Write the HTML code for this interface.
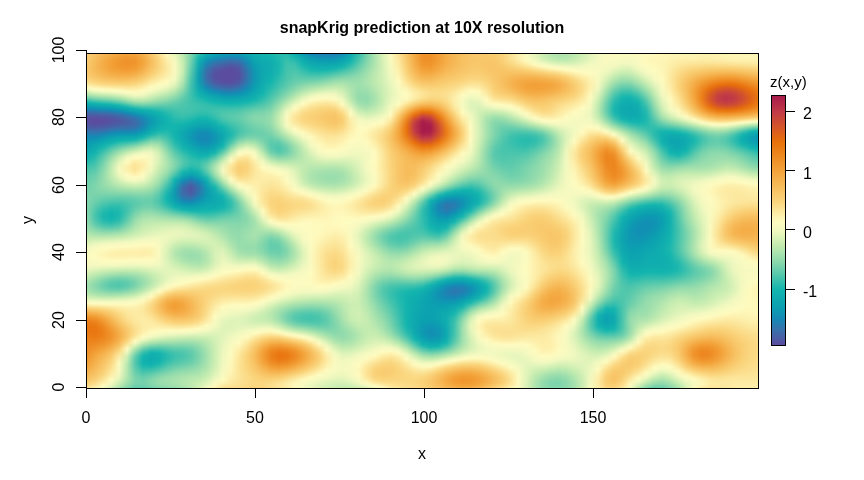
<!DOCTYPE html>
<html><head><meta charset="utf-8"><title>snapKrig prediction at 10X resolution</title>
<style>
html,body{margin:0;padding:0;background:#fff}
body{width:864px;height:480px;position:relative;overflow:hidden;font-family:"Liberation Sans",sans-serif;color:#000}
.a{position:absolute}
#heat{position:absolute;left:87px;top:54px;width:671px;height:334px;overflow:hidden}
#heat i{display:block;width:671px}
.box{position:absolute;left:86px;top:53px;width:671px;height:334px;border:1px solid #000}
.ln{position:absolute;background:#000}
.t{position:absolute;white-space:nowrap;line-height:1}
.yl{transform:rotate(-90deg);transform-origin:0 0}
#cb{position:absolute;left:771px;top:95px;width:13px;height:249px;border:1px solid #000}
</style></head><body>
<div class="t" id="title" style="left:0;width:844px;text-align:center;top:20px;font-weight:bold;font-size:16px">snapKrig prediction at 10X resolution</div>
<div id="heat">
<i style="height:1px;background:linear-gradient(90deg,#fad076,#f8c365,#f6b755,#f5ad48,#f3a63e,#f3a138,#f3a43b,#f5b14d,#f8c669,#fbdf90,#fefabe,#e7f6bc,#bbe8af,#7ed4ac,#2ebdad,#0fabaf,#0ca2b0,#0d9cb1,#0f98b2,#0d9bb1,#0da4b0,#10adaf,#12b3ae,#18b7ae,#28bbad,#29bbad,#11b0ae,#0c9eb0,#148ab5,#1d83b3,#2180b1,#2081b2,#1290b3,#0ea9af,#34bead,#77d3ac,#ade4ae,#dbf2b8,#fbfac0,#fce396,#f8c76a,#f4ab44,#f0942c,#ef922a,#f2a037,#f5af49,#f6b957,#f7c162,#f8c669,#f9c96c,#f9ca6e,#f9cd72,#fad47c,#fbe091,#fdefab,#fbfac0,#eaf6bd,#d0efb4,#bbe9af,#b0e5ae,#b2e6ae,#bfeaaf,#cfefb4,#e1f4ba,#f2f9c0,#f8fac0,#fafac0,#f8fac0,#f8fac0,#fbfac0,#fefabf,#fef9bc,#fef8ba,#fef6b7,#fdf4b4,#fdf3b2,#fdf3b2,#fdf2af,#fdf0ad,#fdf1af,#fdf3b2,#fdf4b4,#fdf4b4,#fdf4b3,#fdf4b4)"></i>
<i style="height:1px;background:linear-gradient(90deg,#f9cf75,#f8c264,#f6b653,#f4ab45,#f3a33a,#f29d35,#f2a037,#f5ae48,#f8c466,#fbdd8c,#fef7ba,#ebf7bd,#bde9af,#7cd4ac,#26bbad,#0ea8af,#0c9eb1,#0f96b2,#1191b3,#1094b3,#0ca2b0,#10acaf,#12b2ae,#13b5ae,#25baad,#2dbcad,#12b3ae,#0ca2b0,#128fb4,#1688b5,#1b85b3,#1a86b4,#1094b3,#0faaaf,#36bfad,#78d3ac,#ace4ae,#daf2b7,#fbfac0,#fce498,#f8c76b,#f4aa44,#f0932b,#ef9129,#f29f36,#f5ae49,#f6b957,#f7c061,#f8c669,#f8c86c,#f9c96d,#f9cc70,#fad37b,#fbe192,#fdf0ac,#fafac0,#e9f6bd,#cfefb3,#bae8af,#afe5ae,#b1e5ae,#beeaaf,#cfefb4,#e1f4ba,#f3f9c0,#f8fac0,#fafac0,#f8fac0,#f8fac0,#fbfbc0,#fefabd,#fef8ba,#fef7b9,#fdf5b6,#fdf3b3,#fdf3b1,#fdf2b1,#fdf1af,#fdf1ae,#fdf2af,#fdf4b3,#fdf5b5,#fdf5b5,#fdf4b5,#fdf5b5)"></i>
<i style="height:1px;background:linear-gradient(90deg,#f9cf74,#f7c162,#f5b451,#f4a942,#f2a037,#f19a32,#f29d34,#f4ab45,#f8c263,#fbdb88,#fdf5b6,#eef8be,#bfeab0,#7bd4ac,#1fb8ae,#0da5b0,#0f98b2,#1290b3,#148bb5,#138eb4,#0c9eb0,#0faaaf,#11b0ae,#12b3ae,#22b9ae,#30bdad,#13b5ae,#0da4b0,#1094b3,#148cb4,#158ab5,#148ab5,#0f97b2,#0facaf,#39c0ad,#78d3ac,#ace3ae,#d9f2b7,#fafac0,#fce599,#f8c86b,#f4ab44,#f0932b,#ef9028,#f29e36,#f5ad48,#f6b856,#f7c061,#f8c668,#f8c86b,#f8c86b,#f9cb6f,#fad37a,#fbe192,#fdf0ad,#fafac0,#e9f6bd,#cfefb4,#bbe9af,#b0e5ae,#b2e6ae,#bfeab0,#d0efb4,#e2f4ba,#f3f9c0,#f8fac0,#fafac0,#f8fac0,#f8fac0,#fbfbc0,#fef9bc,#fef7b9,#fef7b8,#fdf5b5,#fdf2b1,#fdf2b0,#fdf2b0,#fdf1ae,#fdf0ad,#fdf1af,#fdf4b3,#fdf5b5,#fdf5b5,#fdf5b5,#fdf5b6)"></i>
<i style="height:1px;background:linear-gradient(90deg,#f9ce73,#f7c061,#f5b24f,#f4a73f,#f29d35,#f1972f,#f19a31,#f4a942,#f7c061,#fbd985,#fdf3b2,#f1f9bf,#c1ebb0,#7ad3ac,#17b6ae,#0ca1b0,#1192b3,#148ab5,#1b84b3,#1688b5,#0d9ab1,#0ea9af,#11afaf,#12b2ae,#20b9ae,#32bead,#18b6ae,#0ea7af,#0f98b2,#1291b3,#138eb4,#138eb4,#0d9bb1,#10adaf,#3cc1ad,#79d3ac,#ace3ae,#d8f1b7,#fafac0,#fce59a,#f8c86c,#f4ab44,#ef932a,#ef9028,#f29e35,#f4ad48,#f6b856,#f7c061,#f8c668,#f8c86b,#f8c76a,#f9ca6e,#fad279,#fbe091,#fdf0ac,#fbfac0,#ebf7bd,#d1f0b4,#bde9af,#b2e6ae,#b4e6af,#c1ebb0,#d1efb4,#e3f4ba,#f3f9c0,#f9fac0,#fafac0,#f7fac0,#f7fac0,#fbfbc0,#fef9bc,#fef7b8,#fef6b8,#fdf4b4,#fdf2af,#fdf1ae,#fdf1ae,#fdf0ad,#fdf0ac,#fdf1ae,#fdf3b2,#fdf4b4,#fdf5b5,#fdf5b5,#fdf5b6)"></i>
<i style="height:1px;background:linear-gradient(90deg,#f9cd72,#f7bf5f,#f5b14d,#f3a53d,#f19b33,#f0952d,#f1982f,#f4a740,#f7bf5f,#fad782,#fdf1af,#f3f9c0,#c3ebb0,#78d3ac,#13b4ae,#0c9db1,#138db4,#1b85b3,#257eb0,#1f82b2,#0f96b2,#0ea8af,#10aeaf,#11b1ae,#1eb8ae,#35bfad,#1eb8ae,#0fa9af,#0d9cb1,#1095b2,#1192b3,#1193b3,#0b9fb0,#11afaf,#40c2ad,#7bd4ac,#ace3ae,#d8f1b7,#f9fac0,#fce69c,#f9c96d,#f4ab45,#ef922a,#ef8f28,#f29e35,#f4ad48,#f6b856,#f7c061,#f8c668,#f8c86b,#f8c769,#f9c96c,#fad178,#fbdf90,#fdefaa,#fcfbc0,#eef8be,#d5f0b5,#c1ebb0,#b6e7af,#b7e7af,#c3ebb0,#d3f0b5,#e4f5bb,#f4f9c0,#f9fac0,#f9fac0,#f7fac0,#f7fac0,#fbfac0,#fef8bb,#fef6b8,#fdf6b7,#fdf3b3,#fdf1ae,#fdefac,#fdefac,#fdefab,#fdeeaa,#fdf0ac,#fdf2b0,#fdf3b2,#fdf4b3,#fdf4b3,#fdf5b5)"></i>
<i style="height:1px;background:linear-gradient(90deg,#f9cc71,#f7be5e,#f5b04b,#f3a43b,#f19a31,#f0942c,#f0962e,#f3a63e,#f7be5e,#fad67f,#fdf0ac,#f5f9c0,#c5ecb0,#76d2ac,#12b2ae,#0e98b2,#1787b4,#247fb1,#2d78ae,#277db0,#1193b3,#0da6af,#10adaf,#11b0af,#1cb8ae,#37bfad,#24baad,#0fabaf,#0ba0b0,#0e99b2,#0f96b2,#0f97b2,#0ca2b0,#11b1ae,#44c3ad,#7cd4ac,#ace3ae,#d7f1b6,#f9fac0,#fce79d,#f9ca6d,#f4ab45,#ef932b,#ef9028,#f29e35,#f4ad48,#f6b856,#f7c061,#f8c669,#f8c76b,#f8c669,#f8c86b,#fad177,#fbde8e,#fdeda8,#fdfbc0,#f2f9c0,#d9f2b7,#c6ecb0,#bbe9af,#bce9af,#c7ecb1,#d6f1b6,#e6f5bb,#f4f9c0,#f9fac0,#f9fac0,#f6fac0,#f6fac0,#fbfac0,#fef8bb,#fef6b8,#fdf6b6,#fdf3b1,#fdefac,#fdeea9,#fdeea9,#fdeda8,#fdeda7,#fdeea9,#fdf0ad,#fdf2b0,#fdf2b0,#fdf2b1,#fdf3b3)"></i>
<i style="height:1px;background:linear-gradient(90deg,#f9cb70,#f7bd5d,#f5af4a,#f3a33a,#f19830,#ef922a,#f0952d,#f3a53d,#f7bd5d,#fad57e,#fdeeaa,#f6f9c0,#c6ecb0,#75d2ac,#11b0ae,#1094b3,#1f82b2,#2c79ae,#3672ab,#2f77ad,#128fb4,#0da5b0,#0facaf,#11afaf,#1bb7ae,#38c0ad,#29bbad,#10aeaf,#0ca3b0,#0c9db1,#0e9ab1,#0d9cb1,#0da4b0,#12b3ae,#48c4ac,#7ed5ac,#ace4ae,#d7f1b6,#f9fac0,#fce89e,#f9ca6e,#f4ac46,#f0932b,#ef9028,#f29e36,#f5ae48,#f6b856,#f7c061,#f8c669,#f8c76b,#f8c668,#f8c76a,#fad075,#fbdd8c,#fceba5,#fefabe,#f5f9c0,#dff3b9,#cceeb2,#c1ebb0,#c1ebb0,#cbeeb2,#d8f1b7,#e8f6bc,#f5f9c0,#f9fac0,#f8fac0,#f5f9c0,#f5f9c0,#fafac0,#fef9bc,#fef6b7,#fdf5b6,#fdf2b0,#fdeeaa,#fdeca6,#fceca6,#fceba4,#fceba3,#fceca5,#fdeea9,#fdefac,#fdf0ad,#fdf1ae,#fdf2b0)"></i>
<i style="height:1px;background:linear-gradient(90deg,#f9cb6f,#f7bc5c,#f5ae49,#f3a239,#f1982f,#ef922a,#f0952d,#f3a53d,#f7bd5c,#fad47c,#fdeda7,#f6fac0,#c7edb1,#73d1ac,#11afaf,#1290b4,#277cb0,#3374ac,#3d6ca9,#3672ab,#148cb4,#0ca4b0,#0fabaf,#10aeaf,#1ab7ae,#3ac0ad,#2ebdad,#11b0af,#0da5b0,#0ba0b0,#0c9eb0,#0ba0b0,#0ea7af,#13b5ae,#4cc6ac,#81d5ac,#ade4ae,#d6f1b6,#f8fac0,#fce9a0,#f9cb6f,#f4ac47,#f0942c,#ef9129,#f29f36,#f5ae49,#f6b856,#f7c061,#f8c669,#f8c76b,#f8c568,#f8c769,#f9cf74,#fbdb89,#fce9a1,#fef7b9,#f7fac0,#e5f5bb,#d3f0b5,#c8edb1,#c7edb1,#cfefb4,#dcf2b8,#eaf7bd,#f5f9c0,#f8fac0,#f8fac0,#f4f9c0,#f4f9c0,#fafac0,#fef9bd,#fef6b8,#fdf5b6,#fdf1af,#fdeda7,#fceba3,#fceaa2,#fce9a0,#fce89f,#fce9a1,#fceba4,#fdeda7,#fdeea9,#fdefaa,#fdf0ac)"></i>
<i style="height:1px;background:linear-gradient(90deg,#f9ca6e,#f7bc5b,#f5ad48,#f3a138,#f0972f,#ef922a,#f0952d,#f3a53d,#f7bd5c,#fad47b,#fceca5,#f7fac0,#c8edb1,#71d1ac,#10adaf,#148bb4,#2e77ad,#3a6faa,#4266a7,#3c6da9,#1589b5,#0ca3b0,#0faaaf,#10adaf,#19b7ae,#3cc1ad,#33bead,#12b1ae,#0ea7af,#0ca3b0,#0ca2b0,#0ca3b0,#0faaaf,#19b7ae,#51c7ac,#83d6ac,#ade4ae,#d6f1b6,#f8fac0,#fce9a1,#f9cb70,#f4ad48,#f0952d,#ef922a,#f2a037,#f5af49,#f6b957,#f7c161,#f8c669,#f8c86b,#f8c568,#f8c669,#f9ce73,#fbda85,#fce69c,#fdf4b3,#f9fac0,#edf7be,#dbf2b8,#d0efb4,#ceefb3,#d4f0b5,#dff3b9,#edf7be,#f5f9c0,#f8fac0,#f7fac0,#f3f9c0,#f3f9c0,#f9fac0,#fefabe,#fef7b8,#fdf5b5,#fdf1ae,#fceca5,#fce9a0,#fce79e,#fce69c,#fce69a,#fce69c,#fce89e,#fce9a1,#fceba3,#fceca6,#fdeda8)"></i>
<i style="height:1px;background:linear-gradient(90deg,#f9c96d,#f7bb5a,#f4ad47,#f3a138,#f0972f,#ef922a,#f0952d,#f3a63d,#f7bd5d,#fad47b,#fceba4,#f8fac0,#c9edb1,#6fd0ac,#0fabaf,#1787b4,#3572ab,#3f69a8,#4761a6,#4068a8,#1a86b4,#0ca2b0,#0fa9af,#10adaf,#18b6ae,#3dc1ad,#37bfad,#12b3ae,#0fa9af,#0da5b0,#0da4b0,#0da6af,#10acaf,#20b9ae,#56c8ac,#85d7ac,#aee4ae,#d5f1b6,#f7fac0,#fceaa3,#f9cc71,#f5ae49,#f0962e,#f0932b,#f3a138,#f5af4a,#f6b958,#f7c162,#f8c769,#f8c86b,#f8c568,#f8c668,#f9cd72,#fad782,#fce397,#fdf0ac,#fcfbc0,#f4f9c0,#e3f5bb,#d8f1b7,#d5f1b6,#daf2b7,#e3f5bb,#eff8bf,#f6f9c0,#f8fac0,#f6fac0,#f0f8bf,#f1f8bf,#f8fac0,#fefbbf,#fef7b9,#fdf5b5,#fdf0ad,#fceaa3,#fce79d,#fce599,#fce397,#fce295,#fce396,#fce498,#fce69b,#fce79e,#fce9a0,#fceba3)"></i>
<i style="height:1px;background:linear-gradient(90deg,#f8c96c,#f6bb5a,#f4ad47,#f3a138,#f0972f,#ef922a,#f0962e,#f3a63e,#f7be5d,#fad37b,#fceaa3,#f8fac0,#caedb2,#6dcfac,#0faaaf,#1d83b3,#3b6eaa,#4464a7,#4c5ca4,#4564a6,#1e83b2,#0ba1b0,#0ea9af,#10adaf,#18b6ae,#3ec1ad,#3ac0ad,#13b5ae,#0facaf,#0ea8af,#0ea7af,#0ea9af,#11afaf,#28bbad,#5acaac,#88d8ac,#afe5ae,#d5f1b6,#f7fac0,#fceba4,#f9cd72,#f5af4a,#f0972f,#f0942c,#f3a239,#f5b04c,#f6ba58,#f7c162,#f8c76a,#f8c86b,#f8c568,#f8c568,#f9cc70,#fad57e,#fbe091,#fceca5,#fef9bc,#f7fac0,#edf7be,#e1f4ba,#ddf3b8,#e0f4b9,#e8f6bc,#f2f9c0,#f6fac0,#f7fac0,#f5f9c0,#edf7be,#edf7be,#f7fac0,#fefbc0,#fef7ba,#fdf5b5,#fdefac,#fce9a0,#fce599,#fce295,#fbe091,#fbdf8f,#fbdf8f,#fbe091,#fbe294,#fce497,#fce69a,#fce89e)"></i>
<i style="height:1px;background:linear-gradient(90deg,#f8c86c,#f6ba59,#f4ad47,#f3a138,#f19830,#f0932b,#f0972f,#f4a740,#f7be5f,#fad47b,#fceaa2,#f9fac0,#caedb2,#6bcfac,#0ea8af,#237fb1,#3f69a8,#4860a5,#5058a3,#495fa5,#2280b1,#0b9fb0,#0ea8af,#10acaf,#18b6ae,#3fc2ad,#3ec1ad,#19b7ae,#10aeaf,#0faaaf,#0fa9af,#0facaf,#12b2ae,#30bdad,#5fcbac,#8bd9ac,#b0e5ae,#d5f0b6,#f6fac0,#fceca6,#f9cd73,#f5b04b,#f19930,#f0962e,#f3a43b,#f5b14d,#f6ba59,#f7c263,#f8c76a,#f8c86c,#f8c568,#f8c567,#f9cb6f,#fad37a,#fbdd8b,#fce79d,#fdf3b2,#fbfac0,#f5f9c0,#ebf7bd,#e6f5bb,#e6f5bc,#ecf7be,#f4f9c0,#f6fac0,#f7fac0,#f4f9c0,#e9f6bd,#eaf6bd,#f6fac0,#fdfbc0,#fef8bb,#fdf5b5,#fdefaa,#fce89e,#fce295,#fbdf8f,#fbdd8b,#fbdb88,#fbdb88,#fbdc89,#fbdd8c,#fbdf90,#fbe294,#fce498)"></i>
<i style="height:1px;background:linear-gradient(90deg,#f8c86b,#f6ba59,#f4ad47,#f3a239,#f19930,#f0952c,#f19930,#f4a942,#f7bf60,#fad47c,#fce9a1,#f9fac0,#caedb2,#69ceac,#0ea7af,#287caf,#4365a7,#4c5ba4,#5454a1,#4c5ca4,#257db0,#0c9eb0,#0ea8af,#10acaf,#18b6ae,#40c2ad,#41c2ad,#1fb8ae,#11b0ae,#10acaf,#10acaf,#11aeaf,#13b5ae,#38c0ad,#64cdac,#8ed9ac,#b1e5ae,#d5f0b5,#f6fac0,#fdeda7,#f9ce74,#f5b14d,#f19b32,#f1982f,#f3a53d,#f5b24e,#f7bb5a,#f8c264,#f8c86b,#f8c96c,#f8c668,#f8c567,#f9c96d,#fad177,#fbd984,#fce295,#fdeea9,#fef9bd,#f9fac0,#f4f9c0,#eff8be,#edf7be,#f1f8bf,#f5f9c0,#f7fac0,#f6fac0,#f1f8bf,#e6f5bb,#e6f5bc,#f5f9c0,#fcfbc0,#fef9bc,#fdf5b6,#fdeea9,#fce69b,#fbe091,#fbdc8a,#fbd985,#fad781,#fad680,#fad781,#fbd884,#fbdb88,#fbde8d,#fbe091)"></i>
<i style="height:1px;background:linear-gradient(90deg,#f8c86b,#f6ba59,#f5ad48,#f3a239,#f19a32,#f0962e,#f19b32,#f4ab44,#f7c162,#fad57d,#fce9a1,#fafac0,#caedb2,#67cdac,#0da6af,#2c79ae,#4761a6,#5058a3,#5750a0,#4f59a3,#297baf,#0c9db1,#0ea7af,#10acaf,#18b6ae,#41c2ad,#44c3ad,#24baad,#12b2ae,#11afaf,#11afaf,#12b1ae,#1db8ae,#40c2ad,#69ceac,#91daac,#b3e6af,#d4f0b5,#f5f9c0,#fdeea8,#f9cf75,#f5b24e,#f29c34,#f19a31,#f4a73f,#f5b450,#f7bc5b,#f8c365,#f8c86c,#f9c96d,#f8c669,#f8c567,#f8c86c,#f9ce74,#fad57e,#fbdd8c,#fce89e,#fdf3b2,#fdfbc0,#f8fac0,#f5f9c0,#f3f9c0,#f4f9c0,#f6fac0,#f7fac0,#f5f9c0,#eef7be,#e1f4ba,#e2f4ba,#f3f9c0,#fbfac0,#fefabe,#fdf5b6,#fdeda8,#fce599,#fbde8d,#fbd985,#fad57e,#fad37a,#fad278,#fad278,#fad37b,#fad67f,#fbd985,#fbdc8a)"></i>
<i style="height:1px;background:linear-gradient(90deg,#f8c76b,#f6bb59,#f5ae49,#f3a43b,#f19c33,#f19830,#f29d34,#f4ad47,#f8c264,#fad67f,#fce9a1,#fafac0,#caedb2,#65cdac,#0da5b0,#3076ad,#4b5da4,#5354a2,#5a4d9f,#5256a2,#2c79ae,#0d9cb1,#0ea7af,#10acaf,#19b7ae,#42c3ad,#46c4ac,#2abcad,#13b4ae,#11b1ae,#12b1ae,#13b4ae,#27bbad,#48c4ac,#6dcfac,#94dbac,#b4e6af,#d4f0b5,#f5f9c0,#fdeeaa,#fad076,#f5b450,#f29f36,#f29c34,#f4a841,#f6b552,#f7bd5d,#f8c465,#f9c96c,#f9ca6e,#f8c769,#f8c567,#f8c76a,#f9cc71,#fad178,#fbd883,#fbe294,#fdeca6,#fdf5b6,#fdfbc0,#f9fac0,#f6fac0,#f6fac0,#f7fac0,#f7fac0,#f4f9c0,#eaf6bd,#ddf3b8,#def3b9,#f0f8bf,#fafac0,#fefbbf,#fdf5b6,#fdeda7,#fce396,#fbdb89,#fad67f,#fad278,#f9cf75,#f9ce73,#f9cd72,#f9cf74,#fad178,#fad57d,#fad883)"></i>
<i style="height:1px;background:linear-gradient(90deg,#f8c76b,#f6bb5a,#f5af4a,#f3a53c,#f29e35,#f19b32,#f2a037,#f5af4a,#f8c466,#fad781,#fce9a1,#fafac0,#c9edb1,#63ccac,#0ca4b0,#3473ac,#4d5aa4,#5651a1,#5b4c9f,#5453a1,#2e77ae,#0d9bb1,#0ea7af,#10acaf,#19b7ae,#43c3ad,#49c4ac,#2fbdad,#16b6ae,#12b3ae,#13b4ae,#1cb8ae,#32bead,#50c7ac,#72d1ac,#96dcac,#b5e7af,#d4f0b5,#f4f9c0,#fdefac,#fad177,#f6b552,#f3a138,#f29f36,#f4aa44,#f6b654,#f7be5e,#f8c467,#f9ca6d,#f9ca6f,#f8c76a,#f8c567,#f8c669,#f9ca6e,#f9ce73,#fad37a,#fbdc89,#fce59a,#fdeea9,#fdf6b7,#fdfbc0,#f9fac0,#f8fac0,#f9fac0,#f7fac0,#f4f9c0,#e6f5bb,#d8f2b7,#daf2b7,#edf7be,#f9fac0,#fdfbc0,#fdf6b7,#fdeca6,#fbe294,#fbd985,#fad379,#f9ce74,#f9cb70,#f9c96d,#f8c86c,#f9ca6e,#f9cd72,#fad077,#fad37b)"></i>
<i style="height:1px;background:linear-gradient(90deg,#f8c86b,#f7bc5b,#f5b04b,#f3a63f,#f2a037,#f29d35,#f3a239,#f5b14d,#f8c668,#fbd883,#fceaa2,#fafac0,#c9edb1,#60cbac,#0ca3b0,#3771ab,#5058a3,#594ea0,#5b4c9f,#5651a1,#3076ad,#0e9ab1,#0ea7af,#10adaf,#1ab7ae,#44c3ad,#4bc5ac,#34bfad,#1eb8ae,#16b6ae,#1ab7ae,#27bbad,#3dc1ad,#58c9ac,#77d2ac,#99ddac,#b6e7af,#d4f0b5,#f4f9c0,#fdf0ad,#fad278,#f6b754,#f3a33a,#f3a138,#f4ac46,#f6b856,#f7bf60,#f8c568,#f9ca6e,#f9cb70,#f8c86b,#f8c567,#f8c568,#f8c86b,#f9ca6f,#f9cf74,#fad67f,#fbde8e,#fce79d,#fdefab,#fef7b9,#fcfbc0,#fafac0,#fafac0,#f8fac0,#f2f9c0,#e2f4ba,#d4f0b5,#d5f1b6,#e9f6bc,#f8fac0,#fdfbc0,#fef6b7,#fceca6,#fbe092,#fad780,#fad076,#f9cb6f,#f8c76a,#f8c466,#f8c365,#f8c567,#f8c86c,#f9cc71,#f9cf75)"></i>
<i style="height:1px;background:linear-gradient(90deg,#f8c86b,#f7bc5c,#f5b14d,#f4a841,#f3a239,#f2a037,#f3a53d,#f5b451,#f8c86b,#fbda85,#fceaa3,#fafac0,#c8edb1,#5ecbac,#0ca2b0,#3a6faa,#5255a2,#5b4c9f,#5b4c9f,#584fa0,#3275ac,#0e99b1,#0ea7af,#10adaf,#1cb7ae,#44c3ad,#4dc6ac,#3ac0ad,#26baad,#1fb8ae,#24baad,#33bead,#47c4ac,#5fcbac,#7cd4ac,#9bdead,#b7e7af,#d4f0b5,#f4f9c0,#fdf1af,#fad37a,#f6b856,#f3a63d,#f3a43b,#f5ae49,#f6b958,#f7c061,#f8c669,#f9cb70,#f9cc71,#f8c96c,#f8c567,#f8c466,#f8c568,#f8c76a,#f9ca6e,#fad076,#fad882,#fbe090,#fce89e,#fdf1ae,#fef9bd,#fcfbc0,#fbfac0,#f8fac0,#f0f8bf,#ddf3b8,#cfefb3,#d0efb4,#e4f5bb,#f6fac0,#fcfbc0,#fef6b8,#fceba5,#fbdf8f,#fad47c,#f9cd72,#f8c76a,#f8c364,#f7bf60,#f7be5e,#f7bf60,#f8c365,#f8c86b,#f9cb70)"></i>
<i style="height:1px;background:linear-gradient(90deg,#f8c96c,#f7bd5d,#f5b34f,#f4aa44,#f3a53d,#f3a33b,#f4a941,#f6b755,#f9ca6e,#fbdb88,#fceba4,#f9fac0,#c7ecb1,#5ccaac,#0ba1b0,#3b6eaa,#5454a1,#5b4c9f,#5b4c9f,#594ea0,#3374ac,#0e99b2,#0ea7af,#10aeaf,#1db8ae,#45c3ac,#50c6ac,#3fc2ad,#2dbdad,#28bbad,#2ebdad,#3ec1ad,#52c7ac,#67cdac,#80d5ac,#9ddead,#b9e8af,#d4f0b5,#f3f9c0,#fdf2b0,#fad47c,#f6ba59,#f4a841,#f3a63e,#f5b14c,#f7bb5a,#f7c263,#f8c76a,#f9cc71,#f9cd72,#f9c96d,#f8c568,#f8c365,#f8c365,#f8c465,#f8c669,#f9cb6f,#fad178,#fbd883,#fbe192,#fceba4,#fdf5b5,#fefabf,#fcfbc0,#f8fac0,#edf7be,#d9f2b7,#caedb2,#cbeeb2,#e0f4b9,#f5f9c0,#fbfac0,#fef7b9,#fceba4,#fbde8d,#fad279,#f9ca6e,#f8c365,#f7be5e,#f6ba59,#f6b957,#f6ba59,#f7be5e,#f8c365,#f8c76a)"></i>
<i style="height:1px;background:linear-gradient(90deg,#f9ca6d,#f7bf5f,#f6b451,#f4ad47,#f4a840,#f4a73f,#f4ac46,#f6ba59,#f9cd71,#fbdd8c,#fdeca6,#f9fac0,#c5ecb0,#5acaac,#0ba1b0,#3d6ca9,#5552a1,#5b4c9f,#5b4c9f,#5a4e9f,#3473ac,#0e98b2,#0ea7af,#10aeaf,#1fb8ae,#46c4ac,#52c7ac,#44c3ad,#35bfad,#31bead,#39c0ad,#49c5ac,#5ccaac,#6ed0ac,#84d7ac,#9fdfad,#bae8af,#d4f0b5,#f2f9c0,#fdf3b2,#fad57e,#f7bc5b,#f4ab44,#f4a942,#f5b34f,#f7bd5c,#f8c365,#f8c86c,#f9cd72,#f9ce73,#f9ca6e,#f8c668,#f8c364,#f7c162,#f7c061,#f7c263,#f8c668,#f9cc70,#fad278,#fbda86,#fce599,#fdf0ad,#fef7b9,#fdfbc0,#f8fac0,#eaf7bd,#d4f0b5,#c4ecb0,#c6ecb0,#dbf2b8,#f3f9c0,#fafac0,#fef7ba,#fceba3,#fbdd8b,#fad076,#f8c76a,#f7c060,#f6ba58,#f6b552,#f5b34f,#f6b451,#f6b957,#f7bf5f,#f8c365)"></i>
<i style="height:1px;background:linear-gradient(90deg,#f9cb6f,#f7c061,#f6b654,#f5af4a,#f4ab44,#f4aa43,#f5af4b,#f7bd5d,#f9cf75,#fbdf8f,#fdeda8,#f8fac0,#c4ecb0,#58c9ac,#0ba0b0,#3d6ba9,#5651a1,#5b4c9f,#5b4c9f,#5a4d9f,#3573ac,#0f98b2,#0ea7af,#11afaf,#20b9ae,#47c4ac,#54c8ac,#49c5ac,#3dc1ad,#3ac0ad,#43c3ad,#54c8ac,#65cdac,#75d2ac,#88d8ac,#a1e0ad,#bbe9af,#d3f0b5,#f1f8bf,#fdf4b4,#fad780,#f7be5e,#f5ad48,#f4ac46,#f6b552,#f7be5f,#f8c466,#f9ca6e,#f9ce74,#f9cf75,#f9cb70,#f8c669,#f8c263,#f7bf5f,#f7bd5d,#f7bd5d,#f7c162,#f8c669,#f9cc70,#fad37a,#fbdf8f,#fceba5,#fdf4b4,#fefabe,#f8fac0,#e8f6bc,#cfefb4,#beeaaf,#c0eab0,#d6f1b6,#f0f8bf,#f9fac0,#fef8bb,#fceaa3,#fbdb89,#f9ce74,#f8c466,#f7bc5b,#f6b552,#f5b04b,#f4ad48,#f5af4a,#f5b450,#f6ba59,#f7bf5f)"></i>
<i style="height:1px;background:linear-gradient(90deg,#f9cc71,#f7c263,#f6b957,#f5b24e,#f5ae49,#f5ae48,#f5b34f,#f7c161,#fad278,#fbe193,#fdefab,#f8fac0,#c2ebb0,#56c8ac,#0ba0b0,#3e6ba9,#5751a0,#5b4c9f,#5b4c9f,#5a4d9f,#3573ab,#0f98b2,#0ea8af,#11afaf,#22b9ae,#48c4ac,#56c8ac,#4ec6ac,#45c3ac,#44c3ad,#4ec6ac,#5fcbac,#6fd0ac,#7bd4ac,#8cd9ac,#a3e0ad,#bce9af,#d3f0b5,#f0f8bf,#fdf5b6,#fad883,#f7c060,#f5b04c,#f5af4a,#f6b855,#f7c061,#f8c668,#f9cb6f,#fad076,#fad177,#f9cc71,#f8c669,#f7c162,#f7bd5d,#f6ba59,#f6b958,#f7bc5b,#f7c162,#f8c669,#f9ce73,#fbd985,#fce79d,#fdf1ae,#fef8bb,#f8fac0,#e5f5bb,#caedb2,#b8e8af,#bae8af,#d1efb4,#ebf7bd,#f8fac0,#fef9bc,#fceaa2,#fbda87,#f9cc71,#f7c162,#f6b856,#f5b04c,#f4aa44,#f4a740,#f4a942,#f5ae49,#f6b552,#f6ba59)"></i>
<i style="height:1px;background:linear-gradient(90deg,#f9ce73,#f8c466,#f7bb5a,#f6b552,#f5b24e,#f5b24d,#f6b754,#f8c466,#fad57d,#fce497,#fdf0ae,#f7fac0,#c0eab0,#54c8ac,#0b9fb0,#3e6ba9,#5751a0,#5b4c9f,#5b4c9f,#594ea0,#3573ac,#0f98b2,#0ea8af,#11b0ae,#25baad,#49c5ac,#58c9ac,#54c8ac,#4cc6ac,#4dc6ac,#58c9ac,#69ceac,#78d3ac,#82d6ac,#90daac,#a5e1ad,#bce9af,#d3f0b5,#eff8bf,#fef6b7,#fbda85,#f8c263,#f5b34f,#f5b24e,#f6ba59,#f8c264,#f8c76a,#f9cc71,#fad178,#fad279,#f9cd73,#f8c76a,#f7c162,#f7bb5a,#f6b755,#f6b653,#f6b755,#f7bc5b,#f7c162,#f8c86c,#fad47b,#fce396,#fdeea9,#fef7b9,#f8fac0,#e1f4ba,#c5ecb0,#b2e6ae,#b4e6af,#cceeb2,#e7f6bc,#f7fac0,#fef9bd,#fceaa2,#fbd985,#f9cb6f,#f7be5e,#f5b451,#f4ac45,#f3a53d,#f3a138,#f3a33a,#f4a942,#f5b04c,#f6b653)"></i>
<i style="height:1px;background:linear-gradient(90deg,#f9cf75,#f8c669,#f7be5e,#f6b857,#f6b553,#f6b553,#f6bb5a,#f8c76b,#fbd883,#fce69c,#fdf2b1,#f6fac0,#bee9af,#52c7ac,#0b9fb0,#3d6ca9,#5651a1,#5b4c9f,#5b4c9f,#584fa0,#3473ac,#0f98b2,#0ea8af,#11b1ae,#27bbad,#4bc5ac,#5acaac,#59c9ac,#55c8ac,#57c9ac,#62ccac,#74d1ac,#81d6ac,#88d8ac,#93dbac,#a6e1ae,#bde9af,#d3f0b5,#eef8be,#fef7b9,#fbdb88,#f8c466,#f6b653,#f6b552,#f7bc5c,#f8c466,#f9c96d,#f9ce73,#fad37a,#fad37b,#f9cf74,#f8c76b,#f7c061,#f6ba58,#f6b451,#f5b24e,#f5b350,#f6b755,#f7bc5b,#f8c365,#f9cf75,#fbdf8f,#fceba4,#fdf5b6,#f8fac0,#def3b9,#bfeab0,#ace3ae,#aee4ae,#c6ecb0,#e2f4ba,#f6f9c0,#fefabe,#fceaa2,#fbd883,#f9c96d,#f7bc5b,#f5b04c,#f4a73f,#f29f36,#f19b32,#f29d34,#f3a33b,#f4ab45,#f5b14d)"></i>
<i style="height:1px;background:linear-gradient(90deg,#fad278,#f8c96c,#f7c162,#f7bc5b,#f6b958,#f6ba58,#f7bf5f,#f9cb6f,#fbdc89,#fce9a0,#fdf4b4,#f5f9c0,#bbe9af,#50c6ac,#0b9fb0,#3c6ca9,#5552a1,#5b4c9f,#5b4c9f,#5750a0,#3374ac,#0e98b2,#0ea9af,#12b1ae,#29bbad,#4cc5ac,#5dcaac,#5ecbac,#5ccaac,#60cbac,#6ccfac,#7ed5ac,#8ad8ac,#8ed9ac,#96dcac,#a7e2ae,#bde9af,#d2f0b5,#edf7be,#fef8bb,#fbdd8b,#f8c669,#f6b957,#f6b856,#f7bf5f,#f8c669,#f9cb6f,#f9d075,#fad57d,#fad57e,#fad076,#f8c86b,#f7c060,#f6b856,#f5b24e,#f5af49,#f5af4a,#f5b34f,#f6b755,#f7bf5f,#f9cb70,#fbdb88,#fce89f,#fdf4b4,#f8fac0,#dbf2b8,#bae8af,#a5e1ad,#a8e2ae,#c1eab0,#def3b9,#f4f9c0,#fefbc0,#fceaa2,#fad782,#f8c76a,#f6b957,#f4ac46,#f3a239,#f19931,#f0952c,#f0962e,#f29e35,#f4a63f,#f4ad47)"></i>
<i style="height:1px;background:linear-gradient(90deg,#fad47c,#f9cc70,#f8c567,#f7c060,#f7bd5d,#f7be5e,#f8c364,#f9cf74,#fbdf8f,#fceca5,#fef7b8,#f4f9c0,#b8e8af,#4ec6ac,#0b9fb0,#3b6eaa,#5454a1,#5b4c9f,#5b4c9f,#5552a1,#3275ac,#0e98b2,#0ea9af,#12b2ae,#2cbcad,#4ec6ac,#60cbac,#63ccac,#64cdac,#69ceac,#76d2ac,#88d8ac,#93dbac,#93dbac,#98ddac,#a8e2ae,#beeaaf,#d2f0b5,#ecf7be,#fef9bd,#fbdf8e,#f9c96c,#f7bc5b,#f6bb5a,#f7c162,#f8c86b,#f9cc71,#fad178,#fad781,#fad782,#fad177,#f8c96c,#f7c060,#f6b755,#f5b04b,#f4ac46,#f4ac45,#f5af49,#f5b34f,#f6bb5a,#f8c86b,#fad782,#fce69b,#fdf3b2,#f7fac0,#d7f1b6,#b4e6af,#9fdfad,#a1e0ad,#bae8af,#d9f2b7,#f3f9c0,#fefbc0,#fceaa2,#fad780,#f8c668,#f6b654,#f4a941,#f29d34,#f0932b,#ee8e26,#ef9028,#f1982f,#f3a239,#f4a941)"></i>
<i style="height:1px;background:linear-gradient(90deg,#fad882,#f9cf74,#f8c86b,#f8c466,#f7c263,#f8c263,#f8c76a,#fad279,#fce395,#fdefaa,#fef9bc,#f1f8bf,#b5e7af,#4cc5ac,#0ba0b0,#3970aa,#5256a2,#5b4c9f,#5b4c9f,#5354a2,#3076ad,#0e99b2,#0faaaf,#12b3ae,#2fbdad,#50c6ac,#62ccac,#69ceac,#6ccfac,#73d1ac,#80d5ac,#92dbac,#99ddad,#97dcac,#9addad,#a9e2ae,#beeaaf,#d2f0b4,#ebf7bd,#fefabf,#fbe092,#f9cb70,#f7bf60,#f7be5e,#f8c466,#f9ca6e,#f9ce73,#fad37a,#fbd985,#fbda85,#fad279,#f9c96d,#f7bf60,#f6b653,#f5ae49,#f4a942,#f4a841,#f4ab45,#f5af4a,#f6b755,#f8c466,#fad47c,#fce497,#fdf2b0,#f7fac0,#d4f0b5,#aee4ae,#98ddac,#9bdead,#b4e6af,#d4f0b5,#f0f8bf,#fdfbc0,#fceaa2,#fad67f,#f8c567,#f5b451,#f3a53c,#f0972f,#ee8d25,#ed8820,#ee8a22,#ef922a,#f29c34,#f3a43c)"></i>
<i style="height:1px;background:linear-gradient(90deg,#fbdc89,#fad279,#f9cc71,#f8c86c,#f8c669,#f8c769,#f9cb6f,#fad680,#fce69c,#fdf2b0,#fefbc0,#edf7be,#b2e6ae,#4ac5ac,#0ba1b0,#3672ab,#4f58a3,#584fa0,#5b4c9f,#5157a2,#2e78ae,#0e9ab1,#0faaaf,#13b4ae,#31bead,#52c7ac,#65cdac,#6fd0ac,#75d2ac,#7cd4ac,#8ad8ac,#9addad,#a0dfad,#9bdead,#9bdead,#a9e2ae,#bee9af,#d1efb4,#eaf6bd,#fefbc0,#fce295,#f9ce73,#f8c264,#f7c162,#f8c669,#f9cc70,#fad076,#fad57e,#fbdc89,#fbdc89,#fad47c,#f9ca6e,#f7bf60,#f6b553,#f4ad47,#f4a73f,#f3a63e,#f4a841,#f4ac46,#f5b451,#f7c163,#fad278,#fbe294,#fdf1ae,#f7fac0,#d0efb4,#a8e2ae,#92dbac,#94dbac,#aee4ae,#cfefb3,#edf7be,#fcfbc0,#fceaa2,#fad67f,#f8c365,#f5b24e,#f3a138,#ef922a,#ed8720,#ec811a,#ec831c,#ee8c24,#f0972f,#f2a037)"></i>
<i style="height:1px;background:linear-gradient(90deg,#fbe091,#fad780,#fad076,#f9cd72,#f9cb6f,#f9cb6f,#f9cf75,#fbda87,#fceaa2,#fdf5b5,#fcfbc0,#e9f6bd,#afe4ae,#49c4ac,#0ba1b0,#3275ac,#4c5ca4,#5552a1,#594ea0,#4e5aa3,#2b7aae,#0d9bb1,#0fabaf,#13b5ae,#34bfad,#54c8ac,#69ceac,#75d2ac,#7dd4ac,#86d7ac,#94dbac,#a2e0ad,#a6e1ae,#9fdfad,#9cdead,#a9e2ae,#bde9af,#d1efb4,#e9f6bd,#fdfbc0,#fce499,#fad076,#f8c668,#f8c466,#f8c86c,#f9cd73,#fad278,#fad882,#fbde8e,#fbde8e,#fad67e,#f9ca6f,#f7c060,#f6b552,#f4ab45,#f3a53d,#f3a33b,#f3a53d,#f4aa43,#f5b14d,#f7bf5f,#fad075,#fbe091,#fdf0ad,#f6fac0,#cceeb3,#a2e0ad,#89d8ac,#8cd9ac,#a7e2ae,#caedb2,#eaf6bd,#fcfbc0,#fceaa3,#fad57e,#f8c264,#f5af4b,#f29d35,#ee8d25,#ec811a,#ea7b14,#eb7d16,#ed861f,#ef922a,#f19c33)"></i>
<i style="height:1px;background:linear-gradient(90deg,#fce599,#fbdc89,#fad57e,#fad178,#fad076,#f9d075,#fad37a,#fbdf8e,#fdeea9,#fef8bb,#fafac0,#e5f5bb,#abe3ae,#47c4ac,#0ca2b0,#2e78ae,#495fa5,#5255a2,#5552a1,#4a5ea5,#287caf,#0d9cb1,#0facaf,#15b6ae,#38c0ad,#56c8ac,#6dcfac,#7cd4ac,#86d7ac,#90daac,#9ddead,#a9e3ae,#ace3ae,#a2e0ad,#9ddead,#a9e2ae,#bde9af,#d0efb4,#e8f6bc,#fcfbc0,#fce79c,#fad37a,#f8c96c,#f8c76a,#f9cb6f,#f9cf75,#fad47b,#fbda87,#fbe193,#fbe192,#fad781,#f9cb70,#f7c061,#f6b552,#f4ab44,#f3a43b,#f3a239,#f3a43b,#f4a840,#f5af4a,#f7bd5d,#f9ce73,#fbde8e,#fdf0ac,#f5f9c0,#c8edb1,#9cdead,#81d6ac,#84d6ac,#a0e0ad,#c5ecb0,#e6f5bc,#fbfac0,#fceba4,#fad57e,#f7c163,#f5ad48,#f19a31,#ed8821,#ea7b14,#e9740e,#e97710,#ec811a,#ee8d26,#f0972f)"></i>
<i style="height:1px;background:linear-gradient(90deg,#fceaa2,#fbe193,#fbdb88,#fad781,#fad57e,#fad47c,#fad882,#fce395,#fdf1af,#fefbc0,#f8fac0,#e0f4b9,#a7e2ae,#46c4ac,#0ca3b0,#297baf,#4564a6,#4e5aa3,#5157a2,#4762a6,#247eb0,#0c9db1,#10acaf,#19b7ae,#3bc0ad,#59c9ac,#71d0ac,#82d6ac,#8fdaac,#99ddac,#a5e1ad,#b1e5ae,#b1e5ae,#a4e1ad,#9ddead,#a8e2ae,#bce9af,#d0efb4,#e7f6bc,#fbfbc0,#fce9a0,#fad680,#f9cc71,#f9ca6e,#f9cd72,#fad177,#fad67f,#fbdd8c,#fce498,#fce497,#fbd984,#f9cc71,#f7c061,#f6b552,#f4ab44,#f3a33a,#f2a038,#f3a239,#f3a63e,#f5ae49,#f7bc5b,#f9cd71,#fbdd8c,#fdefac,#f5f9c0,#c4ecb0,#96dcac,#79d3ac,#7cd4ac,#9addad,#bfeaaf,#e3f4ba,#fafac0,#fceba4,#fad57e,#f7c162,#f4ac46,#f0962e,#ec831c,#e9750f,#e76e0c,#e8710b,#ea7b15,#ed8921,#f0932b)"></i>
<i style="height:1px;background:linear-gradient(90deg,#fdf0ac,#fce79d,#fbe192,#fbdd8c,#fbdb88,#fbda86,#fbdc8a,#fce79c,#fdf5b5,#fbfbc0,#f5f9c0,#dbf2b8,#a3e0ad,#45c3ac,#0da4b0,#237fb1,#4069a8,#4a5ea5,#4d5ba4,#4266a7,#2081b2,#0c9eb0,#10adaf,#1cb8ae,#3ec1ad,#5ccaac,#75d2ac,#89d8ac,#98ddac,#a1e0ad,#ade4ae,#b8e8af,#b6e7af,#a7e2ae,#9ddead,#a7e2ae,#bae8af,#cfefb3,#e7f5bc,#fbfac0,#fceba5,#fbda86,#f9cf75,#f9cd71,#f9cf75,#fad37a,#fbd883,#fbe091,#fce79e,#fce69c,#fbdb88,#f9cd72,#f7c162,#f6b653,#f4ab45,#f3a33a,#f2a037,#f3a239,#f3a63e,#f5ad48,#f6bb5a,#f9cc70,#fbdc8b,#fdefac,#f4f9c0,#c0eab0,#8fdaac,#71d1ac,#73d1ac,#93dbac,#b9e8af,#dff3b9,#fafac0,#fceca5,#fad57e,#f7c061,#f4aa43,#f0932b,#eb7e17,#e76f0b,#e26814,#e46b10,#e97610,#ec841d,#ef9028)"></i>
<i style="height:1px;background:linear-gradient(90deg,#fdf6b7,#fdeda8,#fce79d,#fce497,#fbe193,#fbdf8f,#fbe192,#fceba3,#fef9bc,#f9fac0,#f3f9c0,#d5f1b6,#9fdfad,#44c3ad,#0da5af,#1d84b3,#3b6eaa,#4563a6,#4861a5,#3e6ba9,#1c84b3,#0ba0b0,#10aeaf,#20b9ae,#41c2ad,#5fcbac,#7ad3ac,#91daac,#9fdfad,#aae3ae,#b5e7af,#bfeab0,#bbe9af,#a9e2ae,#9ddead,#a5e1ad,#b9e8af,#ceefb3,#e6f5bb,#fafac0,#fdeea9,#fbdd8b,#fad279,#f9cf75,#fad177,#fad57d,#fbda87,#fce396,#fceba4,#fce9a1,#fbdd8b,#f9cd73,#f8c263,#f6b755,#f4ac46,#f3a33a,#f2a037,#f3a239,#f3a63e,#f5ad48,#f6bb5a,#f9cb6f,#fbdc8a,#fdf0ac,#f3f9c0,#bce9af,#88d8ac,#69ceac,#6bcfac,#8ad8ac,#b3e6af,#dbf2b8,#f9fac0,#fdeca7,#fad67f,#f7c060,#f4a942,#ef9028,#ea7913,#e36912,#dd611b,#e06517,#e8710b,#eb8019,#ee8c24)"></i>
<i style="height:1px;background:linear-gradient(90deg,#fdfbc0,#fdf4b3,#fdeea9,#fceaa3,#fce89e,#fce599,#fce69a,#fdefaa,#fdfbc0,#f7fac0,#edf7be,#d0efb4,#9adead,#43c3ad,#0ea7af,#1688b5,#3473ac,#4069a8,#4266a7,#3970aa,#1787b4,#0ba1b0,#11afaf,#23baae,#45c3ac,#63ccac,#7fd5ac,#98ddac,#a7e2ae,#b3e6af,#beeaaf,#c6ecb0,#c0eab0,#aae3ae,#9cdead,#a3e1ad,#b7e7af,#cdeeb3,#e5f5bb,#f9fac0,#fdf0ad,#fbe091,#fad67e,#fad278,#fad37a,#fad781,#fbdd8b,#fce69b,#fdeeaa,#fdeca7,#fbde8e,#f9ce74,#f8c365,#f6b856,#f4ad47,#f3a43b,#f2a138,#f3a239,#f4a63f,#f5ae49,#f6bb5a,#f9cb6f,#fbdc89,#fdf0ad,#f1f8bf,#b7e7af,#81d5ac,#61ccac,#62ccac,#82d6ac,#ade4ae,#d8f1b7,#f8fac0,#fdeda8,#fad680,#f7c060,#f4a740,#ee8d25,#e9750f,#de6319,#d95b22,#db5f1e,#e56c0f,#ea7b15,#ed8821)"></i>
<i style="height:1px;background:linear-gradient(90deg,#f8fac0,#fefbbf,#fdf5b5,#fdf1af,#fdeeaa,#fceaa3,#fceaa2,#fdf2b1,#fbfac0,#f4f9c0,#e6f5bc,#caedb2,#96dcac,#42c2ad,#0ea8af,#138db4,#2c79ae,#3a6faa,#3d6ca9,#3275ad,#148bb5,#0ca2b0,#11afaf,#27bbad,#49c4ac,#67cdac,#85d7ac,#9edfad,#b0e5ae,#bbe9af,#c6ecb0,#cceeb3,#c4ecb0,#ace3ae,#9bdead,#a1e0ad,#b5e7af,#cceeb3,#e5f5bb,#f8fac0,#fdf2b1,#fce397,#fbd984,#fad47c,#fad57d,#fbd984,#fbdf8f,#fce9a0,#fdf2b0,#fdf0ac,#fbe091,#f9cf75,#f8c466,#f6ba59,#f5ae49,#f3a53d,#f3a239,#f3a33a,#f4a840,#f5af4a,#f7bc5b,#f9cb6f,#fbdc89,#fdf1ae,#eff8be,#b3e6af,#7ad3ac,#59c9ac,#5ac9ac,#79d3ac,#a7e2ae,#d4f0b5,#f7fac0,#fdeea9,#fad781,#f7c060,#f4a63f,#ee8a23,#e8710b,#da5d1f,#d45529,#d75924,#e16715,#ea7711,#ed851e)"></i>
<i style="height:1px;background:linear-gradient(90deg,#f4f9c0,#f9fac0,#fdfbc0,#fef9bc,#fdf5b6,#fdf0ad,#fdefab,#fef6b8,#f8fac0,#eff8bf,#e0f4b9,#c3ebb0,#91daac,#41c2ad,#0faaaf,#1192b3,#247fb1,#3275ac,#3672ab,#2a7aaf,#138eb4,#0ca3b0,#11b0ae,#2abcad,#4cc6ac,#6bcfac,#8ad8ac,#a5e1ad,#b8e8af,#c4ecb0,#ceeeb3,#d2f0b5,#c8edb1,#ade4ae,#9addad,#9fdfad,#b4e6af,#cbeeb2,#e4f5bb,#f8fac0,#fdf5b5,#fce69c,#fbdc89,#fad781,#fad781,#fbda87,#fbe193,#fceca5,#fdf5b6,#fdf3b2,#fce295,#fad076,#f8c668,#f7bc5b,#f5b04c,#f4a73f,#f3a33a,#f3a53c,#f4a942,#f5b14c,#f7bd5c,#f9cb70,#fbdc8a,#fdf2af,#ecf7be,#aee4ae,#73d1ac,#51c7ac,#51c7ac,#71d0ac,#a1e0ad,#d0efb4,#f7fac0,#fdefab,#fad882,#f7c061,#f3a63e,#ed8820,#e56c0e,#d65825,#d0502f,#d3542a,#de621a,#e9740e,#ec821b)"></i>
<i style="height:1px;background:linear-gradient(90deg,#e8f6bc,#f5f9c0,#f8fac0,#fbfac0,#fdfbc0,#fef6b8,#fdf4b3,#fefabf,#f6fac0,#e9f6bc,#d9f2b7,#bce9af,#8bd9ac,#41c2ad,#0facaf,#0f97b2,#1b85b3,#297baf,#2d78ae,#2280b1,#1192b3,#0da5b0,#12b1ae,#2ebdad,#50c7ac,#6fd0ac,#91daac,#ace3ae,#c0eab0,#cceeb3,#d5f1b6,#d9f2b7,#cceeb2,#aee4ae,#99ddac,#9ddead,#b2e5ae,#cbeeb2,#e4f5bb,#f7fac0,#fef7b8,#fce9a0,#fbde8e,#fbd984,#fbd883,#fbdc89,#fce396,#fdefaa,#fef9bc,#fef6b7,#fce498,#fad178,#f8c76a,#f7be5e,#f5b24f,#f4a941,#f3a53d,#f4a73f,#f4ab45,#f5b34f,#f7be5e,#f9cc71,#fbdd8b,#fdf2b1,#e9f6bd,#aae3ae,#6ccfac,#49c4ac,#49c4ac,#68ceac,#9bdead,#cdeeb3,#f6fac0,#fdf0ac,#fbd883,#f7c061,#f3a53d,#ed861e,#e26813,#d3532b,#cc4b35,#d04f30,#da5e1f,#e8700a,#eb8019)"></i>
<i style="height:1px;background:linear-gradient(90deg,#dbf2b8,#eaf7bd,#f3f9c0,#f6fac0,#f9fac0,#fdfbc0,#fef9bc,#fcfbc0,#f3f9c0,#e2f4ba,#d2f0b4,#b5e7af,#85d7ac,#40c2ad,#10adaf,#0d9cb1,#148bb5,#2181b1,#257eb0,#1a85b3,#1095b2,#0da6af,#12b2ae,#31bead,#54c8ac,#74d2ac,#96dcac,#b3e6af,#c8edb1,#d5f0b5,#ddf3b8,#dff3b9,#cfefb4,#afe5ae,#97dcac,#9bdead,#b0e5ae,#caedb2,#e3f5bb,#f7fac0,#fef8bb,#fceba4,#fbe192,#fbda87,#fbda85,#fbdd8c,#fce59a,#fdf2b0,#fdfbc0,#fef9bd,#fce69c,#fad379,#f9c96d,#f7c161,#f6b552,#f4ab44,#f4a740,#f4a942,#f5ae48,#f6b552,#f7c060,#f9cd72,#fbdd8c,#fdf4b3,#e6f5bc,#a5e1ad,#65cdac,#41c2ad,#40c2ad,#60cbac,#94dbac,#c9edb1,#f5f9c0,#fdf1ae,#fbd985,#f7c162,#f3a53c,#ec841d,#df6517,#cf4f30,#c9463a,#cd4b35,#d85a23,#e66d0d,#eb7d16)"></i>
<i style="height:1px;background:linear-gradient(90deg,#ceefb3,#ddf3b8,#e6f5bc,#edf7be,#f4f9c0,#f9fac0,#fcfbc0,#f9fac0,#edf7be,#dbf2b8,#cbeeb2,#aee4ae,#80d5ac,#40c2ad,#11afaf,#0ba0b0,#1290b3,#1887b4,#1c84b3,#148bb5,#0e99b1,#0ea8af,#12b3ae,#35bfad,#58c9ac,#79d3ac,#9cdead,#bae8af,#d0efb4,#ddf3b8,#e4f5bb,#e5f5bb,#d3f0b5,#b0e5ae,#96dcac,#99ddac,#aee4ae,#c9edb1,#e3f4ba,#f6fac0,#fefabe,#fdeda7,#fce294,#fbdc89,#fbda87,#fbde8e,#fce79d,#fdf4b5,#fbfac0,#fdfbc0,#fce8a0,#fad47c,#f9cb6f,#f8c365,#f6b856,#f5ad48,#f4aa43,#f4ac45,#f5b04c,#f6b856,#f7c263,#f9ce74,#fbde8e,#fdf5b5,#e3f5bb,#a1e0ad,#5ecbac,#39c0ad,#38c0ad,#57c9ac,#8dd9ac,#c5ecb0,#f4f9c0,#fdf2b0,#fbda87,#f7c162,#f3a43c,#ec821b,#dd611b,#cc4a35,#c6423f,#ca4739,#d55628,#e46a11,#ea7b15)"></i>
<i style="height:1px;background:linear-gradient(90deg,#c0eab0,#cfefb4,#d9f2b7,#e0f4b9,#e9f6bd,#f5f9c0,#f9fac0,#f6fac0,#e6f5bc,#d4f0b5,#c3ebb0,#a7e2ae,#7ad3ac,#3fc2ad,#11b1ae,#0ca3b0,#0f96b2,#138db4,#148ab5,#1290b4,#0c9db1,#0fa9af,#13b4ae,#39c0ad,#5dcaac,#7ed5ac,#a2e0ad,#c2ebb0,#d8f1b7,#e5f5bb,#ecf7be,#ebf7bd,#d7f1b6,#b2e5ae,#95dcac,#97dcac,#ace4ae,#c8edb1,#e3f4ba,#f6fac0,#fefbc0,#fdeeaa,#fce396,#fbdc8a,#fbdb88,#fbdf8f,#fce9a0,#fef7b9,#f9fac0,#fbfac0,#fceba4,#fad67f,#f9cd72,#f8c669,#f6bb5a,#f5b04c,#f4ac46,#f5ae49,#f5b350,#f6bb59,#f8c466,#fad075,#fbe090,#fef6b7,#e0f4ba,#9ddead,#58c9ac,#31bead,#2fbdad,#4fc6ac,#86d7ac,#c1ebb0,#f3f9c0,#fdf3b2,#fbdc89,#f8c263,#f3a43c,#ec811a,#db5e1e,#c94739,#c33e43,#c7443d,#d3532b,#e26814,#ea7913)"></i>
<i style="height:1px;background:linear-gradient(90deg,#b0e5ae,#c1ebb0,#cbeeb2,#d3f0b5,#ddf3b8,#edf7be,#f5f9c0,#f3f9c0,#dff3b9,#cdeeb3,#bbe9af,#a0e0ad,#75d2ac,#3fc2ad,#12b3ae,#0da6af,#0d9cb1,#1193b3,#1290b3,#1095b2,#0ba1b0,#0fabaf,#15b6ae,#3dc1ad,#61ccac,#84d6ac,#a8e2ae,#c9edb1,#e0f4b9,#edf7be,#f3f9c0,#f1f8bf,#dbf2b8,#b3e6af,#94dbac,#95dcac,#abe3ae,#c8edb1,#e3f4ba,#f6f9c0,#fefbc0,#fdefab,#fce497,#fbdc8a,#fbdb88,#fbe090,#fceaa3,#fefabe,#f7fac0,#f9fac0,#fdeda8,#fbd883,#f9cf75,#f9c96d,#f7be5e,#f5b350,#f5af4a,#f5b14d,#f6b654,#f7be5d,#f8c669,#fad178,#fbe192,#fef8ba,#ddf3b8,#98ddac,#52c7ac,#2abcad,#27bbad,#46c4ac,#7fd5ac,#bde9af,#f1f8bf,#fdf4b4,#fbdd8b,#f8c365,#f3a53c,#eb8019,#d95c21,#c7443d,#c13b47,#c54140,#d1512e,#e06616,#ea7811)"></i>
<i style="height:1px;background:linear-gradient(90deg,#a1e0ad,#b1e5ae,#bce9af,#c5ecb0,#d0efb4,#e1f4ba,#eff8bf,#eaf7bd,#d8f1b7,#c5ecb0,#b3e6af,#99ddad,#6fd0ac,#3fc2ad,#13b4ae,#0fa9af,#0ba1b0,#0e98b2,#0f96b2,#0d9ab1,#0ca3b0,#10adaf,#1ab7ae,#41c2ad,#65cdac,#8ad8ac,#aee4ae,#d0efb4,#e8f6bc,#f4f9c0,#f6fac0,#f5f9c0,#dff3b9,#b5e6af,#94dbac,#94dbac,#a9e3ae,#c8edb1,#e3f5bb,#f6f9c0,#fdfbc0,#fdefab,#fce396,#fbdc89,#fbda87,#fbe091,#fceca5,#fdfbc0,#f5f9c0,#f7fac0,#fdf0ac,#fbda87,#fad279,#f9cc71,#f7c162,#f6b654,#f5b24e,#f6b451,#f6b958,#f7c162,#f9c96d,#fad37a,#fce295,#fef9bd,#daf2b7,#94dbac,#4bc5ac,#23baae,#1fb9ae,#3ec1ad,#78d3ac,#b9e8af,#eff8bf,#fdf6b6,#fbde8e,#f8c466,#f3a53d,#eb7f18,#d85a23,#c54140,#bf3948,#c33e43,#cf4f30,#df6418,#e97710)"></i>
<i style="height:1px;background:linear-gradient(90deg,#90daac,#a1e0ad,#ace4ae,#b5e7af,#c2ebb0,#d6f1b6,#e5f5bb,#e2f4ba,#d0efb4,#bde9af,#abe3ae,#92dbac,#6acfac,#3fc2ad,#16b6ae,#10acaf,#0da4b0,#0c9eb0,#0d9cb1,#0ba0b0,#0da6af,#11aeaf,#1fb8ae,#45c3ac,#6aceac,#91daac,#b5e6af,#d7f1b6,#eff8bf,#f7fac0,#f9fac0,#f7fac0,#e3f4ba,#b6e7af,#94dbac,#92dbac,#a8e2ae,#c7edb1,#e4f5bb,#f6fac0,#fefbc0,#fdeeaa,#fce294,#fbda87,#fbda86,#fbe091,#fdeda7,#fcfbc0,#f2f9c0,#f5f9c0,#fdf2b1,#fbdd8c,#fad57e,#fad076,#f8c567,#f6ba58,#f6b553,#f6b755,#f7bd5c,#f8c466,#f9cc70,#fad57e,#fce498,#fefbbf,#d7f1b6,#90daac,#45c3ac,#1cb8ae,#18b6ae,#36bfad,#70d0ac,#b5e6af,#edf7be,#fef7b9,#fbe090,#f8c567,#f3a63d,#eb7f18,#d75925,#c43f42,#bd3748,#c23d45,#ce4d32,#de6319,#e97610)"></i>
<i style="height:1px;background:linear-gradient(90deg,#7cd4ac,#91daac,#9cdead,#a5e1ad,#b3e6af,#c9edb2,#dbf2b7,#d9f2b7,#c8edb1,#b4e6af,#a3e0ad,#8ad8ac,#66cdac,#3fc2ad,#1cb8ae,#11afaf,#0ea7af,#0ca2b0,#0ba1b0,#0ca3b0,#0ea9af,#11b0ae,#24baad,#49c5ac,#6fd0ac,#96dcac,#bce9af,#def3b9,#f5f9c0,#fafac0,#fcfbc0,#f9fac0,#e7f6bc,#b9e8af,#94dbac,#91daac,#a8e2ae,#c7edb1,#e4f5bb,#f6fac0,#fefbc0,#fdeda8,#fbe091,#fbd883,#fbd883,#fbe090,#fdeea9,#fbfac0,#eef8be,#f3f9c0,#fdf5b5,#fbe091,#fbd984,#fad37b,#f8c86c,#f7bd5d,#f6b957,#f6ba59,#f7c060,#f8c76a,#f9ce74,#fad782,#fce69b,#fdfbc0,#d5f0b5,#8bd9ac,#3fc2ad,#16b6ae,#13b4ae,#2ebdad,#6aceac,#b1e5ae,#eaf7bd,#fef8bb,#fbe193,#f8c669,#f3a63f,#eb7f18,#d65826,#c33e43,#bc3648,#c13c46,#ce4c33,#de621a,#e9760f)"></i>
<i style="height:1px;background:linear-gradient(90deg,#68ceac,#7cd4ac,#8ad8ac,#95dcac,#a4e1ad,#bce9af,#cfefb4,#cfefb3,#beeaaf,#ace3ae,#9bdead,#82d6ac,#61ccac,#40c2ad,#22b9ae,#12b2ae,#0fabaf,#0da6af,#0da4b0,#0da6af,#0fabaf,#12b2ae,#29bbad,#4dc6ac,#74d1ac,#9cdead,#c3ebb0,#e5f5bb,#f8fac0,#fdfbc0,#fefabe,#fcfbc0,#ecf7be,#bbe9af,#94dbac,#91daac,#a7e2ae,#c7edb1,#e5f5bb,#f7fac0,#fefabe,#fceba4,#fbdd8c,#fad57e,#fad680,#fbdf8f,#fdeeaa,#f9fac0,#eaf7bd,#f0f8bf,#fef8ba,#fce396,#fbdd8b,#fad882,#f9cc71,#f7c162,#f7bc5b,#f7bd5d,#f8c364,#f9ca6e,#fad177,#fbda86,#fce89e,#fcfbc0,#d2f0b4,#86d7ac,#3ac0ad,#13b4ae,#12b3ae,#27bbad,#63ccac,#ade4ae,#e8f6bc,#fef9bd,#fce395,#f8c76a,#f4a740,#eb7f18,#d65826,#c33e44,#bc3548,#c13c46,#cd4c33,#dd621a,#e9760f)"></i>
<i style="height:1px;background:linear-gradient(90deg,#53c7ac,#68ceac,#75d2ac,#81d6ac,#94dbac,#ade4ae,#c3ebb0,#c4ecb0,#b4e6af,#a3e0ad,#93dbac,#7bd4ac,#5dcaac,#40c2ad,#27bbad,#13b4ae,#10aeaf,#0ea9af,#0ea7af,#0fa9af,#10aeaf,#13b4ae,#2ebdad,#52c7ac,#79d3ac,#a2e0ad,#caedb2,#edf7be,#fafac0,#fef8bb,#fdf6b7,#fefabf,#f1f8bf,#beeaaf,#95dcac,#91daac,#a7e2ae,#c8edb1,#e6f5bb,#f7fac0,#fef8ba,#fce89e,#fbd985,#fad279,#fad47b,#fbde8d,#fdefab,#f9fac0,#e7f6bc,#ecf7bd,#fefbbf,#fce79c,#fbe192,#fbdc8a,#fad076,#f8c466,#f7bf5f,#f7c061,#f8c668,#f9cd72,#fad47b,#fbdc8a,#fce9a1,#fbfac0,#cfefb3,#82d6ac,#34bfad,#12b3ae,#11b1ae,#1fb9ae,#5ccaac,#a9e2ae,#e6f5bb,#fefbc0,#fce498,#f8c96c,#f4a941,#eb8019,#d65825,#c33e43,#bd3648,#c23c45,#ce4d33,#de621a,#e97610)"></i>
<i style="height:1px;background:linear-gradient(90deg,#3dc1ad,#53c7ac,#60cbac,#6dcfac,#81d5ac,#9edfad,#b5e7af,#b8e8af,#aae3ae,#9addad,#89d8ac,#74d1ac,#59c9ac,#40c2ad,#2cbcad,#17b6ae,#11b0ae,#10acaf,#0fabaf,#10acaf,#11b1ae,#19b7ae,#34bfad,#56c8ac,#7ed5ac,#a8e2ae,#d1efb4,#f3f9c0,#fdfbc0,#fdf4b4,#fdf1af,#fef6b8,#f4f9c0,#c2ebb0,#97dcac,#92dbac,#a8e2ae,#c8edb1,#e7f6bc,#f8fac0,#fdf5b5,#fce397,#fad47c,#f9ce73,#fad177,#fbdc8b,#fdefab,#f8fac0,#e4f5bb,#e8f6bc,#fcfbc0,#fceba3,#fce59a,#fbe192,#fad47c,#f8c86b,#f8c263,#f8c364,#f8c86c,#fad076,#fad781,#fbdf8f,#fceba5,#fafac0,#cceeb2,#7ed5ac,#30bdad,#12b1ae,#11afaf,#18b7ae,#56c8ac,#a5e1ad,#e3f5ba,#fdfbc0,#fce69b,#f9ca6e,#f4aa43,#ec811a,#d75924,#c43f42,#be3748,#c33e44,#cf4e31,#de6319,#e97710)"></i>
<i style="height:1px;background:linear-gradient(90deg,#27bbad,#3cc1ad,#4ac5ac,#57c9ac,#6ccfac,#8dd9ac,#a7e2ae,#abe3ae,#9fdfad,#90daac,#80d5ac,#6dcfac,#56c8ac,#41c2ad,#30bdad,#1fb8ae,#12b3ae,#11afaf,#10aeaf,#11afaf,#12b3ae,#21b9ae,#3ac0ad,#5acaac,#84d6ac,#afe4ae,#d8f1b6,#f6fac0,#fef8ba,#fdf0ac,#fdeda8,#fdf2b1,#f7fac0,#c6ecb0,#9addad,#94dbac,#a9e2ae,#c9edb1,#e8f6bc,#fafac0,#fdf1af,#fbde8e,#f9cf74,#f9c96d,#f9cd73,#fbdb87,#fdefaa,#f7fac0,#e2f4ba,#e5f5bb,#fafac0,#fdefab,#fceaa2,#fce59a,#fbd883,#f9cb70,#f8c567,#f8c567,#f9cb6f,#fad279,#fbda86,#fbe193,#fdeea8,#f9fac0,#caedb2,#7ad3ac,#2bbcad,#11b0ae,#10aeaf,#13b5ae,#50c7ac,#a1e0ad,#e1f4ba,#fcfbc0,#fce79d,#f9cc70,#f4ac45,#ec831c,#d95b22,#c6423f,#c03a48,#c44041,#d0502f,#df6517,#ea7812)"></i>
<i style="height:1px;background:linear-gradient(90deg,#13b5ae,#26baad,#33bead,#41c2ad,#57c9ac,#79d3ac,#97dcac,#9ddead,#93dbac,#84d6ac,#77d2ac,#67cdac,#53c7ac,#41c2ad,#33bead,#25baad,#14b5ae,#12b2ae,#11b1ae,#12b2ae,#16b6ae,#29bbad,#40c2ad,#5fcbac,#89d8ac,#b6e7af,#dff3b9,#f9fac0,#fdf4b3,#fceca5,#fce9a1,#fdeeaa,#f9fac0,#cbeeb2,#9ddead,#96dcac,#aae3ae,#caedb2,#eaf6bd,#fbfac0,#fdeda7,#fad883,#f8c86c,#f8c465,#f9ca6e,#fbd883,#fdeea9,#f7fac0,#e1f4ba,#e2f4ba,#f8fac0,#fdf3b3,#fdefaa,#fceaa3,#fbdd8b,#f9cf74,#f8c86b,#f8c76a,#f9cd72,#fad57d,#fbdc8b,#fce497,#fdf0ac,#f8fac0,#c7edb1,#77d2ac,#27bbad,#11afaf,#10acaf,#12b3ae,#4ac5ac,#9edfad,#def3b9,#fcfbc0,#fce9a0,#f9cd72,#f5ad48,#ed851e,#db5e1f,#c8453c,#c23d44,#c7433d,#d2522c,#e16715,#ea7a13)"></i>
<i style="height:1px;background:linear-gradient(90deg,#11afaf,#13b4ae,#1cb8ae,#2abcad,#40c2ad,#63ccac,#84d6ac,#8ed9ac,#84d6ac,#78d3ac,#6ed0ac,#61ccac,#51c7ac,#42c2ad,#36bfad,#2abcad,#1cb8ae,#13b5ae,#12b4ae,#13b5ae,#20b9ae,#32bead,#47c4ac,#63ccac,#8fdaac,#bde9af,#e6f5bc,#fcfbc0,#fdf0ac,#fce89f,#fce59a,#fceaa2,#fbfbc0,#cfefb4,#a0e0ad,#98ddac,#ace4ae,#cbeeb2,#ecf7bd,#fdfbc0,#fce89f,#fad177,#f7c162,#f7bd5d,#f8c568,#fad67e,#fdeda8,#f7fac0,#e0f4b9,#dff3b9,#f6f9c0,#fef8bb,#fdf4b3,#fdefab,#fbe193,#fad279,#f9ca6e,#f9c96d,#f9cf74,#fad781,#fbdf8f,#fce69c,#fdf2b0,#f7fac0,#c5ecb0,#74d1ac,#23baae,#10adaf,#0fabaf,#12b2ae,#44c3ad,#9addad,#dcf2b8,#fbfac0,#fceaa3,#f9cf74,#f5af4b,#ed8821,#dd611b,#cb4937,#c54140,#ca4739,#d55628,#e36912,#eb7c15)"></i>
<i style="height:1px;background:linear-gradient(90deg,#0fa9af,#10aeaf,#12b1ae,#13b5ae,#29bbad,#4dc6ac,#6fd0ac,#7bd4ac,#74d2ac,#6ccfac,#65cdac,#5bcaac,#4ec6ac,#42c3ad,#39c0ad,#2fbdad,#24baad,#1bb7ae,#18b6ae,#1cb8ae,#29bbad,#3ac0ad,#4dc6ac,#68ceac,#95dcac,#c4ecb0,#eef8be,#fefabe,#fceca5,#fce498,#fbe193,#fce69b,#fefbc0,#d5f0b5,#a5e1ad,#9cdead,#afe4ae,#cdeeb3,#eef7be,#fefabe,#fce295,#f9ca6e,#f6ba58,#f6b654,#f7c161,#fad379,#fdeca6,#f7fac0,#e0f4b9,#ddf3b8,#f3f9c0,#fcfbc0,#fef9bc,#fdf4b3,#fce69b,#fad67f,#f9cd72,#f9cb6f,#fad076,#fbd985,#fbe193,#fce9a0,#fdf4b3,#f6fac0,#c3ebb0,#71d1ac,#20b9ae,#10adaf,#0faaaf,#11b0ae,#3fc2ad,#97dcac,#d9f2b7,#fafac0,#fdeca6,#fad177,#f5b24e,#ee8b23,#e06516,#ce4d32,#c9463a,#cd4c33,#d85a23,#e66d0e,#eb7e18)"></i>
<i style="height:1px;background:linear-gradient(90deg,#0ca4b0,#0ea8af,#0fabaf,#11afaf,#13b5ae,#36bfad,#5ac9ac,#68ceac,#65cdac,#60cbac,#5ccaac,#56c8ac,#4cc6ac,#42c3ad,#3ac0ad,#32bead,#2abcad,#24baad,#21b9ae,#26baad,#32bead,#43c3ad,#53c8ac,#6dcfac,#9addad,#caedb2,#f4f9c0,#fdf6b7,#fce89f,#fbe192,#fbde8d,#fbe294,#fef7b9,#daf2b7,#a9e3ae,#a0dfad,#b2e5ae,#ceefb3,#f0f8bf,#fef7b8,#fbdc8a,#f8c365,#f5b14d,#f5af4a,#f7bb5a,#fad076,#fceba3,#f8fac0,#e0f4b9,#dbf2b8,#eef8be,#f9fac0,#fcfbc0,#fef8bc,#fceaa3,#fbda86,#f9cf75,#f9cd72,#fad278,#fbdb89,#fce497,#fceba4,#fdf6b7,#f5f9c0,#c1ebb0,#6fd0ac,#1db8ae,#0facaf,#0ea9af,#11afaf,#3ac0ad,#93dbac,#d7f1b6,#f9fac0,#fdeea9,#fad379,#f5b451,#ef8f27,#e46a11,#d2532c,#cd4c33,#d1522d,#db5f1e,#e8710b,#ec811a)"></i>
<i style="height:1px;background:linear-gradient(90deg,#0c9db1,#0ca3b0,#0da5af,#0ea9af,#11afaf,#1fb8ae,#43c3ad,#54c8ac,#55c8ac,#54c8ac,#54c8ac,#52c7ac,#4bc5ac,#43c3ad,#3bc1ad,#35bfad,#30bdad,#2cbcad,#2abcad,#2ebdad,#3bc1ad,#4bc5ac,#59c9ac,#71d1ac,#9fdfad,#d1efb4,#f7fac0,#fdf2b0,#fce599,#fbde8d,#fbda87,#fbde8d,#fdf3b1,#e0f4b9,#aee4ae,#a4e1ad,#b5e7af,#d0efb4,#f2f9c0,#fdf3b2,#fad57e,#f7bb5a,#f4a841,#f4a73f,#f6b653,#f9cd72,#fce9a0,#f8fac0,#e0f4ba,#d9f2b7,#e8f6bc,#f5f9c0,#f8fac0,#fdfbc0,#fdefab,#fbde8d,#fad279,#f9cf74,#fad37a,#fbdd8c,#fce69b,#fdeea9,#fef8bb,#f4f9c0,#bfeab0,#6dcfac,#1bb7ae,#0fabaf,#0ea8af,#10aeaf,#35bfad,#8fdaac,#d4f0b5,#f8fac0,#fdf0ad,#fad57d,#f6b754,#ef932a,#e86f0b,#d75925,#d2532c,#d65826,#df6517,#e9750f,#ed851e)"></i>
<i style="height:1px;background:linear-gradient(90deg,#1095b2,#0d9bb1,#0b9fb0,#0ca3b0,#0ea9af,#12b2ae,#2cbcad,#3fc2ad,#44c3ad,#47c4ac,#4cc5ac,#4dc6ac,#49c5ac,#42c3ad,#3bc1ad,#36bfad,#34bfad,#33bead,#32bead,#37bfad,#44c3ad,#53c8ac,#5fcbac,#76d2ac,#a3e1ad,#d7f1b6,#fafac0,#fdeea9,#fbe193,#fbdb87,#fad781,#fbda86,#fdeeaa,#e6f5bc,#b4e6af,#a8e2ae,#b9e8af,#d3f0b5,#f4f9c0,#fdefab,#f9cf75,#f5b34f,#f29f36,#f29e36,#f5b04b,#f9c96d,#fce79d,#f9fac0,#e1f4ba,#d8f1b6,#e2f4ba,#f0f8bf,#f5f9c0,#f9fac0,#fdf3b2,#fbe294,#fad57d,#fad076,#fad57d,#fbdf8f,#fce89f,#fdf0ad,#fefabe,#f3f9c0,#beeaaf,#6bcfac,#1ab7ae,#0fabaf,#0ea7af,#10adaf,#30bdad,#8bd9ac,#d1efb4,#f6fac0,#fdf2b0,#fad882,#f6ba58,#f0972f,#e9750f,#dc601d,#d85a24,#db5f1e,#e46b10,#ea7a14,#ed8922)"></i>
<i style="height:1px;background:linear-gradient(90deg,#138db4,#1192b3,#0f96b2,#0d9bb1,#0ca3b0,#10acaf,#15b6ae,#2bbcad,#34bead,#3bc1ad,#44c3ad,#49c4ac,#48c4ac,#42c3ad,#3bc1ad,#37bfad,#38c0ad,#3ac0ad,#3ac0ad,#3ec1ad,#4cc5ac,#5bcaac,#65cdac,#7ad3ac,#a8e2ae,#ddf3b9,#fcfbc0,#fceaa2,#fbde8e,#fad882,#fad47b,#fad67f,#fceaa3,#ecf7be,#b9e8af,#ade4ae,#bde9af,#d5f1b6,#f5f9c0,#fceba4,#f9c96d,#f4aa44,#f0942c,#f0952d,#f4aa43,#f8c668,#fce599,#fafac0,#e3f4ba,#d6f1b6,#dcf3b8,#e7f6bc,#eef8be,#f6fac0,#fef8ba,#fce69b,#fad882,#fad278,#fad67f,#fbe192,#fceaa3,#fdf2b1,#fdfbc0,#f2f9c0,#bde9af,#6bcfac,#19b7ae,#0faaaf,#0ea7af,#10acaf,#2cbcad,#87d7ac,#ceeeb3,#f5f9c0,#fdf4b5,#fbda87,#f7bd5d,#f19c33,#ea7b14,#e16714,#dd621b,#e16615,#e8710b,#eb8019,#ee8e26)"></i>
<i style="height:1px;background:linear-gradient(90deg,#1b85b3,#158ab5,#138db4,#1192b3,#0d9bb1,#0da6af,#11b0af,#16b6ae,#23baae,#30bdad,#3cc1ad,#45c3ac,#46c4ac,#42c2ad,#3ac0ad,#37bfad,#3bc0ad,#3fc2ad,#40c2ad,#45c3ac,#54c8ac,#62ccac,#6bcfac,#7ed5ac,#ace4ae,#e3f5bb,#fef9bd,#fce79c,#fbdb89,#fad57e,#fad178,#fad279,#fce69c,#f2f9c0,#bfeab0,#b3e6af,#c1ebb0,#d8f1b7,#f6fac0,#fce79d,#f8c365,#f3a139,#ee8a22,#ee8c24,#f3a43b,#f8c264,#fce295,#fbfac0,#e5f5bb,#d5f1b6,#d7f1b6,#def3b9,#e5f5bb,#f3f9c0,#fdfbc0,#fceaa2,#fbdb88,#fad47b,#fad882,#fce294,#fdeca6,#fdf5b5,#fcfbc0,#f0f8bf,#bde9af,#6acfac,#19b7ae,#0faaaf,#0ea7af,#0facaf,#29bbad,#83d6ac,#caeeb2,#f4f9c0,#fef7b9,#fbde8d,#f7c162,#f2a138,#ec821b,#e76f0b,#e36a11,#e76e0c,#ea7812,#ed861e,#f0932b)"></i>
<i style="height:1px;background:linear-gradient(90deg,#277cb0,#2181b1,#1b85b3,#158ab5,#1193b3,#0ba0b0,#0faaaf,#11b1ae,#14b5ae,#24baad,#35bfad,#41c2ad,#45c3ac,#41c2ad,#38c0ad,#36bfad,#3dc1ad,#44c3ad,#46c4ac,#4cc5ac,#5acaac,#69ceac,#70d0ac,#82d6ac,#b1e5ae,#e9f6bd,#fdf6b7,#fce397,#fbd984,#fad37a,#f9cf75,#f9d075,#fce295,#f5f9c0,#c5ecb0,#b8e8af,#c5ecb0,#dbf2b8,#f7fac0,#fce396,#f7bd5c,#f19830,#eb7f18,#ec831b,#f29d35,#f7be5f,#fbe090,#fcfbc0,#e7f5bc,#d5f0b5,#d1efb4,#d5f1b6,#ddf3b8,#ecf7be,#fafac0,#fdeeaa,#fbde8e,#fad67f,#fbd985,#fce497,#fdeea9,#fef7b9,#fbfac0,#eff8be,#bce9af,#6bcfac,#19b7ae,#0faaaf,#0ea7af,#0fabaf,#25baad,#7ed5ac,#c7edb1,#f0f8bf,#fefabe,#fbe193,#f8c467,#f3a63e,#ed8921,#ea7711,#e9730c,#e97710,#eb8019,#ee8c25,#f19930)"></i>
<i style="height:1px;background:linear-gradient(90deg,#3275ac,#2d78ae,#287caf,#2081b2,#148ab5,#0f98b2,#0da4b0,#0fabaf,#12b1ae,#1ab7ae,#2fbdad,#3dc1ad,#43c3ad,#3fc2ad,#36bfad,#34bfad,#3ec1ad,#48c4ac,#4cc5ac,#51c7ac,#60cbac,#6fd0ac,#75d2ac,#86d7ac,#b5e6af,#eff8be,#fdf2b0,#fbe092,#fad780,#fad178,#f9cd72,#f9cd72,#fbdf8e,#f8fac0,#cbeeb2,#beeaaf,#caedb2,#def3b9,#f9fac0,#fbde8e,#f6b653,#ef8f27,#e9750f,#ea7913,#f0972e,#f6ba59,#fbdd8c,#fdfbc0,#e9f6bc,#d4f0b5,#cceeb2,#cceeb2,#d4f0b5,#e4f5bb,#f7fac0,#fdf3b1,#fbe294,#fbd884,#fbdb88,#fce59a,#fdf0ad,#fef9bc,#fafac0,#eef7be,#bde9af,#6ccfac,#1bb7ae,#0fabaf,#0ea7af,#0fabaf,#23b9ae,#7ad3ac,#c3ebb0,#ecf7be,#fdfbc0,#fce599,#f8c96c,#f4ab45,#ef9028,#eb7f19,#ea7b15,#eb7f18,#ed8821,#f0942c,#f29f36)"></i>
<i style="height:1px;background:linear-gradient(90deg,#3c6da9,#3870ab,#3473ac,#2d78ae,#2082b2,#128fb4,#0c9eb0,#0ea7af,#10adaf,#13b4ae,#29bbad,#3ac0ad,#41c2ad,#3dc1ad,#33bead,#31bead,#3ec1ad,#4bc5ac,#50c7ac,#56c8ac,#66cdac,#75d2ac,#79d3ac,#89d8ac,#b8e8af,#f3f9c0,#fdefab,#fbde8d,#fad57d,#fad076,#f9cb70,#f9ca6f,#fbdb88,#fafac0,#d1efb4,#c4ecb0,#cfefb3,#e1f4ba,#fafac0,#fbda86,#f5b04b,#ed851e,#e46a11,#e8700a,#ef9028,#f6b654,#fbda86,#fefbbf,#ebf7bd,#d4f0b5,#c7ecb1,#c4ecb0,#cbeeb2,#ddf3b8,#f4f9c0,#fef7b9,#fce69b,#fbdb88,#fbdd8c,#fce79d,#fdf2b0,#fefbc0,#f9fac0,#edf7be,#bde9af,#6ed0ac,#1db8ae,#0fabaf,#0ea7af,#0fabaf,#20b9ae,#76d2ac,#beeaaf,#e7f6bc,#fbfac0,#fce9a0,#f9cd72,#f5b14d,#f1982f,#ed8821,#ec851d,#ed8821,#ef9129,#f19b33,#f3a63e)"></i>
<i style="height:1px;background:linear-gradient(90deg,#4266a7,#4068a8,#3d6ba9,#3871ab,#2b79ae,#1887b4,#1095b2,#0ca2b0,#0faaaf,#12b2ae,#23baae,#37bfad,#3fc2ad,#3bc0ad,#2fbdad,#2ebdad,#3dc1ad,#4dc6ac,#53c8ac,#5ac9ac,#6acfac,#79d3ac,#7dd4ac,#8cd9ac,#bce9af,#f5f9c0,#fdeca6,#fbdc89,#fad37a,#f9cf74,#f9ca6e,#f8c86c,#fad883,#fcfbc0,#d7f1b6,#caedb2,#d3f0b5,#e5f5bb,#fcfbc0,#fad67f,#f4a943,#eb7c16,#dc5f1d,#e16615,#ed8922,#f5b24f,#fad781,#fef8bb,#eef8be,#d4f0b5,#c1ebb0,#bbe8af,#c3ebb0,#d5f0b6,#eff8bf,#fdfbc0,#fceaa2,#fbde8e,#fbdf8f,#fce9a0,#fdf4b3,#fdfbc0,#f8fac0,#ecf7be,#beeaaf,#70d0ac,#20b9ae,#10acaf,#0ea8af,#0fabaf,#1eb8ae,#72d1ac,#b9e8af,#e2f4ba,#f8fac0,#fdeda8,#fad278,#f6b755,#f2a037,#ef9129,#ef8e26,#ef922a,#f19a31,#f3a43b,#f4ad47)"></i>
<i style="height:1px;background:linear-gradient(90deg,#4860a5,#4761a6,#4564a6,#3f69a8,#3672ab,#247fb1,#138eb4,#0d9cb1,#0ea7af,#11b0af,#1eb8ae,#34bead,#3dc1ad,#38c0ad,#2bbcad,#2abcad,#3bc1ad,#4ec6ac,#56c8ac,#5dcaac,#6ed0ac,#7ed4ac,#81d5ac,#8fdaac,#bfeaaf,#f6fac0,#fceaa2,#fbda86,#fad279,#f9ce73,#f8c96c,#f8c769,#fad57e,#fefbbf,#dcf3b8,#cfefb4,#d8f2b7,#e9f6bd,#fdfbc0,#fad278,#f3a33a,#e9740d,#d45529,#da5d20,#ec831c,#f5ae49,#fad47b,#fef6b7,#f0f8bf,#d3f0b5,#bde9af,#b2e6af,#bae8af,#cdeeb3,#e7f6bc,#fafac0,#fdeea9,#fbe294,#fbe294,#fceba4,#fdf6b7,#fcfbc0,#f7fac0,#ecf7be,#c0eab0,#74d1ac,#25baad,#10adaf,#0ea8af,#0fabaf,#1cb8ae,#6dcfac,#b4e6af,#dcf2b8,#f6f9c0,#fdf2b1,#fad882,#f7be5e,#f4a840,#f19b32,#f19830,#f19c33,#f3a33a,#f4ac46,#f6b552)"></i>
<i style="height:1px;background:linear-gradient(90deg,#4d5aa4,#4d5ba4,#4b5da4,#4662a6,#3d6ba9,#2e77ae,#1986b4,#0f96b2,#0ca4b0,#10aeaf,#19b7ae,#31bead,#3ac0ad,#34bead,#26baad,#25baad,#39c0ad,#4ec6ac,#57c9ac,#5fcbac,#71d1ac,#81d6ac,#83d6ac,#92dbac,#c1ebb0,#f8fac0,#fce89e,#fbd883,#fad178,#f9cd72,#f8c86b,#f8c567,#fad379,#fef8ba,#e2f4ba,#d5f0b5,#def3b9,#edf7be,#fef9bd,#f9ce73,#f29d34,#e46b10,#cd4b34,#d3542a,#eb7c16,#f4aa44,#fad177,#fdf4b3,#f3f9c0,#d4f0b5,#b8e8af,#abe3ae,#b1e5ae,#c6ecb0,#e0f4b9,#f7fac0,#fdf2b1,#fce59a,#fce599,#fdeda7,#fef7ba,#fafac0,#f7fac0,#ecf7be,#c2ebb0,#78d3ac,#2abcad,#11afaf,#0fa9af,#0facaf,#1bb7ae,#69ceac,#aee4ae,#d5f1b6,#f2f9c0,#fef8ba,#fbde8d,#f8c567,#f5b04b,#f3a43c,#f3a239,#f3a63e,#f4ad47,#f6b552,#f7bd5d)"></i>
<i style="height:1px;background:linear-gradient(90deg,#5256a2,#5255a2,#5058a3,#4b5da4,#4365a7,#3771ab,#237fb1,#1290b3,#0ba1b0,#10acaf,#15b6ae,#2ebdad,#37bfad,#30bdad,#20b9ae,#1fb8ae,#35bfad,#4dc6ac,#58c9ac,#61ccac,#73d1ac,#84d6ac,#86d7ac,#94dbac,#c3ebb0,#f9fac0,#fce69b,#fad782,#fad177,#f9cd72,#f8c76a,#f8c466,#fad177,#fdf5b5,#e7f6bc,#daf2b7,#e3f4ba,#f2f9c0,#fef6b8,#f9ca6e,#f0972f,#de6319,#c6423f,#cd4c34,#e97610,#f3a63e,#f9ce73,#fdf1af,#f4f9c0,#d4f0b5,#b4e6af,#a3e1ad,#a9e3ae,#beeaaf,#d8f1b7,#f4f9c0,#fef7ba,#fceaa2,#fce89f,#fdefab,#fef9bd,#f9fac0,#f6fac0,#edf7be,#c5ecb0,#7dd4ac,#30bdad,#11b0ae,#0fabaf,#10acaf,#1bb7ae,#65cdac,#a8e2ae,#ceefb3,#eaf7bd,#fdfbc0,#fce599,#f9cc70,#f6b856,#f5ad48,#f4ac46,#f5b04b,#f6b654,#f7bf5f,#f8c669)"></i>
<i style="height:1px;background:linear-gradient(90deg,#5552a1,#5651a1,#5453a1,#4f58a3,#4860a5,#3d6ba9,#2b79ae,#148bb4,#0c9fb0,#0fabaf,#13b5ae,#2bbcad,#33bead,#2abcad,#19b7ae,#18b7ae,#31bead,#4bc5ac,#57c9ac,#61ccac,#75d2ac,#85d7ac,#87d7ac,#95dcac,#c5ecb0,#f9fac0,#fce59a,#fad781,#fad177,#f9cd71,#f8c76a,#f8c365,#fad075,#fdf2b1,#ecf7bd,#e0f4b9,#e8f6bc,#f4f9c0,#fdf3b3,#f8c76a,#ef922a,#d95b22,#c03a48,#c7443d,#e8710a,#f3a239,#f9cb70,#fdefaa,#f5f9c0,#d4f0b5,#b1e5ae,#9ddead,#a2e0ad,#b6e7af,#d0efb4,#edf7be,#fdfbc0,#fdefaa,#fceca5,#fdf2b0,#fefbc0,#f8fac0,#f6f9c0,#eef8be,#c8edb1,#83d6ac,#37bfad,#12b2ae,#10acaf,#10adaf,#1ab7ae,#60cbac,#a1e0ad,#c7ecb1,#e2f4ba,#f9fac0,#fdeca6,#fad37a,#f7c161,#f6b754,#f6b653,#f6ba58,#f7c162,#f8c96c,#fad076)"></i>
<i style="height:1px;background:linear-gradient(90deg,#5750a0,#594ea0,#5750a0,#5255a2,#4b5da4,#4267a7,#3274ac,#1887b4,#0d9cb1,#0faaaf,#13b4ae,#28bbad,#2fbdad,#24baad,#13b5ae,#13b4ae,#2bbcad,#48c4ac,#56c8ac,#61ccac,#75d2ac,#86d7ac,#88d8ac,#96dcac,#c6ecb0,#fafac0,#fce599,#fad781,#fad177,#f9cd72,#f8c76a,#f8c364,#f9cf74,#fdf0ad,#f0f8bf,#e5f5bb,#edf7be,#f6fac0,#fdf0ad,#f8c365,#ee8d25,#d4542a,#b93249,#c23d45,#e46b10,#f29e35,#f8c86c,#fceca6,#f6fac0,#d4f0b5,#aee4ae,#98ddac,#9bdead,#afe4ae,#c8edb1,#e4f5bb,#f9fac0,#fdf4b4,#fdf0ad,#fdf5b5,#fcfbc0,#f7fac0,#f5f9c0,#f0f8bf,#cceeb2,#8ad8ac,#40c2ad,#13b4ae,#10aeaf,#10aeaf,#1bb7ae,#5bcaac,#9addad,#bee9af,#d8f1b7,#f4f9c0,#fdf4b3,#fbdc89,#f9c96d,#f7c061,#f7bf60,#f8c466,#f9cb70,#fad37b,#fbdb89)"></i>
<i style="height:1px;background:linear-gradient(90deg,#584fa0,#5b4c9f,#594ea0,#5453a1,#4d5ba4,#4563a6,#3870ab,#1c84b3,#0e9ab1,#0fa9af,#12b4ae,#25baad,#2abcad,#1eb8ae,#12b3ae,#12b2ae,#25baad,#44c3ad,#54c8ac,#60cbac,#74d2ac,#85d7ac,#88d8ac,#96dcac,#c6ecb0,#fafac0,#fce599,#fad781,#fad178,#f9cd72,#f8c76a,#f8c365,#f9ce74,#fdefab,#f4f9c0,#eaf7bd,#f3f9c0,#f8fac0,#fdeda8,#f7c061,#ed8821,#cf4e31,#b42b49,#bd3648,#e06516,#f19a32,#f8c568,#fce9a1,#f7fac0,#d5f0b5,#abe3ae,#93dbac,#95dcac,#a7e2ae,#bfeab0,#daf2b7,#f5f9c0,#fefabf,#fdf5b5,#fef8bb,#fbfac0,#f7fac0,#f5f9c0,#f2f9c0,#d0efb4,#92dbac,#4ac5ac,#19b7ae,#11b0ae,#11b0af,#1bb7ae,#56c8ac,#92dbac,#b4e6af,#ceefb3,#ebf7bd,#fdfbc0,#fce59a,#fad279,#f9ca6e,#f9c96d,#f9ce74,#fad780,#fbe092,#fce89f)"></i>
<i style="height:1px;background:linear-gradient(90deg,#594ea0,#5b4c9f,#5a4d9f,#5552a1,#4e59a3,#4761a6,#3b6daa,#2081b2,#0e99b2,#0ea9af,#12b3ae,#22b9ae,#25baad,#16b6ae,#11b0ae,#11b0ae,#1eb8ae,#3fc2ad,#50c7ac,#5ecbac,#73d1ac,#84d6ac,#88d7ac,#96dcac,#c6ecb0,#fafac0,#fce69b,#fbd883,#fad279,#f9ce73,#f8c86b,#f8c365,#f9ce74,#fdeea8,#f5f9c0,#eff8bf,#f5f9c0,#fafac0,#fceaa2,#f7bd5c,#ec841d,#cb4937,#af254a,#b83049,#dd611c,#f0962e,#f8c264,#fce79c,#f8fac0,#d5f1b6,#aae3ae,#8edaac,#8fdaac,#a0dfad,#b6e7af,#d0efb4,#edf7be,#fafac0,#fefabe,#fefbc0,#fafac0,#f6fac0,#f5f9c0,#f3f9c0,#d5f1b6,#9addad,#54c8ac,#24baad,#12b3ae,#12b1ae,#1db8ae,#51c7ac,#88d7ac,#a9e3ae,#c3ebb0,#dff3b9,#f8fac0,#fdefaa,#fbdc8a,#fad37a,#fad37b,#fbda86,#fce497,#fdeea9,#fdf6b7)"></i>
<i style="height:1px;background:linear-gradient(90deg,#584fa0,#5b4c9f,#5a4d9f,#5553a1,#4e5aa3,#4860a5,#3d6ca9,#2280b1,#0e98b2,#0ea9af,#12b3ae,#1fb9ae,#20b9ae,#13b4ae,#10aeaf,#10aeaf,#16b6ae,#39c0ad,#4dc6ac,#5ccaac,#71d1ac,#82d6ac,#86d7ac,#96dcac,#c5ecb0,#f9fac0,#fce79d,#fbd985,#fad37a,#f9cf74,#f8c96c,#f8c466,#f9cf74,#fdeda7,#f7fac0,#f3f9c0,#f7fac0,#fcfbc0,#fce79d,#f6ba58,#ec8019,#c8453c,#ab204b,#b42b49,#d95c21,#ef922a,#f7bf60,#fce498,#f9fac0,#d5f1b6,#a8e2ae,#8ad8ac,#88d8ac,#99ddac,#ade4ae,#c6ecb1,#e2f4ba,#f6fac0,#fbfac0,#fbfbc0,#f8fac0,#f5f9c0,#f5f9c0,#f5f9c0,#daf2b7,#a1e0ad,#5fcbac,#2fbdad,#14b5ae,#12b3ae,#1eb8ae,#4cc6ac,#7dd4ac,#9edfad,#b7e7af,#d3f0b5,#f2f9c0,#fef8bb,#fce79d,#fbde8e,#fbdf8f,#fce69c,#fdf1ae,#fdfbc0,#f9fac0)"></i>
<i style="height:1px;background:linear-gradient(90deg,#5750a0,#5b4c9f,#594ea0,#5454a1,#4d5ba4,#4860a5,#3e6ba9,#237fb1,#0e99b2,#0fa9af,#12b3ae,#1db8ae,#1ab7ae,#12b2ae,#0facaf,#0fabaf,#12b4ae,#32bead,#48c4ac,#59c9ac,#6fd0ac,#80d5ac,#85d7ac,#95dcac,#c4ecb0,#f8fac0,#fce9a0,#fbdb88,#fad47d,#fad076,#f9ca6e,#f8c568,#f9cf75,#fceca6,#f8fac0,#f5f9c0,#f9fac0,#fefabf,#fce397,#f6b755,#eb7d16,#c54140,#a71b4b,#b1274a,#d65825,#ef8f27,#f7bc5c,#fbe293,#fafac0,#d6f1b6,#a7e2ae,#87d7ac,#82d6ac,#91daac,#a4e1ad,#bce9af,#d7f1b6,#eff8bf,#f7fac0,#f9fac0,#f7fac0,#f5f9c0,#f6f9c0,#f6fac0,#e0f4b9,#aae3ae,#6bcfac,#3bc1ad,#1eb8ae,#13b5ae,#21b9ae,#47c4ac,#72d1ac,#93dbac,#aae3ae,#c6ecb0,#e4f5bb,#fafac0,#fdf1af,#fce9a1,#fceba4,#fdf3b2,#fcfbc0,#f4f9c0,#eaf6bd)"></i>
<i style="height:1px;background:linear-gradient(90deg,#5553a1,#594ea0,#5750a0,#5156a2,#4b5da4,#4762a6,#3e6ba9,#237fb1,#0e99b1,#0faaaf,#12b3ae,#1ab7ae,#14b5ae,#11afaf,#0ea9af,#0ea9af,#12b1ae,#2bbcad,#43c3ad,#56c8ac,#6ccfac,#7dd4ac,#83d6ac,#94dbac,#c3ebb0,#f7fac0,#fceba4,#fbdd8c,#fad680,#fad177,#f9cb6f,#f8c76a,#fad076,#fceca5,#f9fac0,#f7fac0,#fbfac0,#fef7b9,#fbe091,#f6b451,#ea7a14,#c33e43,#a71b4b,#ae234a,#d45529,#ee8c24,#f6ba58,#fbdf8f,#fbfac0,#d6f1b6,#a7e2ae,#85d7ac,#7dd4ac,#89d8ac,#9bdead,#b1e5ae,#cbeeb2,#e3f4ba,#f3f9c0,#f6fac0,#f6f9c0,#f4f9c0,#f6fac0,#f7fac0,#e6f5bc,#b3e6af,#78d3ac,#48c4ac,#29bbad,#1bb7ae,#23baae,#43c3ad,#67ceac,#85d7ac,#9ddead,#b8e7af,#d5f1b6,#f3f9c0,#fefbc0,#fdf4b4,#fef6b7,#fbfbc0,#f3f9c0,#e0f4b9,#d3f0b5)"></i>
<i style="height:1px;background:linear-gradient(90deg,#5255a2,#5750a0,#5553a1,#4e59a3,#4860a5,#4564a6,#3d6ca9,#2181b1,#0d9bb1,#0fabaf,#12b3ae,#17b6ae,#12b4ae,#10adaf,#0ea7af,#0da6af,#11afaf,#24baad,#3ec1ad,#53c7ac,#69ceac,#7ad3ac,#80d5ac,#93dbac,#c1ebb0,#f6fac0,#fdeda8,#fbe090,#fbd883,#fad379,#f9cc71,#f8c86c,#fad178,#fceca5,#fafac0,#f9fac0,#fdfbc0,#fdf4b3,#fbdd8b,#f5b24e,#ea7812,#c13c46,#a71b4b,#ab204a,#d2522d,#ed8921,#f6b755,#fbdd8b,#fcfbc0,#d7f1b6,#a7e2ae,#83d6ac,#79d3ac,#81d6ac,#92dbac,#a6e1ae,#bfeaaf,#d7f1b6,#eaf6bd,#f4f9c0,#f4f9c0,#f4f9c0,#f7fac0,#f9fac0,#edf7be,#bde9af,#85d7ac,#56c8ac,#34bfad,#23baae,#26bbad,#3ec1ad,#5dcaac,#76d2ac,#8fdaac,#a9e3ae,#c7edb1,#e5f5bb,#f7fac0,#fcfbc0,#fafac0,#f4f9c0,#dff3b9,#caedb2,#bbe9af)"></i>
<i style="height:1px;background:linear-gradient(90deg,#4f59a3,#5453a1,#5156a2,#4b5da4,#4464a7,#4267a7,#3b6eaa,#1e82b2,#0c9db1,#0facaf,#13b4ae,#15b6ae,#12b2ae,#0fabaf,#0da4b0,#0da4b0,#10adaf,#1cb8ae,#39c0ad,#50c6ac,#66cdac,#77d2ac,#7ed5ac,#91daac,#beeaaf,#f4f9c0,#fdf0ad,#fce295,#fbdb87,#fad47c,#f9ce74,#f9ca6e,#fad37a,#fceca5,#fbfac0,#fafac0,#fefabe,#fdf0ae,#fbda86,#f5b04b,#e97610,#c03a48,#a71b4b,#aa1e4b,#d04f30,#ed861f,#f6b451,#fbda87,#fcfbc0,#d7f1b6,#a7e2ae,#82d6ac,#74d2ac,#79d3ac,#88d7ac,#9bdead,#b2e5ae,#caedb2,#e0f4b9,#eef8be,#f3f9c0,#f3f9c0,#f7fac0,#fbfac0,#f3f9c0,#c7edb1,#93dbac,#63ccac,#40c2ad,#2cbcad,#2abcad,#3ac0ad,#52c7ac,#67ceac,#7fd5ac,#9bdead,#b8e7af,#d6f1b6,#eef7be,#f5f9c0,#f3f9c0,#e2f4ba,#caeeb2,#b2e5ae,#a2e0ad)"></i>
<i style="height:1px;background:linear-gradient(90deg,#4b5ca4,#5157a2,#4d5aa4,#4662a6,#4069a8,#3e6ba9,#3771ab,#1b85b3,#0ba0b0,#10adaf,#13b4ae,#13b5ae,#11b0ae,#0ea9af,#0ca2b0,#0ca2b0,#0faaaf,#14b5ae,#34bead,#4dc6ac,#63ccac,#74d1ac,#7bd4ac,#8fdaac,#bbe9af,#f2f9c0,#fdf3b3,#fce59a,#fbdd8b,#fad680,#fad076,#f9cc71,#fad57d,#fdeca6,#fcfbc0,#fbfbc0,#fef7b9,#fdeda8,#fad780,#f5ae48,#e9750f,#c03948,#a71b4b,#a91d4b,#ce4d32,#ec831c,#f5b24e,#fbd883,#fdfbc0,#d8f1b6,#a7e2ae,#81d5ac,#71d0ac,#72d1ac,#7dd4ac,#90daac,#a5e1ad,#bee9af,#d5f1b6,#e8f6bc,#eff8bf,#f3f9c0,#f8fac0,#fcfbc0,#f6fac0,#d1efb4,#9fdfad,#70d0ac,#4cc5ac,#35bfad,#2ebdad,#36bfad,#47c4ac,#59c9ac,#6fd0ac,#8bd9ac,#a8e2ae,#c7edb1,#def3b9,#e8f6bc,#e2f4ba,#d0efb4,#b5e7af,#9addad,#88d8ac)"></i>
<i style="height:1px;background:linear-gradient(90deg,#4761a6,#4d5ba4,#495fa5,#4167a8,#3b6eaa,#3a6faa,#3274ac,#1688b5,#0ca2b0,#11afaf,#13b5ae,#13b5ae,#11afaf,#0da7af,#0b9fb0,#0c9fb0,#0ea8af,#12b3ae,#2fbdad,#4ac5ac,#61ccac,#71d0ac,#79d3ac,#8cd9ac,#b8e8af,#edf7be,#fef7b9,#fce89f,#fbdf90,#fbd984,#fad278,#f9ce74,#fad780,#fdeda7,#fcfbc0,#fdfbc0,#fdf4b4,#fceaa3,#fad47b,#f4ac46,#e9740e,#bf3948,#a71b4b,#a81c4b,#cd4c34,#ec811a,#f5b04b,#fad780,#fdfbc0,#d8f1b7,#a7e2ae,#80d5ac,#6dcfac,#6bcfac,#73d1ac,#83d6ac,#99ddac,#b0e5ae,#cbeeb2,#e1f4ba,#ecf7be,#f3f9c0,#f9fac0,#fefbc0,#f9fac0,#dbf2b8,#abe3ae,#7ed5ac,#58c9ac,#3ec1ad,#32bead,#33bead,#3cc1ad,#4ac5ac,#5ecbac,#7ad3ac,#9addad,#b8e7af,#d0efb4,#d9f2b7,#d2f0b5,#beeaaf,#a0dfad,#80d5ac,#6bcfac)"></i>
<i style="height:1px;background:linear-gradient(90deg,#4365a7,#4860a5,#4464a7,#3c6da9,#3473ac,#3374ac,#2d78ae,#148cb4,#0ca4b0,#11b0ae,#15b6ae,#13b4ae,#10adaf,#0da4b0,#0d9bb1,#0d9bb1,#0da6af,#12b1ae,#2abcad,#48c4ac,#5fcbac,#6ed0ac,#76d2ac,#89d8ac,#b4e6af,#e8f6bc,#fefbbf,#fceca5,#fce295,#fbdb88,#fad47b,#fad177,#fbd984,#fdeda8,#fdfbc0,#fefbc0,#fdf2b0,#fce89e,#fad177,#f4aa43,#e9740d,#c03a48,#a71b4b,#a81c4b,#cc4b35,#eb8019,#f5ae49,#fad57d,#fefbc0,#d8f1b7,#a7e2ae,#80d5ac,#6aceac,#65cdac,#6aceac,#77d2ac,#8bd9ac,#a4e1ad,#c1ebb0,#dbf2b8,#e9f6bd,#f3f9c0,#fafac0,#fef8ba,#fcfbc0,#e5f5bb,#b8e8af,#8dd9ac,#64cdac,#48c4ac,#37bfad,#30bdad,#32bead,#3cc1ad,#4ec6ac,#69ceac,#8ad8ac,#a9e2ae,#c1ebb0,#caedb2,#c3ebb0,#ace3ae,#8bd8ac,#65cdac,#4fc6ac)"></i>
<i style="height:1px;background:linear-gradient(90deg,#3f6aa8,#4365a7,#3f6aa8,#3573ac,#2c79ae,#2b79ae,#267db0,#1290b3,#0da6af,#12b2ae,#19b7ae,#13b4ae,#10acaf,#0ca3b0,#0f98b2,#0f97b2,#0ca3b0,#11afaf,#26baad,#46c4ac,#5dcbac,#6ccfac,#74d1ac,#86d7ac,#b0e5ae,#e2f4ba,#fcfbc0,#fdefab,#fce599,#fbdd8c,#fad680,#fad37a,#fbdb88,#fdeeaa,#fdfbc0,#fefabe,#fdf0ad,#fce599,#f9cf74,#f4a942,#e9730d,#c03b47,#a71b4b,#a91d4b,#cc4a36,#eb7e18,#f4ad47,#fad37b,#fefbbf,#d8f2b7,#a8e2ae,#80d5ac,#67ceac,#5fcbac,#61ccac,#6bcfac,#7dd4ac,#98ddac,#b7e7af,#d5f0b5,#e7f6bc,#f3f9c0,#fbfac0,#fdf5b5,#fef9bc,#f0f8bf,#c5ecb0,#9addad,#70d0ac,#52c7ac,#3cc1ad,#2dbdad,#28bbad,#2dbdad,#3ec1ad,#58c9ac,#79d3ac,#9bdead,#b3e6af,#bce9af,#b3e6af,#9bdead,#73d1ac,#4bc5ac,#32bead)"></i>
<i style="height:1px;background:linear-gradient(90deg,#3a6faa,#3e6aa9,#3970aa,#2c79ae,#237fb1,#237fb1,#1e83b2,#1095b2,#0ea9af,#13b4ae,#1cb8ae,#12b4ae,#0fabaf,#0ba1b0,#1095b2,#1094b3,#0ca1b0,#10aeaf,#23b9ae,#45c3ac,#5dcaac,#6aceac,#71d1ac,#83d6ac,#ace3ae,#dcf2b8,#f9fac0,#fdf3b2,#fce89e,#fbdf90,#fbd984,#fad67f,#fbdd8c,#fdefab,#fefbc0,#fef8bb,#fdeea9,#fce295,#f9cd72,#f4a840,#e9740d,#c23c46,#a71b4b,#aa1e4b,#cc4a35,#eb7d17,#f4ab45,#fad279,#fefabe,#d9f2b7,#a8e2ae,#80d5ac,#65cdac,#59c9ac,#59c9ac,#60cbac,#70d0ac,#8bd8ac,#ade4ae,#cfefb3,#e4f5bb,#f3f9c0,#fcfbc0,#fdf1af,#fdf4b3,#f6fac0,#d1efb4,#a5e1ad,#7cd4ac,#5bcaac,#41c2ad,#2cbcad,#1fb8ae,#20b9ae,#2ebdad,#48c4ac,#69ceac,#8dd9ac,#a5e1ad,#aee4ae,#a5e1ad,#89d8ac,#5ecbac,#32bead,#18b7ae)"></i>
<i style="height:1px;background:linear-gradient(90deg,#3473ac,#3970aa,#3175ad,#247fb1,#1a86b4,#1a86b4,#1689b5,#0e9ab1,#10acaf,#19b7ae,#20b9ae,#12b3ae,#0faaaf,#0c9fb0,#1192b3,#1191b3,#0b9fb0,#10acaf,#20b9ae,#45c3ac,#5dcaac,#69ceac,#70d0ac,#80d5ac,#a7e2ae,#d6f1b6,#f6fac0,#fef6b8,#fceba3,#fbe294,#fbdb88,#fbd883,#fbe090,#fdf0ad,#fefbc0,#fef7ba,#fdeca6,#fbe091,#f9cb6f,#f4a73f,#e9740e,#c33e43,#a71b4b,#ab204a,#cd4b35,#eb7d16,#f4aa44,#fad178,#fefabe,#d9f2b7,#a8e2ae,#7fd5ac,#63ccac,#54c8ac,#51c7ac,#56c8ac,#63ccac,#7dd4ac,#a4e1ad,#c9edb2,#e2f4ba,#f4f9c0,#fdfbc0,#fdeeaa,#fdefaa,#fbfac0,#def3b9,#b1e5ae,#87d7ac,#64cdac,#47c4ac,#2bbcad,#17b6ae,#14b5ae,#1fb9ae,#38c0ad,#5acaac,#7ed4ac,#99ddad,#a2e0ad,#98ddac,#77d3ac,#49c5ac,#1bb7ae,#11b0ae)"></i>
<i style="height:1px;background:linear-gradient(90deg,#2d78ae,#3275ac,#297baf,#1a85b3,#148cb4,#148cb4,#138eb4,#0ba0b0,#11afaf,#23baae,#25baad,#12b3ae,#0ea9af,#0c9db1,#128fb4,#138eb4,#0d9cb1,#0fabaf,#1eb8ae,#46c4ac,#5ecbac,#69ceac,#6ed0ac,#7dd4ac,#a2e0ad,#cfefb4,#f4f9c0,#fefabf,#fdeea8,#fce498,#fbdd8c,#fbdb88,#fce295,#fdf1af,#fefbc0,#fef7b8,#fceba4,#fbde8e,#f9c96d,#f3a63e,#e9750f,#c54140,#a81d4b,#ae234a,#cd4c33,#eb7d16,#f4aa43,#fad177,#fef9bd,#d9f2b7,#a9e2ae,#7fd5ac,#61ccac,#4fc6ac,#49c5ac,#4cc6ac,#58c9ac,#71d1ac,#9cdead,#c4ecb0,#e0f4ba,#f4f9c0,#fefabe,#fceba4,#fce9a1,#fef9bc,#eaf7bd,#bde9af,#92dbac,#6dcfac,#4dc6ac,#2abcad,#13b4ae,#12b2ae,#13b5ae,#2abcad,#4cc5ac,#70d0ac,#8dd9ac,#96dcac,#8ad8ac,#67ceac,#37bfad,#12b2ae,#0faaaf)"></i>
<i style="height:1px;background:linear-gradient(90deg,#277cb0,#2a7aaf,#2081b2,#148bb4,#1192b3,#1192b3,#1094b3,#0ca4b0,#12b3ae,#2cbcad,#2abbad,#12b3ae,#0ea8af,#0d9bb1,#138db4,#148cb4,#0e9ab1,#0faaaf,#1db8ae,#48c4ac,#61ccac,#6bcfac,#6dcfac,#79d3ac,#9ddead,#c9edb1,#eef7be,#fcfbc0,#fdf0ad,#fce69c,#fbdf90,#fbdd8c,#fce498,#fdf3b1,#fefbc0,#fdf6b7,#fceaa2,#fbdd8b,#f8c86b,#f3a63e,#e97711,#c7443d,#ac214a,#b0264a,#cf4e31,#eb7e17,#f4aa43,#fad177,#fef9bd,#d9f2b7,#a8e2ae,#7fd5ac,#5fcbac,#4bc5ac,#43c3ad,#44c3ad,#4ec6ac,#67cdac,#94dbac,#bfeab0,#dff3b9,#f5f9c0,#fef7ba,#fce79e,#fce498,#fdf1af,#f5f9c0,#c8edb1,#9bdead,#76d2ac,#53c8ac,#2bbcad,#12b3ae,#11afaf,#12b1ae,#1db8ae,#40c2ad,#65cdac,#81d6ac,#8ad8ac,#7dd4ac,#5ac9ac,#27bbad,#10adaf,#0da6af)"></i>
<i style="height:1px;background:linear-gradient(90deg,#2180b1,#237fb1,#1887b4,#1191b3,#0e98b2,#0e98b2,#0d9bb1,#0ea8af,#19b7ae,#37bfad,#2fbdad,#13b4ae,#0ea8af,#0e9ab1,#148cb4,#148ab5,#0e98b2,#0ea9af,#1db8ae,#4cc5ac,#65cdac,#6dcfac,#6dcfac,#76d2ac,#97dcac,#c1ebb0,#e7f5bc,#fafac0,#fdf3b2,#fce89f,#fbe193,#fbe090,#fce79c,#fdf4b3,#fefbc0,#fdf6b7,#fce9a1,#fbdb89,#f8c76a,#f3a63e,#ea7912,#ca4739,#af254a,#b32a4a,#d1502e,#eb7f18,#f4aa43,#fad177,#fef9bd,#d8f1b7,#a8e2ae,#7ed5ac,#5dcaac,#47c4ac,#3dc1ad,#3cc1ad,#45c3ac,#5ecbac,#8dd9ac,#bbe9af,#def3b9,#f6f9c0,#fdf5b6,#fce498,#fbdf8f,#fceaa2,#fafac0,#d2f0b5,#a4e1ad,#7fd5ac,#5ac9ac,#2cbcad,#12b2ae,#10adaf,#10aeaf,#13b5ae,#35bfad,#5bcaac,#77d2ac,#80d5ac,#72d1ac,#4dc6ac,#19b7ae,#0fa9af,#0ca2b0)"></i>
<i style="height:1px;background:linear-gradient(90deg,#1c84b3,#1c84b3,#148cb4,#0f97b2,#0c9eb0,#0b9fb0,#0ba1b0,#0facaf,#27bbad,#41c2ad,#34bead,#13b4ae,#0ea8af,#0e99b2,#148bb5,#1589b5,#0f97b2,#0ea8af,#1fb8ae,#51c7ac,#6aceac,#71d0ac,#6dcfac,#72d1ac,#91daac,#bae8af,#e0f4b9,#f7fac0,#fdf6b7,#fceaa3,#fce396,#fbe294,#fce9a0,#fdf5b5,#fefbc0,#fdf6b7,#fce9a1,#fbda87,#f8c669,#f3a63e,#ea7b14,#cd4b34,#b32a4a,#b72f49,#d3532b,#ec8019,#f4ab44,#fad177,#fefabe,#d8f1b7,#a8e2ae,#7dd4ac,#5bcaac,#44c3ad,#38c0ad,#36bfad,#3dc1ad,#57c9ac,#86d7ac,#b7e7af,#ddf3b8,#f6fac0,#fdf3b1,#fbe192,#fbda86,#fce295,#fefabe,#dcf3b8,#ace4ae,#88d8ac,#61ccac,#2fbdad,#11b1ae,#0fabaf,#0facaf,#12b2ae,#2cbcad,#53c7ac,#6fd0ac,#77d2ac,#69ceac,#43c3ad,#13b4ae,#0ea7af,#0c9eb1)"></i>
<i style="height:1px;background:linear-gradient(90deg,#1688b5,#1589b5,#1191b3,#0c9db1,#0ca3b0,#0ca4b0,#0da6af,#11b0ae,#36bfad,#4cc5ac,#3ac0ad,#13b5ae,#0ea8af,#0e99b2,#148ab5,#1688b5,#1096b2,#0ea8af,#22b9ae,#57c9ac,#71d1ac,#75d2ac,#6ed0ac,#6ed0ac,#8ad8ac,#b2e6af,#d9f2b7,#f5f9c0,#fef9bc,#fdeca6,#fce599,#fce497,#fceaa3,#fdf6b7,#fdfbc0,#fdf6b7,#fce9a1,#fbda86,#f8c568,#f4a73f,#eb7e17,#d0502f,#b83049,#bb3449,#d65727,#ec831b,#f4ac46,#fad278,#fefabe,#d7f1b6,#a7e2ae,#7bd4ac,#59c9ac,#41c2ad,#34bfad,#31bead,#38c0ad,#51c7ac,#81d5ac,#b4e6af,#dcf3b8,#f7fac0,#fdf0ad,#fbdd8c,#fad57d,#fbdb88,#fdf2b0,#e6f5bc,#b4e6af,#90daac,#67ceac,#32bead,#11b0ae,#0fa9af,#0fa9af,#11b0ae,#25baad,#4cc5ac,#68ceac,#70d0ac,#61ccac,#3bc1ad,#12b2ae,#0da5b0,#0e9ab1)"></i>
<i style="height:1px;background:linear-gradient(90deg,#148bb5,#138db4,#0f97b2,#0ca1b0,#0ea7af,#0ea8af,#0faaaf,#13b5ae,#45c4ac,#57c9ac,#3fc2ad,#14b5ae,#0ea8af,#0e99b1,#148bb5,#1688b5,#1095b2,#0ea8af,#26bbad,#5fcbac,#79d3ac,#7cd4ac,#70d0ac,#6bcfac,#82d6ac,#abe3ae,#d2f0b5,#f3f9c0,#fefbc0,#fdeeaa,#fce79c,#fce69a,#fdeca6,#fef7b9,#fdfbc0,#fef6b8,#fce9a1,#fbda86,#f8c568,#f4a840,#ec8019,#d4552a,#bd3648,#c03a48,#d95b22,#ed851e,#f5ae48,#fad279,#fefbbf,#d7f1b6,#a6e1ad,#79d3ac,#57c9ac,#3fc2ad,#32bead,#2dbdad,#34bead,#4dc6ac,#7dd4ac,#b2e5ae,#dcf3b8,#f9fac0,#fdeda8,#fbda86,#fad076,#fad37b,#fceaa2,#f0f8bf,#bbe9af,#97dcac,#6fd0ac,#36bfad,#11b0ae,#0ea8af,#0ea8af,#10aeaf,#20b9ae,#47c4ac,#64ccac,#6bcfac,#5ccaac,#36bfad,#11b1ae,#0ca3b0,#0e98b2)"></i>
<i style="height:1px;background:linear-gradient(90deg,#138eb4,#1191b3,#0d9bb1,#0da5b0,#0faaaf,#10acaf,#11afaf,#23baae,#55c8ac,#62ccac,#45c4ac,#16b6ae,#0ea9af,#0e9ab1,#148bb5,#1688b5,#1095b2,#0ea9af,#2cbcad,#67ceac,#82d6ac,#83d6ac,#72d1ac,#68ceac,#7bd4ac,#a4e1ad,#cbeeb2,#edf7be,#fcfbc0,#fdf0ad,#fce89f,#fce79d,#fdeea9,#fef8bb,#fcfbc0,#fef7b9,#fceaa2,#fbda86,#f8c568,#f4a942,#ec831c,#d75a24,#c23c46,#c44041,#dc601d,#ed8821,#f5b04b,#fad47b,#fefbc0,#d6f1b6,#a4e1ad,#77d3ac,#55c8ac,#3ec1ad,#30bdad,#2bbcad,#31bead,#4ac5ac,#7ad3ac,#b0e5ae,#ddf3b8,#fafac0,#fceba3,#fad780,#f9cc70,#f9cd72,#fce294,#f6f9c0,#c2ebb0,#9edfad,#76d2ac,#3bc1ad,#11b0ae,#0ea7af,#0da6af,#10adaf,#1cb8ae,#45c3ac,#60cbac,#67ceac,#58c9ac,#33bead,#11b0ae,#0ca3b0,#0f97b2)"></i>
<i style="height:1px;background:linear-gradient(90deg,#1291b3,#1095b2,#0ba0b0,#0ea8af,#10aeaf,#11b0ae,#12b3ae,#36bfad,#64cdac,#6ccfac,#4cc5ac,#19b7ae,#0fa9af,#0d9bb1,#148cb4,#1589b5,#1096b2,#0fa9af,#32bead,#71d0ac,#8dd9ac,#8bd9ac,#75d2ac,#64cdac,#74d1ac,#9cdead,#c5ecb0,#e8f6bc,#fbfac0,#fdf2b0,#fceaa2,#fce9a0,#fdefab,#fef9bd,#fcfbc0,#fef8bb,#fceba4,#fbda86,#f8c568,#f4aa44,#ed871f,#db5f1e,#c6433e,#c9463a,#e06517,#ee8c24,#f5b24e,#fad57e,#fdfbc0,#d5f1b6,#a3e0ad,#75d2ac,#54c8ac,#3dc1ad,#2ebdad,#29bbad,#30bdad,#49c5ac,#79d3ac,#afe4ae,#ddf3b8,#fbfac0,#fce89e,#fad37b,#f8c86b,#f8c76a,#fbda87,#f9fac0,#c9edb1,#a4e1ad,#7dd4ac,#41c2ad,#11b1ae,#0ea7af,#0da5b0,#0facaf,#1ab7ae,#43c3ad,#5fcbac,#65cdac,#56c8ac,#31bead,#11b0ae,#0ca3b0,#0f98b2)"></i>
<i style="height:1px;background:linear-gradient(90deg,#1094b3,#0e99b1,#0ca3b0,#0facaf,#12b2ae,#13b5ae,#20b9ae,#48c4ac,#73d1ac,#77d2ac,#52c7ac,#1db8ae,#0faaaf,#0c9db1,#138db4,#158ab5,#0f97b2,#0faaaf,#3ac0ad,#7bd4ac,#97dcac,#94dbac,#78d3ac,#62ccac,#6dcfac,#96dcac,#beeaaf,#e3f5ba,#f9fac0,#fdf3b3,#fceba4,#fceaa3,#fdf1ae,#fefabf,#fbfbc0,#fef9bd,#fceca5,#fbda87,#f8c668,#f4ac46,#ee8a23,#e06517,#cb4937,#ce4c33,#e46a11,#ef9028,#f6b551,#fad781,#fdfbc0,#d4f0b5,#a1e0ad,#72d1ac,#52c7ac,#3cc1ad,#2ebdad,#28bbad,#2fbdad,#49c5ac,#78d3ac,#aee4ae,#def3b9,#fcfbc0,#fce599,#fad177,#f8c465,#f7c162,#fad37a,#fdfbc0,#cfefb3,#aae3ae,#85d7ac,#47c4ac,#12b2ae,#0ea7af,#0da4b0,#0fabaf,#19b7ae,#43c3ad,#5ecbac,#64cdac,#55c8ac,#31bead,#11b0ae,#0ca4b0,#0e99b2)"></i>
<i style="height:1px;background:linear-gradient(90deg,#0f96b2,#0c9db1,#0da6af,#11afaf,#16b6ae,#23b9ae,#32bead,#5acaac,#82d6ac,#82d6ac,#58c9ac,#21b9ae,#0fabaf,#0b9fb0,#128fb4,#148bb5,#0f98b2,#0facaf,#42c3ad,#86d7ac,#a1e0ad,#9bdead,#7cd4ac,#5fcbac,#66cdac,#8ed9ac,#b8e8af,#def3b9,#f8fac0,#fdf5b5,#fdeca6,#fceca5,#fdf2b0,#fefbc0,#fbfac0,#fefabf,#fdeda7,#fbdb88,#f8c669,#f5ad48,#ee8e26,#e46a11,#d0502f,#d3532b,#e8700a,#f0942c,#f6b755,#fbd985,#fcfbc0,#d3f0b5,#9fdfad,#70d0ac,#51c7ac,#3cc1ad,#2ebdad,#28bbad,#30bdad,#4bc5ac,#78d3ac,#ade4ae,#dff3b9,#fefbc0,#fce295,#f9ce73,#f7c060,#f7bb5a,#f9cc71,#fef7ba,#d5f0b5,#b0e5ae,#8dd9ac,#4dc6ac,#12b2ae,#0ea7af,#0ca4b0,#0fabaf,#1ab7ae,#44c3ad,#5fcbac,#65cdac,#56c8ac,#33bead,#12b1ae,#0da5b0,#0d9bb1)"></i>
<i style="height:1px;background:linear-gradient(90deg,#0e98b2,#0ba0b0,#0ea9af,#12b2ae,#24baad,#33bead,#45c3ac,#6ccfac,#91daac,#8cd9ac,#5ecbac,#25baad,#10adaf,#0ba1b0,#1191b3,#138db4,#0e9ab1,#10adaf,#4cc5ac,#92dbac,#abe3ae,#a4e1ad,#81d5ac,#5dcbac,#60cbac,#87d7ac,#b2e6ae,#daf2b7,#f6fac0,#fef7b8,#fdeea9,#fdeda8,#fdf3b2,#fdfbc0,#fafac0,#fefbc0,#fdeeaa,#fbdc8a,#f8c76a,#f5af4a,#ef922a,#e8700a,#d65727,#d85a23,#e9760f,#f19930,#f6ba59,#fbdc89,#fcfbc0,#d2f0b5,#9ddead,#6dcfac,#4fc6ac,#3cc1ad,#2ebdad,#29bbad,#32bead,#4dc6ac,#79d3ac,#ade4ae,#e0f4b9,#fefabe,#fbe090,#f9cc70,#f7bc5b,#f6b552,#f8c669,#fdf2b0,#daf2b7,#b6e7af,#94dbac,#54c8ac,#12b4ae,#0ea7af,#0ca4b0,#0fabaf,#1cb8ae,#47c4ac,#61ccac,#66cdac,#57c9ac,#36bfad,#12b3ae,#0ea7af,#0c9eb0)"></i>
<i style="height:1px;background:linear-gradient(90deg,#0d9bb1,#0ca3b0,#0facaf,#14b5ae,#32bead,#44c3ad,#58c9ac,#7dd4ac,#9ddead,#96dcac,#64cdac,#29bbad,#10aeaf,#0ca2b0,#1094b3,#128fb4,#0d9cb1,#11afaf,#56c8ac,#9ddead,#b6e7af,#ace4ae,#86d7ac,#5ccaac,#5bcaac,#80d5ac,#ade4ae,#d5f1b6,#f5f9c0,#fef8bb,#fdefab,#fdeeaa,#fdf5b5,#fcfbc0,#f9fac0,#fdfbc0,#fdf0ac,#fbdd8b,#f8c86b,#f5b14c,#f0952d,#e9760f,#db5e1e,#dd611b,#ea7c15,#f29d35,#f7be5e,#fbde8d,#fbfac0,#d1efb4,#9bdead,#6acfac,#4ec6ac,#3dc1ad,#30bdad,#2bbcad,#35bfad,#50c7ac,#7bd4ac,#aee4ae,#e2f4ba,#fef8ba,#fbdd8c,#f9c96d,#f6b856,#f5b04b,#f7c061,#fdeda7,#e0f4b9,#bce9af,#9adead,#5bcaac,#13b5ae,#0ea8af,#0ca4b0,#0fabaf,#1eb8ae,#4ac5ac,#63ccac,#68ceac,#5acaac,#3ac0ad,#13b4ae,#0ea9af,#0ba1b0)"></i>
<i style="height:1px;background:linear-gradient(90deg,#0c9db1,#0da5b0,#10aeaf,#20b9ae,#40c2ad,#55c8ac,#6aceac,#8edaac,#a9e2ae,#9edfad,#6aceac,#2ebdad,#11afaf,#0ca4b0,#0f96b2,#1192b3,#0c9fb0,#11b1ae,#60ccac,#a7e2ae,#c1ebb0,#b5e7af,#8bd9ac,#5bcaac,#56c8ac,#79d3ac,#a8e2ae,#d1efb4,#f4f9c0,#fefabe,#fdf1ae,#fdf0ac,#fdf6b7,#fbfbc0,#f8fac0,#fcfbc0,#fdf1af,#fbde8d,#f8c96c,#f5b34f,#f19931,#ea7b15,#e06616,#e36912,#ec821b,#f3a239,#f7c162,#fbe192,#fafac0,#d0efb4,#99ddad,#68ceac,#4dc6ac,#3dc1ad,#31bead,#2dbdad,#38c0ad,#54c8ac,#7dd4ac,#aee4ae,#e3f4ba,#fdf6b6,#fbdb87,#f8c76a,#f6b552,#f4aa44,#f6bb5a,#fce89e,#e6f5bb,#c2ebb0,#a1e0ad,#62ccac,#18b6ae,#0ea8af,#0da4b0,#0facaf,#22b9ae,#4ec6ac,#66cdac,#6bcfac,#5dcbac,#3fc2ad,#17b6ae,#0facaf,#0ca4b0)"></i>
<i style="height:1px;background:linear-gradient(90deg,#0b9fb0,#0ea7af,#11b1ae,#2bbcad,#4dc6ac,#64cdac,#7bd4ac,#9ddead,#b4e6af,#a6e1ae,#70d0ac,#33bead,#11b1ae,#0da6af,#0e99b1,#1095b2,#0ba1b0,#12b3ae,#6bcfac,#b2e6af,#cbeeb2,#beeaaf,#91daac,#5bcaac,#52c7ac,#74d2ac,#a3e0ad,#cdeeb3,#f2f9c0,#fefbc0,#fdf2b0,#fdf1af,#fef7ba,#fbfac0,#f8fac0,#fbfac0,#fdf3b1,#fbdf8f,#f9ca6d,#f6b552,#f29d34,#ec811a,#e66d0e,#e8700a,#ed8820,#f4a73f,#f8c567,#fce397,#f9fac0,#cfefb3,#97dcac,#65cdac,#4bc5ac,#3ec2ad,#33bead,#30bdad,#3cc1ad,#58c9ac,#80d5ac,#afe5ae,#e4f5bb,#fdf4b3,#fbd883,#f8c567,#f5b24e,#f3a53d,#f6b552,#fce395,#ebf7bd,#c7edb1,#a7e2ae,#69ceac,#1eb8ae,#0fa9af,#0da5b0,#10acaf,#27bbad,#52c7ac,#6aceac,#6ed0ac,#62ccac,#45c4ac,#20b9ae,#10aeaf,#0ea7af)"></i>
<i style="height:1px;background:linear-gradient(90deg,#0ba1b0,#0ea9af,#12b3ae,#36bfad,#5bcaac,#74d1ac,#8dd9ac,#abe3ae,#bfeaaf,#ade4ae,#76d2ac,#38c0ad,#12b3ae,#0ea8af,#0c9db1,#0f98b2,#0ca3b0,#16b6ae,#77d2ac,#bde9af,#d6f1b6,#c7edb1,#96dcac,#5ccaac,#4fc6ac,#70d0ac,#9fdfad,#caedb2,#eff8be,#fdfbc0,#fdf4b3,#fdf3b2,#fef9bc,#fafac0,#f7fac0,#fafac0,#fdf4b4,#fbe091,#f9cb6f,#f6b754,#f2a038,#ed861f,#e9740e,#ea7711,#ee8e26,#f4ac45,#f8c86c,#fce69b,#f8fac0,#cdeeb3,#96dcac,#62ccac,#4bc5ac,#40c2ad,#36bfad,#33bead,#41c2ad,#5dcaac,#83d6ac,#b0e5ae,#e6f5bb,#fdf2b0,#fad67f,#f8c365,#f5af4a,#f2a138,#f5b04b,#fbde8d,#f1f8bf,#cdeeb3,#ade4ae,#70d0ac,#24baad,#0fabaf,#0da6af,#10aeaf,#2cbcad,#57c9ac,#6ed0ac,#72d1ac,#66cdac,#4cc5ac,#29bbad,#12b1ae,#0faaaf)"></i>
<i style="height:1px;background:linear-gradient(90deg,#0ca2b0,#0fabaf,#16b6ae,#41c2ad,#67ceac,#83d6ac,#9cdead,#b8e7af,#c9edb1,#b4e6af,#7cd4ac,#3dc1ad,#13b4ae,#0faaaf,#0ba0b0,#0d9bb1,#0da5af,#20b9ae,#83d6ac,#c8edb1,#e0f4b9,#cfefb4,#9cdead,#5dcbac,#4dc6ac,#6ccfac,#9cdead,#c7ecb1,#ebf7bd,#fbfbc0,#fdf5b6,#fdf5b5,#fefbbf,#f9fac0,#f6fac0,#f9fac0,#fdf6b6,#fbe193,#f9cc70,#f6b857,#f3a43b,#ee8c24,#ea7b14,#eb7e17,#f0942c,#f5b04c,#f9cc71,#fce9a0,#f7fac0,#cceeb2,#94dbac,#60cbac,#4ac5ac,#41c2ad,#38c0ad,#37bfad,#46c4ac,#62ccac,#86d7ac,#b2e5ae,#e8f6bc,#fdf0ad,#fad47c,#f7c163,#f4ac46,#f19c33,#f4ab45,#fbd985,#f4f9c0,#d2f0b4,#b3e6af,#77d3ac,#2bbcad,#10acaf,#0ea7af,#11afaf,#31bead,#5ccaac,#72d1ac,#77d2ac,#6bcfac,#53c7ac,#32bead,#13b4ae,#10adaf)"></i>
<i style="height:1px;background:linear-gradient(90deg,#0ca4b0,#10adaf,#1fb8ae,#4cc5ac,#73d1ac,#92dbac,#aae3ae,#c4ecb0,#d1f0b4,#bbe9af,#82d6ac,#43c3ad,#16b6ae,#0fabaf,#0ca2b0,#0b9fb0,#0ea8af,#2cbcad,#90daac,#d3f0b5,#eaf6bd,#d8f1b6,#a1e0ad,#60cbac,#4cc6ac,#6aceac,#99ddad,#c4ecb0,#e8f6bc,#fafac0,#fef7b9,#fef7b8,#fdfbc0,#f8fac0,#f5f9c0,#f8fac0,#fef7b9,#fce395,#f9cd72,#f6ba59,#f4a740,#ef9129,#ec811a,#ed851e,#f19a32,#f6b552,#fad075,#fceca5,#f6fac0,#cbeeb2,#92dbac,#5ecbac,#49c5ac,#43c3ad,#3bc1ad,#3bc0ad,#4bc5ac,#67cdac,#8ad8ac,#b3e6af,#e9f6bd,#fdeeaa,#fad279,#f7c061,#f4aa43,#f1972f,#f3a63e,#fad47c,#f7fac0,#d7f1b6,#b8e8af,#7ed5ac,#32bead,#10adaf,#0ea8af,#11b0ae,#37bfad,#61ccac,#77d2ac,#7bd4ac,#70d0ac,#5acaac,#3bc1ad,#1bb7ae,#11b0ae)"></i>
<i style="height:1px;background:linear-gradient(90deg,#0da5b0,#11aeaf,#27bbad,#56c8ac,#7fd5ac,#9fdfad,#b7e7af,#cfefb4,#daf2b7,#c1ebb0,#87d7ac,#48c4ac,#1db8ae,#10adaf,#0da4b0,#0ca2b0,#0fabaf,#37bfad,#9bdead,#ddf3b8,#f3f9c0,#e0f4b9,#a7e2ae,#63ccac,#4dc6ac,#69ceac,#98ddac,#c1ebb0,#e5f5bb,#f9fac0,#fef9bd,#fef9bc,#fcfbc0,#f7fac0,#f5f9c0,#f7fac0,#fef8bb,#fce497,#f9ce73,#f7bc5b,#f4aa44,#f0962e,#ed8820,#ee8c24,#f2a138,#f6ba59,#fad37a,#fdefaa,#f6f9c0,#c9edb2,#90daac,#5ccaac,#49c5ac,#44c3ad,#3ec1ad,#3fc2ad,#50c7ac,#6ccfac,#8dd9ac,#b5e6af,#ebf7bd,#fdeda7,#fad178,#f7bf5f,#f4a740,#f0942c,#f3a239,#fad076,#f9fac0,#ddf3b8,#beeaaf,#85d7ac,#38c0ad,#11afaf,#0faaaf,#12b2ae,#3dc1ad,#67cdac,#7bd4ac,#7fd5ac,#76d2ac,#61ccac,#45c3ac,#26baad,#12b3ae)"></i>
<i style="height:1px;background:linear-gradient(90deg,#0da6af,#11b0ae,#2fbdad,#60cbac,#8bd9ac,#aae3ae,#c4ecb0,#daf2b7,#e1f4ba,#c6ecb0,#8cd9ac,#4ec6ac,#23baae,#11afaf,#0ea7af,#0da5b0,#10aeaf,#44c3ad,#a6e1ad,#e8f6bc,#f7fac0,#e7f6bc,#ade4ae,#68ceac,#4fc6ac,#69ceac,#96dcac,#bfeab0,#e3f4ba,#f8fac0,#fefbc0,#fefbc0,#fbfac0,#f6fac0,#f4f9c0,#f7fac0,#fef9bd,#fce599,#f9cf74,#f7be5d,#f4ad47,#f19a32,#ee8e26,#ef922a,#f3a63e,#f7bf5f,#fad882,#fdf1af,#f5f9c0,#c8edb1,#8edaac,#5bcaac,#49c5ac,#46c4ac,#41c2ad,#43c3ad,#55c8ac,#71d0ac,#91daac,#b6e7af,#ecf7be,#fceca5,#fad076,#f7be5d,#f3a53d,#ef9028,#f29d35,#f9cc71,#fcfbc0,#e2f4ba,#c3ebb0,#8bd9ac,#3fc2ad,#11b1ae,#0facaf,#12b4ae,#44c3ad,#6ccfac,#7fd5ac,#84d6ac,#7bd4ac,#68ceac,#4ec6ac,#31bead,#17b6ae)"></i>
<i style="height:1px;background:linear-gradient(90deg,#0ea8af,#12b2ae,#37bfad,#69ceac,#96dcac,#b6e7af,#d0efb4,#e4f5bb,#e8f6bc,#caeeb2,#92dbac,#54c8ac,#29bbad,#12b1ae,#0ea9af,#0ea7af,#11b1ae,#51c7ac,#b1e5ae,#f2f9c0,#fbfac0,#eff8bf,#b3e6af,#6dcfac,#53c8ac,#6bcfac,#96dcac,#bde9af,#e0f4b9,#f6fac0,#fcfbc0,#fdfbc0,#f9fac0,#f5f9c0,#f3f9c0,#f6fac0,#fefabf,#fce59a,#f9cf75,#f7bf5f,#f5af4b,#f29f36,#f0942b,#f19930,#f4ac46,#f8c365,#fbdc89,#fdf4b4,#f4f9c0,#c7edb1,#8dd9ac,#5ac9ac,#49c5ac,#47c4ac,#44c3ad,#47c4ac,#5ac9ac,#75d2ac,#94dbac,#b8e8af,#edf7be,#fceba4,#f9cf75,#f7bd5c,#f3a43b,#ee8d25,#f19a31,#f8c96c,#fefbbf,#e7f6bc,#c8edb1,#91daac,#45c4ac,#12b3ae,#10aeaf,#15b6ae,#4ac5ac,#70d0ac,#83d6ac,#88d8ac,#80d5ac,#6fd0ac,#57c9ac,#3bc0ad,#22b9ae)"></i>
<i style="height:1px;background:linear-gradient(90deg,#0fa9af,#12b3ae,#3ec1ad,#72d1ac,#9fdfad,#c1ebb0,#dbf2b8,#edf7be,#edf7be,#ceefb3,#96dcac,#59c9ac,#2fbdad,#12b3ae,#0fabaf,#0faaaf,#13b4ae,#5fcbac,#bce9af,#f6fac0,#fefbc0,#f4f9c0,#bae8af,#74d1ac,#59c9ac,#6ed0ac,#97dcac,#bbe9af,#ddf3b8,#f5f9c0,#fafac0,#fbfac0,#f8fac0,#f4f9c0,#f1f9bf,#f6f9c0,#fefbc0,#fce69c,#fad076,#f7c061,#f5b24e,#f3a33a,#f19931,#f29f36,#f5b14d,#f8c76b,#fbe090,#fef7b8,#f2f9c0,#c6ecb0,#8cd9ac,#59c9ac,#49c5ac,#49c5ac,#47c4ac,#4bc5ac,#5ecbac,#7ad3ac,#97dcac,#bae8af,#eef8be,#fceaa2,#f9cf74,#f7bc5b,#f3a33a,#ee8b23,#f0962e,#f8c567,#fef7b8,#edf7be,#cdeeb3,#96dcac,#4cc5ac,#13b5ae,#11b0af,#1db8ae,#50c7ac,#75d2ac,#87d7ac,#8bd9ac,#85d7ac,#75d2ac,#5ecbac,#44c3ad,#2cbcad)"></i>
<i style="height:1px;background:linear-gradient(90deg,#0fabaf,#13b5ae,#45c3ac,#7ad3ac,#a8e2ae,#cceeb2,#e6f5bb,#f4f9c0,#f2f9c0,#d1efb4,#99ddad,#5ecbac,#35bfad,#13b5ae,#10aeaf,#10adaf,#1db8ae,#6ccfac,#c7ecb1,#fafac0,#fdf6b7,#f7fac0,#c0eab0,#7cd4ac,#5fcbac,#73d1ac,#98ddac,#bae8af,#daf2b7,#f3f9c0,#f9fac0,#f9fac0,#f6fac0,#f3f9c0,#f0f8bf,#f5f9c0,#fefbc0,#fce79d,#fad177,#f7c162,#f5b450,#f3a63e,#f29e36,#f3a43c,#f6b653,#f9cc70,#fce397,#fef9bd,#f0f8bf,#c4ecb0,#8bd9ac,#59c9ac,#4ac5ac,#4bc5ac,#4ac5ac,#4fc6ac,#63ccac,#7ed5ac,#99ddad,#bbe9af,#eff8bf,#fceaa2,#f9ce74,#f7bc5b,#f3a239,#ed8921,#f0932b,#f7c163,#fdf2b1,#f3f9c0,#d1efb4,#9addad,#52c7ac,#19b7ae,#12b2ae,#24baad,#56c8ac,#79d3ac,#8ad8ac,#8fdaac,#8ad8ac,#7bd4ac,#66cdac,#4cc5ac,#35bfad)"></i>
<i style="height:1px;background:linear-gradient(90deg,#10adaf,#18b7ae,#4cc5ac,#82d6ac,#b0e5ae,#d5f1b6,#f0f8bf,#f7fac0,#f4f9c0,#d4f0b5,#9ddead,#63ccac,#3bc1ad,#1ab7ae,#11b0ae,#11b0ae,#2abcad,#7ad3ac,#d1efb4,#fefbc0,#fdf1af,#f9fac0,#c7edb1,#85d7ac,#68ceac,#79d3ac,#9addad,#bae8af,#d7f1b6,#eff8bf,#f7fac0,#f7fac0,#f4f9c0,#f0f8bf,#eef8be,#f5f9c0,#fefbc0,#fce79d,#fad278,#f8c264,#f6b552,#f4a943,#f3a33a,#f4aa43,#f6bb5a,#fad076,#fce79d,#fefbc0,#edf7be,#c3ebb0,#8ad8ac,#59c9ac,#4bc5ac,#4cc5ac,#4dc6ac,#53c8ac,#67cdac,#82d6ac,#9cdead,#bde9af,#f0f8bf,#fce9a1,#f9ce74,#f7bc5b,#f3a138,#ed8720,#ef9028,#f7be5e,#fdeea9,#f5f9c0,#d5f0b5,#9edfad,#57c9ac,#21b9ae,#13b4ae,#2dbcad,#5ccaac,#7cd4ac,#8cd9ac,#92dbac,#8edaac,#81d5ac,#6ccfac,#54c8ac,#3dc1ad)"></i>
<i style="height:1px;background:linear-gradient(90deg,#10aeaf,#1eb8ae,#52c7ac,#8ad8ac,#b9e8af,#dff3b9,#f5f9c0,#fafac0,#f6f9c0,#d6f1b6,#a0dfad,#68ceac,#40c2ad,#20b9ae,#12b2ae,#12b3ae,#38c0ad,#88d8ac,#dbf2b8,#fdf6b7,#fdeda7,#fbfbc0,#cdeeb3,#8edaac,#71d1ac,#80d5ac,#9ddead,#b9e8af,#d5f0b5,#ebf7bd,#f4f9c0,#f5f9c0,#f2f9c0,#ecf7be,#edf7be,#f5f9c0,#fdfbc0,#fce89e,#fad279,#f8c365,#f6b754,#f4ac46,#f4a840,#f5af49,#f7bf60,#fad47b,#fceaa3,#fcfbc0,#ebf7bd,#c2ebb0,#8ad8ac,#5ac9ac,#4cc5ac,#4ec6ac,#50c6ac,#57c9ac,#6bcfac,#85d7ac,#9edfad,#beeaaf,#f1f8bf,#fce9a1,#f9cf74,#f7bc5b,#f3a138,#ed861f,#ee8e26,#f6ba59,#fce9a1,#f7fac0,#d9f2b7,#a1e0ad,#5ccaac,#29bbad,#1ab7ae,#35bfad,#61ccac,#80d5ac,#8fdaac,#94dbac,#92dbac,#86d7ac,#72d1ac,#5acaac,#44c3ad)"></i>
<i style="height:1px;background:linear-gradient(90deg,#11b0ae,#23baae,#57c9ac,#91daac,#c1eab0,#e7f6bc,#f9fac0,#fcfbc0,#f7fac0,#d7f1b6,#a3e0ad,#6dcfac,#45c3ac,#25baad,#13b4ae,#17b6ae,#46c4ac,#96dcac,#e5f5bb,#fdf0ae,#fce9a0,#fefbc0,#d3f0b5,#98ddac,#7bd4ac,#88d7ac,#a0dfad,#b9e8af,#d2f0b5,#e6f5bc,#f1f9bf,#f2f9c0,#edf7be,#e9f6bd,#ebf7bd,#f4f9c0,#fdfbc0,#fce89e,#fad279,#f8c466,#f6b856,#f5af4a,#f4ac45,#f5b350,#f8c466,#fad883,#fdeea9,#fafac0,#e8f6bc,#c0eab0,#8ad8ac,#5bcaac,#4dc6ac,#4fc6ac,#53c7ac,#5bcaac,#6ed0ac,#88d8ac,#a0dfad,#c0eab0,#f1f9bf,#fceaa1,#f9cf75,#f7bc5b,#f3a138,#ed851e,#ee8c24,#f6b755,#fce599,#fafac0,#dcf3b8,#a4e1ad,#61ccac,#31bead,#24baad,#3ec1ad,#67cdac,#83d6ac,#91daac,#96dcac,#96dcac,#8cd9ac,#78d3ac,#60cbac,#4bc5ac)"></i>
<i style="height:1px;background:linear-gradient(90deg,#12b2ae,#28bbad,#5ccaac,#97dcac,#c8edb1,#f0f8bf,#fcfbc0,#fefabf,#f7fac0,#d8f1b7,#a5e1ad,#71d1ac,#49c5ac,#2abcad,#18b6ae,#22b9ae,#54c8ac,#a1e0ad,#eff8bf,#fceca5,#fce59a,#fef9bc,#d9f2b7,#a1e0ad,#87d7ac,#90daac,#a4e1ad,#bae8af,#cfefb4,#e2f4ba,#ecf7bd,#ecf7be,#e8f6bc,#e6f5bc,#eaf6bd,#f4f9c0,#fdfbc0,#fce89f,#fad37a,#f8c466,#f6b957,#f5b14d,#f5af4a,#f6b856,#f8c86b,#fbdc8a,#fdf1ae,#f9fac0,#e6f5bb,#bfeab0,#8ad8ac,#5ccaac,#4ec6ac,#51c7ac,#55c8ac,#5ecbac,#72d1ac,#8bd8ac,#a2e0ad,#c1ebb0,#f2f9c0,#fceaa2,#f9cf75,#f7bc5c,#f3a138,#ed851e,#ee8a23,#f5b450,#fbe091,#fcfbc0,#e0f4b9,#a7e2ae,#66cdac,#39c0ad,#2ebdad,#47c4ac,#6ccfac,#86d7ac,#93dbac,#99ddac,#99ddac,#91daac,#7dd4ac,#66cdac,#52c7ac)"></i>
<i style="height:1px;background:linear-gradient(90deg,#12b3ae,#2cbcad,#61ccac,#9cdead,#ceefb3,#f5f9c0,#fef9bc,#fef7ba,#f8fac0,#d8f1b7,#a8e2ae,#75d2ac,#4dc6ac,#2ebdad,#1fb8ae,#2dbdad,#61ccac,#ace4ae,#f5f9c0,#fce79d,#fbe294,#fdf6b7,#e0f4b9,#aae3ae,#93dbac,#98ddac,#a8e2ae,#bae8af,#cdeeb3,#ddf3b8,#e6f5bb,#e6f5bb,#e3f5bb,#e3f4ba,#e8f6bc,#f4f9c0,#fefbc0,#fce89f,#fad37a,#f8c567,#f6ba58,#f5b34f,#f5b34f,#f7bc5b,#f9cc71,#fbe091,#fdf4b4,#f7fac0,#e3f5ba,#bee9af,#8ad8ac,#5dcbac,#50c6ac,#53c7ac,#58c9ac,#62ccac,#75d2ac,#8dd9ac,#a4e1ad,#c3ebb0,#f2f9c0,#fceaa3,#fad076,#f7bd5d,#f3a139,#ed851e,#ed8921,#f5b14c,#fbdb89,#fefbbf,#e3f5bb,#aae3ae,#6bcfac,#42c2ad,#39c0ad,#50c7ac,#71d1ac,#89d8ac,#95dcac,#9bdead,#9cdead,#95dcac,#82d6ac,#6bcfac,#57c9ac)"></i>
<i style="height:1px;background:linear-gradient(90deg,#13b5ae,#31bead,#65cdac,#a1e0ad,#d4f0b5,#f8fac0,#fdf4b5,#fdf5b5,#f8fac0,#d8f1b7,#a9e3ae,#79d3ac,#4fc6ac,#31bead,#25baad,#37c0ad,#6dcfac,#b7e7af,#f9fac0,#fce395,#fbdf8f,#fdf3b3,#e6f5bb,#b4e6af,#9ddead,#a0e0ad,#ade4ae,#bbe8af,#caeeb2,#d9f2b7,#e0f4b9,#e0f4b9,#def3b9,#e0f4b9,#e7f6bc,#f4f9c0,#fefbc0,#fce89f,#fad37b,#f8c567,#f6ba59,#f6b552,#f6b653,#f7c060,#fad076,#fce498,#fef7b9,#f6fac0,#e0f4ba,#bce9af,#8bd9ac,#5fcbac,#51c7ac,#54c8ac,#5acaac,#65cdac,#78d3ac,#90daac,#a5e1ad,#c4ecb0,#f3f9c0,#fceba4,#fad177,#f7be5e,#f3a239,#ed851e,#ed8820,#f5ae48,#fad781,#fef7b9,#e7f6bc,#ade4ae,#70d0ac,#4ac5ac,#44c3ad,#59c9ac,#77d2ac,#8cd9ac,#96dcac,#9ddead,#a0dfad,#99ddac,#87d7ac,#70d0ac,#5dcaac)"></i>
<i style="height:1px;background:linear-gradient(90deg,#1ab7ae,#35bfad,#6aceac,#a6e1ad,#daf2b7,#fafac0,#fdf1ae,#fdf3b1,#f8fac0,#d8f1b7,#abe3ae,#7cd4ac,#51c7ac,#34bead,#2bbcad,#41c2ad,#79d3ac,#c2ebb0,#fcfbc0,#fbdf8e,#fbdc8a,#fdf1af,#ecf7bd,#bde9af,#a7e2ae,#a9e2ae,#b1e5ae,#bbe9af,#c8edb1,#d4f0b5,#daf2b7,#daf2b7,#d9f2b7,#ddf3b8,#e6f5bb,#f4f9c0,#fefbc0,#fce89f,#fad47b,#f8c567,#f6bb5a,#f6b754,#f6b957,#f8c465,#fad47b,#fce89e,#fefabe,#f5f9c0,#def3b9,#bae8af,#8bd9ac,#61ccac,#53c7ac,#56c8ac,#5ccaac,#68ceac,#7ad3ac,#92dbac,#a7e2ae,#c5ecb0,#f3f9c0,#fceca5,#fad278,#f7bf5f,#f3a33a,#ed861e,#ed871f,#f4ab44,#fad279,#fdf4b3,#eaf6bd,#b0e5ae,#75d2ac,#53c7ac,#4ec6ac,#62ccac,#7cd4ac,#8fdaac,#98ddac,#9fdfad,#a3e0ad,#9ddead,#8cd9ac,#75d2ac,#62ccac)"></i>
<i style="height:1px;background:linear-gradient(90deg,#20b9ae,#39c0ad,#6ed0ac,#aae3ae,#dff3b9,#fdfbc0,#fdeda8,#fdf1ae,#f8fac0,#d7f1b6,#ace4ae,#7ed5ac,#53c7ac,#35bfad,#2fbdad,#4ac5ac,#84d6ac,#cbeeb2,#fef9bd,#fbdb88,#fbda86,#fdefab,#f1f9bf,#c7edb1,#b2e5ae,#b1e5ae,#b6e7af,#bce9af,#c6ecb0,#d0efb4,#d5f0b5,#d4f0b5,#d4f0b5,#d9f2b7,#e5f5bb,#f4f9c0,#fefbc0,#fce89e,#fad47b,#f8c568,#f7bb5a,#f6b856,#f7bc5b,#f8c76a,#fad882,#fceba4,#fdfbc0,#f3f9c0,#dbf2b7,#b9e8af,#8cd9ac,#63ccac,#55c8ac,#57c9ac,#5ecbac,#6bcfac,#7dd4ac,#93dbac,#a8e2ae,#c7ecb1,#f3f9c0,#fdeca7,#fad37a,#f7c060,#f3a43b,#ed861f,#ed861f,#f4a841,#f9cf74,#fdf0ad,#edf7be,#b3e6af,#7ad3ac,#5bcaac,#59c9ac,#6bcfac,#82d6ac,#92dbac,#9addad,#a1e0ad,#a6e2ae,#a1e0ad,#91daac,#79d3ac,#67ceac)"></i>
<i style="height:1px;background:linear-gradient(90deg,#26bbad,#3dc1ad,#71d1ac,#aee4ae,#e4f5bb,#fef9bd,#fceaa2,#fdefac,#f8fac0,#d6f1b6,#ade4ae,#80d5ac,#53c7ac,#35bfad,#33bead,#52c7ac,#8fdaac,#d3f0b5,#fdf5b5,#fad882,#fbd883,#fdeda8,#f5f9c0,#d0efb4,#bde9af,#bae8af,#bbe9af,#bde9af,#c3ebb0,#cbeeb2,#cfefb3,#ceefb3,#cfefb4,#d6f1b6,#e3f5bb,#f4f9c0,#fefbbf,#fce89e,#fad47c,#f8c568,#f7bc5b,#f6b958,#f7be5f,#f9ca6e,#fbdb89,#fdeeaa,#fbfac0,#eff8bf,#d7f1b6,#b7e7af,#8dd9ac,#66cdac,#57c9ac,#58c9ac,#60ccac,#6dd0ac,#7fd5ac,#95dcac,#aae3ae,#c8edb1,#f3f9c0,#fdeda8,#fad47c,#f7c162,#f3a53c,#ed8720,#ed851e,#f3a63e,#f9cb70,#fdeda7,#f1f8bf,#b5e7af,#7fd5ac,#63ccac,#63ccac,#74d1ac,#87d7ac,#94dbac,#9bdead,#a4e1ad,#aae3ae,#a5e1ad,#95dcac,#7ed5ac,#6dcfac)"></i>
<i style="height:1px;background:linear-gradient(90deg,#2cbcad,#41c2ad,#75d2ac,#b1e5ae,#e8f6bc,#fef7b8,#fce89e,#fdefaa,#f7fac0,#d5f0b5,#ade4ae,#81d5ac,#52c7ac,#34bead,#35bfad,#58c9ac,#97dcac,#dbf2b8,#fdf0ad,#fad57d,#fad680,#fceca5,#f7fac0,#d9f2b7,#c7edb1,#c3ebb0,#c0eab0,#beeaaf,#c1ebb0,#c7edb1,#caedb2,#c8edb1,#caedb2,#d3f0b5,#e2f4ba,#f4f9c0,#fefabf,#fce89e,#fad47c,#f8c568,#f7bc5b,#f6ba59,#f7c162,#f9cd72,#fbdf8f,#fdf2b0,#f9fac0,#ebf7bd,#d4f0b5,#b5e7af,#8dd9ac,#68ceac,#59c9ac,#5acaac,#62ccac,#70d0ac,#81d6ac,#96dcac,#abe3ae,#c9edb1,#f3f9c0,#fdeeaa,#fad67e,#f7c263,#f3a63e,#ed8821,#ed851e,#f3a33a,#f8c86b,#fce9a1,#f3f9c0,#b8e8af,#84d6ac,#6bcfac,#6ed0ac,#7cd4ac,#8dd9ac,#97dcac,#9edfad,#a6e2ae,#ade4ae,#a9e3ae,#9addad,#83d6ac,#72d1ac)"></i>
<i style="height:1px;background:linear-gradient(90deg,#32bead,#45c3ac,#78d3ac,#b4e6af,#ebf7bd,#fdf4b4,#fce69b,#fdeea9,#f7fac0,#d3f0b5,#ade4ae,#81d5ac,#50c6ac,#32bead,#36bfad,#5dcbac,#9edfad,#e2f4ba,#fdeda7,#fad279,#fad57e,#fceba3,#f9fac0,#e1f4ba,#d1efb4,#cbeeb2,#c5ecb0,#bfeab0,#bfeaaf,#c2ebb0,#c4ecb0,#c3ebb0,#c6ecb0,#d0efb4,#e1f4ba,#f4f9c0,#fefabf,#fce89e,#fad47c,#f8c568,#f7bc5b,#f7bb5a,#f8c365,#fad076,#fce295,#fdf5b5,#f8fac0,#e7f6bc,#d1efb4,#b3e6af,#8ed9ac,#6bcfac,#5ccaac,#5bcaac,#64cdac,#72d1ac,#83d6ac,#97dcac,#ace4ae,#caedb2,#f3f9c0,#fdefab,#fad781,#f8c365,#f4a73f,#ed8922,#ed851e,#f3a138,#f8c567,#fce69b,#f5f9c0,#bbe9af,#89d8ac,#73d1ac,#78d3ac,#85d7ac,#93dbac,#9addad,#a0dfad,#a9e3ae,#b1e5ae,#aee4ae,#9edfad,#89d8ac,#78d3ac)"></i>
<i style="height:1px;background:linear-gradient(90deg,#38c0ad,#49c5ac,#7bd4ac,#b7e7af,#eef8be,#fdf2b1,#fce498,#fdeea9,#f6fac0,#d1efb4,#ade4ae,#80d5ac,#4cc6ac,#2ebdad,#36bfad,#61ccac,#a3e0ad,#e7f6bc,#fceaa2,#fad177,#fad47c,#fce9a1,#fbfac0,#eaf6bd,#daf2b7,#d2f0b5,#caedb2,#c0eab0,#bce9af,#beeaaf,#beeaaf,#bde9af,#c1ebb0,#cdeeb3,#dff3b9,#f4f9c0,#fefabe,#fce89e,#fad47c,#f8c567,#f7bc5b,#f7bc5b,#f8c567,#fad37a,#fce59a,#fef8ba,#f6fac0,#e3f5bb,#cdeeb3,#b1e5ae,#8edaac,#6dcfac,#5ecbac,#5dcaac,#66cdac,#75d2ac,#85d7ac,#98ddac,#ade4ae,#cbeeb2,#f3f9c0,#fdf0ad,#fbd883,#f8c466,#f4a841,#ee8a23,#ec851e,#f29f36,#f7c163,#fce396,#f6fac0,#beeaaf,#8ed9ac,#7bd4ac,#82d6ac,#8ed9ac,#98ddac,#9ddead,#a3e0ad,#ade4ae,#b6e7af,#b2e6ae,#a2e0ad,#8edaac,#7ed5ac)"></i>
<i style="height:1px;background:linear-gradient(90deg,#3dc1ad,#4dc6ac,#7ed5ac,#b9e8af,#f1f8bf,#fdf1ae,#fce397,#fdeea9,#f5f9c0,#cfefb3,#abe3ae,#7ed5ac,#48c4ac,#29bbad,#34bfad,#64cdac,#a7e2ae,#ecf7be,#fce79e,#f9d075,#fad37b,#fce8a0,#fcfbc0,#f2f9c0,#e3f4ba,#d9f2b7,#ceeeb3,#c1ebb0,#bae8af,#bae8af,#b9e8af,#b8e7af,#bce9af,#caedb2,#def3b9,#f4f9c0,#fefabe,#fce89e,#fad47c,#f8c567,#f7bc5b,#f7bd5c,#f8c769,#fad57e,#fce89f,#fefabf,#f4f9c0,#dff3b9,#c9edb1,#aee4ae,#8fdaac,#70d0ac,#60cbac,#5fcbac,#68ceac,#77d2ac,#87d7ac,#99ddac,#aee4ae,#cceeb3,#f3f9c0,#fdf1af,#fbda86,#f8c568,#f4a943,#ee8b24,#ed851e,#f29d34,#f7bf5f,#fbe091,#f7fac0,#c2ebb0,#93dbac,#83d6ac,#8cd9ac,#96dcac,#9ddead,#a1e0ad,#a6e2ae,#b1e5ae,#bae8af,#b7e7af,#a7e2ae,#94dbac,#84d7ac)"></i>
<i style="height:1px;background:linear-gradient(90deg,#42c2ad,#50c7ac,#81d5ac,#bbe9af,#f2f9c0,#fdf0ad,#fce396,#fdefaa,#f4f9c0,#cdeeb3,#aae3ae,#7bd4ac,#42c2ad,#22b9ae,#31bead,#65cdac,#aae3ae,#f0f8bf,#fce59a,#f9cf74,#fad37a,#fce89e,#fefbc0,#f5f9c0,#ebf7bd,#e0f4b9,#d2f0b4,#c2ebb0,#b8e8af,#b6e7af,#b4e6af,#b2e6af,#b8e7af,#c8edb1,#ddf3b8,#f4f9c0,#fefabe,#fce89e,#fad47c,#f8c567,#f7bc5b,#f7bd5d,#f8c86c,#fad883,#fceba4,#fdfbc0,#f2f9c0,#dbf2b8,#c5ecb0,#abe3ae,#8fdaac,#73d1ac,#63ccac,#60cbac,#69ceac,#78d3ac,#88d8ac,#9addad,#afe5ae,#cdeeb3,#f3f9c0,#fdf2b0,#fbdb88,#f8c669,#f4ab44,#ee8d25,#ed851e,#f19b33,#f7bc5b,#fbdd8b,#f9fac0,#c5ecb0,#98ddac,#8bd9ac,#95dcac,#9ddead,#a2e0ad,#a5e1ad,#aae3ae,#b5e6af,#bfeab0,#bce9af,#ade4ae,#99ddad,#8cd9ac)"></i>
<i style="height:1px;background:linear-gradient(90deg,#47c4ac,#54c8ac,#83d6ac,#bde9af,#f3f9c0,#fdf0ad,#fce396,#fdf0ac,#f3f9c0,#caeeb2,#a8e2ae,#77d2ac,#3ac0ad,#1ab7ae,#2cbcad,#64cdac,#ace3ae,#f2f9c0,#fce498,#f9ce74,#fad37a,#fce79d,#fef9bc,#f8fac0,#f3f9c0,#e6f5bc,#d5f1b6,#c2ebb0,#b6e7af,#b2e6ae,#b0e5ae,#aee4ae,#b4e6af,#c5ecb0,#dbf2b8,#f4f9c0,#fefabf,#fce89e,#fad47d,#f8c567,#f7bc5b,#f7be5e,#f9ca6d,#fbda87,#fdeda8,#fbfac0,#edf7be,#d6f1b6,#c1ebb0,#a9e2ae,#8fdaac,#76d2ac,#65cdac,#62ccac,#6bcfac,#7ad3ac,#89d8ac,#9adead,#b0e5ae,#ceefb3,#f3f9c0,#fdf3b2,#fbdd8b,#f8c86b,#f4ac46,#ee8e26,#ed851e,#f19a32,#f6ba58,#fbda87,#fafac0,#c9edb1,#9ddead,#93dbac,#9cdead,#a4e1ad,#a7e2ae,#a9e2ae,#aee4ae,#b9e8af,#c4ecb0,#c2ebb0,#b2e6af,#9fdfad,#93dbac)"></i>
<i style="height:1px;background:linear-gradient(90deg,#4bc5ac,#57c9ac,#86d7ac,#beeaaf,#f3f9c0,#fdf0ad,#fce498,#fdf1af,#f1f8bf,#c8edb1,#a5e1ad,#72d1ac,#31bead,#13b4ae,#25baad,#61ccac,#ace3ae,#f3f9c0,#fce498,#f9ce74,#fad37a,#fce79d,#fef7b8,#fbfac0,#f6fac0,#ecf7be,#d8f1b7,#c3ebb0,#b4e6af,#afe4ae,#abe3ae,#aae3ae,#b0e5ae,#c2ebb0,#daf2b7,#f3f9c0,#fefbbf,#fce89f,#fad57d,#f8c567,#f7bb5b,#f7be5f,#f9cb6f,#fbdc8a,#fdf0ac,#fafac0,#e9f6bd,#d2f0b4,#bce9af,#a6e1ad,#8fdaac,#78d3ac,#68ceac,#63ccac,#6ccfac,#7bd4ac,#8ad8ac,#9bdead,#b1e5ae,#cfefb4,#f3f9c0,#fdf4b3,#fbde8d,#f9c96c,#f4ad47,#ef8f27,#ed851e,#f19930,#f6b855,#fad782,#fcfbc0,#cdeeb3,#a2e0ad,#99ddad,#a4e1ad,#aae3ae,#ace4ae,#aee4ae,#b3e6af,#bfeaaf,#c9edb2,#c8edb1,#b9e8af,#a6e1ae,#9addad)"></i>
<i style="height:1px;background:linear-gradient(90deg,#4fc6ac,#5bcaac,#88d8ac,#bfeab0,#f3f9c0,#fdf1af,#fce69b,#fdf3b2,#eef8be,#c5ecb0,#a2e0ad,#6ccfac,#27bbad,#12b1ae,#1db8ae,#5dcaac,#aae3ae,#f2f9c0,#fce498,#f9cf74,#fad47b,#fce79d,#fdf5b5,#fdfbc0,#f8fac0,#f1f8bf,#dbf2b8,#c3ebb0,#b2e6ae,#abe3ae,#a8e2ae,#a6e1ae,#ade4ae,#c0eab0,#d8f1b7,#f2f9c0,#fefbc0,#fce89f,#fad57d,#f8c567,#f7bb5b,#f7bf5f,#f9cc71,#fbde8e,#fdf2b0,#f8fac0,#e5f5bb,#cdeeb3,#b7e7af,#a2e0ad,#8fdaac,#7bd4ac,#6bcfac,#65cdac,#6dcfac,#7cd4ac,#8bd9ac,#9cdead,#b2e6af,#d1efb4,#f3f9c0,#fdf4b4,#fbdf8f,#f9ca6e,#f5ae49,#ef9028,#ed861f,#f19830,#f6b653,#fad57d,#fefbc0,#d1efb4,#a7e2ae,#a0dfad,#aae3ae,#b1e5ae,#b2e5ae,#b3e6af,#b8e8af,#c4ecb0,#cfefb3,#cdeeb3,#bfeab0,#ade4ae,#a1e0ad)"></i>
<i style="height:1px;background:linear-gradient(90deg,#53c7ac,#5ecbac,#8ad8ac,#bfeab0,#f2f9c0,#fdf3b1,#fce89e,#fdf5b5,#ebf7bd,#c3ebb0,#9fdfad,#65cdac,#1cb7ae,#10aeaf,#13b5ae,#57c9ac,#a8e2ae,#f0f8bf,#fce59a,#f9cf75,#fad47d,#fce79d,#fdf3b2,#fefabe,#fbfac0,#f4f9c0,#def3b9,#c3ebb0,#b0e5ae,#a9e2ae,#a5e1ad,#a3e0ad,#aae3ae,#bee9af,#d7f1b6,#f1f9bf,#fefbc0,#fce9a0,#fad57d,#f8c567,#f7bb5b,#f7bf60,#f9cd72,#fbe091,#fdf4b3,#f7fac0,#e0f4b9,#c8edb1,#b1e5ae,#9fdfad,#8fdaac,#7ed4ac,#6ed0ac,#67cdac,#6fd0ac,#7dd4ac,#8cd9ac,#9ddead,#b4e6af,#d2f0b4,#f3f9c0,#fdf5b6,#fbe091,#f9cb6f,#f5af4a,#ef9129,#ed861f,#f0972f,#f6b451,#fad37a,#fef9bc,#d6f1b6,#ace3ae,#a5e1ad,#b1e5ae,#b7e7af,#b7e7af,#b8e8af,#beeaaf,#caedb2,#d5f0b5,#d4f0b5,#c6ecb0,#b4e6af,#a9e3ae)"></i>
<i style="height:1px;background:linear-gradient(90deg,#56c8ac,#61ccac,#8cd9ac,#bfeab0,#f1f8bf,#fdf5b5,#fceaa2,#fef7b9,#e8f6bc,#c0eab0,#9bdead,#5dcaac,#13b4ae,#0faaaf,#12b2ae,#50c7ac,#a4e1ad,#edf7be,#fce79d,#fad177,#fad67e,#fce79d,#fdf2b0,#fef7b9,#fdfbc0,#f6f9c0,#e0f4b9,#c3ebb0,#afe5ae,#a6e2ae,#a2e0ad,#a0dfad,#a8e2ae,#bce9af,#d5f1b6,#f0f8bf,#fdfbc0,#fce9a0,#fad57d,#f8c567,#f7bc5b,#f7c060,#f9ce74,#fbe293,#fdf6b7,#f5f9c0,#dcf2b8,#c2ebb0,#ace3ae,#9bdead,#8fdaac,#80d5ac,#70d0ac,#69ceac,#70d0ac,#7ed5ac,#8dd9ac,#9ddead,#b5e6af,#d3f0b5,#f3f9c0,#fdf6b7,#fbe293,#f9cc71,#f5b04c,#ef922a,#ed871f,#f0972f,#f5b350,#fad177,#fef6b8,#daf2b7,#b1e5ae,#abe3ae,#b7e7af,#bde9af,#bde9af,#beeaaf,#c4ecb0,#d0efb4,#dbf2b8,#daf2b7,#cdeeb3,#bce9af,#b1e5ae)"></i>
<i style="height:1px;background:linear-gradient(90deg,#59c9ac,#64cdac,#8ed9ac,#bfeab0,#eef8be,#fef7b9,#fdeda7,#fefabe,#e5f5bb,#bde9af,#97dcac,#54c8ac,#11b0ae,#0da7af,#11afaf,#47c4ac,#9fdfad,#eaf6bd,#fce9a1,#fad279,#fad781,#fce79e,#fdf1ae,#fdf4b4,#fefabf,#f7fac0,#e2f4ba,#c4ecb0,#aee4ae,#a4e1ad,#a0dfad,#9edfad,#a6e1ad,#bae8af,#d4f0b5,#eff8bf,#fdfbc0,#fce9a1,#fad57e,#f8c567,#f7bc5b,#f7c061,#f9cf75,#fce396,#fef8ba,#f4f9c0,#d7f1b6,#bce9af,#a6e1ae,#97dcac,#8ed9ac,#82d6ac,#73d1ac,#6bcfac,#71d1ac,#7fd5ac,#8ed9ac,#9edfad,#b6e7af,#d4f0b5,#f4f9c0,#fef6b8,#fce396,#f9cd72,#f5b24d,#f0932b,#ed8820,#f0972f,#f5b34f,#f9d075,#fdf4b4,#def3b9,#b6e7af,#b1e5ae,#bde9af,#c3ebb0,#c3ebb0,#c4ecb0,#caedb2,#d6f1b6,#e1f4ba,#e0f4b9,#d4f0b5,#c4ecb0,#bae8af)"></i>
<i style="height:1px;background:linear-gradient(90deg,#5bcaac,#67ceac,#90daac,#beeaaf,#ecf7bd,#fefabe,#fdf0ad,#fdfbc0,#e2f4ba,#bae8af,#92dbac,#4ac5ac,#10adaf,#0ca3b0,#0facaf,#3ec1ad,#99ddac,#e5f5bb,#fceca5,#fad47c,#fbd883,#fce89e,#fdf0ac,#fdf2b1,#fef8bb,#f8fac0,#e3f5bb,#c4ecb0,#ade4ae,#a3e0ad,#9edfad,#9cdead,#a4e1ad,#b9e8af,#d3f0b5,#eef8be,#fdfbc0,#fceaa2,#fad57e,#f8c567,#f7bc5b,#f7c162,#fad076,#fce599,#fefabe,#f0f8bf,#d2f0b4,#b6e7af,#a0dfad,#93dbac,#8dd9ac,#85d7ac,#76d2ac,#6dcfac,#73d1ac,#80d5ac,#8fdaac,#9fdfad,#b7e7af,#d5f0b5,#f4f9c0,#fef7b9,#fce498,#f9cf74,#f5b34f,#f0942c,#ed8921,#f1982f,#f5b24e,#f9ce74,#fdf2b0,#e2f4ba,#bbe8af,#b6e7af,#c2ebb0,#c8edb1,#c8edb1,#caedb2,#d0efb4,#dcf3b8,#e7f6bc,#e7f5bc,#dbf2b8,#cceeb2,#c2ebb0)"></i>
<i style="height:1px;background:linear-gradient(90deg,#5ecbac,#6aceac,#91daac,#bde9af,#e8f6bc,#fdfbc0,#fdf4b4,#fbfac0,#def3b9,#b6e7af,#8cd9ac,#40c2ad,#0ea9af,#0c9db1,#0ea8af,#34bead,#92dbac,#dff3b9,#fdefab,#fad781,#fbda86,#fce89f,#fdefab,#fdf0ad,#fdf6b7,#f9fac0,#e5f5bb,#c5ecb0,#ace4ae,#a2e0ad,#9ddead,#9bdead,#a3e0ad,#b8e7af,#d2f0b4,#edf7be,#fcfbc0,#fceaa2,#fad57e,#f8c567,#f7bc5c,#f7c263,#fad178,#fce79c,#fefbc0,#ecf7be,#cdeeb3,#b0e5ae,#9addad,#8ed9ac,#8cd9ac,#87d7ac,#79d3ac,#6fd0ac,#74d2ac,#81d6ac,#90daac,#a0dfad,#b8e8af,#d6f1b6,#f4f9c0,#fef8ba,#fce59a,#fad076,#f5b451,#f0962d,#ee8a22,#f19830,#f5b24e,#f9cd73,#fdf0ac,#e6f5bc,#bfeab0,#bae8af,#c7ecb1,#cdeeb3,#cdeeb3,#cfefb4,#d6f1b6,#e2f4ba,#edf7be,#edf7be,#e2f4ba,#d3f0b5,#cbeeb2)"></i>
<i style="height:1px;background:linear-gradient(90deg,#60cbac,#6dcfac,#92dbac,#bce9af,#e5f5bb,#fbfac0,#fef8bb,#f9fac0,#dbf2b8,#b3e6af,#86d7ac,#35bfad,#0da5b0,#0f97b2,#0da5b0,#29bbad,#89d8ac,#d9f2b7,#fdf3b1,#fbda86,#fbdc8a,#fce9a0,#fdeea9,#fdefaa,#fdf4b3,#fbfac0,#e7f6bc,#c5ecb0,#ace4ae,#a1e0ad,#9cdead,#9addad,#a2e0ad,#b7e7af,#d1efb4,#ecf7be,#fcfbc0,#fceaa3,#fad57e,#f8c567,#f7bd5c,#f8c364,#fad37a,#fce9a0,#fcfbc0,#e7f6bc,#c7edb1,#a9e2ae,#93dbac,#89d8ac,#8ad8ac,#88d8ac,#7cd4ac,#72d1ac,#76d2ac,#83d6ac,#91daac,#a1e0ad,#bae8af,#d7f1b6,#f4f9c0,#fef8bb,#fce69c,#fad177,#f6b653,#f0972f,#ee8b24,#f19931,#f5b34f,#f9cd72,#fdeea9,#eaf6bd,#c3ebb0,#bfeaaf,#cbeeb2,#d1efb4,#d2f0b5,#d5f1b6,#ddf3b8,#e9f6bc,#f3f9c0,#f3f9c0,#e9f6bc,#dbf2b8,#d3f0b5)"></i>
<i style="height:1px;background:linear-gradient(90deg,#62ccac,#6fd0ac,#93dbac,#bae8af,#e1f4ba,#f8fac0,#fdfbc0,#f7fac0,#d7f1b6,#afe5ae,#7fd5ac,#2abcad,#0ba1b0,#1290b4,#0ba1b0,#1db8ae,#7fd5ac,#d1f0b4,#fef7b9,#fbdd8c,#fbde8e,#fceaa2,#fdeda8,#fdeda7,#fdf2b0,#fbfbc0,#e8f6bc,#c6ecb0,#ade4ae,#a1e0ad,#9cdead,#9addad,#a2e0ad,#b7e7af,#d1efb4,#ebf7bd,#fcfbc0,#fceaa3,#fad57e,#f8c568,#f7bd5d,#f8c466,#fad47c,#fceba3,#fafac0,#e2f4ba,#c1eab0,#a2e0ad,#8bd9ac,#83d6ac,#88d8ac,#8ad8ac,#7ed5ac,#74d2ac,#78d3ac,#84d6ac,#93dbac,#a3e0ad,#bbe9af,#d8f1b7,#f4f9c0,#fef9bc,#fce89e,#fad279,#f6b755,#f19931,#ee8d25,#f19b32,#f5b350,#f9cd71,#fdeda7,#edf7be,#c7edb1,#c2ebb0,#ceefb3,#d5f0b6,#d7f1b6,#dbf2b8,#e3f4ba,#eff8bf,#f6f9c0,#f6f9c0,#f0f8bf,#e3f4ba,#dbf2b8)"></i>
<i style="height:1px;background:linear-gradient(90deg,#64cdac,#72d1ac,#94dbac,#b8e8af,#ddf3b8,#f6f9c0,#fafac0,#f4f9c0,#d3f0b5,#ace3ae,#79d3ac,#1fb9ae,#0d9cb1,#1589b5,#0d9cb1,#13b5ae,#74d2ac,#caedb2,#fefbc0,#fbe193,#fbe192,#fceaa3,#fdeda7,#fceca5,#fdf0ad,#fcfbc0,#eaf6bd,#c7edb1,#ade4ae,#a2e0ad,#9cdead,#9bdead,#a3e0ad,#b7e7af,#d0efb4,#ebf7bd,#fcfbc0,#fceaa3,#fad57e,#f8c568,#f7be5e,#f8c567,#fad680,#fdeda8,#f9fac0,#ddf3b8,#bae8af,#9adead,#83d6ac,#7dd4ac,#86d7ac,#8bd9ac,#81d6ac,#77d3ac,#7ad3ac,#86d7ac,#94dbac,#a5e1ad,#bde9af,#d9f2b7,#f4f9c0,#fef9bd,#fce9a0,#fad47c,#f6b957,#f19b32,#ef8f27,#f29d34,#f6b552,#f9cd72,#fceca5,#f0f8bf,#caedb2,#c6ecb0,#d1efb4,#d8f1b7,#dbf2b8,#e0f4b9,#e9f6bd,#f4f9c0,#f8fac0,#f8fac0,#f4f9c0,#eaf7bd,#e3f4ba)"></i>
<i style="height:1px;background:linear-gradient(90deg,#66cdac,#74d1ac,#94dbac,#b6e7af,#d8f1b7,#f3f9c0,#f7fac0,#f0f8bf,#cfefb4,#a8e2ae,#72d1ac,#14b5ae,#1095b2,#1f82b2,#0f96b2,#12b2ae,#69ceac,#c1ebb0,#fbfac0,#fce59a,#fce396,#fceba4,#fdeca7,#fceaa3,#fdefab,#fdfbc0,#ecf7bd,#c9edb1,#afe4ae,#a3e0ad,#9ddead,#9cdead,#a4e1ad,#b7e7af,#d1efb4,#ebf7bd,#fbfbc0,#fceaa3,#fad57e,#f8c668,#f7bf5f,#f8c669,#fbd883,#fdf0ac,#f6fac0,#d7f1b6,#b2e6af,#93dbac,#7ad3ac,#77d2ac,#84d6ac,#8cd9ac,#84d6ac,#7bd4ac,#7dd4ac,#88d8ac,#96dcac,#a6e2ae,#bfeab0,#dbf2b8,#f4f9c0,#fefabe,#fceaa3,#fad67f,#f6bb5a,#f29d35,#ef9129,#f29f37,#f6b654,#f9cd73,#fceba4,#f2f9c0,#cdeeb3,#c8edb1,#d4f0b5,#dcf2b8,#dff3b9,#e5f5bb,#eff8bf,#f6fac0,#fafac0,#fafac0,#f7fac0,#f2f9c0,#eaf7bd)"></i>
<i style="height:1px;background:linear-gradient(90deg,#68ceac,#76d2ac,#94dbac,#b4e6af,#d3f0b5,#ecf7bd,#f4f9c0,#eaf6bd,#cbeeb2,#a4e1ad,#6bcfac,#12b2ae,#128fb4,#297baf,#1290b3,#11afaf,#5ecbac,#b8e7af,#f7fac0,#fce9a1,#fce69b,#fdeca6,#fdeca6,#fce9a1,#fdeea8,#fefbc0,#eef7be,#cbeeb2,#b1e5ae,#a5e1ad,#9fdfad,#9ddead,#a5e1ad,#b9e8af,#d1efb4,#ebf7bd,#fcfbc0,#fceaa2,#fad57e,#f8c669,#f7c061,#f8c86b,#fbdb88,#fdf3b2,#f4f9c0,#d0efb4,#aae3ae,#89d8ac,#71d1ac,#70d0ac,#81d6ac,#8dd9ac,#87d7ac,#7ed5ac,#80d5ac,#8bd8ac,#98ddac,#a9e2ae,#c1ebb0,#dcf3b8,#f4f9c0,#fefbbf,#fceca5,#fbd883,#f7bd5d,#f2a037,#f0942c,#f3a239,#f6b957,#f9ce74,#fceba4,#f3f9c0,#cfefb3,#caedb2,#d6f1b6,#def3b9,#e3f5bb,#eaf7bd,#f4f9c0,#f9fac0,#fcfbc0,#fdfbc0,#fafac0,#f5f9c0,#f2f9c0)"></i>
<i style="height:1px;background:linear-gradient(90deg,#69ceac,#78d3ac,#94dbac,#b1e5ae,#ceefb3,#e4f5bb,#eef8be,#e3f4ba,#c7edb1,#a0dfad,#64cdac,#11b0af,#158ab5,#3374ac,#148bb5,#0facaf,#53c7ac,#aee4ae,#f4f9c0,#fdeea9,#fce89f,#fdeda7,#fceca5,#fce89f,#fdeca6,#fefabe,#f0f8bf,#cdeeb3,#b3e6af,#a7e2ae,#a1e0ad,#9fdfad,#a7e2ae,#bae8af,#d2f0b5,#ecf7be,#fcfbc0,#fceaa2,#fad57e,#f8c76a,#f7c162,#f9ca6e,#fbde8d,#fef6b8,#eff8bf,#c9edb1,#a2e0ad,#7fd5ac,#68ceac,#6aceac,#7ed5ac,#8dd9ac,#89d8ac,#82d6ac,#84d6ac,#8ed9ac,#9adead,#abe3ae,#c3ebb0,#def3b9,#f4f9c0,#fefbc0,#fdeda8,#fbda87,#f7bf60,#f3a33a,#f0972f,#f3a53d,#f7bb5a,#fad076,#fceba5,#f4f9c0,#d0efb4,#cbeeb2,#d7f1b6,#e0f4ba,#e7f6bc,#eff8bf,#f6fac0,#fbfac0,#fefabf,#fefabe,#fcfbc0,#f8fac0,#f5f9c0)"></i>
<i style="height:1px;background:linear-gradient(90deg,#6bcfac,#7ad3ac,#94dbac,#aee4ae,#c9edb1,#ddf3b8,#e6f5bb,#dcf3b8,#c2ebb0,#9cdead,#5dcaac,#10adaf,#1c84b3,#3b6eaa,#1986b4,#0ea9af,#47c4ac,#a4e1ad,#ecf7be,#fdf3b1,#fceba4,#fdeea9,#fceba4,#fce79d,#fceba4,#fef9bc,#f2f9c0,#d0efb4,#b7e7af,#aae3ae,#a4e1ad,#a2e0ad,#aae3ae,#bce9af,#d4f0b5,#edf7be,#fcfbc0,#fce9a1,#fad57d,#f8c76a,#f8c364,#f9cc71,#fbe192,#fefabf,#e8f6bc,#c0eab0,#99ddac,#74d1ac,#5fcbac,#63ccac,#7bd4ac,#8dd9ac,#8cd9ac,#86d7ac,#88d8ac,#92dbac,#9ddead,#aee4ae,#c6ecb0,#dff3b9,#f5f9c0,#fdfbc0,#fdefab,#fbdd8b,#f8c263,#f3a63e,#f19b32,#f4a942,#f7be5e,#fad279,#fdeda7,#f3f9c0,#d1efb4,#cceeb2,#d8f1b6,#e2f4ba,#eaf6bd,#f3f9c0,#f8fac0,#fdfbc0,#fef7ba,#fef7b8,#fefbc0,#fafac0,#f8fac0)"></i>
<i style="height:1px;background:linear-gradient(90deg,#6ccfac,#7bd4ac,#93dbac,#abe3ae,#c3ebb0,#d5f1b6,#ddf3b8,#d5f1b6,#bde9af,#98ddac,#56c8ac,#0faaaf,#247eb1,#4168a8,#2081b2,#0da6af,#3cc1ad,#9addad,#e3f4ba,#fef8ba,#fdeeaa,#fdefaa,#fceba4,#fce69c,#fceaa2,#fef7b9,#f4f9c0,#d3f0b5,#bae8af,#ade4ae,#a7e2ae,#a5e1ad,#ade4ae,#bfeab0,#d6f1b6,#eff8bf,#fdfbc0,#fce8a0,#fad57d,#f8c86b,#f8c567,#f9ce74,#fce599,#fcfbc0,#e0f3b9,#b6e7af,#8edaac,#69ceac,#56c8ac,#5ccaac,#77d2ac,#8dd9ac,#8fdaac,#8ad8ac,#8dd9ac,#95dcac,#a1e0ad,#b1e5ae,#c8edb1,#e1f4ba,#f5f9c0,#fdfbc0,#fdf1ae,#fbdf90,#f8c567,#f4a942,#f29f36,#f4ad47,#f7c263,#fad57d,#fdeeaa,#f3f9c0,#d0efb4,#cceeb2,#d8f1b6,#e3f5ba,#edf7be,#f5f9c0,#fafac0,#fefabf,#fdf5b5,#fdf4b3,#fef8ba,#fdfbc0,#fafac0)"></i>
<i style="height:1px;background:linear-gradient(90deg,#6ed0ac,#7cd4ac,#93dbac,#a8e2ae,#bde9af,#cdeeb3,#d5f1b6,#ceefb3,#b8e8af,#93dbac,#4fc6ac,#0ea8af,#2b79ae,#4662a6,#267db0,#0ca4b0,#31bead,#8fdaac,#d9f2b7,#fdfbc0,#fdf1af,#fdefac,#fceaa3,#fce59a,#fce9a0,#fdf6b7,#f5f9c0,#d7f1b6,#bfeab0,#b2e5ae,#abe3ae,#a9e3ae,#b1e5ae,#c2ebb0,#d9f2b7,#f1f9bf,#fefbc0,#fce79e,#fad47d,#f9c96c,#f8c669,#fad178,#fce9a0,#f8fac0,#d6f1b6,#ace3ae,#81d6ac,#5dcbac,#4cc5ac,#55c8ac,#73d1ac,#8cd9ac,#91daac,#8fdaac,#92dbac,#99ddac,#a4e1ad,#b5e7af,#cbeeb2,#e3f4ba,#f5f9c0,#fcfbc0,#fdf3b2,#fce295,#f8c86b,#f4ad47,#f3a43b,#f5b14d,#f8c669,#fbd984,#fdf1ae,#f1f8bf,#cfefb4,#cbeeb2,#d7f1b6,#e4f5bb,#eff8bf,#f6fac0,#fbfac0,#fef8ba,#fdf2b1,#fdf1af,#fdf5b5,#fefabe,#fdfbc0)"></i>
<i style="height:1px;background:linear-gradient(90deg,#6fd0ac,#7dd4ac,#91dbac,#a4e1ad,#b7e7af,#c6ecb0,#cdeeb3,#c7edb1,#b3e6af,#8ed9ac,#47c4ac,#0da6af,#3175ad,#4a5ea5,#2b79ae,#0ca2b0,#26bbad,#82d6ac,#cfefb4,#fafac0,#fdf4b4,#fdf0ad,#fceaa2,#fce498,#fce89e,#fdf4b4,#f6fac0,#dcf2b8,#c5ecb0,#b7e7af,#b0e5ae,#aee4ae,#b5e7af,#c6ecb0,#dcf2b8,#f4f9c0,#fefabe,#fce69c,#fad47c,#f9ca6e,#f8c96c,#fad57d,#fdeea9,#f5f9c0,#cceeb2,#a0dfad,#74d1ac,#51c7ac,#41c2ad,#4ec6ac,#6ed0ac,#8ad8ac,#93dbac,#94dbac,#97dcac,#9edfad,#a9e2ae,#b9e8af,#ceefb3,#e5f5bb,#f5f9c0,#fbfbc0,#fdf5b5,#fce69a,#f9cb70,#f5b14d,#f4a942,#f6b654,#f9cb6f,#fbdd8c,#fdf4b4,#eef7be,#cdeeb3,#c9edb1,#d6f1b6,#e4f5bb,#f1f8bf,#f7fac0,#fdfbc0,#fdf6b7,#fdf0ad,#fdefab,#fdf2b1,#fef7b9,#fefabe)"></i>
<i style="height:1px;background:linear-gradient(90deg,#71d1ac,#7ed5ac,#90daac,#a1e0ad,#b1e5ae,#beeaaf,#c4ecb0,#c0eab0,#aee4ae,#88d8ac,#41c2ad,#0ca4b0,#3672ab,#4d5ba4,#2f77ad,#0ba0b0,#1cb8ae,#76d2ac,#c5ecb0,#f6fac0,#fef8ba,#fdf1af,#fce9a1,#fce396,#fce69c,#fdf3b1,#f8fac0,#e1f4ba,#cbeeb2,#bde9af,#b5e7af,#b3e6af,#bae8af,#caeeb2,#e0f4b9,#f5f9c0,#fef8ba,#fce599,#fad47b,#f9cb6f,#f9cb6f,#fbd984,#fdf3b2,#edf7be,#c0eab0,#93dbac,#65cdac,#44c3ad,#37bfad,#46c4ac,#69ceac,#89d8ac,#95dcac,#98ddac,#9cdead,#a3e0ad,#aee4ae,#bde9af,#d2f0b4,#e7f6bc,#f5f9c0,#fbfac0,#fef7b9,#fce9a0,#f9cf75,#f6b654,#f5ae49,#f7bc5b,#fad076,#fce395,#fef8bb,#e9f6bd,#caedb2,#c7ecb1,#d4f0b5,#e3f5ba,#f2f9c0,#f8fac0,#fefbc0,#fdf4b4,#fdefaa,#fdeea8,#fdf0ad,#fdf4b4,#fef7b9)"></i>
<i style="height:1px;background:linear-gradient(90deg,#72d1ac,#7ed5ac,#8ed9ac,#9ddead,#aae3ae,#b6e7af,#bce9af,#b9e8af,#a8e2ae,#82d6ac,#3ac0ad,#0ca2b0,#3a6faa,#4f59a3,#3175ad,#0c9eb0,#13b5ae,#6aceac,#bae8af,#f2f9c0,#fefbc0,#fdf2b0,#fce89f,#fbe294,#fce599,#fdf1ae,#fafac0,#e7f6bc,#d1efb4,#c3ebb0,#bbe8af,#b9e8af,#c0eab0,#cfefb4,#e4f5bb,#f7fac0,#fdf5b6,#fce396,#fad37a,#f9cc70,#f9ce73,#fbde8d,#fef9bc,#e2f4ba,#b2e5ae,#82d6ac,#55c8ac,#36bfad,#2cbcad,#3ec1ad,#64cdac,#87d7ac,#97dcac,#9ddead,#a2e0ad,#a9e2ae,#b3e6af,#c2ebb0,#d5f1b6,#e9f6bc,#f5f9c0,#fafac0,#fefabe,#fdeca7,#fad37b,#f7bb5a,#f5b451,#f8c263,#fad67f,#fce8a0,#fdfbc0,#e3f5bb,#c6ecb0,#c3ebb0,#d1efb4,#e2f4ba,#f2f9c0,#f9fac0,#fefabf,#fdf3b1,#fdeda8,#fdeca6,#fdeeaa,#fdf2b1,#fdf5b5)"></i>
<i style="height:1px;background:linear-gradient(90deg,#74d1ac,#7ed5ac,#8cd9ac,#99ddac,#a4e1ad,#aee4ae,#b3e6af,#b1e5ae,#a2e0ad,#7cd4ac,#34bead,#0ba0b0,#3c6da9,#5057a3,#3374ac,#0d9cb1,#12b3ae,#5ecbac,#afe5ae,#e9f6bd,#fcfbc0,#fdf2b1,#fce89e,#fbe192,#fce397,#fdefab,#fbfbc0,#eef7be,#d8f1b7,#caedb2,#c1ebb0,#bfeaaf,#c5ecb0,#d4f0b5,#e9f6bd,#f9fac0,#fdf3b2,#fbe193,#fad37a,#f9cd72,#fad177,#fce395,#fbfbc0,#d6f1b6,#a3e1ad,#70d0ac,#45c3ac,#29bbad,#22b9ae,#36bfad,#5fcbac,#84d6ac,#99ddac,#a2e0ad,#a8e2ae,#afe4ae,#b9e8af,#c7edb1,#d9f2b7,#ebf7bd,#f5f9c0,#f9fac0,#fdfbc0,#fdf0ad,#fbd984,#f7c162,#f6ba59,#f8c86c,#fbdd8c,#fdefab,#f9fac0,#ddf3b8,#c1ebb0,#bfeab0,#ceeeb3,#e0f4b9,#f2f9c0,#f9fac0,#fef9bd,#fdf2af,#fdeca6,#fceba4,#fdeda8,#fdf0ae,#fdf3b2)"></i>
<i style="height:1px;background:linear-gradient(90deg,#75d2ac,#7ed5ac,#89d8ac,#95dcac,#9edfad,#a6e1ae,#abe3ae,#aae3ae,#9ddead,#77d2ac,#2ebdad,#0c9fb0,#3d6ca9,#5157a2,#3374ac,#0d9bb1,#11b1ae,#52c7ac,#a4e1ad,#e0f4b9,#fafac0,#fdf3b2,#fce79d,#fbe090,#fce294,#fdeda8,#fdfbc0,#f4f9c0,#e0f3b9,#d0efb4,#c7edb1,#c5ecb0,#cbeeb2,#daf2b7,#eef8be,#fbfac0,#fdf0ad,#fbdf90,#fad279,#f9ce74,#fad47b,#fce89f,#f7fac0,#c9edb1,#94dbac,#5dcaac,#33bead,#1bb7ae,#18b6ae,#2ebdad,#59c9ac,#82d6ac,#9bdead,#a7e2ae,#afe4ae,#b5e7af,#bfeab0,#cdeeb3,#ddf3b8,#eef7be,#f5f9c0,#f8fac0,#fcfbc0,#fdf4b4,#fbde8d,#f8c76a,#f7c162,#f9cf75,#fce599,#fef6b7,#f5f9c0,#d5f1b6,#bbe9af,#bae8af,#caedb2,#def3b9,#f2f9c0,#fafac0,#fef8bc,#fdf1ae,#fceca5,#fceaa3,#fceca6,#fdefab,#fdf1af)"></i>
<i style="height:1px;background:linear-gradient(90deg,#77d2ac,#7ed5ac,#87d7ac,#90daac,#98ddac,#9edfad,#a3e0ad,#a3e0ad,#97dcac,#71d1ac,#28bbad,#0c9db1,#3e6ba9,#5057a3,#3374ac,#0e9ab1,#11afaf,#46c4ac,#9addad,#d7f1b6,#f8fac0,#fdf4b4,#fce69c,#fbde8e,#fbe192,#fceba4,#fef9bc,#f6fac0,#e7f6bc,#d7f1b6,#ceeeb3,#cbeeb2,#d1efb4,#e0f3b9,#f3f9c0,#fdfbc0,#fdeda8,#fbdd8c,#fad279,#fad076,#fad882,#fdeda8,#f3f9c0,#bbe9af,#80d5ac,#49c4ac,#21b9ae,#12b3ae,#12b4ae,#27bbad,#54c8ac,#7fd5ac,#9ddead,#ade4ae,#b5e7af,#bce9af,#c6ecb0,#d2f0b4,#e1f4ba,#f0f8bf,#f6f9c0,#f8fac0,#fafac0,#fef8bb,#fce497,#f9cd72,#f8c86b,#fad780,#fdeda7,#fcfbc0,#eff8be,#cdeeb3,#b5e6af,#b4e6af,#c6ecb0,#dcf2b8,#f1f9bf,#fafac0,#fef8bb,#fdf0ad,#fceba5,#fceaa2,#fceba4,#fdeea9,#fdf0ad)"></i>
<i style="height:1px;background:linear-gradient(90deg,#78d3ac,#7dd4ac,#84d6ac,#8ad8ac,#91daac,#97dcac,#9bdead,#9cdead,#92dbac,#6bcfac,#23baae,#0d9cb1,#3e6ba9,#4f58a3,#3175ad,#0e9ab1,#10adaf,#3bc1ad,#8edaac,#ceefb3,#f6f9c0,#fdf5b5,#fce69b,#fbdd8c,#fbdf8f,#fce9a1,#fdf6b7,#f9fac0,#eff8bf,#dff3b9,#d4f0b5,#d1f0b4,#d7f1b6,#e5f5bb,#f6f9c0,#fefabd,#fceaa2,#fbdb88,#fad278,#fad178,#fbdc89,#fdf3b2,#e7f6bc,#ade4ae,#6ccfac,#34bead,#13b4ae,#11b0ae,#12b1ae,#20b9ae,#4fc6ac,#7dd4ac,#9fdfad,#b2e6ae,#bde9af,#c4ecb0,#cceeb2,#d8f1b6,#e6f5bb,#f3f9c0,#f6f9c0,#f7fac0,#f8fac0,#fdfbc0,#fce9a1,#fad37a,#f9cf75,#fbdf8f,#fdf5b6,#f7fac0,#e3f5bb,#c4ecb0,#ade4ae,#aee4ae,#c1ebb0,#d9f2b7,#f0f8bf,#fafac0,#fef8ba,#fdf0ad,#fceba4,#fce9a1,#fceaa3,#fdeda7,#fdefaa)"></i>
<i style="height:1px;background:linear-gradient(90deg,#79d3ac,#7dd4ac,#80d5ac,#85d7ac,#8ad8ac,#8fdaac,#94dbac,#95dcac,#8bd9ac,#66cdac,#1fb8ae,#0d9bb1,#3d6ca9,#4d5ba4,#2f77ad,#0e9ab1,#10acaf,#31bead,#82d6ac,#c6ecb0,#f4f9c0,#fdf6b7,#fce59a,#fbdc8a,#fbde8d,#fce79d,#fdf2b1,#fcfbc0,#f5f9c0,#e6f5bc,#dbf2b8,#d8f1b7,#def3b9,#ebf7bd,#f8fac0,#fdf6b7,#fce79d,#fbd985,#fad278,#fad37a,#fbe091,#fef9bd,#dcf2b8,#9edfad,#58c9ac,#1fb8ae,#11afaf,#10acaf,#11afaf,#1ab7ae,#4ac5ac,#7bd4ac,#a1e0ad,#b8e8af,#c4ecb0,#cbeeb2,#d3f0b5,#ddf3b8,#eaf7bd,#f4f9c0,#f6fac0,#f6fac0,#f7fac0,#fbfac0,#fdefab,#fbdb88,#fad781,#fce89f,#fcfbc0,#f1f8bf,#d7f1b6,#bae8af,#a5e1ad,#a8e2ae,#bce9af,#d6f1b6,#eff8bf,#fafac0,#fef8bb,#fdf0ad,#fceba4,#fce9a1,#fceaa2,#fdeca6,#fdeea9)"></i>
<i style="height:1px;background:linear-gradient(90deg,#7bd4ac,#7bd4ac,#7dd4ac,#7fd5ac,#82d6ac,#87d7ac,#8cd9ac,#8edaac,#85d7ac,#61ccac,#1bb7ae,#0d9ab1,#3c6da9,#4b5da4,#2c79ae,#0e9ab1,#0fabaf,#27bbad,#76d2ac,#bce9af,#eff8bf,#fef7b8,#fce599,#fbdb88,#fbdc8a,#fce599,#fdefab,#fef9bd,#f8fac0,#eef8be,#e2f4ba,#def3b9,#e4f5bb,#f2f9c0,#fafac0,#fdf2b1,#fce497,#fad782,#fad178,#fad57d,#fce498,#fbfbc0,#d0efb4,#8ed9ac,#42c3ad,#12b3ae,#0fabaf,#0ea9af,#10acaf,#14b5ae,#45c4ac,#79d3ac,#a3e0ad,#bee9af,#cbeeb2,#d2f0b4,#d9f2b7,#e3f5bb,#eff8bf,#f5f9c0,#f6fac0,#f5f9c0,#f5f9c0,#f8fac0,#fdf5b6,#fce395,#fbe090,#fdf1ae,#f7fac0,#e3f4ba,#cbeeb2,#afe5ae,#9ddead,#a1e0ad,#b6e7af,#d2f0b5,#edf7be,#f9fac0,#fef8bb,#fdf0ae,#fceba4,#fce9a0,#fceaa1,#fceba5,#fdeda7)"></i>
<i style="height:1px;background:linear-gradient(90deg,#7cd4ac,#7ad3ac,#79d3ac,#79d3ac,#7bd4ac,#7fd5ac,#84d6ac,#87d7ac,#7fd5ac,#5dcaac,#18b6ae,#0d9ab1,#396faa,#4761a6,#297baf,#0d9bb1,#0faaaf,#1eb8ae,#6acfac,#b3e6af,#eaf6bd,#fef8ba,#fce498,#fbda86,#fbdb88,#fce396,#fdeca6,#fdf5b5,#fbfac0,#f4f9c0,#e8f6bc,#e5f5bb,#eaf7bd,#f5f9c0,#fdfbc0,#fdefab,#fbe192,#fad57e,#fad178,#fad781,#fce9a0,#f7fac0,#c4ecb0,#7bd4ac,#2dbcad,#10adaf,#0da6af,#0da6af,#0faaaf,#13b4ae,#42c2ad,#78d3ac,#a6e1ad,#c4ebb0,#d2f0b4,#d9f2b7,#e0f4b9,#e9f6bd,#f3f9c0,#f6fac0,#f6fac0,#f5f9c0,#f3f9c0,#f5f9c0,#fefbc0,#fceaa3,#fce9a0,#fefabe,#eef8be,#d5f1b6,#beeaaf,#a4e1ad,#94dbac,#9addad,#b0e5ae,#cfefb3,#ebf7bd,#f9fac0,#fef9bc,#fdf1ae,#fceba4,#fce9a0,#fce9a1,#fceba4,#fceca6)"></i>
<i style="height:1px;background:linear-gradient(90deg,#7dd4ac,#79d3ac,#75d2ac,#73d1ac,#74d1ac,#77d2ac,#7cd4ac,#81d5ac,#7ad3ac,#59c9ac,#15b6ae,#0d9bb1,#3672ab,#4465a7,#247eb0,#0d9cb1,#0ea9af,#16b6ae,#60cbac,#abe3ae,#e4f5bb,#fef9bc,#fce498,#fbd984,#fbd985,#fbe193,#fce9a1,#fdf1ae,#fefbbf,#f7fac0,#eff8bf,#ebf7bd,#f0f8bf,#f7fac0,#fefabe,#fceca5,#fbde8d,#fad47b,#fad178,#fbd985,#fdeda8,#f4f9c0,#b7e7af,#69ceac,#18b6ae,#0ea8af,#0ca2b0,#0ca3b0,#0ea9af,#12b3ae,#3fc2ad,#77d3ac,#a8e2ae,#c9edb1,#d9f2b7,#e0f4b9,#e7f6bc,#eff8bf,#f5f9c0,#f7fac0,#f7fac0,#f4f9c0,#f0f8bf,#f3f9c0,#fafac0,#fdf2b0,#fdf1af,#f9fac0,#e0f4b9,#c7edb1,#b0e5ae,#98ddac,#89d8ac,#93dbac,#abe3ae,#cbeeb2,#e9f6bd,#f9fac0,#fef9bd,#fdf1af,#fceca5,#fce9a0,#fce9a0,#fceaa3,#fceba4)"></i>
<i style="height:1px;background:linear-gradient(90deg,#7ed5ac,#77d2ac,#71d1ac,#6dcfac,#6dcfac,#70d0ac,#75d2ac,#7bd4ac,#75d2ac,#55c8ac,#14b5ae,#0d9cb1,#3175ad,#3f6aa8,#1f82b2,#0c9db1,#0ea8af,#13b4ae,#56c8ac,#a3e0ad,#dff3b9,#fefabe,#fce497,#fad883,#fad883,#fbdf8f,#fce69b,#fdeca7,#fef6b7,#fafac0,#f4f9c0,#f1f9bf,#f4f9c0,#f9fac0,#fef6b8,#fce89f,#fbdb88,#fad279,#fad278,#fbdc8a,#fdf2b0,#ebf7bd,#abe3ae,#58c9ac,#11b1ae,#0ca3b0,#0c9db1,#0ba0b0,#0ea7af,#12b2ae,#3cc1ad,#77d2ac,#abe3ae,#cfefb3,#e0f4b9,#e8f6bc,#eef8be,#f4f9c0,#f7fac0,#f8fac0,#f7fac0,#f3f9c0,#ecf7be,#edf7be,#f7fac0,#fefabe,#fefabf,#f3f9c0,#d1efb4,#b8e8af,#a2e0ad,#8bd8ac,#7ed4ac,#89d8ac,#a5e1ad,#c7edb1,#e7f6bc,#f8fac0,#fefabe,#fdf2b0,#fceca5,#fce9a0,#fce9a0,#fceaa1,#fceaa3)"></i>
<i style="height:1px;background:linear-gradient(90deg,#7fd5ac,#75d2ac,#6dcfac,#67ceac,#66cdac,#69ceac,#6fd0ac,#76d2ac,#71d1ac,#52c7ac,#13b5ae,#0c9db1,#2c79ae,#3a6faa,#1a86b4,#0c9eb0,#0ea8af,#12b2ae,#4dc6ac,#9bdead,#daf2b7,#fefbc0,#fce497,#fad781,#fad780,#fbdd8c,#fce397,#fce9a0,#fdf2b0,#fcfbc0,#f6fac0,#f5f9c0,#f7fac0,#fcfbc0,#fdf3b2,#fce59a,#fbd984,#fad178,#fad279,#fbde8e,#fef6b8,#e1f4ba,#9fdfad,#46c4ac,#0facaf,#0c9db1,#0f97b2,#0d9cb1,#0da6af,#12b1ae,#3bc1ad,#78d3ac,#afe4ae,#d4f0b5,#e7f5bc,#eff8bf,#f4f9c0,#f7fac0,#f9fac0,#fafac0,#f7fac0,#f3f9c0,#e9f6bc,#e7f6bc,#f3f9c0,#fafac0,#f9fac0,#e5f5bb,#c3ebb0,#a9e2ae,#93dbac,#7cd4ac,#72d1ac,#80d5ac,#9fdfad,#c3ebb0,#e5f5bb,#f7fac0,#fefbbf,#fdf2b1,#fdeca6,#fce9a0,#fce89f,#fce9a0,#fceaa2)"></i>
<i style="height:1px;background:linear-gradient(90deg,#80d5ac,#73d1ac,#68ceac,#61ccac,#5fcbac,#62ccac,#6aceac,#71d1ac,#6ed0ac,#50c7ac,#13b5ae,#0c9fb0,#267db0,#3374ac,#158ab5,#0ba0b0,#0ea8af,#11b1ae,#44c3ad,#94dbac,#d4f0b5,#fdfbc0,#fce498,#fad680,#fad57e,#fbdc89,#fbe192,#fce59a,#fdeea9,#fefabe,#f9fac0,#f7fac0,#f9fac0,#fefbc0,#fdf0ad,#fce395,#fad781,#fad177,#fad37a,#fbe193,#fefbc0,#d8f1b7,#93dbac,#34bfad,#0ea7af,#1095b2,#1291b3,#0e98b2,#0da5b0,#11b1ae,#3bc1ad,#79d3ac,#b2e6ae,#daf2b7,#edf7be,#f4f9c0,#f7fac0,#f9fac0,#fbfac0,#fbfac0,#f8fac0,#f2f9c0,#e6f5bb,#e1f4ba,#eaf7bd,#f5f9c0,#f3f9c0,#d7f1b6,#b4e6af,#9addad,#82d6ac,#6dcfac,#66cdac,#77d2ac,#99ddac,#bfeab0,#e2f4ba,#f7fac0,#fefbc0,#fdf3b2,#fdeca6,#fce9a0,#fce89e,#fce89f,#fce9a0)"></i>
<i style="height:1px;background:linear-gradient(90deg,#81d6ac,#71d1ac,#63ccac,#5bcaac,#58c9ac,#5dcaac,#65cdac,#6ed0ac,#6bcfac,#4fc6ac,#14b5ae,#0ba1b0,#1f82b2,#2b7aae,#138db4,#0ca1b0,#0ea8af,#11b0ae,#3dc1ad,#8bd9ac,#cfefb4,#fbfbc0,#fce599,#fad67f,#fad47c,#fbda87,#fbdf8e,#fbe294,#fceaa2,#fef6b8,#fbfac0,#f9fac0,#fbfac0,#fef9bc,#fdeda8,#fbe091,#fad57e,#fad076,#fad47b,#fce498,#fbfac0,#cfefb3,#86d7ac,#24baad,#0ca2b0,#138fb4,#148cb4,#1095b2,#0da4b0,#12b1ae,#3dc1ad,#7cd4ac,#b6e7af,#dff3b9,#f3f9c0,#f7fac0,#f9fac0,#fbfbc0,#fdfbc0,#fcfbc0,#f8fac0,#f1f9bf,#e3f4ba,#dcf2b8,#e2f4ba,#eef7be,#e7f6bc,#c9edb1,#a5e1ad,#89d8ac,#71d1ac,#5ecbac,#5acaac,#6dcfac,#93dbac,#bbe9af,#e0f4b9,#f6fac0,#fdfbc0,#fdf3b3,#fdeda7,#fce9a0,#fce79d,#fce79e,#fce89e)"></i>
<i style="height:1px;background:linear-gradient(90deg,#82d6ac,#6ed0ac,#5ecbac,#54c8ac,#52c7ac,#57c9ac,#62ccac,#6bcfac,#69ceac,#4ec6ac,#16b6ae,#0ca2b0,#1887b4,#2280b1,#1192b3,#0ca3b0,#0ea8af,#11afaf,#37bfad,#84d6ac,#caedb2,#fafac0,#fce59a,#fad57e,#fad37b,#fbd984,#fbdd8b,#fbdf90,#fce79d,#fdf3b2,#fdfbc0,#fbfac0,#fcfbc0,#fef6b7,#fceba4,#fbde8e,#fad47b,#fad076,#fad57d,#fce79d,#f8fac0,#c6ecb0,#79d3ac,#16b6ae,#0c9db1,#1589b5,#1787b4,#1193b3,#0ca4b0,#12b1ae,#40c2ad,#80d5ac,#bbe8af,#e4f5bb,#f6fac0,#fafac0,#fcfbc0,#fefbc0,#fefabf,#fdfbc0,#f9fac0,#f1f8bf,#e1f4ba,#d7f1b6,#dbf2b7,#e3f4ba,#daf2b7,#bbe9af,#97dcac,#77d3ac,#60cbac,#50c6ac,#4fc6ac,#64cdac,#8cd9ac,#b7e7af,#ddf3b8,#f5f9c0,#fdfbc0,#fdf4b4,#fdeda7,#fce89f,#fce69c,#fce69c,#fce79c)"></i>
<i style="height:1px;background:linear-gradient(90deg,#83d6ac,#6ccfac,#59c9ac,#4ec6ac,#4bc5ac,#52c7ac,#5fcbac,#6aceac,#68ceac,#4ec6ac,#18b7ae,#0da4b0,#148cb4,#1a86b4,#0f96b2,#0da4b0,#0ea9af,#11afaf,#32bead,#7dd4ac,#c5ecb0,#f9fac0,#fce69c,#fad57e,#fad279,#fad882,#fbdb88,#fbdd8c,#fce498,#fdf0ad,#fefabe,#fcfbc0,#fefbc0,#fdf4b3,#fce9a1,#fbdd8b,#fad37a,#fad076,#fad680,#fceaa2,#f6f9c0,#bde9af,#6dcfac,#12b2ae,#0f98b2,#1e83b2,#1d83b3,#1191b3,#0ca4b0,#12b2ae,#44c3ad,#85d7ac,#bfeab0,#eaf6bd,#f8fac0,#fcfbc0,#fefabe,#fef8ba,#fef7ba,#fefabf,#f9fac0,#f1f8bf,#dff3b9,#d3f0b5,#d3f0b5,#d9f2b7,#ceefb3,#ade4ae,#87d7ac,#66cdac,#50c6ac,#41c2ad,#43c3ad,#5ccaac,#86d7ac,#b3e6af,#dbf2b8,#f5f9c0,#fcfbc0,#fdf4b5,#fdeda7,#fce89e,#fce59a,#fce599,#fce59a)"></i>
<i style="height:1px;background:linear-gradient(90deg,#83d6ac,#69ceac,#54c8ac,#47c4ac,#45c3ac,#4ec6ac,#5dcaac,#69ceac,#68ceac,#50c6ac,#1cb8ae,#0da6af,#1192b3,#148cb4,#0e9ab1,#0da6af,#0faaaf,#11afaf,#2fbdad,#78d3ac,#c0eab0,#f7fac0,#fce89e,#fad57e,#fad278,#fad780,#fbda86,#fbdc89,#fce295,#fdeea9,#fef8ba,#fefbc0,#fef9bd,#fdf2b0,#fce79e,#fbdc89,#fad37a,#fad177,#fbd883,#fdeda8,#f2f9c0,#b5e7af,#63ccac,#11afaf,#1193b3,#247eb0,#2180b1,#1290b3,#0da4b0,#12b4ae,#4ac5ac,#8bd9ac,#c5ecb0,#eff8bf,#fbfac0,#fefabe,#fef6b7,#fdf4b4,#fdf5b5,#fef9bc,#fafac0,#f2f9bf,#def3b9,#d0efb4,#cdeeb3,#cfefb4,#c3ebb0,#a0e0ad,#76d2ac,#56c8ac,#3fc2ad,#32bead,#37bfad,#53c7ac,#80d5ac,#b0e5ae,#d9f2b7,#f4f9c0,#fcfbc0,#fdf5b5,#fdeda7,#fce79d,#fce498,#fce397,#fce397)"></i>
<i style="height:1px;background:linear-gradient(90deg,#83d6ac,#66cdac,#4ec6ac,#40c2ad,#3fc2ad,#4ac5ac,#5ccaac,#69ceac,#69ceac,#52c7ac,#22b9ae,#0ea9af,#0f98b2,#1192b3,#0c9fb0,#0ea7af,#0fabaf,#11b0af,#2ebdad,#73d1ac,#bbe9af,#f5f9c0,#fce9a1,#fad57e,#fad178,#fad67f,#fbd985,#fbdb87,#fbe193,#fdeca6,#fdf6b7,#fefabe,#fef8ba,#fdf1ae,#fce69c,#fbdb88,#fad37a,#fad278,#fbdb87,#fdf1ae,#ecf7bd,#ade4ae,#5ac9ac,#10adaf,#128fb4,#297baf,#247eb0,#1290b3,#0da5b0,#14b5ae,#52c7ac,#93dbac,#caedb2,#f3f9c0,#fdfbc0,#fef6b7,#fdf2b1,#fdf1ae,#fdf2b0,#fef7b9,#fbfac0,#f2f9c0,#ddf3b8,#cdeeb3,#c7edb1,#c7edb1,#b8e7af,#94dbac,#67ceac,#46c4ac,#30bdad,#25baad,#2cbcad,#4bc5ac,#7ad3ac,#ade4ae,#d7f1b6,#f3f9c0,#fbfbc0,#fdf5b5,#fdeca6,#fce69b,#fce396,#fbe293,#fbe293)"></i>
<i style="height:1px;background:linear-gradient(90deg,#84d6ac,#63ccac,#49c4ac,#3ac0ad,#39c0ad,#47c4ac,#5ccaac,#6bcfac,#6bcfac,#55c8ac,#28bbad,#0fabaf,#0c9eb0,#0e98b2,#0ca2b0,#0ea9af,#0facaf,#11b0ae,#2dbdad,#70d0ac,#b6e7af,#f3f9c0,#fceba4,#fad57e,#fad177,#fad57e,#fbd984,#fbda87,#fbe091,#fceba4,#fdf4b4,#fef8bb,#fef6b8,#fdf0ac,#fce69b,#fbdb88,#fad47b,#fad37a,#fbdd8c,#fdf4b4,#e5f5bb,#a6e2ae,#52c7ac,#0fabaf,#148cb4,#2d78ae,#267db0,#1291b3,#0da6af,#1cb7ae,#5bcaac,#9addad,#cfefb4,#f5f9c0,#fefabe,#fdf3b1,#fdefab,#fdeea8,#fdefac,#fdf5b6,#fcfbc0,#f3f9c0,#ddf3b8,#caedb2,#c2ebb0,#bfeaaf,#ade4ae,#87d7ac,#59c9ac,#37bfad,#22b9ae,#18b6ae,#21b9ae,#43c3ad,#75d2ac,#aae3ae,#d4f0b5,#f2f9c0,#fbfac0,#fdf5b6,#fceca5,#fce599,#fbe193,#fbdf90,#fbdf90)"></i>
<i style="height:1px;background:linear-gradient(90deg,#84d6ac,#60cbac,#43c3ad,#34bead,#34bfad,#45c3ac,#5dcaac,#6dcfac,#6ed0ac,#59c9ac,#2fbdad,#10aeaf,#0ca3b0,#0c9fb0,#0da5b0,#0fabaf,#10adaf,#12b1ae,#2ebdad,#6dcfac,#b1e5ae,#eff8be,#fdeda8,#fad67f,#fad177,#fad57d,#fbd984,#fbda87,#fbe091,#fceaa2,#fdf3b2,#fef7b9,#fdf6b7,#fdefab,#fce69b,#fbdc89,#fad57e,#fad57e,#fbe091,#fef8ba,#dff3b9,#a0dfad,#4ac5ac,#0ea9af,#158ab5,#2f77ad,#267db0,#1192b3,#0ea8af,#25baad,#65cdac,#a2e0ad,#d5f1b6,#f7fac0,#fef7b9,#fdefac,#fceba5,#fceaa3,#fdeda7,#fdf3b2,#fcfbc0,#f4f9c0,#ddf3b8,#c8edb1,#bde9af,#b7e7af,#a4e1ad,#7ad3ac,#4bc5ac,#29bbad,#14b5ae,#12b3ae,#17b6ae,#3bc1ad,#70d0ac,#a7e2ae,#d3f0b5,#f1f8bf,#fbfac0,#fdf5b6,#fceba4,#fce497,#fbdf8f,#fbdd8c,#fbdd8b)"></i>
<i style="height:1px;background:linear-gradient(90deg,#84d6ac,#5dcaac,#3ec1ad,#2dbdad,#2fbdad,#43c3ad,#5ecbac,#70d0ac,#72d1ac,#5ecbac,#36bfad,#12b2ae,#0ea7af,#0ca3b0,#0ea8af,#10adaf,#11afaf,#12b3ae,#30bdad,#6bcfac,#ade4ae,#e9f6bd,#fdefac,#fad780,#fad076,#fad57d,#fbd984,#fbdb88,#fbe091,#fceaa2,#fdf2b1,#fef6b8,#fdf5b6,#fdefab,#fce69b,#fbdd8b,#fad781,#fad883,#fce396,#fefbc0,#d9f2b7,#9addad,#44c3ad,#0ea8af,#1688b5,#3076ad,#257db0,#1094b3,#0faaaf,#2fbdad,#70d0ac,#abe3ae,#dcf2b8,#f9fac0,#fdf4b4,#fdeca6,#fce89f,#fce79e,#fceba3,#fdf2af,#fdfbc0,#f5f9c0,#def3b9,#c7ecb1,#b9e8af,#b0e5ae,#9bdead,#6dcfac,#3dc1ad,#1bb7ae,#12b2ae,#11b0ae,#12b4ae,#34bfad,#6ccfac,#a4e1ad,#d1efb4,#eff8bf,#fafac0,#fdf5b5,#fceaa3,#fce294,#fbdd8b,#fbdb87,#fbda87)"></i>
<i style="height:1px;background:linear-gradient(90deg,#84d6ac,#5ac9ac,#38c0ad,#28bbad,#2bbcad,#42c3ad,#60cbac,#74d1ac,#76d2ac,#63ccac,#3fc2ad,#13b5ae,#0fabaf,#0ea7af,#0faaaf,#11afaf,#11b0ae,#13b4ae,#34bead,#6aceac,#a8e2ae,#e4f5bb,#fdf2b0,#fad882,#fad077,#fad57d,#fbda86,#fbdc89,#fbe192,#fceaa1,#fdf2b0,#fdf6b7,#fdf5b6,#fdefab,#fce69c,#fbde8d,#fbd985,#fbdb88,#fce79c,#fbfbc0,#d3f0b5,#94dbac,#3fc2ad,#0ea7af,#1787b4,#3076ad,#237fb1,#0f96b2,#10acaf,#3bc0ad,#7dd4ac,#b4e6af,#e2f4ba,#fbfac0,#fdf2b0,#fce9a1,#fce59a,#fce599,#fce89f,#fdf0ac,#fefbbf,#f5f9c0,#dff3b9,#c6ecb0,#b5e7af,#aae3ae,#92dbac,#62ccac,#31bead,#13b4ae,#11afaf,#10adaf,#12b1ae,#2ebdad,#68ceac,#a2e0ad,#cfefb3,#eef8be,#fafac0,#fdf5b5,#fce9a1,#fbe091,#fbdb87,#fad882,#fad882)"></i>
<i style="height:1px;background:linear-gradient(90deg,#84d6ac,#57c9ac,#33bead,#22b9ae,#27bbad,#42c2ad,#63ccac,#78d3ac,#7bd3ac,#69ceac,#48c4ac,#20b9ae,#11afaf,#0fabaf,#10adaf,#11b0ae,#12b2ae,#17b6ae,#38c0ad,#69ceac,#a4e1ad,#def3b9,#fdf5b5,#fbd984,#fad177,#fad57e,#fbda87,#fbdd8c,#fbe294,#fceaa2,#fdf1af,#fdf6b7,#fdf5b6,#fdefab,#fce79d,#fbe090,#fbdc89,#fbde8d,#fceaa3,#f9fac0,#cdeeb3,#8edaac,#3bc0ad,#0da6af,#1787b4,#2e77ad,#2081b2,#0e9ab1,#11afaf,#47c4ac,#8ad8ac,#beeaaf,#e9f6bc,#fcfbc0,#fdefac,#fce79d,#fce295,#fbe294,#fce69b,#fdeea9,#fef9bc,#f6fac0,#e0f4ba,#c5ecb0,#b2e5ae,#a4e1ad,#89d8ac,#57c9ac,#25baad,#11b1ae,#10acaf,#0faaaf,#11afaf,#28bbad,#65cdac,#a0dfad,#cdeeb3,#edf7be,#fafac0,#fdf4b4,#fce89f,#fbde8e,#fbd883,#fad57d,#fad57d)"></i>
<i style="height:1px;background:linear-gradient(90deg,#84d6ac,#54c8ac,#2ebdad,#1db8ae,#24baad,#42c2ad,#66cdac,#7dd4ac,#80d5ac,#70d0ac,#52c7ac,#2dbcad,#12b4ae,#11b0af,#11b0ae,#12b3ae,#13b4ae,#1fb8ae,#3cc1ad,#69ceac,#a0dfad,#d9f2b7,#fef8ba,#fbda86,#fad177,#fad67f,#fbdc89,#fbdf8e,#fce396,#fceaa3,#fdf1af,#fdf6b7,#fdf5b6,#fdf0ac,#fce89f,#fbe294,#fbdf8f,#fbe294,#fdeeaa,#f6fac0,#c7edb1,#88d8ac,#37bfad,#0da6af,#1788b5,#2c79ae,#1c84b3,#0c9db1,#12b2ae,#54c8ac,#97dcac,#c8edb1,#eff8bf,#fefbc0,#fdeda8,#fce498,#fbe090,#fbdf8f,#fce497,#fdeca6,#fef7ba,#f7fac0,#e2f4ba,#c5ecb0,#afe5ae,#9fdfad,#81d5ac,#4dc6ac,#1ab7ae,#10aeaf,#0ea9af,#0ea8af,#10adaf,#22b9ae,#61ccac,#9edfad,#cceeb2,#ecf7bd,#fafac0,#fdf4b3,#fce79d,#fbdc8a,#fad57e,#fad279,#fad279)"></i>
<i style="height:1px;background:linear-gradient(90deg,#84d7ac,#51c7ac,#2abcad,#19b7ae,#21b9ae,#42c3ad,#6aceac,#82d6ac,#85d7ac,#76d2ac,#5bcaac,#3bc0ad,#1eb8ae,#13b4ae,#12b3ae,#13b5ae,#19b7ae,#27bbad,#42c2ad,#6aceac,#9ddead,#d3f0b5,#fefbbf,#fbdc89,#fad278,#fad780,#fbdd8b,#fbe192,#fce599,#fceba4,#fdf1af,#fdf6b7,#fdf6b7,#fdf1ae,#fceaa2,#fce498,#fce294,#fce69b,#fdf2b1,#f4f9c0,#c1ebb0,#83d6ac,#35bfad,#0da6af,#1589b5,#297baf,#1787b4,#0ba1b0,#13b5ae,#62ccac,#a2e0ad,#d1efb4,#f4f9c0,#fef8bb,#fceba4,#fbe294,#fbdd8b,#fbdd8b,#fbe294,#fceba3,#fdf6b7,#f9fac0,#e4f5bb,#c5ecb0,#ade4ae,#9bdead,#79d3ac,#44c3ad,#13b4ae,#0fabaf,#0ea7af,#0da6af,#0fabaf,#1db8ae,#5fcbac,#9cdead,#caedb2,#eaf7bd,#fafac0,#fdf3b2,#fce59a,#fbda87,#fad37a,#fad075,#fad075)"></i>
<i style="height:1px;background:linear-gradient(90deg,#85d7ac,#4fc6ac,#26bbad,#15b6ae,#1fb8ae,#43c3ad,#6ed0ac,#88d8ac,#8bd9ac,#7ed4ac,#65cdac,#49c4ac,#2fbdad,#1eb8ae,#18b7ae,#1ab7ae,#21b9ae,#30bdad,#48c4ac,#6bcfac,#99ddac,#cdeeb3,#fcfbc0,#fbde8d,#fad37a,#fad882,#fbdf8e,#fce395,#fce79c,#fceca6,#fdf2b0,#fef6b7,#fef6b8,#fdf1af,#fceba4,#fce79d,#fce69b,#fceaa2,#fef7b9,#eef8be,#bbe9af,#7ed5ac,#33bead,#0ea7af,#148bb5,#257eb0,#148bb5,#0ca4b0,#20b9ae,#70d0ac,#aee4ae,#dbf2b8,#f7fac0,#fdf6b7,#fce9a0,#fbe090,#fbdb87,#fbda87,#fbe090,#fce9a0,#fdf4b4,#fafac0,#e6f5bb,#c6ecb0,#abe3ae,#97dcac,#72d1ac,#3bc0ad,#12b2ae,#0ea9af,#0da4b0,#0ca3b0,#0ea9af,#18b7ae,#5ccaac,#9bdead,#c8edb1,#e9f6bd,#f9fac0,#fdf3b1,#fce498,#fad883,#fad076,#f9cd72,#f9cd72)"></i>
<i style="height:1px;background:linear-gradient(90deg,#85d7ac,#4dc6ac,#23baae,#13b5ae,#1db8ae,#45c3ac,#73d1ac,#8ed9ac,#91dbac,#85d7ac,#6fd0ac,#57c9ac,#40c2ad,#2ebdad,#24baad,#23b9ae,#2abcad,#38c0ad,#4ec6ac,#6ccfac,#96dcac,#c8edb1,#fafac0,#fbe090,#fad47c,#fbd985,#fbe091,#fce599,#fce9a0,#fdeda7,#fdf2b0,#fef6b8,#fef7b9,#fdf3b1,#fdeda7,#fceaa2,#fceaa2,#fdeeaa,#fefbc0,#e7f6bc,#b5e7af,#7ad3ac,#32bead,#0ea7af,#138db4,#2081b2,#128fb4,#0ea7af,#2dbdad,#7ed5ac,#bae8af,#e5f5bb,#fafac0,#fdf3b2,#fce79d,#fbde8d,#fbd883,#fbd883,#fbde8d,#fce79d,#fdf2b1,#fbfac0,#e8f6bc,#c7ecb1,#aae3ae,#93dbac,#6bcfac,#32bead,#11afaf,#0ea7af,#0ca2b0,#0ca1b0,#0ea7af,#14b5ae,#5ac9ac,#99ddac,#c7edb1,#e8f6bc,#f9fac0,#fdf2b0,#fce295,#fad67e,#f9ce73,#f9ca6e,#f9cb6f)"></i>
<i style="height:1px;background:linear-gradient(90deg,#85d7ac,#4cc5ac,#21b9ae,#13b4ae,#1cb8ae,#47c4ac,#77d3ac,#93dbac,#97dcac,#8dd9ac,#79d3ac,#64cdac,#50c7ac,#3ec1ad,#30bdad,#2bbcad,#33bead,#41c2ad,#54c8ac,#6ed0ac,#93dbac,#c3ebb0,#f8fac0,#fce295,#fad67f,#fbdb87,#fce295,#fce79d,#fceba4,#fdeeaa,#fdf3b1,#fef7b9,#fef8ba,#fdf4b3,#fdefab,#fdeda7,#fdeea9,#fdf3b2,#fbfac0,#e1f4ba,#afe5ae,#76d2ac,#31bead,#0ea8af,#128fb4,#1a85b3,#1093b3,#0faaaf,#3cc1ad,#8cd9ac,#c6ecb0,#eef8be,#fcfbc0,#fdf1ae,#fce59a,#fbdc89,#fad680,#fad67f,#fbdc89,#fce59a,#fdf0ad,#fcfbc0,#ebf7bd,#c8edb1,#a9e2ae,#90daac,#65cdac,#2bbcad,#10adaf,#0da5b0,#0ba0b0,#0b9fb0,#0da6af,#13b4ae,#57c9ac,#98ddac,#c5ecb0,#e7f6bc,#f9fac0,#fdf1af,#fbe192,#fad37a,#f9cb70,#f8c86b,#f8c86b)"></i>
<i style="height:1px;background:linear-gradient(90deg,#86d7ac,#4ac5ac,#1fb8ae,#13b4ae,#1cb8ae,#4ac5ac,#7cd4ac,#98ddac,#9cdead,#94dbac,#83d6ac,#71d1ac,#60cbac,#4dc6ac,#3bc1ad,#34bfad,#3cc1ad,#4ac5ac,#5bcaac,#70d0ac,#91daac,#bde9af,#f6fac0,#fce59a,#fad883,#fbdc8a,#fce498,#fceaa1,#fdeda7,#fdefac,#fdf3b2,#fef7ba,#fef8bc,#fdf5b5,#fdf1af,#fdf0ad,#fdf2b0,#fef8ba,#f8fac0,#daf2b7,#a9e3ae,#72d1ac,#30bdad,#0ea9af,#1191b3,#1589b5,#0e98b2,#10adaf,#4ac5ac,#9addad,#d1efb4,#f5f9c0,#fefabe,#fdeeaa,#fce396,#fbda86,#fad47c,#fad47c,#fbda86,#fce497,#fdefaa,#fdfbc0,#edf7be,#c9edb1,#a8e2ae,#8cd9ac,#60cbac,#23baae,#0fabaf,#0ca3b0,#0c9eb1,#0c9db1,#0da4b0,#12b3ae,#55c8ac,#96dcac,#c4ecb0,#e6f5bb,#f9fac0,#fdf0ad,#fbdf8f,#fad177,#f9c96c,#f8c567,#f8c568)"></i>
<i style="height:1px;background:linear-gradient(90deg,#86d7ac,#4ac5ac,#1eb8ae,#12b4ae,#1db8ae,#4dc6ac,#81d6ac,#9ddead,#a1e0ad,#9addad,#8dd9ac,#7ed5ac,#6fd0ac,#5ccaac,#47c4ac,#3ec1ad,#45c3ac,#53c8ac,#61ccac,#72d1ac,#8edaac,#b8e8af,#f4f9c0,#fce89f,#fbda87,#fbde8e,#fce69c,#fceca6,#fdefab,#fdf1ae,#fdf4b3,#fef8bb,#fef9bd,#fef6b8,#fdf3b2,#fdf3b3,#fef6b8,#fdfbc0,#f5f9c0,#d3f0b5,#a4e1ad,#6ed0ac,#30bdad,#0fa9af,#1094b3,#138db4,#0c9db1,#11b1ae,#59c9ac,#a6e1ad,#dcf2b8,#f9fac0,#fdf6b7,#fceca5,#fbe193,#fbd883,#fad37a,#fad279,#fbd883,#fbe294,#fdeda7,#fefabf,#f0f8bf,#caedb2,#a8e2ae,#89d8ac,#5bcaac,#1db8ae,#0fa9af,#0ba1b0,#0d9bb1,#0d9ab1,#0ca3b0,#12b2ae,#54c8ac,#95dcac,#c2ebb0,#e5f5bb,#f9fac0,#fdefac,#fbdd8b,#f9cf74,#f8c669,#f8c264,#f8c365)"></i>
<i style="height:1px;background:linear-gradient(90deg,#87d7ac,#4ac5ac,#1eb8ae,#12b4ae,#1fb8ae,#50c7ac,#86d7ac,#a2e0ad,#a6e1ae,#a0e0ad,#97dcac,#8bd8ac,#7dd4ac,#6aceac,#53c7ac,#47c4ac,#4ec6ac,#5ccaac,#67cdac,#74d2ac,#8cd9ac,#b4e6af,#eff8bf,#fceca5,#fbdd8c,#fbe192,#fce9a0,#fdeeaa,#fdf1af,#fdf2b0,#fdf4b5,#fef8bb,#fefabe,#fef8ba,#fdf6b6,#fef7b9,#fefbc0,#fafac0,#eff8be,#cbeeb2,#9edfad,#6bcfac,#31bead,#0faaaf,#0f97b2,#1191b3,#0ca2b0,#13b5ae,#68ceac,#b2e5ae,#e6f5bc,#fcfbc0,#fdf2b0,#fce9a1,#fbe090,#fad780,#fad178,#fad177,#fad680,#fbe091,#fceba4,#fef8bb,#f2f9c0,#cbeeb2,#a8e2ae,#86d7ac,#56c8ac,#16b6ae,#0ea8af,#0b9fb0,#0e99b2,#0e98b2,#0ca2b0,#12b2ae,#52c7ac,#93dbac,#c1eab0,#e4f5bb,#f9fac0,#fdeeaa,#fbdb88,#f9cd71,#f8c466,#f7c061,#f7c162)"></i>
<i style="height:1px;background:linear-gradient(90deg,#88d8ac,#4bc5ac,#1fb8ae,#13b4ae,#21b9ae,#54c8ac,#8bd9ac,#a6e2ae,#abe3ae,#a6e2ae,#9fdfad,#96dcac,#8bd9ac,#77d2ac,#5fcbac,#51c7ac,#57c9ac,#64cdac,#6ccfac,#77d2ac,#8bd9ac,#b0e5ae,#eaf6bd,#fdefab,#fbe092,#fce396,#fceba4,#fdf1ae,#fdf3b2,#fdf3b3,#fdf5b6,#fef9bc,#fefabf,#fef9bc,#fef8ba,#fefabf,#fbfac0,#f6fac0,#e6f5bc,#c4ecb0,#99ddac,#67ceac,#31bead,#0fabaf,#0e9ab1,#0f96b2,#0da5b0,#21b9ae,#77d2ac,#beeaaf,#f0f8bf,#fef9bd,#fdeeaa,#fce79d,#fbde8d,#fad57e,#fad076,#fad075,#fad57d,#fbde8e,#fce9a1,#fef7b8,#f4f9c0,#cdeeb3,#a8e2ae,#84d6ac,#51c7ac,#13b4ae,#0da6af,#0c9db1,#0f97b2,#0f97b2,#0ba1b0,#12b1ae,#50c7ac,#92dbac,#bfeab0,#e2f4ba,#f9fac0,#fdeda8,#fbd984,#f9ca6e,#f7c162,#f7bd5d,#f7be5f)"></i>
<i style="height:1px;background:linear-gradient(90deg,#89d8ac,#4cc5ac,#20b9ae,#13b5ae,#24baad,#58c9ac,#90daac,#abe3ae,#b0e5ae,#ace4ae,#a6e2ae,#a0dfad,#97dcac,#84d6ac,#6aceac,#5bcaac,#60cbac,#6bcfac,#72d1ac,#79d3ac,#8ad8ac,#ade4ae,#e5f5bb,#fdf3b2,#fce498,#fce69b,#fdeda8,#fdf3b2,#fdf5b5,#fdf5b5,#fdf6b7,#fef9bd,#fefbc0,#fefabe,#fefabf,#fcfbc0,#f8fac0,#f2f9c0,#def3b9,#bce9af,#93dbac,#64cdac,#32bead,#10acaf,#0c9db1,#0e9ab1,#0ea8af,#31bead,#86d7ac,#c9edb1,#f6f9c0,#fdf4b4,#fceba4,#fce599,#fbdc8a,#fad47b,#f9cf75,#f9ce74,#fad37a,#fbdd8b,#fce79d,#fdf5b5,#f5f9c0,#cfefb3,#a8e2ae,#82d6ac,#4dc6ac,#12b3ae,#0da5b0,#0d9ab1,#1095b2,#1095b2,#0ba1b0,#11b1ae,#4fc6ac,#90daac,#bde9af,#e1f4ba,#f9fac0,#fdeca6,#fad781,#f8c86b,#f7bf5f,#f7bb5a,#f7bc5c)"></i>
<i style="height:1px;background:linear-gradient(90deg,#8ad8ac,#4ec6ac,#23baae,#16b6ae,#29bbad,#5ccaac,#94dbac,#aee4ae,#b4e6af,#b2e5ae,#aee4ae,#a9e2ae,#a1e0ad,#91daac,#75d2ac,#65cdac,#68ceac,#72d1ac,#77d2ac,#7bd4ac,#8ad8ac,#aae3ae,#dff3b9,#fef8ba,#fce89f,#fce9a1,#fdefac,#fdf5b5,#fef7b8,#fdf6b7,#fef6b8,#fef9bd,#fefbc0,#fefbc0,#fdfbc0,#fafac0,#f5f9c0,#eaf6bd,#d5f1b6,#b4e6af,#8cd9ac,#61ccac,#32bead,#10adaf,#0ba0b0,#0c9eb0,#10acaf,#40c2ad,#95dcac,#d4f0b5,#f9fac0,#fdf0ad,#fce89e,#fce295,#fbdb87,#fad37a,#f9ce73,#f9cd72,#fad278,#fbdb88,#fce59a,#fdf3b2,#f6f9c0,#d0efb4,#a8e2ae,#7fd5ac,#49c4ac,#12b2ae,#0ca3b0,#0e99b2,#1193b3,#1094b3,#0ba0b0,#11b0ae,#4dc6ac,#8edaac,#bbe9af,#e0f4b9,#f9fac0,#fceba5,#fad57d,#f8c668,#f7bd5c,#f6b957,#f6ba59)"></i>
<i style="height:1px;background:linear-gradient(90deg,#8cd9ac,#52c7ac,#28bbad,#1ab7ae,#2ebdad,#61ccac,#98ddac,#b2e6ae,#b8e8af,#b7e7af,#b4e6af,#b1e5ae,#abe3ae,#9bdead,#80d5ac,#6fd0ac,#71d0ac,#79d3ac,#7bd4ac,#7ed4ac,#8ad8ac,#a8e2ae,#daf2b7,#fdfbc0,#fdeda7,#fdeca6,#fdf2af,#fef6b8,#fef8bb,#fef7b8,#fef7b9,#fef9bd,#fefbc0,#fdfbc0,#fcfbc0,#f7fac0,#f0f8bf,#e1f4ba,#cceeb3,#ade4ae,#86d7ac,#5ecbac,#33bead,#11aeaf,#0ca2b0,#0ca2b0,#11b0af,#50c7ac,#a1e0ad,#def3b9,#fcfbc0,#fdeda7,#fce599,#fbe091,#fbd985,#fad278,#f9cd72,#f9cc71,#fad177,#fbd985,#fce497,#fdf2b0,#f6fac0,#d2f0b4,#a8e2ae,#7dd4ac,#44c3ad,#11b0ae,#0ca2b0,#0f97b2,#1192b3,#1193b3,#0ba0b0,#11b0ae,#4cc5ac,#8cd9ac,#bae8af,#dff3b9,#f9fac0,#fceaa3,#fad37a,#f8c365,#f6ba59,#f6b755,#f6b957)"></i>
<i style="height:1px;background:linear-gradient(90deg,#8ed9ac,#55c8ac,#2dbcad,#20b9ae,#34bead,#66cdac,#9cdead,#b5e7af,#bce9af,#bce9af,#bbe9af,#b9e8af,#b4e6af,#a4e1ad,#8bd9ac,#79d3ac,#79d3ac,#7ed5ac,#7fd5ac,#80d5ac,#8ad8ac,#a6e1ae,#d5f1b6,#fafac0,#fdf2b0,#fdf0ad,#fdf4b3,#fef8bb,#fef9bd,#fef8ba,#fef7b9,#fef9bd,#fefbc0,#fdfbc0,#fafac0,#f5f9c0,#e9f6bc,#d8f2b7,#c4ecb0,#a5e1ad,#7fd5ac,#5bcaac,#34bead,#11afaf,#0ca3b0,#0da4b0,#12b3ae,#60cbac,#aee4ae,#e8f6bc,#fef9bd,#fce9a1,#fce295,#fbde8d,#fad782,#fad177,#f9cc71,#f9cc70,#f9cf75,#fad781,#fbe294,#fdf0ad,#f7fac0,#d3f0b5,#a9e2ae,#7bd4ac,#40c2ad,#11afaf,#0ba1b0,#1095b2,#1291b3,#1193b3,#0b9fb0,#11b0ae,#4bc5ac,#8ad8ac,#b8e8af,#def3b9,#f9fac0,#fce9a1,#fad177,#f7c162,#f6b856,#f6b552,#f6b755)"></i>
<i style="height:1px;background:linear-gradient(90deg,#90daac,#59c9ac,#33bead,#27bbad,#3bc0ad,#6ccfac,#9fdfad,#b8e8af,#bfeab0,#c1eab0,#c1ebb0,#c1ebb0,#bce9af,#ade4ae,#96dcac,#83d6ac,#81d5ac,#84d6ac,#82d6ac,#82d6ac,#8bd9ac,#a5e1ad,#d1efb4,#f7fac0,#fef7b9,#fdf4b3,#fef6b7,#fef9bd,#fefabf,#fef8bb,#fef7ba,#fef9bd,#fefbc0,#fcfbc0,#f9fac0,#f3f9c0,#e1f4ba,#d0efb4,#bae8af,#9ddead,#79d3ac,#58c9ac,#34bfad,#11b0ae,#0da5b0,#0ea7af,#1ab7ae,#6fd0ac,#bae8af,#f1f8bf,#fdf5b6,#fce79c,#fbe090,#fbdc89,#fad67f,#fad076,#f9cc70,#f9cb6f,#f9ce74,#fad67e,#fbe091,#fdefab,#f8fac0,#d5f1b6,#a9e3ae,#7ad3ac,#3cc1ad,#10aeaf,#0ba0b0,#1094b3,#1290b3,#1192b3,#0b9fb0,#11b0af,#49c5ac,#88d8ac,#b6e7af,#ddf3b8,#f9fac0,#fce89f,#f9cf75,#f7bf60,#f6b654,#f5b350,#f6b653)"></i>
<i style="height:1px;background:linear-gradient(90deg,#92dbac,#5ecbac,#3ac0ad,#2fbdad,#42c3ad,#72d1ac,#a2e0ad,#bbe9af,#c3ebb0,#c5ecb0,#c7edb1,#c8edb1,#c3ebb0,#b5e6af,#9edfad,#8dd9ac,#88d8ac,#89d8ac,#85d7ac,#84d6ac,#8dd9ac,#a4e1ad,#cceeb2,#f3f9c0,#fdfbc0,#fef8ba,#fef8bb,#fefbc0,#fefbc0,#fef9bc,#fef8ba,#fef9bc,#fefbc0,#fcfbc0,#f7fac0,#edf7be,#daf2b7,#c7edb1,#b1e5ae,#95dcac,#72d1ac,#56c8ac,#35bfad,#12b1ae,#0ea7af,#0faaaf,#28bbad,#7ed5ac,#c6ecb0,#f6fac0,#fdf1af,#fce498,#fbde8d,#fbd985,#fad47c,#f9cf75,#f9cb70,#f9ca6e,#f9cd72,#fad47b,#fbdf8e,#fdeea9,#f9fac0,#d6f1b6,#aae3ae,#78d3ac,#39c0ad,#10adaf,#0c9eb0,#1193b3,#1290b4,#1192b3,#0b9fb0,#11b0af,#48c4ac,#86d7ac,#b4e6af,#dcf2b8,#f9fac0,#fce79d,#f9ce73,#f7bd5d,#f6b451,#f5b24e,#f6b551)"></i>
<i style="height:1px;background:linear-gradient(90deg,#94dbac,#64ccac,#42c2ad,#38c0ad,#4bc5ac,#78d3ac,#a6e1ae,#beeaaf,#c6ecb0,#c9edb1,#cceeb2,#cdeeb3,#caedb2,#bce9af,#a7e2ae,#96dcac,#90daac,#8dd9ac,#88d8ac,#86d7ac,#8fdaac,#a4e1ad,#c7edb1,#eaf7bd,#f9fac0,#fefbc0,#fefbbf,#fdfbc0,#fefbc0,#fef9bd,#fef8ba,#fef8bb,#fefbc0,#fbfac0,#f6fac0,#e8f6bc,#d3f0b5,#bfeaaf,#a8e2ae,#8cd9ac,#6ccfac,#53c7ac,#36bfad,#12b2ae,#0ea9af,#10acaf,#36bfad,#8dd9ac,#d0efb4,#f9fac0,#fdeea9,#fce295,#fbdc89,#fad882,#fad37a,#f9cf74,#f9cb6f,#f9ca6d,#f9cc71,#fad279,#fbdd8b,#fdeda7,#f9fac0,#d8f1b7,#aae3ae,#76d2ac,#35bfad,#10acaf,#0c9db1,#1192b3,#128fb4,#1192b3,#0ba0b0,#11b0ae,#47c4ac,#84d7ac,#b3e6af,#dbf2b8,#fafac0,#fce69b,#f9cc71,#f7bb5a,#f5b34f,#f5b14c,#f5b450)"></i>
<i style="height:1px;background:linear-gradient(90deg,#97dcac,#6aceac,#4ac5ac,#42c2ad,#54c8ac,#7ed5ac,#a9e3ae,#c1ebb0,#c9edb1,#cdeeb3,#d1efb4,#d3f0b5,#d0efb4,#c3ebb0,#afe4ae,#9edfad,#96dcac,#92dbac,#8ad8ac,#87d7ac,#90daac,#a4e1ad,#c3ebb0,#e1f4ba,#f5f9c0,#fbfac0,#fdfbc0,#fdfbc0,#fdfbc0,#fefabe,#fef8ba,#fef8bb,#fefabf,#fbfac0,#f5f9c0,#e3f4ba,#cceeb2,#b6e7af,#9fdfad,#83d6ac,#67cdac,#51c7ac,#37bfad,#12b3ae,#0faaaf,#11afaf,#44c3ad,#9addad,#dbf2b8,#fcfbc0,#fceba4,#fbe192,#fbda86,#fad67f,#fad278,#f9ce74,#f9cb6f,#f9c96d,#f9cb70,#fad177,#fbdb89,#fceba5,#fafac0,#d9f2b7,#abe3ae,#75d2ac,#32bead,#0fabaf,#0d9cb1,#1191b3,#128fb4,#1193b3,#0ba0b0,#11b0ae,#46c4ac,#83d6ac,#b1e5ae,#daf2b7,#fafac0,#fce599,#f9ca6f,#f6ba58,#f5b14d,#f5b04b,#f5b34f)"></i>
<i style="height:1px;background:linear-gradient(90deg,#99ddac,#70d0ac,#54c8ac,#4cc5ac,#5dcaac,#85d7ac,#ade4ae,#c3ebb0,#cbeeb2,#d0efb4,#d5f1b6,#d8f1b6,#d5f0b5,#c9edb2,#b6e7af,#a5e1ad,#9cdead,#95dcac,#8cd9ac,#89d8ac,#93dbac,#a4e1ad,#beeaaf,#d8f1b7,#eff8bf,#f8fac0,#fbfbc0,#fcfbc0,#fdfbc0,#fefabe,#fef8ba,#fef7b9,#fefabe,#fbfac0,#f4f9c0,#def3b9,#c6ecb0,#aee4ae,#97dcac,#7bd4ac,#61ccac,#4fc6ac,#38c0ad,#13b5ae,#10acaf,#12b2ae,#51c7ac,#a5e1ad,#e5f5bb,#fef9bc,#fce9a0,#fbdf8f,#fbd984,#fad47c,#fad177,#f9ce73,#f9cb6f,#f9c96c,#f9ca6e,#f9d075,#fbda86,#fceba3,#fafac0,#dbf2b8,#ace3ae,#73d1ac,#2fbdad,#0faaaf,#0d9ab1,#1290b3,#128fb4,#1193b3,#0ba1b0,#11b0ae,#45c3ac,#81d5ac,#afe5ae,#d9f2b7,#fafac0,#fce498,#f9c96d,#f6b856,#f5b04b,#f5af4a,#f5b24e)"></i>
<i style="height:1px;background:linear-gradient(90deg,#9cdead,#77d2ac,#5dcbac,#57c9ac,#66cdac,#8cd9ac,#b0e5ae,#c6ecb0,#ceefb3,#d4f0b5,#d9f2b7,#dcf2b8,#d9f2b7,#cfefb3,#bee9af,#ade4ae,#a1e0ad,#98ddac,#8ed9ac,#8ad8ac,#94dbac,#a5e1ad,#b9e8af,#cfefb4,#e6f5bb,#f5f9c0,#fafac0,#fcfbc0,#fdfbc0,#fefabf,#fef8ba,#fef7b8,#fef9bd,#fafac0,#f2f9c0,#d9f2b7,#bfeab0,#a6e1ad,#8ed9ac,#73d1ac,#5ccaac,#4dc6ac,#3ac0ad,#16b6ae,#10aeaf,#13b4ae,#5ecbac,#b1e5ae,#eef8be,#fdf5b5,#fce69c,#fbde8e,#fad882,#fad37a,#fad076,#f9ce73,#f9cb6f,#f8c96c,#f9c96d,#f9ce74,#fbd984,#fceaa2,#fbfac0,#dcf3b8,#ace4ae,#72d1ac,#2cbcad,#0fa9af,#0e9ab1,#1290b3,#128fb4,#1094b3,#0ba1b0,#11b0ae,#44c3ad,#7fd5ac,#aee4ae,#d8f1b7,#fafac0,#fce396,#f8c86b,#f6b754,#f5af4a,#f5ae49,#f5b14d)"></i>
<i style="height:1px;background:linear-gradient(90deg,#9fdfad,#7ed5ac,#67ceac,#62ccac,#70d0ac,#93dbac,#b4e6af,#c8edb1,#d1efb4,#d7f1b6,#ddf3b8,#dff3b9,#ddf3b8,#d3f0b5,#c4ecb0,#b4e6af,#a6e2ae,#9bdead,#90daac,#8cd9ac,#96dcac,#a5e1ad,#b5e7af,#c6ecb0,#dcf2b8,#f2f9c0,#f8fac0,#fbfac0,#fdfbc0,#fefabf,#fef7ba,#fdf6b7,#fef8bc,#fafac0,#eff8bf,#d5f0b5,#b8e8af,#9edfad,#84d6ac,#6bcfac,#58c9ac,#4cc5ac,#3cc1ad,#1ab7ae,#11b0ae,#1bb7ae,#6acfac,#bbe9af,#f5f9c0,#fdf1ae,#fce499,#fbdd8c,#fad781,#fad278,#f9cf75,#f9ce73,#f9cb6f,#f8c86c,#f9c96c,#f9cd72,#fad782,#fce9a1,#fbfac0,#ddf3b8,#ade4ae,#71d1ac,#29bbad,#0ea9af,#0e99b2,#1290b4,#128fb4,#1095b2,#0ca2b0,#11b1ae,#44c3ad,#7dd4ac,#ace4ae,#d7f1b6,#fafac0,#fce295,#f8c76a,#f6b653,#f5ae49,#f5ae48,#f5b14d)"></i>
<i style="height:1px;background:linear-gradient(90deg,#a2e0ad,#86d7ac,#71d1ac,#6dcfac,#7bd4ac,#99ddad,#b7e7af,#cbeeb2,#d4f0b5,#daf2b7,#e0f4b9,#e3f4ba,#e0f4b9,#d7f1b6,#caedb2,#bae8af,#abe3ae,#9edfad,#91daac,#8dd9ac,#98ddac,#a6e2ae,#b1e5ae,#bde9af,#d2f0b5,#ebf7bd,#f7fac0,#fbfac0,#fdfbc0,#fefabf,#fef7b9,#fdf5b5,#fef8ba,#fafac0,#edf7be,#d1efb4,#b3e6af,#97dcac,#7bd4ac,#64cdac,#53c8ac,#4bc5ac,#3ec1ad,#1fb8ae,#12b2ae,#25baad,#76d2ac,#c6ecb0,#f8fac0,#fdeda8,#fce396,#fbdd8b,#fad67f,#fad177,#f9cf75,#f9ce73,#f9cb70,#f8c86c,#f8c86b,#f9cc71,#fad680,#fce89f,#fcfbc0,#dff3b9,#aee4ae,#70d0ac,#27bbad,#0ea8af,#0e98b2,#1290b4,#1290b4,#0f96b2,#0ca2b0,#11b1ae,#43c3ad,#7cd4ac,#abe3ae,#d7f1b6,#fafac0,#fbe294,#f8c669,#f6b552,#f5ae48,#f5ad48,#f5b14d)"></i>
<i style="height:1px;background:linear-gradient(90deg,#a5e1ad,#8ed9ac,#7cd4ac,#79d3ac,#86d7ac,#a0dfad,#bbe9af,#cdeeb3,#d6f1b6,#ddf3b8,#e3f4ba,#e5f5bb,#e2f4ba,#dbf2b8,#cfefb3,#c0eab0,#b0e5ae,#a0dfad,#93dbac,#8edaac,#99ddad,#a7e2ae,#ace4ae,#b3e6af,#c9edb1,#e4f5bb,#f5f9c0,#fafac0,#fdfbc0,#fefabe,#fef7b8,#fdf4b4,#fef7b9,#fafac0,#ebf7bd,#cdeeb3,#ade4ae,#90daac,#73d1ac,#5dcbac,#50c6ac,#4ac5ac,#41c2ad,#24baad,#13b4ae,#2fbdad,#82d6ac,#cfefb3,#fbfac0,#fceaa2,#fbe293,#fbdd8b,#fad67f,#fad077,#f9cf75,#f9ce74,#f9cc70,#f8c86c,#f8c86b,#f9cb6f,#fad57e,#fce89f,#fcfbc0,#e0f4b9,#afe4ae,#6fd0ac,#24baad,#0ea7af,#0f98b2,#1290b4,#1290b3,#0f97b2,#0ca3b0,#12b1ae,#43c3ad,#7ad3ac,#aae3ae,#d6f1b6,#fafac0,#fbe193,#f8c668,#f6b551,#f5ad48,#f5ad48,#f5b14d)"></i>
<i style="height:1px;background:linear-gradient(90deg,#a8e2ae,#95dcac,#87d7ac,#84d7ac,#90daac,#a7e2ae,#c0eab0,#d0efb4,#d9f2b7,#e0f4b9,#e5f5bb,#e7f6bc,#e4f5bb,#ddf3b8,#d3f0b5,#c6ecb0,#b5e6af,#a3e0ad,#94dbac,#8fdaac,#9bdead,#a7e2ae,#a9e2ae,#aae3ae,#bfeaaf,#ddf3b8,#f4f9c0,#fafac0,#fdfbc0,#fefabe,#fef6b7,#fdf3b2,#fdf6b7,#fafac0,#e9f6bc,#caedb2,#a8e2ae,#89d8ac,#6ccfac,#57c9ac,#4cc6ac,#4ac5ac,#44c3ad,#2abcad,#17b6ae,#39c0ad,#8dd9ac,#d7f1b6,#fefbc0,#fce79e,#fbe092,#fbdd8b,#fad67f,#fad076,#f9cf75,#f9cf74,#f9cc71,#f8c96c,#f8c76a,#f9ca6e,#fad47d,#fce89e,#fcfbc0,#e1f4ba,#b0e5ae,#6ed0ac,#22b9ae,#0ea7af,#0f97b2,#1290b4,#1291b3,#0e98b2,#0ca4b0,#12b2ae,#42c3ad,#79d3ac,#a9e2ae,#d6f1b6,#fafac0,#fbe192,#f8c568,#f6b451,#f5ae48,#f5ae48,#f5b14d)"></i>
<i style="height:1px;background:linear-gradient(90deg,#ace4ae,#9cdead,#92dbac,#91daac,#9addad,#ade4ae,#c4ecb0,#d3f0b5,#dcf3b8,#e3f4ba,#e7f6bc,#e8f6bc,#e5f5bb,#dff3b9,#d7f1b6,#caeeb2,#b9e8af,#a5e1ad,#95dcac,#90daac,#9cdead,#a8e2ae,#a5e1ad,#a2e0ad,#b5e7af,#d6f1b6,#f1f9bf,#f9fac0,#fdfbc0,#fefabe,#fdf6b6,#fdf2b0,#fdf5b6,#fafac0,#e7f6bc,#c7edb1,#a4e1ad,#83d6ac,#65cdac,#52c7ac,#4ac5ac,#4bc5ac,#47c4ac,#30bdad,#1fb8ae,#44c3ad,#97dcac,#dff3b9,#fef8ba,#fce59a,#fbe090,#fbdd8b,#fad67f,#fad076,#f9cf75,#f9cf75,#f9cd72,#f9c96c,#f8c76a,#f9c96d,#fad47b,#fce79d,#fcfbc0,#e2f4ba,#b0e5ae,#6ed0ac,#20b9ae,#0da6af,#0f97b2,#1290b3,#1192b3,#0e99b1,#0da5b0,#12b2ae,#42c3ad,#78d3ac,#a8e2ae,#d6f1b6,#fafac0,#fbe091,#f8c568,#f6b552,#f5ae49,#f5ae49,#f5b24d)"></i>
<i style="height:1px;background:linear-gradient(90deg,#b0e5ae,#a3e0ad,#9bdead,#9bdead,#a3e1ad,#b4e6af,#c8edb1,#d6f1b6,#dff3b9,#e5f5bb,#e9f6bd,#e9f6bc,#e5f5bb,#e0f4b9,#daf2b7,#ceefb3,#bde9af,#a8e2ae,#97dcac,#91daac,#9ddead,#a8e2ae,#a1e0ad,#9addad,#ace3ae,#cfefb4,#edf7be,#f9fac0,#fdfbc0,#fef9bd,#fdf5b5,#fdf1ae,#fdf4b4,#fafac0,#e6f5bb,#c4ecb0,#a1e0ad,#7dd4ac,#60cbac,#4ec6ac,#48c4ac,#4cc5ac,#4bc5ac,#37bfad,#28bbad,#4ec6ac,#9fdfad,#e6f5bb,#fdf5b5,#fce397,#fbdf8f,#fbdd8b,#fad67f,#fad177,#fad076,#fad076,#f9cd73,#f9c96d,#f8c669,#f8c96c,#fad37a,#fce79d,#fcfbc0,#e3f4ba,#b1e5ae,#6dcfac,#1fb8ae,#0da6af,#0f97b2,#1290b3,#1193b3,#0d9bb1,#0da5af,#12b2ae,#42c3ad,#77d3ac,#a8e2ae,#d6f1b6,#fbfac0,#fbe091,#f8c668,#f6b553,#f5af4a,#f5af4a,#f5b24e)"></i>
<i style="height:1px;background:linear-gradient(90deg,#b4e6af,#aae3ae,#a5e1ad,#a5e1ad,#ade4ae,#bce9af,#cdeeb3,#daf2b7,#e3f4ba,#e8f6bc,#eaf7bd,#e9f6bc,#e5f5bb,#e1f4ba,#dcf2b8,#d2f0b4,#c0eab0,#abe3ae,#98ddac,#92dbac,#9edfad,#a8e2ae,#9ddfad,#92dbac,#a3e0ad,#c9edb1,#e9f6bd,#f8fac0,#fdfbc0,#fef9bc,#fdf4b4,#fdf0ad,#fdf3b2,#fafac0,#e5f5bb,#c2ebb0,#9edfad,#79d3ac,#5bcaac,#4ac5ac,#47c4ac,#4ec6ac,#50c7ac,#3ec1ad,#31bead,#58c9ac,#a7e2ae,#ecf7bd,#fdf2b0,#fce294,#fbdf8f,#fbdd8c,#fad780,#fad178,#fad177,#fad178,#f9ce74,#f9ca6d,#f8c669,#f8c86b,#fad37a,#fce79d,#fdfbc0,#e4f5bb,#b2e6ae,#6dcfac,#1eb8ae,#0da6af,#0f97b2,#1291b3,#1094b3,#0d9cb1,#0da6af,#12b3ae,#42c3ad,#77d2ac,#a7e2ae,#d6f1b6,#fbfac0,#fbe091,#f8c669,#f6b754,#f5b04b,#f5b04b,#f5b34f)"></i>
<i style="height:1px;background:linear-gradient(90deg,#b8e8af,#b2e5ae,#aee4ae,#afe5ae,#b6e7af,#c3ebb0,#d2f0b4,#def3b9,#e6f5bc,#ebf7bd,#ebf7bd,#e8f6bc,#e4f5bb,#e0f4b9,#ddf3b8,#d4f0b5,#c4ecb0,#ade4ae,#9addad,#93dbac,#9edfad,#a8e2ae,#9addad,#89d8ac,#9bdead,#c2ebb0,#e5f5bb,#f7fac0,#fdfbc0,#fef8bb,#fdf3b3,#fdefab,#fdf2b0,#fafac0,#e4f5bb,#c1ebb0,#9cdead,#76d2ac,#58c9ac,#48c4ac,#46c4ac,#50c7ac,#55c8ac,#46c4ac,#3bc1ad,#62ccac,#afe4ae,#f1f8bf,#fdf0ad,#fbe193,#fbdf8f,#fbde8d,#fad882,#fad279,#fad279,#fad379,#f9cf75,#f9ca6e,#f8c669,#f8c86b,#fad279,#fce79d,#fdfbc0,#e5f5bb,#b3e6af,#6dcfac,#1db8ae,#0da6af,#0f97b2,#1192b3,#1095b2,#0c9db1,#0ea7af,#12b3ae,#43c3ad,#77d2ac,#a7e2ae,#d6f1b6,#fbfac0,#fbe192,#f8c76a,#f6b856,#f5b24d,#f5b14d,#f5b450)"></i>
<i style="height:1px;background:linear-gradient(90deg,#bde9af,#b9e8af,#b7e7af,#b9e8af,#bfeab0,#caedb2,#d7f1b6,#e2f4ba,#eaf7bd,#edf7be,#ecf7bd,#e7f6bc,#e2f4ba,#dff3b9,#ddf3b8,#d6f1b6,#c6ecb0,#b0e5ae,#9bdead,#93dbac,#9fdfad,#a7e2ae,#97dcac,#82d6ac,#93dbac,#bbe9af,#e1f4ba,#f7fac0,#fdfbc0,#fef8ba,#fdf2b1,#fdeea9,#fdf1af,#fbfac0,#e4f5bb,#c0eab0,#9bdead,#74d1ac,#55c8ac,#46c4ac,#47c4ac,#53c7ac,#5bcaac,#4ec6ac,#45c4ac,#6ccfac,#b6e7af,#f4f9c0,#fdefab,#fbe192,#fbdf8f,#fbde8d,#fbd984,#fad47c,#fad47c,#fad47c,#fad076,#f9cb6f,#f8c669,#f8c76b,#fad279,#fce79d,#fdfbc0,#e5f5bb,#b3e6af,#6dcfac,#1cb8ae,#0da5af,#0f97b2,#1192b3,#0f96b2,#0c9fb0,#0ea8af,#13b4ae,#43c3ad,#77d2ac,#a7e2ae,#d7f1b6,#fbfac0,#fbe193,#f9c96c,#f6ba59,#f5b450,#f5b34f,#f6b552)"></i>
<i style="height:1px;background:linear-gradient(90deg,#c2ebb0,#c0eab0,#c0eab0,#c3ebb0,#c8edb1,#d1f0b4,#dcf3b8,#e7f6bc,#eef8be,#f0f8bf,#ecf7bd,#e5f5bb,#dff3b9,#ddf3b8,#dcf3b8,#d7f1b6,#c9edb1,#b3e6af,#9ddead,#94dbac,#9edfad,#a6e1ae,#94dbac,#7bd4ac,#8bd9ac,#b5e7af,#ddf3b8,#f6fac0,#fdfbc0,#fef7b9,#fdf1af,#fdeca7,#fdf0ad,#fbfac0,#e4f5bb,#c0eab0,#9addad,#73d1ac,#54c8ac,#46c4ac,#48c4ac,#56c8ac,#61ccac,#57c9ac,#50c7ac,#76d2ac,#bce9af,#f5f9c0,#fdeeaa,#fbe193,#fbdf8f,#fbdf8e,#fbda86,#fad67f,#fad680,#fad680,#fad278,#f9cb70,#f8c669,#f8c76a,#fad279,#fce79e,#fdfbc0,#e6f5bb,#b4e6af,#6dcfac,#1cb7ae,#0da5af,#0f97b2,#1193b3,#0f97b2,#0ba0b0,#0ea8af,#13b4ae,#44c3ad,#77d2ac,#a8e2ae,#d8f1b6,#fbfbc0,#fbe294,#f9cb6f,#f7bd5c,#f6b653,#f6b551,#f6b653)"></i>
<i style="height:1px;background:linear-gradient(90deg,#c6ecb1,#c7edb1,#c9edb1,#cceeb2,#d1efb4,#d9f2b7,#e2f4ba,#ecf7be,#f3f9c0,#f2f9c0,#ebf7bd,#e3f4ba,#dcf3b8,#daf2b7,#dbf2b7,#d7f1b6,#cbeeb2,#b7e7af,#9fdfad,#94dbac,#9edfad,#a4e1ad,#91daac,#75d2ac,#84d6ac,#afe4ae,#d9f2b7,#f5f9c0,#fdfbc0,#fef6b8,#fdf0ad,#fceba5,#fdefab,#fbfac0,#e4f5bb,#c0eab0,#9bdead,#73d1ac,#54c8ac,#46c4ac,#4ac5ac,#5acaac,#67ceac,#60cbac,#5bcaac,#80d5ac,#c2ebb0,#f6fac0,#fdeeaa,#fbe294,#fbe090,#fbdf8f,#fbdb89,#fbd984,#fbd985,#fbd984,#fad37a,#f9cc70,#f8c669,#f8c76a,#fad279,#fce89e,#fcfbc0,#e6f5bc,#b5e7af,#6dcfac,#1bb7ae,#0da5af,#0f98b2,#1094b3,#0e99b2,#0ba1b0,#0ea9af,#13b5ae,#44c3ad,#77d2ac,#a8e2ae,#d8f1b7,#fcfbc0,#fce395,#f9cd72,#f7c060,#f6b957,#f6b754,#f6b755)"></i>
<i style="height:1px;background:linear-gradient(90deg,#cbeeb2,#ceefb3,#d1efb4,#d4f0b5,#d9f2b7,#e0f4b9,#e8f6bc,#f1f8bf,#f5f9c0,#f4f9c0,#ebf7bd,#e0f4b9,#d8f1b7,#d6f1b6,#d8f1b7,#d7f1b6,#cdeeb3,#bae8af,#a1e0ad,#94dbac,#9ddead,#a3e0ad,#8dd9ac,#70d0ac,#7dd4ac,#a9e3ae,#d4f0b5,#f4f9c0,#fdfbc0,#fdf6b7,#fdefab,#fceaa2,#fdeeaa,#fcfbc0,#e5f5bb,#c1ebb0,#9cdead,#74d1ac,#55c8ac,#48c4ac,#4dc6ac,#5fcbac,#6ed0ac,#6aceac,#66cdac,#8ad8ac,#c7edb1,#f7fac0,#fdefab,#fce396,#fbe091,#fbe090,#fbdd8c,#fbdb89,#fbdc8a,#fbdb88,#fad47d,#f9cd71,#f8c76a,#f8c76b,#fad379,#fce89f,#fcfbc0,#e7f6bc,#b6e7af,#6ed0ac,#1bb7ae,#0da5af,#0e98b2,#1095b2,#0e9ab1,#0ca2b0,#0faaaf,#13b5ae,#45c3ac,#78d3ac,#a9e3ae,#d9f2b7,#fcfbc0,#fce497,#f9cf75,#f8c364,#f7bc5b,#f6b957,#f6b957)"></i>
<i style="height:1px;background:linear-gradient(90deg,#d0efb4,#d4f0b5,#d9f2b7,#ddf3b8,#e1f4ba,#e7f6bc,#eef8be,#f4f9c0,#f6fac0,#f4f9c0,#eaf6bd,#ddf3b8,#d4f0b5,#d3f0b5,#d5f1b6,#d6f1b6,#cfefb3,#bde9af,#a4e1ad,#95dcac,#9cdead,#a1e0ad,#8ad8ac,#6ccfac,#78d3ac,#a4e1ad,#d0efb4,#f3f9c0,#fdfbc0,#fdf5b5,#fdeea9,#fce9a0,#fdeda8,#fcfbc0,#e6f5bb,#c2ebb0,#9ddead,#75d2ac,#57c8ac,#4ac5ac,#50c7ac,#64cdac,#75d2ac,#74d1ac,#72d1ac,#94dbac,#cbeeb2,#f7fac0,#fdf0ad,#fce499,#fbe193,#fbe091,#fbdf8f,#fbde8e,#fbdf90,#fbde8d,#fad680,#f9cd72,#f8c76a,#f8c86b,#fad37a,#fce8a0,#fcfbc0,#e7f6bc,#b6e7af,#6fd0ac,#1cb8ae,#0da6af,#0e99b2,#0f96b2,#0d9cb1,#0ca3b0,#0faaaf,#14b5ae,#46c4ac,#79d3ac,#aae3ae,#daf2b7,#fcfbc0,#fce599,#fad278,#f8c669,#f7bf60,#f7bc5b,#f6ba59)"></i>
<i style="height:1px;background:linear-gradient(90deg,#d4f0b5,#dbf2b8,#e0f4ba,#e5f5bb,#e9f6bd,#eef8be,#f3f9c0,#f7fac0,#f8fac0,#f5f9c0,#e9f6bc,#d9f2b7,#d0efb4,#ceefb3,#d2f0b4,#d5f0b5,#d0efb4,#c1ebb0,#a6e2ae,#95dcac,#9bdead,#9fdfad,#88d8ac,#69ceac,#73d1ac,#9fdfad,#cceeb2,#f1f9bf,#fdfbc0,#fdf4b4,#fdeda7,#fce89e,#fdeda7,#fcfbc0,#e7f6bc,#c3ebb0,#9fdfad,#78d3ac,#59c9ac,#4dc6ac,#55c8ac,#69ceac,#7dd4ac,#7ed4ac,#7dd4ac,#9cdead,#cfefb4,#f7fac0,#fdf1af,#fce69c,#fbe294,#fbe193,#fbe193,#fbe294,#fce396,#fbe091,#fad883,#f9ce74,#f8c86b,#f8c86b,#fad37b,#fce9a0,#fcfbc0,#e7f6bc,#b7e7af,#6fd0ac,#1cb8ae,#0da6af,#0e99b1,#0f97b2,#0c9db1,#0ca3b0,#0fabaf,#15b6ae,#47c4ac,#79d3ac,#abe3ae,#dbf2b8,#fcfbc0,#fce69c,#fad57e,#f9ca6e,#f8c365,#f7be5e,#f7bc5c)"></i>
<i style="height:1px;background:linear-gradient(90deg,#d9f2b7,#e1f4ba,#e8f6bc,#edf7be,#f1f8bf,#f4f9c0,#f6fac0,#f9fac0,#fafac0,#f6fac0,#e7f6bc,#d5f1b6,#cbeeb2,#caedb2,#ceefb3,#d3f0b5,#d2f0b4,#c4ecb0,#a9e2ae,#95dcac,#9addad,#9ddfad,#85d7ac,#67cdac,#6fd0ac,#9addad,#c8edb1,#eff8bf,#fcfbc0,#fdf3b2,#fceca5,#fce79c,#fceca5,#fdfbc0,#e8f6bc,#c5ecb0,#a2e0ad,#7bd4ac,#5ccaac,#51c7ac,#59c9ac,#6fd0ac,#85d7ac,#88d8ac,#89d8ac,#a4e1ad,#d3f0b5,#f7fac0,#fdf3b3,#fce89f,#fce396,#fbe294,#fce396,#fce59a,#fce69c,#fce396,#fbda86,#f9cf75,#f8c86c,#f8c96c,#fad47c,#fce9a1,#fcfbc0,#e8f6bc,#b8e8af,#70d0ac,#1db8ae,#0da6af,#0e9ab1,#0e99b2,#0c9fb0,#0da4b0,#0fabaf,#17b6ae,#47c4ac,#7ad3ac,#ace3ae,#dcf3b8,#fcfbc0,#fce89f,#fbd984,#f9ce74,#f8c76a,#f7c162,#f7be5e)"></i>
<i style="height:1px;background:linear-gradient(90deg,#def3b9,#e7f6bc,#eff8bf,#f3f9c0,#f5f9c0,#f6fac0,#f8fac0,#fbfac0,#fcfbc0,#f7fac0,#e6f5bb,#d2f0b4,#c7ecb1,#c5ecb0,#caedb2,#d1efb4,#d3f0b5,#c7edb1,#abe3ae,#96dcac,#99ddac,#9cdead,#84d6ac,#65cdac,#6ccfac,#96dcac,#c4ecb0,#edf7be,#fcfbc0,#fdf2b1,#fceaa3,#fce59a,#fceba3,#fdfbc0,#e9f6bd,#c7edb1,#a4e1ad,#7fd5ac,#60cbac,#55c8ac,#5ecbac,#75d2ac,#8dd9ac,#92dbac,#94dbac,#ace3ae,#d6f1b6,#f7fac0,#fdf5b6,#fceba3,#fce498,#fce396,#fce59a,#fce9a0,#fceaa2,#fce69b,#fbdc89,#fad076,#f9c96c,#f9c96d,#fad57d,#fceaa2,#fcfbc0,#e8f6bc,#b9e8af,#72d1ac,#1fb8ae,#0da6af,#0d9bb1,#0e9ab1,#0ba0b0,#0da5b0,#10acaf,#18b6ae,#48c4ac,#7bd4ac,#ace4ae,#ddf3b8,#fcfbc0,#fceaa2,#fbdd8b,#fad279,#f9cb6f,#f8c466,#f7c061)"></i>
<i style="height:1px;background:linear-gradient(90deg,#e2f4ba,#edf7be,#f4f9c0,#f6fac0,#f8fac0,#f9fac0,#fafac0,#fdfbc0,#fdfbc0,#f8fac0,#e4f5bb,#ceeeb3,#c2ebb0,#bfeab0,#c5ecb0,#ceefb3,#d4f0b5,#caeeb2,#aee4ae,#97dcac,#98ddac,#9addad,#82d6ac,#64cdac,#69ceac,#92dbac,#c0eab0,#ebf7bd,#fcfbc0,#fdf2b0,#fce9a1,#fce498,#fceaa2,#fefbc0,#ebf7bd,#c9edb2,#a7e2ae,#83d6ac,#65cdac,#5acaac,#63ccac,#7cd4ac,#94dbac,#9bdead,#9edfad,#b3e6af,#d9f2b7,#f6fac0,#fef8ba,#fdeda8,#fce69b,#fce497,#fce89e,#fdeda7,#fdeea9,#fce9a0,#fbdd8c,#fad177,#f9ca6d,#f9ca6e,#fad57e,#fceba3,#fcfbc0,#e8f6bc,#b9e8af,#73d1ac,#20b9ae,#0ea7af,#0d9cb1,#0d9bb1,#0ba1b0,#0da6af,#10acaf,#18b7ae,#49c4ac,#7bd4ac,#ade4ae,#def3b9,#fcfbc0,#fceca5,#fbe192,#fad782,#f9cf74,#f8c76a,#f8c264)"></i>
<i style="height:1px;background:linear-gradient(90deg,#e6f5bc,#f2f9c0,#f6fac0,#f9fac0,#fafac0,#fbfac0,#fcfbc0,#fefabe,#fefabe,#f8fac0,#e3f4ba,#caedb2,#bce9af,#bae8af,#c1eab0,#cceeb2,#d4f0b5,#ceeeb3,#b1e5ae,#98ddac,#97dcac,#99ddac,#81d6ac,#64cdac,#67ceac,#8edaac,#bde9af,#e8f6bc,#fcfbc0,#fdf1ae,#fce89e,#fce396,#fce9a0,#fefabf,#ecf7be,#cceeb2,#abe3ae,#88d8ac,#6aceac,#5fcbac,#69ceac,#83d6ac,#9bdead,#a3e1ad,#a7e2ae,#bbe8af,#dcf2b8,#f6fac0,#fefabf,#fdf0ac,#fce79d,#fce599,#fceaa3,#fdf0ad,#fdf1af,#fceca5,#fbdf90,#fad279,#f9ca6e,#f9cb6f,#fad680,#fceba4,#fbfbc0,#e8f6bc,#bae8af,#74d2ac,#22b9ae,#0ea7af,#0d9cb1,#0d9cb1,#0ca2b0,#0da6af,#10adaf,#19b7ae,#49c5ac,#7cd4ac,#aee4ae,#def3b9,#fcfbc0,#fdeea9,#fce599,#fbdd8b,#fad379,#f9ca6e,#f8c567)"></i>
<i style="height:1px;background:linear-gradient(90deg,#ebf7bd,#f5f9c0,#f9fac0,#fbfac0,#fdfbc0,#fdfbc0,#fefabf,#fef7ba,#fef8ba,#f9fac0,#e1f4ba,#c6ecb0,#b7e7af,#b5e6af,#bce9af,#c9edb1,#d5f0b6,#d0efb4,#b4e6af,#99ddac,#97dcac,#98ddac,#81d5ac,#64cdac,#66cdac,#8bd8ac,#b9e8af,#e6f5bc,#fcfbc0,#fdf0ad,#fce79c,#fbe294,#fce89f,#fefabe,#eef8be,#ceefb3,#aee4ae,#8dd9ac,#6fd0ac,#65cdac,#6fd0ac,#8ad8ac,#a2e0ad,#ace3ae,#b0e5ae,#c2ebb0,#def3b9,#f5f9c0,#fdfbc0,#fdf2b1,#fce9a0,#fce69b,#fdeda7,#fdf4b4,#fdf5b5,#fdeeaa,#fbe193,#fad37a,#f9cb70,#f9cb70,#fad781,#fceca5,#fbfbc0,#e8f6bc,#bbe9af,#76d2ac,#24baad,#0ea8af,#0c9db1,#0c9eb1,#0ca3b0,#0ea7af,#10adaf,#1ab7ae,#49c5ac,#7cd4ac,#aee4ae,#def3b9,#fbfac0,#fdf0ad,#fce9a1,#fbe294,#fad781,#f9ce73,#f8c76a)"></i>
<i style="height:1px;background:linear-gradient(90deg,#eff8be,#f7fac0,#fbfac0,#fdfbc0,#fefabe,#fef9bc,#fef8ba,#fdf5b5,#fdf6b7,#f9fac0,#e0f4b9,#c2ebb0,#b3e6af,#b0e5ae,#b7e7af,#c6ecb0,#d5f1b6,#d3f0b5,#b7e7af,#9adead,#97dcac,#97ddac,#81d6ac,#65cdac,#66cdac,#88d8ac,#b6e7af,#e5f5bb,#fcfbc0,#fdefac,#fce59a,#fbe192,#fce79d,#fef9bc,#eff8bf,#d1efb4,#b2e6ae,#92dbac,#75d2ac,#6bcfac,#76d2ac,#91daac,#a8e2ae,#b4e6af,#b9e8af,#c8edb1,#e0f4ba,#f4f9c0,#fbfac0,#fdf5b6,#fceaa3,#fce79e,#fdefab,#fef8ba,#fef8bb,#fdf1ae,#fce396,#fad47c,#f9cc71,#f9cc71,#fad883,#fdeca6,#fbfac0,#e9f6bc,#bce9af,#78d3ac,#26baad,#0ea8af,#0c9eb0,#0b9fb0,#0ca4b0,#0ea8af,#10adaf,#1ab7ae,#49c5ac,#7cd4ac,#aee4ae,#def3b9,#fbfac0,#fdf3b2,#fdeda8,#fce79d,#fbdc8a,#fad177,#f9ca6d)"></i>
<i style="height:1px;background:linear-gradient(90deg,#f2f9c0,#f8fac0,#fdfbc0,#fef9bd,#fef7b9,#fef6b8,#fdf5b6,#fdf3b2,#fdf4b4,#fafac0,#def3b9,#bfeab0,#aee4ae,#abe3ae,#b2e5ae,#c3ebb0,#d6f1b6,#d6f1b6,#bae8af,#9cdead,#97dcac,#97dcac,#82d6ac,#66cdac,#66cdac,#86d7ac,#b4e6af,#e3f4ba,#fcfbc0,#fdefab,#fce498,#fbe090,#fce69b,#fef8bb,#f1f8bf,#d3f0b5,#b6e7af,#97dcac,#7bd4ac,#72d1ac,#7cd4ac,#97dcac,#afe5ae,#bce9af,#c1ebb0,#ceefb3,#e2f4ba,#f4f9c0,#f9fac0,#fef8ba,#fdeca6,#fce9a0,#fdf2af,#fefbc0,#fefbc0,#fdf3b3,#fce599,#fad57e,#f9cd72,#f9cd72,#fbd984,#fdeda7,#fbfac0,#e9f6bc,#bde9af,#7ad3ac,#29bbad,#0ea9af,#0b9fb0,#0ba0b0,#0da4b0,#0ea8af,#10aeaf,#1ab7ae,#49c4ac,#7cd4ac,#ade4ae,#ddf3b8,#fafac0,#fdf5b6,#fdf2af,#fceca5,#fbe192,#fad47c,#f9cc71)"></i>
<i style="height:1px;background:linear-gradient(90deg,#f4f9c0,#fafac0,#fefbc0,#fef6b8,#fdf4b4,#fdf4b4,#fdf3b3,#fdf1ae,#fdf3b1,#fafac0,#ddf3b8,#bce9af,#aae3ae,#a6e2ae,#ade4ae,#c0eab0,#d6f1b6,#d9f2b7,#bde9af,#9edfad,#98ddac,#98ddac,#83d6ac,#68ceac,#67cdac,#84d6ac,#b2e5ae,#e1f4ba,#fbfbc0,#fdeea9,#fce396,#fbde8e,#fce59a,#fef7b9,#f3f9c0,#d6f1b6,#b9e8af,#9bdead,#81d5ac,#78d3ac,#83d6ac,#9ddead,#b5e7af,#c3ebb0,#c9edb1,#d4f0b5,#e4f5bb,#f2f9c0,#f7fac0,#fefabf,#fdeea9,#fceaa3,#fdf4b4,#fcfbc0,#fcfbc0,#fdf6b7,#fce69c,#fad780,#f9ce73,#f9ce74,#fbda86,#fdeda8,#fbfac0,#e9f6bc,#bee9af,#7cd4ac,#2bbcad,#0fa9af,#0ba0b0,#0ba1b0,#0da5b0,#0ea9af,#10aeaf,#1ab7ae,#48c4ac,#7bd4ac,#ade4ae,#dcf2b8,#f9fac0,#fef8bb,#fdf6b7,#fdf0ad,#fce59a,#fbd883,#f9cf74)"></i>
<i style="height:1px;background:linear-gradient(90deg,#f5f9c0,#fbfac0,#fef9bc,#fdf4b4,#fdf2b1,#fdf2b0,#fdf2b0,#fdf0ac,#fdf1af,#fafac0,#dcf2b8,#b9e8af,#a7e2ae,#a2e0ad,#a9e3ae,#bde9af,#d6f1b6,#dbf2b8,#c0eab0,#a1e0ad,#99ddad,#99ddac,#85d7ac,#6bcfac,#68ceac,#83d6ac,#b0e5ae,#e0f4b9,#fbfbc0,#fdeea8,#fbe294,#fbdd8c,#fce498,#fef6b8,#f3f9c0,#d8f1b7,#bde9af,#9fdfad,#87d7ac,#7fd5ac,#8bd8ac,#a3e0ad,#bce9af,#caedb2,#d0efb4,#d9f2b7,#e5f5bb,#f0f8bf,#f6fac0,#fdfbc0,#fdf0ac,#fdeca6,#fef6b8,#fafac0,#fafac0,#fef8ba,#fce89e,#fad883,#f9cf75,#f9cf75,#fbdb87,#fdeea9,#fbfac0,#e9f6bd,#bfeaaf,#7fd5ac,#2fbdad,#0faaaf,#0ba1b0,#0ca2b0,#0da6af,#0fa9af,#10aeaf,#19b7ae,#47c4ac,#7ad3ac,#ace3ae,#daf2b7,#f7fac0,#fefbc0,#fefabe,#fdf5b5,#fce9a1,#fbdc89,#fad178)"></i>
<i style="height:1px;background:linear-gradient(90deg,#f6fac0,#fcfbc0,#fef7b9,#fdf3b2,#fdf1ae,#fdf1ae,#fdf1ae,#fdefaa,#fdf1ae,#fafac0,#dbf2b8,#b7e7af,#a4e1ad,#9fdfad,#a5e1ad,#bbe8af,#d6f1b6,#ddf3b8,#c4ecb0,#a3e1ad,#9cdead,#9bdead,#88d8ac,#6ed0ac,#6aceac,#83d6ac,#afe4ae,#dff3b9,#fbfac0,#fdeda8,#fbe192,#fbdc8a,#fce396,#fdf6b6,#f4f9c0,#daf2b7,#c0eab0,#a4e1ad,#8dd9ac,#86d7ac,#92dbac,#a9e2ae,#c2ebb0,#d0efb4,#d7f1b6,#def3b9,#e6f5bc,#eef8be,#f4f9c0,#fbfac0,#fdf2b0,#fdeea9,#fef9bc,#f8fac0,#f8fac0,#fefabd,#fce9a1,#fbd985,#fad076,#fad076,#fbdb89,#fdeea9,#fbfac0,#e9f6bd,#c0eab0,#81d6ac,#32bead,#0fabaf,#0ca1b0,#0ca2b0,#0ea7af,#0faaaf,#10aeaf,#19b7ae,#45c4ac,#78d3ac,#aae3ae,#d7f1b6,#f6fac0,#fcfbc0,#fcfbc0,#fef9bc,#fdeda8,#fbe090,#fad47c)"></i>
<i style="height:1px;background:linear-gradient(90deg,#f7fac0,#fdfbc0,#fdf6b7,#fdf2b0,#fdf0ac,#fdf0ad,#fdf0ad,#fdeeaa,#fdf1ae,#fafac0,#daf2b7,#b6e7af,#a2e0ad,#9ddead,#a2e0ad,#b8e8af,#d6f1b6,#dff3b9,#c7ecb1,#a6e2ae,#9edfad,#9ddfad,#8bd9ac,#71d1ac,#6ccfac,#84d6ac,#aee4ae,#def3b9,#fbfac0,#fdeda7,#fbe091,#fbdb88,#fce294,#fdf5b5,#f5f9c0,#dcf2b8,#c3ebb0,#a8e2ae,#93dbac,#8dd9ac,#98ddac,#afe4ae,#c7edb1,#d6f1b6,#ddf3b8,#e2f4ba,#e7f6bc,#ecf7be,#f3f9c0,#fafac0,#fdf4b3,#fdf0ac,#fefbc0,#f7fac0,#f7fac0,#fefbc0,#fceba3,#fbda87,#fad177,#fad178,#fbdc8a,#fdeeaa,#fbfac0,#eaf6bd,#c1ebb0,#84d6ac,#35bfad,#0facaf,#0ca2b0,#0ca3b0,#0ea7af,#0faaaf,#10aeaf,#18b6ae,#44c3ad,#76d2ac,#a8e2ae,#d4f0b5,#f4f9c0,#fafac0,#fafac0,#fdfbc0,#fdf1af,#fce396,#fad882)"></i>
<i style="height:1px;background:linear-gradient(90deg,#f8fac0,#fefbc0,#fdf5b6,#fdf1ae,#fdefac,#fdf0ac,#fdf0ad,#fdeeaa,#fdf1ae,#fafac0,#daf2b7,#b5e7af,#a1e0ad,#9bdead,#a0dfad,#b6e7af,#d6f1b6,#e1f4ba,#c9edb2,#aae3ae,#a2e0ad,#a1e0ad,#8fdaac,#75d2ac,#6fd0ac,#85d7ac,#aee4ae,#ddf3b8,#fbfac0,#fdeca6,#fbdf8f,#fbda86,#fbe193,#fdf4b4,#f5f9c0,#def3b9,#c6ecb0,#abe3ae,#98ddac,#93dbac,#9edfad,#b4e6af,#cceeb3,#dcf2b8,#e3f5ba,#e6f5bc,#e8f6bc,#eaf7bd,#f0f8bf,#f8fac0,#fdf6b7,#fdf2b0,#fdfbc0,#f5f9c0,#f6fac0,#fdfbc0,#fceca5,#fbdc89,#fad279,#fad279,#fbdd8b,#fdeeaa,#fbfac0,#eaf6bd,#c2ebb0,#87d7ac,#39c0ad,#10acaf,#0ca3b0,#0ca4b0,#0ea8af,#0fabaf,#10aeaf,#16b6ae,#41c2ad,#73d1ac,#a5e1ad,#d1efb4,#f1f8bf,#f8fac0,#f8fac0,#fbfac0,#fdf4b5,#fce79c,#fbdb88)"></i>
<i style="height:1px;background:linear-gradient(90deg,#f9fac0,#fefbc0,#fdf5b5,#fdf1ae,#fdefac,#fdf0ad,#fdf0ae,#fdefab,#fdf1af,#fafac0,#daf2b7,#b5e7af,#a1e0ad,#9addad,#9edfad,#b5e6af,#d6f1b6,#e3f4ba,#cceeb3,#aee4ae,#a6e2ae,#a5e1ad,#94dbac,#79d3ac,#72d1ac,#87d7ac,#afe4ae,#ddf3b8,#fbfac0,#fdeca6,#fbde8e,#fbd984,#fbe091,#fdf3b2,#f5f9c0,#dff3b9,#c8edb1,#afe4ae,#9cdead,#99ddac,#a4e1ad,#bae8af,#d1efb4,#e1f4ba,#e8f6bc,#eaf6bd,#e9f6bc,#e9f6bc,#eef8be,#f7fac0,#fef8bb,#fdf4b4,#fbfbc0,#f4f9c0,#f5f9c0,#fdfbc0,#fdeda7,#fbdd8b,#fad37b,#fad37b,#fbde8d,#fdeeaa,#fbfac0,#eaf7bd,#c3ebb0,#8ad8ac,#3dc1ad,#10adaf,#0ca3b0,#0da4b0,#0ea9af,#0fabaf,#10aeaf,#15b6ae,#3fc2ad,#70d0ac,#a2e0ad,#cceeb2,#ebf7bd,#f5f9c0,#f6fac0,#f9fac0,#fef7ba,#fceaa2,#fbde8e)"></i>
<i style="height:1px;background:linear-gradient(90deg,#f9fac0,#fefbc0,#fdf5b5,#fdf1af,#fdf0ad,#fdf1ae,#fdf1af,#fdf0ad,#fdf2b1,#f9fac0,#daf2b7,#b6e7af,#a1e0ad,#99ddad,#9ddead,#b3e6af,#d6f1b6,#e4f5bb,#cfefb4,#b3e6af,#abe3ae,#aae3ae,#98ddac,#7dd4ac,#76d2ac,#8ad8ac,#b0e5ae,#ddf3b8,#fbfac0,#fceca6,#fbde8d,#fad882,#fbdf8f,#fdf3b1,#f6f9c0,#e0f4b9,#caedb2,#b2e6ae,#a0e0ad,#9edfad,#aae3ae,#bfeab0,#d5f1b6,#e5f5bb,#edf7be,#edf7be,#e9f6bd,#e7f6bc,#ecf7bd,#f6fac0,#fefabf,#fef7b8,#fafac0,#f3f9c0,#f5f9c0,#fcfbc0,#fdeda8,#fbde8d,#fad57d,#fad57d,#fbde8e,#fdeeaa,#fbfbc0,#ebf7bd,#c4ecb0,#8ed9ac,#42c2ad,#10aeaf,#0da4b0,#0da5b0,#0ea9af,#0fabaf,#10aeaf,#13b5ae,#3bc1ad,#6ccfac,#9edfad,#c7edb1,#e5f5bb,#f3f9c0,#f4f9c0,#f8fac0,#fefabe,#fdeda7,#fbe294)"></i>
<i style="height:1px;background:linear-gradient(90deg,#f9fac0,#fefbc0,#fdf6b7,#fdf2b1,#fdf1af,#fdf2b0,#fdf3b2,#fdf2b0,#fdf4b3,#f9fac0,#daf2b7,#b7e7af,#a3e0ad,#9addad,#9ddead,#b3e6af,#d6f1b6,#e5f5bb,#d2f0b5,#b7e7af,#b1e5ae,#b0e5ae,#9ddfad,#82d6ac,#7ad3ac,#8dd9ac,#b2e5ae,#ddf3b8,#fbfac0,#fceca5,#fbdd8c,#fad781,#fbde8d,#fdf2b0,#f6fac0,#e1f4ba,#cceeb2,#b5e6af,#a4e1ad,#a3e1ad,#b0e5ae,#c5ecb0,#d9f2b7,#e9f6bc,#f0f8bf,#eff8bf,#e9f6bd,#e6f5bb,#eaf6bd,#f5f9c0,#fdfbc0,#fef9bd,#f9fac0,#f2f9c0,#f4f9c0,#fcfbc0,#fdeeaa,#fbdf8f,#fad67f,#fad67f,#fbdf8f,#fdeeaa,#fcfbc0,#ebf7bd,#c6ecb0,#91daac,#46c4ac,#11afaf,#0da5b0,#0da5af,#0faaaf,#0facaf,#10aeaf,#13b5ae,#38c0ad,#68ceac,#9addad,#c2ebb0,#dff3b9,#edf7be,#f2f9c0,#f6fac0,#fdfbc0,#fdf0ad,#fce59a)"></i>
<i style="height:1px;background:linear-gradient(90deg,#fafac0,#fefbc0,#fef7b8,#fdf4b3,#fdf3b1,#fdf4b3,#fdf5b5,#fdf4b3,#fdf6b6,#f8fac0,#dbf2b7,#b9e8af,#a4e1ad,#9bdead,#9ddead,#b2e6af,#d6f1b6,#e7f6bc,#d5f1b6,#bce9af,#b7e7af,#b6e7af,#a3e0ad,#88d8ac,#7ed5ac,#91dbac,#b4e6af,#def3b9,#fbfac0,#fceca5,#fbdd8b,#fad67f,#fbdd8c,#fdf1af,#f6fac0,#e2f4ba,#cdeeb3,#b7e7af,#a8e2ae,#a8e2ae,#b5e7af,#c9edb1,#ddf3b8,#ecf7be,#f3f9c0,#f1f9bf,#e9f6bd,#e4f5bb,#e8f6bc,#f4f9c0,#fbfbc0,#fdfbc0,#f8fac0,#f1f8bf,#f4f9c0,#fcfbc0,#fdefab,#fbe091,#fad782,#fad781,#fbdf8f,#fdeea9,#fcfbc0,#ecf7be,#c7edb1,#94dbac,#4bc5ac,#11b0ae,#0da5af,#0da6af,#0faaaf,#0facaf,#10aeaf,#13b4ae,#35bfad,#64cdac,#95dcac,#bbe9af,#d8f1b7,#e7f6bc,#eef8be,#f5f9c0,#fcfbc0,#fdf3b1,#fce9a0)"></i>
<i style="height:1px;background:linear-gradient(90deg,#f9fac0,#fdfbc0,#fef8bb,#fdf5b6,#fdf5b5,#fef6b7,#fef7ba,#fef6b7,#fef8ba,#f8fac0,#dbf2b8,#bbe9af,#a7e2ae,#9ddead,#9ddfad,#b2e6af,#d6f1b6,#e8f6bc,#d8f1b7,#c2ebb0,#beeaaf,#bde9af,#a9e2ae,#8dd9ac,#83d6ac,#96dcac,#b6e7af,#dff3b9,#fafac0,#fceca5,#fbdc8a,#fad57e,#fbdc8a,#fdf1ae,#f6fac0,#e2f4ba,#ceefb3,#b9e8af,#abe3ae,#ade4ae,#bbe9af,#cdeeb3,#e0f4b9,#eef8be,#f4f9c0,#f2f9c0,#e8f6bc,#e3f4ba,#e6f5bc,#f3f9c0,#fafac0,#fcfbc0,#f6fac0,#f0f8bf,#f4f9c0,#fcfbc0,#fdefac,#fbe193,#fbd984,#fad882,#fbe090,#fdeea9,#fcfbc0,#edf7be,#c8edb1,#97dcac,#4fc6ac,#11b1ae,#0da6af,#0da7af,#0fabaf,#10acaf,#10aeaf,#12b4ae,#31bead,#60cbac,#90daac,#b5e7af,#d1efb4,#e1f4ba,#ebf7bd,#f4f9c0,#fbfac0,#fdf5b6,#fceca5)"></i>
<i style="height:1px;background:linear-gradient(90deg,#f9fac0,#fcfbc0,#fefabe,#fef8ba,#fef7b9,#fef9bc,#fefabe,#fef9bc,#fefabe,#f7fac0,#dcf2b8,#beeaaf,#aae3ae,#9fdfad,#9fdfad,#b3e6af,#d6f1b6,#e9f6bc,#dbf2b8,#c7edb1,#c5ecb0,#c4ecb0,#afe4ae,#93dbac,#89d8ac,#9addad,#b9e8af,#e0f4b9,#fafac0,#fceca6,#fbdc8a,#fad57d,#fbdb89,#fdf0ad,#f6fac0,#e2f4ba,#cfefb3,#bbe9af,#aee4ae,#b1e5ae,#c0eab0,#d1efb4,#e2f4ba,#f0f8bf,#f5f9c0,#f3f9c0,#e7f6bc,#e1f4ba,#e4f5bb,#f1f8bf,#f8fac0,#fafac0,#f5f9c0,#eff8bf,#f4f9c0,#fcfbc0,#fdf0ac,#fce294,#fbda86,#fbd984,#fbe091,#fdeda8,#fdfbc0,#edf7be,#caedb2,#9addad,#54c8ac,#12b2ae,#0ea7af,#0ea7af,#0fabaf,#10acaf,#10aeaf,#12b3ae,#2ebdad,#5bcaac,#8ad8ac,#aee4ae,#c9edb2,#dbf2b8,#e7f6bc,#f4f9c0,#fafac0,#fef8ba,#fdefab)"></i>
<i style="height:1px;background:linear-gradient(90deg,#f9fac0,#fbfac0,#fdfbc0,#fefabf,#fefabe,#fefbc0,#fdfbc0,#fdfbc0,#fdfbc0,#f6fac0,#ddf3b8,#c1ebb0,#ade4ae,#a2e0ad,#a1e0ad,#b4e6af,#d6f1b6,#eaf6bd,#dff3b9,#cdeeb3,#cceeb2,#cbeeb2,#b5e7af,#98ddac,#8fdaac,#9edfad,#bde9af,#e1f4ba,#fafac0,#fceca6,#fbdc89,#fad47c,#fbdb88,#fdf0ad,#f6fac0,#e2f4ba,#cfefb4,#bce9af,#b1e5ae,#b5e7af,#c4ecb0,#d4f0b5,#e4f5bb,#f2f9bf,#f5f9c0,#f2f9c0,#e5f5bb,#def3b9,#e2f4ba,#eef8be,#f6fac0,#f8fac0,#f4f9c0,#eff8bf,#f4f9c0,#fcfbc0,#fdf0ad,#fce396,#fbdb88,#fbd985,#fbe091,#fdeda7,#fdfbc0,#eef8be,#cbeeb2,#9ddead,#58c9ac,#12b3ae,#0ea7af,#0ea8af,#0fabaf,#10adaf,#10aeaf,#12b3ae,#2abcad,#57c9ac,#84d6ac,#a8e2ae,#c2ebb0,#d5f1b6,#e5f5bb,#f3f9c0,#f9fac0,#fefabe,#fdf2b0)"></i>
<i style="height:1px;background:linear-gradient(90deg,#f8fac0,#fafac0,#fcfbc0,#fdfbc0,#fdfbc0,#fbfbc0,#fafac0,#fbfbc0,#fbfbc0,#f5f9c0,#def3b9,#c4ecb0,#b1e5ae,#a5e1ad,#a3e1ad,#b5e7af,#d7f1b6,#ebf7bd,#e2f4ba,#d3f0b5,#d3f0b5,#d3f0b5,#bce9af,#9edfad,#94dcac,#a3e0ad,#c0eab0,#e2f4ba,#fafac0,#fdeca6,#fbdc89,#fad37b,#fbda87,#fdf0ac,#f6fac0,#e2f4ba,#cfefb4,#bde9af,#b3e6af,#b9e8af,#c8edb1,#d7f1b6,#e6f5bb,#f2f9c0,#f5f9c0,#f1f9bf,#e3f4ba,#dbf2b8,#e0f4b9,#ebf7bd,#f4f9c0,#f5f9c0,#f3f9c0,#eff8bf,#f5f9c0,#fcfbc0,#fdf0ad,#fce497,#fbdc89,#fbda87,#fbe091,#fdeca6,#fdfbc0,#eff8bf,#cceeb3,#a0dfad,#5ccaac,#13b4ae,#0ea8af,#0ea8af,#10acaf,#10adaf,#10aeaf,#12b2ae,#27bbad,#52c7ac,#7ed5ac,#a1e0ad,#bae8af,#cfefb4,#e2f4ba,#f2f9c0,#f8fac0,#fdfbc0,#fdf5b5)"></i>
<i style="height:1px;background:linear-gradient(90deg,#f8fac0,#f9fac0,#fafac0,#fafac0,#fafac0,#f9fac0,#f8fac0,#f9fac0,#f9fac0,#f4f9c0,#dff3b9,#c7edb1,#b5e7af,#a9e2ae,#a6e2ae,#b7e7af,#d8f1b7,#edf7be,#e5f5bb,#d9f2b7,#dbf2b8,#daf2b7,#c3ebb0,#a4e1ad,#9addad,#a8e2ae,#c4ecb0,#e4f5bb,#fafac0,#fdeca6,#fbdc89,#fad37a,#fbda86,#fdefac,#f6fac0,#e2f4ba,#cfefb3,#beeaaf,#b5e7af,#bbe9af,#cbeeb2,#d9f2b7,#e6f5bc,#f2f9c0,#f5f9c0,#eff8bf,#e0f4b9,#d8f1b7,#ddf3b8,#e8f6bc,#f1f8bf,#f3f9c0,#f0f8bf,#eff8be,#f5f9c0,#fcfbc0,#fdf0ad,#fce498,#fbdc8b,#fbdb87,#fbe091,#fceca5,#fefbc0,#f0f8bf,#ceefb3,#a2e0ad,#61ccac,#13b5ae,#0ea9af,#0ea9af,#10acaf,#10adaf,#10aeaf,#12b2ae,#24baad,#4ec6ac,#78d3ac,#9addad,#b2e6ae,#caedb2,#dff3b9,#f1f8bf,#f8fac0,#fcfbc0,#fef8ba)"></i>
<i style="height:1px;background:linear-gradient(90deg,#f7fac0,#f7fac0,#f8fac0,#f8fac0,#f8fac0,#f6fac0,#f5f9c0,#f7fac0,#f7fac0,#f3f9c0,#e0f4b9,#caeeb2,#b9e8af,#ade4ae,#aae3ae,#bae8af,#d9f2b7,#eef8be,#e9f6bd,#dff3b9,#e2f4ba,#e2f4ba,#caedb2,#aae3ae,#a0dfad,#aee4ae,#c8edb1,#e5f5bb,#fbfac0,#fdeda7,#fbdc89,#fad37a,#fbda85,#fdefac,#f6fac0,#e1f4ba,#ceefb3,#beeaaf,#b6e7af,#beeaaf,#cdeeb3,#dbf2b8,#e6f5bc,#f1f8bf,#f4f9c0,#ecf7be,#dcf2b8,#d4f0b5,#daf2b7,#e4f5bb,#ebf7bd,#eef8be,#edf7be,#eff8be,#f6f9c0,#fdfbc0,#fdf0ae,#fce599,#fbdd8c,#fbdb88,#fbe090,#fceba4,#fefabf,#f1f9bf,#cfefb4,#a5e1ad,#65cdac,#17b6ae,#0faaaf,#0faaaf,#10adaf,#10aeaf,#10aeaf,#12b2ae,#21b9ae,#4ac5ac,#73d1ac,#94dbac,#abe3ae,#c5ecb0,#ddf3b8,#f0f8bf,#f7fac0,#fbfac0,#fefabf)"></i>
<i style="height:1px;background:linear-gradient(90deg,#f6fac0,#f6f9c0,#f6f9c0,#f6f9c0,#f5f9c0,#f4f9c0,#f2f9c0,#f4f9c0,#f5f9c0,#f2f9c0,#e0f4ba,#ceeeb3,#beeaaf,#b1e5ae,#aee4ae,#bde9af,#dbf2b8,#f0f8bf,#edf7be,#e5f5bb,#eaf6bd,#eaf6bd,#d1efb4,#b0e5ae,#a6e1ad,#b3e6af,#cceeb2,#e7f6bc,#fbfac0,#fdeda7,#fbdc8a,#fad37a,#fbd985,#fdefac,#f6fac0,#e0f4b9,#ceeeb3,#beeaaf,#b7e7af,#bfeab0,#cfefb3,#dcf3b8,#e6f5bb,#eff8bf,#f2f9c0,#e8f6bc,#d7f1b6,#cfefb4,#d6f1b6,#e0f4b9,#e6f5bb,#e8f6bc,#e9f6bd,#eef8be,#f6fac0,#fdfbc0,#fdf1ae,#fce59a,#fbde8d,#fbdb88,#fbdf90,#fceaa2,#fef9bd,#f3f9c0,#d1efb4,#a8e2ae,#68ceac,#1bb7ae,#0fabaf,#0faaaf,#10aeaf,#10aeaf,#11aeaf,#12b2ae,#1fb9ae,#46c4ac,#6ed0ac,#8dd9ac,#a4e1ad,#bfeab0,#dbf2b8,#f0f8bf,#f7fac0,#fafac0,#fdfbc0)"></i>
<i style="height:1px;background:linear-gradient(90deg,#f5f9c0,#f4f9c0,#f3f9c0,#f3f9c0,#f1f8bf,#edf7be,#ebf7bd,#eff8bf,#f3f9c0,#eff8bf,#e1f4ba,#d1efb4,#c3ebb0,#b6e7af,#b2e6ae,#c0eab0,#ddf3b8,#f2f9c0,#f1f8bf,#ebf7bd,#f1f9bf,#f2f9c0,#d8f1b7,#b7e7af,#ace3ae,#b9e8af,#d0efb4,#e9f6bd,#fbfac0,#fdeda7,#fbdc8a,#fad37a,#fbda85,#fdf0ac,#f6fac0,#dff3b9,#cceeb3,#bde9af,#b7e7af,#c0eab0,#d0efb4,#dcf3b8,#e4f5bb,#ecf7be,#eef8be,#e3f5bb,#d1efb4,#caedb2,#d1efb4,#dbf2b7,#dff3b9,#e2f4ba,#e6f5bc,#eef8be,#f6fac0,#fdfbc0,#fdf0ae,#fce69b,#fbde8d,#fbdb88,#fbdf8f,#fce9a1,#fef8bc,#f3f9c0,#d2f0b5,#aae3ae,#6ccfac,#1fb8ae,#0facaf,#0fabaf,#10aeaf,#11afaf,#11afaf,#12b2ae,#1eb8ae,#42c3ad,#69ceac,#86d7ac,#9ddead,#bae8af,#d9f2b7,#eff8bf,#f6fac0,#f9fac0,#fcfbc0)"></i>
<i style="height:1px;background:linear-gradient(90deg,#f3f9c0,#f0f8bf,#edf7be,#ebf7bd,#e9f6bc,#e5f5bb,#e4f5bb,#e8f6bc,#eef8be,#ecf7be,#e2f4ba,#d4f0b5,#c7edb1,#bbe9af,#b7e7af,#c4ecb0,#e0f3b9,#f4f9c0,#f4f9c0,#f2f9c0,#f5f9c0,#f6f9c0,#e0f4b9,#beeaaf,#b2e6af,#c0eab0,#d4f0b5,#ebf7bd,#fbfac0,#fdeda8,#fbdd8b,#fad47b,#fbda86,#fdf0ac,#f5f9c0,#def3b9,#cbeeb2,#bce9af,#b6e7af,#c0eab0,#d0efb4,#dcf2b8,#e2f4ba,#e8f6bc,#e9f6bd,#ddf3b8,#caeeb2,#c3ebb0,#cceeb2,#d5f0b6,#d8f1b7,#dcf2b8,#e3f4ba,#eef8be,#f7fac0,#fdfbc0,#fdf0ae,#fce69b,#fbde8d,#fbdb88,#fbde8e,#fce89f,#fef7ba,#f4f9c0,#d4f0b5,#ace4ae,#6fd0ac,#23b9ae,#10acaf,#10acaf,#11afaf,#11afaf,#11afaf,#12b2ae,#1cb8ae,#40c2ad,#65cdac,#7fd5ac,#97dcac,#b6e7af,#d7f1b6,#eff8bf,#f6fac0,#f8fac0,#fafac0)"></i>
<i style="height:1px;background:linear-gradient(90deg,#f1f8bf,#ebf7bd,#e6f5bc,#e4f5bb,#e1f4ba,#ddf3b8,#ddf3b8,#e2f4ba,#e8f6bc,#e9f6bd,#e2f4ba,#d7f1b6,#cbeeb2,#c1eab0,#bce9af,#c8edb1,#e2f4ba,#f5f9c0,#f5f9c0,#f5f9c0,#f8fac0,#f9fac0,#e7f6bc,#c5ecb0,#b9e8af,#c6ecb0,#d8f1b7,#edf7be,#fbfac0,#fdeda8,#fbdd8c,#fad47c,#fbda87,#fdf0ad,#f5f9c0,#dcf3b8,#c9edb1,#bae8af,#b5e7af,#c0eab0,#d0efb4,#daf2b7,#e0f4b9,#e4f5bb,#e3f5bb,#d6f1b6,#c3ebb0,#bbe9af,#c5ecb0,#ceefb3,#d1efb4,#d5f1b6,#dff3b9,#edf7be,#f7fac0,#fefbc0,#fdf0ad,#fce69b,#fbde8d,#fbdb87,#fbdd8c,#fce79d,#fef6b8,#f5f9c0,#d6f1b6,#aee4ae,#72d1ac,#26bbad,#10adaf,#10adaf,#11b0ae,#11b0ae,#11b0ae,#12b2ae,#1cb8ae,#3ec1ad,#61ccac,#7ad3ac,#92dbac,#b1e5ae,#d6f1b6,#eff8be,#f6fac0,#f8fac0,#fafac0)"></i>
<i style="height:1px;background:linear-gradient(90deg,#edf7be,#e5f5bb,#dff3b9,#dbf2b8,#d8f1b7,#d5f1b6,#d5f1b6,#dbf2b8,#e3f4ba,#e6f5bc,#e3f4ba,#daf2b7,#d0efb4,#c6ecb0,#c2ebb0,#cdeeb3,#e6f5bb,#f6fac0,#f7fac0,#f8fac0,#fbfbc0,#fcfbc0,#eef8be,#cceeb2,#c1eab0,#cceeb2,#ddf3b8,#f0f8bf,#fbfbc0,#fdeea9,#fbde8d,#fad57d,#fbdb88,#fdf1ae,#f5f9c0,#dbf2b8,#c7edb1,#b8e7af,#b3e6af,#beeaaf,#ceefb3,#d8f1b7,#dcf2b8,#def3b9,#dcf3b8,#ceeeb3,#b9e8af,#b2e6ae,#bde9af,#c7edb1,#c9edb2,#ceefb3,#dcf2b8,#edf7be,#f7fac0,#fefbc0,#fdf0ad,#fce69b,#fbde8d,#fbda86,#fbdc8b,#fce69b,#fdf5b6,#f5f9c0,#d7f1b6,#b0e5ae,#75d2ac,#2abcad,#10aeaf,#10aeaf,#11b1ae,#11b1ae,#11b1ae,#12b2ae,#1cb8ae,#3dc1ad,#5ecbac,#75d2ac,#8cd9ac,#aee4ae,#d4f0b5,#eef8be,#f6f9c0,#f7fac0,#f9fac0)"></i>
<i style="height:1px;background:linear-gradient(90deg,#e9f6bc,#dff3b9,#d8f1b7,#d3f0b5,#cfefb4,#cdeeb3,#cdeeb3,#d4f0b5,#def3b9,#e3f5bb,#e3f4ba,#ddf3b8,#d4f0b5,#cbeeb2,#c8edb1,#d2f0b4,#eaf6bd,#f7fac0,#f9fac0,#fafac0,#fefbbf,#fefabe,#f4f9c0,#d3f0b5,#c8edb1,#d2f0b4,#e1f4ba,#f2f9c0,#fcfbc0,#fdeea9,#fbde8e,#fad67f,#fbdc8a,#fdf2b0,#f4f9c0,#d9f2b7,#c4ecb0,#b5e6af,#b1e5ae,#bce9af,#cceeb2,#d5f0b5,#d7f1b6,#d8f1b7,#d4f0b5,#c4ecb0,#aee4ae,#a8e2ae,#b3e6af,#beeaaf,#c1ebb0,#c8edb1,#d8f1b7,#ecf7bd,#f7fac0,#fefbc0,#fdf0ad,#fce69b,#fbdd8c,#fbd984,#fbdb89,#fce599,#fdf4b4,#f6fac0,#d9f2b7,#b2e6ae,#78d3ac,#2dbdad,#11afaf,#11afaf,#12b2ae,#12b2ae,#12b1ae,#12b3ae,#1eb8ae,#3cc1ad,#5ccaac,#72d1ac,#88d8ac,#abe3ae,#d2f0b5,#edf7be,#f6f9c0,#f7fac0,#f8fac0)"></i>
<i style="height:1px;background:linear-gradient(90deg,#e4f5bb,#d9f2b7,#d1efb4,#caedb2,#c6ecb0,#c4ecb0,#c6ecb0,#cdeeb3,#d8f1b7,#e1f4ba,#e3f4ba,#e0f4b9,#d8f1b7,#d0efb4,#ceeeb3,#d7f1b6,#eef8be,#f9fac0,#fbfac0,#fdfbc0,#fef6b8,#fdf6b7,#f7fac0,#dbf2b8,#cfefb3,#d8f1b6,#e5f5bb,#f4f9c0,#fcfbc0,#fdeea9,#fbdf8f,#fad782,#fbde8d,#fdf3b1,#f4f9c0,#d7f1b6,#c1ebb0,#b1e5ae,#aee4ae,#b9e8af,#c8edb1,#d1efb4,#d2f0b4,#d1efb4,#caeeb2,#b8e8af,#a2e0ad,#9cdead,#a8e2ae,#b4e6af,#b7e7af,#c0eab0,#d4f0b5,#eaf7bd,#f7fac0,#fefbc0,#fdf0ad,#fce59a,#fbdc8a,#fad882,#fbda86,#fce397,#fdf3b2,#f7fac0,#dbf2b7,#b3e6af,#7ad3ac,#30bdad,#11b1ae,#11b0ae,#12b3ae,#12b3ae,#12b2ae,#13b4ae,#20b9ae,#3dc1ad,#5bcaac,#6fd0ac,#85d7ac,#a9e2ae,#d1efb4,#ecf7be,#f5f9c0,#f7fac0,#f8fac0)"></i>
<i style="height:1px;background:linear-gradient(90deg,#dff3b9,#d3f0b5,#c9edb1,#c1ebb0,#bce9af,#bae8af,#bde9af,#c7edb1,#d3f0b5,#def3b9,#e3f4ba,#e2f4ba,#dcf3b8,#d6f1b6,#d4f0b5,#def3b9,#f3f9c0,#fafac0,#fdfbc0,#fef9bc,#fdf2b0,#fdf2b0,#fafac0,#e3f4ba,#d6f1b6,#ddf3b9,#e9f6bd,#f5f9c0,#fcfbc0,#fdeea9,#fbe091,#fbd984,#fbdf8f,#fdf4b3,#f3f9c0,#d5f1b6,#beeaaf,#aee4ae,#aae3ae,#b4e6af,#c4ecb0,#cbeeb2,#cceeb2,#c8edb1,#c0eab0,#abe3ae,#95dcac,#8ed9ac,#9cdead,#a8e2ae,#ade4ae,#b8e8af,#d0efb4,#e8f6bc,#f7fac0,#fefbc0,#fdf0ad,#fce599,#fbdb88,#fad67f,#fbd883,#fce294,#fdf2b0,#f8fac0,#dcf3b8,#b4e6af,#7bd4ac,#34bead,#12b2ae,#12b1ae,#13b4ae,#13b4ae,#12b4ae,#13b5ae,#23baae,#3ec1ad,#5bcaac,#6ed0ac,#83d6ac,#a7e2ae,#cfefb4,#ebf7bd,#f5f9c0,#f7fac0,#f8fac0)"></i>
<i style="height:1px;background:linear-gradient(90deg,#daf2b7,#cdeeb3,#c1eab0,#b7e7af,#b2e5ae,#b1e5ae,#b5e7af,#c0eab0,#ceefb3,#dbf2b8,#e3f4ba,#e4f5bb,#e0f4b9,#dbf2b8,#daf2b7,#e4f5bb,#f5f9c0,#fcfbc0,#fef9bc,#fdf5b6,#fdeeaa,#fdeea9,#fdfbc0,#ebf7bd,#def3b9,#e3f5bb,#edf7be,#f5f9c0,#fdfbc0,#fdeeaa,#fbe193,#fbdb87,#fbe193,#fdf5b5,#f3f9c0,#d3f0b5,#bae8af,#a9e3ae,#a5e1ad,#afe5ae,#beeaaf,#c6ecb0,#c5ecb0,#bfeab0,#b3e6af,#9ddead,#83d6ac,#7dd4ac,#8ed9ac,#9cdead,#a3e0ad,#b1e5ae,#cbeeb2,#e6f5bc,#f6fac0,#fdfbc0,#fdf0ad,#fce498,#fbda86,#fad47c,#fad780,#fbe192,#fdf0ad,#f8fac0,#def3b9,#b5e7af,#7dd4ac,#37bfad,#12b3ae,#12b2ae,#14b5ae,#15b6ae,#13b5ae,#18b6ae,#27bbad,#40c2ad,#5bcaac,#6ed0ac,#82d6ac,#a6e1ae,#ceeeb3,#eaf7bd,#f5f9c0,#f7fac0,#f8fac0)"></i>
<i style="height:1px;background:linear-gradient(90deg,#d5f1b6,#c6ecb0,#b8e8af,#ade4ae,#a7e2ae,#a7e2ae,#ade4ae,#bae8af,#caedb2,#d8f1b7,#e2f4ba,#e6f5bb,#e4f5bb,#e0f4ba,#e1f4ba,#ebf7bd,#f7fac0,#fefbbf,#fdf6b6,#fdf1af,#fceaa3,#fceaa2,#fef9bc,#f3f9c0,#e5f5bb,#e9f6bd,#f1f9bf,#f6fac0,#fdfbc0,#fdefaa,#fce295,#fbdd8b,#fce396,#fef6b7,#f1f9bf,#d1efb4,#b6e7af,#a5e1ad,#a0dfad,#aae3ae,#b8e7af,#beeaaf,#bce9af,#b4e6af,#a6e1ae,#8dd9ac,#71d0ac,#6bcfac,#7cd4ac,#8fdaac,#99ddac,#a9e2ae,#c7edb1,#e4f5bb,#f6fac0,#fdfbc0,#fdf0ac,#fce396,#fbd883,#fad279,#fad57d,#fbdf8f,#fdefab,#f9fac0,#dff3b9,#b6e7af,#7dd4ac,#3ac0ad,#13b4ae,#13b4ae,#19b7ae,#1ab7ae,#18b6ae,#1db8ae,#2bbcad,#43c3ad,#5dcaac,#6ed0ac,#83d6ac,#a5e1ad,#cceeb3,#e9f6bc,#f5f9c0,#f7fac0,#f8fac0)"></i>
<i style="height:1px;background:linear-gradient(90deg,#d0efb4,#c0eab0,#b0e5ae,#a4e1ad,#9ddfad,#9edfad,#a5e1ad,#b4e6af,#c6ecb0,#d6f1b6,#e2f4ba,#e8f6bc,#e8f6bc,#e6f5bb,#e8f6bc,#f2f9c0,#fafac0,#fef8ba,#fdf2b1,#fdeea9,#fce79d,#fce79c,#fdf5b5,#f6fac0,#edf7be,#eff8bf,#f4f9c0,#f7fac0,#fefbc0,#fdefab,#fce397,#fbdf8f,#fce59a,#fef8ba,#f0f8bf,#ceefb3,#b2e6af,#a0dfad,#9bdead,#a3e1ad,#b0e5ae,#b7e7af,#b4e6af,#a9e3ae,#98ddac,#7ad3ac,#5dcbac,#58c9ac,#6acfac,#7fd5ac,#8dd9ac,#a1e0ad,#c2ebb0,#e2f4ba,#f5f9c0,#fdfbc0,#fdf0ac,#fbe294,#fad680,#fad177,#fad37a,#fbde8d,#fdeea9,#fafac0,#e1f4ba,#b6e7af,#7ed5ac,#3cc1ad,#15b6ae,#14b5ae,#1fb8ae,#20b9ae,#1eb8ae,#23baae,#31bdad,#47c4ac,#5fcbac,#70d0ac,#84d6ac,#a5e1ad,#cbeeb2,#e7f6bc,#f5f9c0,#f8fac0,#f9fac0)"></i>
<i style="height:1px;background:linear-gradient(90deg,#cbeeb2,#b9e8af,#a7e2ae,#9adead,#94dbac,#95dcac,#9edfad,#aee4ae,#c1ebb0,#d4f0b5,#e2f4ba,#eaf6bd,#ebf7bd,#ecf7bd,#eff8bf,#f5f9c0,#fcfbc0,#fdf4b4,#fdefab,#fceaa2,#fce497,#fce397,#fdf1ae,#f9fac0,#f3f9c0,#f3f9c0,#f5f9c0,#f8fac0,#fefbc0,#fdefab,#fce599,#fbe193,#fce89e,#fef9bd,#eef8be,#cceeb2,#aee4ae,#9bdead,#95dcac,#9ddead,#a9e2ae,#aee4ae,#aae3ae,#9edfad,#87d7ac,#66cdac,#48c4ac,#43c3ad,#58c9ac,#6ed0ac,#7fd5ac,#99ddad,#bee9af,#dff3b9,#f5f9c0,#fdfbc0,#fdefab,#fbe192,#fad47c,#f9cf74,#fad178,#fbdc8a,#fdeca6,#fbfac0,#e2f4ba,#b7e7af,#7ed5ac,#3fc2ad,#1ab7ae,#1ab7ae,#24baad,#25baad,#24baad,#29bbad,#36bfad,#4bc5ac,#61ccac,#72d1ac,#86d7ac,#a5e1ad,#caedb2,#e6f5bb,#f5f9c0,#f8fac0,#f9fac0)"></i>
<i style="height:1px;background:linear-gradient(90deg,#c6ecb0,#b2e6af,#9fdfad,#91daac,#88d8ac,#8bd9ac,#97dcac,#a9e2ae,#beeaaf,#d2f0b4,#e2f4ba,#ecf7be,#eff8bf,#f1f9bf,#f4f9c0,#f8fac0,#fefabf,#fdf1af,#fceca5,#fce79c,#fbe192,#fbe091,#fdeda7,#fcfbc0,#f6fac0,#f6f9c0,#f7fac0,#f9fac0,#fefbc0,#fdefac,#fce69c,#fce497,#fceaa3,#fefbc0,#edf7be,#caedb2,#aae3ae,#96dcac,#8ed9ac,#95dcac,#a0e0ad,#a5e1ad,#a0e0ad,#92dbac,#75d2ac,#52c7ac,#33bead,#2ebdad,#44c3ad,#5dcbac,#72d1ac,#92dbac,#b9e8af,#ddf3b8,#f4f9c0,#fcfbc0,#fdefab,#fbdf90,#fad279,#f9cd71,#f9cf75,#fbdb87,#fceba4,#fcfbc0,#e3f5ba,#b6e7af,#7ed5ac,#41c2ad,#1eb8ae,#1fb9ae,#2abcad,#2bbcad,#2abcad,#30bdad,#3dc1ad,#50c7ac,#64cdac,#74d2ac,#88d8ac,#a6e1ae,#c9edb1,#e4f5bb,#f4f9c0,#f8fac0,#fafac0)"></i>
<i style="height:1px;background:linear-gradient(90deg,#c1ebb0,#ace4ae,#98ddac,#86d7ac,#7ed4ac,#81d6ac,#91daac,#a4e1ad,#bbe8af,#d1efb4,#e3f4ba,#eef8be,#f3f9c0,#f5f9c0,#f7fac0,#fbfac0,#fef6b8,#fdeea9,#fce89f,#fce397,#fbde8d,#fbde8d,#fce9a1,#fef9bd,#f9fac0,#f7fac0,#f8fac0,#fafac0,#fefabf,#fdf0ad,#fce89e,#fce69c,#fdeda8,#fdfbc0,#ebf7bd,#c7edb1,#a6e1ae,#90daac,#86d7ac,#8dd9ac,#98ddac,#9cdead,#96dcac,#83d6ac,#63ccac,#3dc1ad,#1db8ae,#19b7ae,#30bdad,#4cc5ac,#65cdac,#89d8ac,#b5e6af,#dbf2b8,#f3f9c0,#fcfbc0,#fdeeaa,#fbde8d,#fad077,#f9ca6f,#f9cd73,#fbd984,#fceaa2,#fcfbc0,#e4f5bb,#b6e7af,#7ed5ac,#44c3ad,#23baae,#25baad,#30bdad,#32bead,#31bead,#37bfad,#44c3ad,#56c8ac,#68ceac,#78d3ac,#8bd9ac,#a7e2ae,#c8edb1,#e3f4ba,#f4f9c0,#f9fac0,#fafac0)"></i>
<i style="height:1px;background:linear-gradient(90deg,#bce9af,#a6e1ae,#90daac,#7dd4ac,#74d1ac,#79d3ac,#8ad8ac,#a0dfad,#b8e8af,#d0efb4,#e4f5bb,#f1f8bf,#f5f9c0,#f7fac0,#fafac0,#fefbc0,#fdf2b1,#fceba3,#fce59a,#fbe091,#fbdb88,#fbdb88,#fce69b,#fdf5b6,#fbfbc0,#f9fac0,#f9fac0,#fafac0,#fefabf,#fdf0ae,#fceaa1,#fce9a1,#fdf0ad,#fcfbc0,#e9f6bd,#c5ecb0,#a2e0ad,#89d8ac,#7ed5ac,#83d6ac,#8ed9ac,#92dbac,#8bd8ac,#73d1ac,#50c7ac,#27bbad,#12b2ae,#12b1ae,#1cb7ae,#3ac0ad,#59c9ac,#81d5ac,#b0e5ae,#d8f1b7,#f3f9c0,#fcfbc0,#fdeea9,#fbdc8a,#f9ce74,#f8c86c,#f9cc70,#fad782,#fce8a0,#fdfbc0,#e5f5bb,#b6e7af,#7ed4ac,#46c4ac,#28bbad,#2bbcad,#36bfad,#38c0ad,#38c0ad,#3ec1ad,#4bc5ac,#5bcaac,#6ccfac,#7cd4ac,#8fdaac,#a8e2ae,#c7edb1,#e1f4ba,#f4f9c0,#f9fac0,#fbfbc0)"></i>
<i style="height:1px;background:linear-gradient(90deg,#b7e7af,#a1e0ad,#88d8ac,#74d1ac,#6bcfac,#71d0ac,#84d6ac,#9ddead,#b6e7af,#cfefb4,#e5f5bb,#f3f9c0,#f7fac0,#f9fac0,#fdfbc0,#fef7b8,#fdefab,#fce89e,#fce295,#fbde8d,#fbd984,#fbd985,#fce396,#fdf1af,#fefbc0,#fbfac0,#fafac0,#fbfac0,#fefabe,#fdf1af,#fceba5,#fceca6,#fdf3b2,#fbfac0,#e8f6bc,#c2ebb0,#9edfad,#83d6ac,#77d2ac,#7ad3ac,#83d6ac,#86d7ac,#7ed4ac,#64cdac,#3dc1ad,#13b5ae,#10adaf,#0facaf,#12b2ae,#29bbad,#4cc5ac,#79d3ac,#ade4ae,#d6f1b6,#f1f9bf,#fcfbc0,#fdeda8,#fbdb87,#f9cc71,#f8c668,#f9ca6d,#fad67f,#fce79d,#fefbc0,#e6f5bb,#b5e6af,#7dd4ac,#48c4ac,#2dbcad,#30bdad,#3cc1ad,#3ec1ad,#3fc2ad,#46c4ac,#52c7ac,#61ccac,#70d0ac,#80d5ac,#93dbac,#aae3ae,#c6ecb0,#e0f4b9,#f4f9c0,#fafac0,#fcfbc0)"></i>
<i style="height:1px;background:linear-gradient(90deg,#b3e6af,#9cdead,#81d6ac,#6ccfac,#63ccac,#6aceac,#7fd5ac,#9addad,#b5e7af,#d0efb4,#e7f6bc,#f5f9c0,#f9fac0,#fcfbc0,#fef9bc,#fdf2b1,#fceba4,#fce599,#fbe090,#fbdb88,#fad781,#fad781,#fbe091,#fdeea8,#fef8ba,#fcfbc0,#fbfac0,#fbfac0,#fefabe,#fdf2b0,#fdeda8,#fdefab,#fdf6b7,#f9fac0,#e6f5bb,#c0eab0,#9addad,#7cd4ac,#6fd0ac,#70d0ac,#77d3ac,#7ad3ac,#71d1ac,#55c8ac,#2abcad,#11afaf,#0ea7af,#0ea7af,#10adaf,#19b7ae,#40c2ad,#72d1ac,#a9e3ae,#d4f0b5,#f0f8bf,#fcfbc0,#fdeca6,#fbd984,#f9ca6e,#f8c365,#f8c86b,#fad47c,#fce69b,#fefabf,#e6f5bb,#b4e6af,#7cd4ac,#4ac5ac,#31bead,#36bfad,#42c3ad,#45c3ac,#46c4ac,#4ec6ac,#5ac9ac,#67cdac,#75d2ac,#84d6ac,#97dcac,#ace3ae,#c6ecb0,#dff3b9,#f4f9c0,#fbfac0,#fdfbc0)"></i>
<i style="height:1px;background:linear-gradient(90deg,#afe4ae,#97dcac,#7bd4ac,#65cdac,#5ccaac,#64cdac,#7bd4ac,#98ddac,#b5e6af,#d1efb4,#e9f6bd,#f6fac0,#fbfac0,#fefbc0,#fdf5b5,#fdeeaa,#fce89e,#fbe294,#fbdd8c,#fbd984,#fad57e,#fad67f,#fbde8d,#fceaa3,#fdf5b5,#fefbc0,#fbfac0,#fbfbc0,#fefabf,#fdf3b2,#fdf0ac,#fdf2b0,#fef9bc,#f8fac0,#e4f5bb,#bde9af,#96dcac,#76d2ac,#68ceac,#67ceac,#6ccfac,#6ed0ac,#64cdac,#45c4ac,#17b6ae,#0faaaf,#0ca2b0,#0ca2b0,#0ea9af,#12b3ae,#35bfad,#6bcfac,#a6e1ae,#d3f0b5,#f0f8bf,#fcfbc0,#fceba5,#fad780,#f8c86b,#f7c162,#f8c668,#fad379,#fce599,#fefabd,#e6f5bc,#b3e6af,#7bd4ac,#4bc5ac,#36bfad,#3cc1ad,#48c4ac,#4bc5ac,#4dc6ac,#55c8ac,#61ccac,#6dcfac,#79d3ac,#89d8ac,#9adead,#aee4ae,#c5ecb0,#def3b9,#f4f9c0,#fbfbc0,#fefbc0)"></i>
<i style="height:1px;background:linear-gradient(90deg,#abe3ae,#94dbac,#76d2ac,#60cbac,#57c9ac,#60cbac,#78d3ac,#98ddac,#b5e7af,#d3f0b5,#edf7be,#f8fac0,#fdfbc0,#fef7b9,#fdf1ae,#fceaa3,#fce498,#fbdf90,#fbdb88,#fad781,#fad47b,#fad47c,#fbdc8a,#fce79e,#fdf2b1,#fefabe,#fcfbc0,#fbfbc0,#fefbc0,#fdf4b4,#fdf2b0,#fdf5b6,#fdfbc0,#f7fac0,#e2f4ba,#bbe9af,#92dbac,#71d0ac,#61ccac,#5ecbac,#62ccac,#63ccac,#58c9ac,#36bfad,#12b1ae,#0da5b0,#0d9cb1,#0d9bb1,#0da4b0,#11afaf,#2bbcad,#65cdac,#a4e1ad,#d2f0b4,#eff8bf,#fcfbc0,#fceaa3,#fad47d,#f8c568,#f7bf5f,#f8c466,#fad178,#fce497,#fef9bc,#e6f5bb,#b1e5ae,#79d3ac,#4dc6ac,#3ac0ad,#41c2ad,#4ec6ac,#52c7ac,#54c8ac,#5dcaac,#69ceac,#73d1ac,#7ed5ac,#8dd9ac,#9edfad,#b0e5ae,#c5ecb0,#ddf3b8,#f4f9c0,#fcfbc0,#fefabe)"></i>
<i style="height:1px;background:linear-gradient(90deg,#a8e2ae,#90daac,#72d1ac,#5ccaac,#54c8ac,#5ecbac,#77d3ac,#98ddac,#b6e7af,#d5f1b6,#f1f8bf,#fafac0,#fefabd,#fdf3b2,#fdeda7,#fce79c,#fbe193,#fbdd8c,#fbd985,#fad57e,#fad37a,#fad37b,#fbda87,#fce59a,#fdf0ad,#fef9bc,#fcfbc0,#fbfbc0,#fefbc0,#fdf6b7,#fdf4b4,#fef8bb,#fbfbc0,#f6f9c0,#e1f4ba,#b9e8af,#8ed9ac,#6bcfac,#5ac9ac,#55c8ac,#57c9ac,#57c9ac,#4bc5ac,#28bbad,#10adaf,#0ba1b0,#1095b2,#1094b3,#0ba0b0,#0facaf,#22b9ae,#60ccac,#a2e0ad,#d1efb4,#eff8bf,#fcfbc0,#fce9a0,#fad279,#f8c365,#f7bc5c,#f7c263,#fad076,#fce396,#fef8bc,#e6f5bb,#afe5ae,#78d3ac,#4ec6ac,#3ec1ad,#47c4ac,#54c8ac,#58c9ac,#5bcaac,#65cdac,#70d0ac,#79d3ac,#83d6ac,#92dbac,#a2e0ad,#b2e6af,#c5ecb0,#dcf2b8,#f4f9c0,#fcfbc0,#fef9bc)"></i>
<i style="height:1px;background:linear-gradient(90deg,#a6e2ae,#8dd9ac,#70d0ac,#5ac9ac,#52c7ac,#5dcaac,#78d3ac,#99ddac,#b9e8af,#d9f2b7,#f4f9c0,#fcfbc0,#fdf6b7,#fdefac,#fce9a0,#fce396,#fbdf8f,#fbdb88,#fad882,#fad47c,#fad279,#fad37a,#fbd985,#fce396,#fdeeaa,#fef8bb,#fcfbc0,#fbfac0,#fdfbc0,#fef8ba,#fef7b9,#fefbc0,#f9fac0,#f4f9c0,#dff3b9,#b7e7af,#8ad8ac,#66cdac,#54c8ac,#4dc6ac,#4dc6ac,#4cc5ac,#3fc2ad,#1ab7ae,#0ea9af,#0e9ab1,#138eb4,#138eb4,#0d9bb1,#0ea9af,#1ab7ae,#5dcaac,#a0dfad,#d1efb4,#eff8bf,#fcfbc0,#fce79e,#fad076,#f7c162,#f6ba59,#f7c060,#f9cf74,#fbe294,#fef8bb,#e5f5bb,#aee4ae,#76d2ac,#4fc6ac,#42c2ad,#4cc5ac,#59c9ac,#5ecbac,#62ccac,#6ccfac,#78d3ac,#80d5ac,#88d8ac,#96dcac,#a6e1ad,#b5e6af,#c5ecb0,#dbf2b8,#f4f9c0,#fdfbc0,#fef7ba)"></i>
<i style="height:1px;background:linear-gradient(90deg,#a5e1ad,#8cd9ac,#6fd0ac,#59c9ac,#52c7ac,#5ecbac,#79d3ac,#9bdead,#bce9af,#ddf3b8,#f6fac0,#fefabe,#fdf2b0,#fceba5,#fce59a,#fbe091,#fbdc8b,#fbda85,#fad680,#fad37b,#fad278,#fad379,#fbd883,#fce294,#fdeda8,#fef8ba,#fcfbc0,#fbfac0,#fcfbc0,#fefabd,#fef9bd,#fcfbc0,#f7fac0,#f3f9c0,#ddf3b8,#b5e7af,#87d7ac,#62ccac,#4ec6ac,#45c3ac,#43c3ad,#41c2ad,#33bead,#12b3ae,#0da5af,#1094b3,#1688b5,#1589b5,#0f96b2,#0da6af,#14b5ae,#5ac9ac,#a0dfad,#d1efb4,#f0f8bf,#fdfbc0,#fce69b,#f9ce74,#f7be5e,#f6b856,#f7be5e,#f9cd72,#fbe193,#fef8bb,#e4f5bb,#abe3ae,#74d2ac,#50c7ac,#45c3ac,#51c7ac,#5ecbac,#64cdac,#68ceac,#73d1ac,#7fd5ac,#86d7ac,#8dd9ac,#9addad,#a9e3ae,#b7e7af,#c6ecb0,#dbf2b8,#f4f9c0,#fefbc0,#fef6b8)"></i>
<i style="height:1px;background:linear-gradient(90deg,#a4e1ad,#8cd9ac,#6fd0ac,#5bcaac,#55c8ac,#61ccac,#7dd4ac,#9fdfad,#c1ebb0,#e3f4ba,#f9fac0,#fdf5b5,#fdeda8,#fce79e,#fbe294,#fbdd8c,#fbdb87,#fbd883,#fad67f,#fad37a,#fad278,#fad37a,#fbd883,#fbe193,#fdeda7,#fef8bb,#fbfbc0,#fafac0,#fbfbc0,#fefbc0,#fdfbc0,#f9fac0,#f6f9c0,#f1f8bf,#dcf2b8,#b3e6af,#84d6ac,#5ecbac,#48c4ac,#3ec1ad,#3ac0ad,#37bfad,#28bbad,#11b0ae,#0ca2b0,#128fb4,#1d83b3,#1b85b3,#1192b3,#0da4b0,#13b4ae,#58c9ac,#a0dfad,#d2f0b5,#f1f9bf,#fefbc0,#fce497,#f9cc71,#f7bc5b,#f6b653,#f7bc5b,#f9cc71,#fbe091,#fef8bb,#e2f4ba,#a9e3ae,#72d1ac,#51c7ac,#49c4ac,#55c8ac,#63ccac,#69ceac,#6fd0ac,#7ad3ac,#86d7ac,#8cd9ac,#91daac,#9ddead,#ade4ae,#b9e8af,#c6ecb0,#dbf2b8,#f4f9c0,#fefbc0,#fdf6b7)"></i>
<i style="height:1px;background:linear-gradient(90deg,#a4e1ad,#8dd9ac,#72d1ac,#5ecbac,#59c9ac,#66cdac,#82d6ac,#a3e1ad,#c6ecb0,#e9f6bd,#fcfbc0,#fdf0ac,#fce89f,#fce397,#fbdf8e,#fbdb88,#fbd985,#fad882,#fad57e,#fad37a,#fad279,#fad37a,#fbd883,#fbe293,#fdeda8,#fef8bc,#fbfac0,#f9fac0,#fafac0,#fcfbc0,#fbfac0,#f7fac0,#f4f9c0,#eef7be,#daf2b7,#b2e6ae,#82d6ac,#5ccaac,#44c3ad,#38c0ad,#32bead,#2ebdad,#1eb8ae,#10aeaf,#0b9fb0,#148bb5,#237fb1,#2081b2,#1290b4,#0ca3b0,#12b3ae,#57c9ac,#a0e0ad,#d4f0b5,#f3f9c0,#fefabe,#fbe293,#f9ca6d,#f6ba58,#f5b350,#f6ba59,#f9cb6f,#fbe090,#fef9bc,#e0f4b9,#a7e2ae,#70d0ac,#51c7ac,#4bc5ac,#59c9ac,#68ceac,#6fd0ac,#75d2ac,#81d6ac,#8ed9ac,#92dbac,#95dcac,#a0dfad,#b0e5ae,#bce9af,#c7edb1,#dbf2b8,#f5f9c0,#fefabf,#fdf5b5)"></i>
<i style="height:1px;background:linear-gradient(90deg,#a5e1ad,#8fdaac,#75d2ac,#64cdac,#60cbac,#6dcfac,#89d8ac,#a9e3ae,#cceeb2,#f1f8bf,#fef8bc,#fceaa3,#fce397,#fbdf90,#fbdc89,#fbd985,#fbd883,#fad781,#fad57e,#fad37b,#fad279,#fad47b,#fbd985,#fce295,#fdeea9,#fefabd,#fafac0,#f8fac0,#f9fac0,#fafac0,#f9fac0,#f5f9c0,#f0f8bf,#ebf7bd,#d8f2b7,#b1e5ae,#81d5ac,#59c9ac,#41c2ad,#33bead,#2bbcad,#25baad,#15b6ae,#0fabaf,#0d9bb1,#1787b4,#277cb0,#237fb1,#138eb4,#0ca3b0,#12b3ae,#58c9ac,#a2e0ad,#d6f1b6,#f4f9c0,#fef8bb,#fbdf8f,#f8c76a,#f6b755,#f5b24d,#f6b957,#f9c96d,#fbdf8f,#fef9bd,#def3b9,#a4e1ad,#6ed0ac,#51c7ac,#4ec6ac,#5dcaac,#6dcfac,#74d1ac,#7bd4ac,#88d8ac,#94dbac,#97dcac,#99ddac,#a3e0ad,#b2e6af,#beeaaf,#c8edb1,#dcf2b8,#f5f9c0,#fefabe,#fdf4b4)"></i>
<i style="height:1px;background:linear-gradient(90deg,#a7e2ae,#93dbac,#7bd4ac,#6bcfac,#68ceac,#75d2ac,#91daac,#b0e5ae,#d3f0b5,#f5f9c0,#fdf3b1,#fce498,#fbde8e,#fbdb89,#fbd984,#fad782,#fad782,#fad781,#fad67f,#fad47c,#fad37a,#fad57d,#fbda87,#fce397,#fdefac,#fefbc0,#f9fac0,#f7fac0,#f7fac0,#f8fac0,#f7fac0,#f3f9c0,#ecf7be,#e8f6bc,#d7f1b6,#b0e5ae,#7fd5ac,#58c9ac,#3ec1ad,#2ebdad,#25baad,#1eb8ae,#12b3ae,#0ea9af,#0e98b2,#1b85b3,#2a7aaf,#257eb0,#138eb4,#0ca2b0,#12b3ae,#59c9ac,#a4e1ad,#d9f2b7,#f5f9c0,#fdf6b7,#fbdd8b,#f8c567,#f6b552,#f5b04b,#f6b755,#f8c86c,#fbdf8f,#fefabf,#dbf2b8,#a1e0ad,#6ccfac,#51c7ac,#50c7ac,#60cbac,#71d1ac,#79d3ac,#80d5ac,#8edaac,#99ddad,#9bdead,#9cdead,#a6e1ad,#b5e7af,#c0eab0,#caedb2,#ddf3b8,#f5f9c0,#fefabe,#fdf4b4)"></i>
<i style="height:1px;background:linear-gradient(90deg,#aae3ae,#96dcac,#82d6ac,#74d1ac,#72d1ac,#7fd5ac,#99ddac,#b7e7af,#daf2b7,#f9fac0,#fdeca6,#fbde8d,#fbd984,#fad782,#fad680,#fad67f,#fad781,#fad882,#fad781,#fad57e,#fad47d,#fad680,#fbdc8a,#fce59a,#fdf1af,#fdfbc0,#f7fac0,#f5f9c0,#f5f9c0,#f6fac0,#f5f9c0,#eef8be,#e8f6bc,#e5f5bb,#d6f1b6,#afe5ae,#7fd5ac,#57c9ac,#3cc1ad,#2bbcad,#20b9ae,#17b6ae,#12b1ae,#0ea7af,#0f96b2,#1e83b2,#2b79ae,#257db0,#138eb4,#0ca3b0,#13b4ae,#5ccaac,#a7e2ae,#dcf2b8,#f7fac0,#fdf4b3,#fbda86,#f8c264,#f5b34f,#f5ae49,#f6b653,#f8c76a,#fbdf8e,#fefbc0,#d8f1b7,#9edfad,#6aceac,#51c7ac,#53c7ac,#64ccac,#75d2ac,#7ed4ac,#86d7ac,#94dbac,#9fdfad,#9fdfad,#9fdfad,#a8e2ae,#b7e7af,#c2ebb0,#cbeeb2,#def3b9,#f6f9c0,#fef9bd,#fdf4b4)"></i>
<i style="height:1px;background:linear-gradient(90deg,#ade4ae,#9bdead,#8ad8ac,#7ed5ac,#7dd4ac,#8bd8ac,#a2e0ad,#c0eab0,#e2f4ba,#fcfbc0,#fce69b,#fad781,#fad37b,#fad37b,#fad47c,#fad57e,#fad781,#fbd883,#fad883,#fad780,#fad67f,#fad882,#fbde8d,#fce89e,#fdf4b3,#fbfbc0,#f6fac0,#f4f9c0,#f3f9c0,#f4f9c0,#f2f9c0,#e9f6bc,#e4f5bb,#e2f4ba,#d4f0b5,#afe4ae,#7fd5ac,#56c8ac,#3bc0ad,#28bbad,#1bb7ae,#13b4ae,#11b0af,#0da6af,#1094b3,#1f82b2,#2b79ae,#247eb0,#128fb4,#0ca4b0,#13b5ae,#5fcbac,#abe3ae,#dff3b9,#f8fac0,#fdf1af,#fad781,#f7c061,#f5b14c,#f4ac47,#f6b551,#f8c669,#fbdf8e,#fdfbc0,#d5f0b5,#9adead,#68ceac,#51c7ac,#54c8ac,#67cdac,#79d3ac,#82d6ac,#8bd9ac,#99ddac,#a4e1ad,#a4e1ad,#a2e0ad,#abe3ae,#bae8af,#c4ecb0,#cdeeb3,#dff3b9,#f6fac0,#fef9bd,#fdf4b3)"></i>
<i style="height:1px;background:linear-gradient(90deg,#b2e5ae,#a1e0ad,#93dbac,#89d8ac,#8ad8ac,#96dcac,#abe3ae,#c8edb1,#ebf7bd,#fef7ba,#fbdf8f,#fad177,#f9cf74,#fad076,#fad279,#fad47d,#fad782,#fbd985,#fbd985,#fbd883,#fad882,#fbda86,#fbe091,#fceaa3,#fef6b8,#fafac0,#f4f9c0,#f0f8bf,#eff8bf,#f0f8bf,#ecf7be,#e4f5bb,#e0f4b9,#e0f4b9,#d3f0b5,#aee4ae,#7fd5ac,#57c8ac,#3ac0ad,#26baad,#18b6ae,#12b3ae,#10aeaf,#0da4b0,#1193b3,#1f82b2,#2a7aaf,#2280b1,#1191b3,#0da5b0,#17b6ae,#64cdac,#aee4ae,#e3f5bb,#fafac0,#fdefaa,#fad47c,#f7be5d,#f5af4a,#f4ab45,#f5b350,#f8c668,#fbdf8e,#fcfbc0,#d1efb4,#97dcac,#65cdac,#51c7ac,#56c8ac,#6aceac,#7cd4ac,#86d7ac,#90daac,#9edfad,#a8e2ae,#a8e2ae,#a5e1ad,#ade4ae,#bce9af,#c6ecb0,#cfefb3,#e1f4ba,#f6fac0,#fef9bc,#fdf4b4)"></i>
<i style="height:1px;background:linear-gradient(90deg,#b7e7af,#a7e2ae,#9bdead,#95dcac,#97dcac,#a1e0ad,#b4e6af,#d0efb4,#f3f9c0,#fdf1af,#fad883,#f9cb70,#f9ca6e,#f9cd72,#fad076,#fad47c,#fbd883,#fbdb88,#fbdb88,#fbda87,#fbda86,#fbdc8a,#fce396,#fdeda8,#fef9bd,#f8fac0,#f2f9c0,#ebf7bd,#eaf6bd,#eaf6bd,#e6f5bc,#dff3b9,#dcf2b8,#ddf3b9,#d2f0b4,#aee4ae,#7fd5ac,#57c9ac,#3ac0ad,#24baad,#15b5ae,#12b2ae,#10adaf,#0ca3b0,#1192b3,#1e82b2,#287caf,#1f82b2,#1094b3,#0ea7af,#1db8ae,#69ceac,#b3e6af,#e8f6bc,#fcfbc0,#fceca6,#fad278,#f7bb5a,#f4ad47,#f4aa43,#f5b34f,#f8c567,#fbdf8f,#fbfac0,#cdeeb3,#93dbac,#62ccac,#51c7ac,#58c9ac,#6ccfac,#80d5ac,#8ad8ac,#94dbac,#a2e0ad,#ade4ae,#abe3ae,#a8e2ae,#afe5ae,#bee9af,#c8edb1,#d1efb4,#e3f4ba,#f7fac0,#fef9bc,#fdf4b4)"></i>
<i style="height:1px;background:linear-gradient(90deg,#bde9af,#afe4ae,#a4e1ad,#a0dfad,#a2e0ad,#ace3ae,#beeaaf,#d9f2b7,#f7fac0,#fceba4,#fad178,#f8c668,#f8c568,#f9ca6e,#f9cf74,#fad47b,#fbd984,#fbdc8a,#fbdd8c,#fbdd8b,#fbdc8a,#fbde8e,#fce69b,#fdf1ae,#fdfbc0,#f6f9c0,#edf7be,#e6f5bb,#e4f5bb,#e4f5bb,#e0f4b9,#daf2b7,#d8f1b7,#dbf2b8,#d1efb4,#aee4ae,#80d5ac,#58c9ac,#3ac0ad,#23baae,#13b5ae,#11b1ae,#0fabaf,#0ca2b0,#1192b3,#1d83b3,#257eb0,#1a85b3,#0f97b2,#0ea9af,#24baad,#6fd0ac,#b7e7af,#ecf7be,#fdfbc0,#fce9a1,#f9cf75,#f6b957,#f4ab45,#f4a942,#f5b24e,#f8c466,#fbdf90,#f9fac0,#c8edb1,#8dd9ac,#5fcbac,#50c7ac,#59c9ac,#6fd0ac,#83d6ac,#8edaac,#98ddac,#a7e2ae,#b1e5ae,#afe5ae,#abe3ae,#b1e5ae,#c0eab0,#caedb2,#d3f0b5,#e5f5bb,#f7fac0,#fef9bc,#fdf4b4)"></i>
<i style="height:1px;background:linear-gradient(90deg,#c4ecb0,#b7e7af,#aee4ae,#abe3ae,#aee4ae,#b7e7af,#c8edb1,#e2f4ba,#fafac0,#fce599,#f9cc70,#f7c061,#f7c162,#f8c76a,#f9cd73,#fad47b,#fbda86,#fbde8d,#fbdf90,#fbdf8f,#fbde8e,#fbe192,#fce9a0,#fdf4b4,#fafac0,#f3f9c0,#e7f6bc,#e0f4b9,#def3b9,#ddf3b8,#daf2b7,#d5f0b6,#d5f0b6,#d9f2b7,#d0efb4,#aee4ae,#82d6ac,#59c9ac,#3bc0ad,#23baae,#13b4ae,#11b0af,#0faaaf,#0ca1b0,#1192b3,#1b85b3,#2180b1,#1589b5,#0d9bb1,#0facaf,#2dbcad,#75d2ac,#bce9af,#f1f8bf,#fef9bd,#fce69c,#f9cd72,#f6b755,#f4aa43,#f4a841,#f5b14d,#f8c466,#fbe091,#f8fac0,#c3ebb0,#88d8ac,#5ccaac,#50c6ac,#5bcaac,#71d1ac,#86d7ac,#92dbac,#9cdead,#abe3ae,#b5e7af,#b3e6af,#ade4ae,#b3e6af,#c2ebb0,#cceeb3,#d6f1b6,#e7f6bc,#f8fac0,#fef9bc,#fdf5b5)"></i>
<i style="height:1px;background:linear-gradient(90deg,#cbeeb2,#c0eab0,#b9e8af,#b7e7af,#bbe9af,#c3ebb0,#d2f0b5,#ebf7bd,#fefbc0,#fbdf8f,#f8c669,#f6bb5a,#f7bd5c,#f8c466,#f9cc71,#fad47b,#fbdb88,#fbe091,#fbe294,#fbe293,#fbe193,#fce497,#fdeca6,#fef8bb,#f8fac0,#eef8be,#e2f4ba,#daf2b7,#d7f1b6,#d7f1b6,#d4f0b5,#d0efb4,#d2f0b4,#d7f1b6,#cfefb3,#afe4ae,#83d6ac,#5bcaac,#3cc1ad,#23baae,#13b4ae,#11afaf,#0ea9af,#0ba1b0,#1193b3,#1887b4,#1c84b3,#138db4,#0ba0b0,#11aeaf,#36bfad,#7dd4ac,#c2ebb0,#f4f9c0,#fef6b8,#fce497,#f9cb6f,#f6b552,#f4a941,#f4a740,#f5b14c,#f8c466,#fbe192,#f6fac0,#bde9af,#82d6ac,#58c9ac,#4fc6ac,#5ccaac,#73d1ac,#89d8ac,#95dcac,#9fdfad,#aee4ae,#b9e8af,#b6e7af,#b0e5ae,#b6e7af,#c3ebb0,#ceefb3,#d8f1b7,#e9f6bd,#f8fac0,#fef9bc,#fdf5b6)"></i>
<i style="height:1px;background:linear-gradient(90deg,#d3f0b5,#c9edb1,#c4ecb0,#c4ecb0,#c7edb1,#ceefb3,#dcf2b8,#f3f9c0,#fef6b7,#fbd985,#f7c162,#f6b653,#f6b957,#f7c263,#f9cb70,#fad47c,#fbdd8b,#fce295,#fce498,#fce498,#fce497,#fce79c,#fdf0ac,#fdfbc0,#f5f9c0,#e8f6bc,#dcf2b8,#d4f0b5,#d1efb4,#d0efb4,#ceefb3,#cbeeb2,#cfefb3,#d5f1b6,#ceefb3,#afe5ae,#85d7ac,#5dcaac,#3dc1ad,#23baae,#12b3ae,#10aeaf,#0ea8af,#0ba1b0,#1093b3,#158ab5,#1787b4,#1191b3,#0ca3b0,#12b2ae,#40c2ad,#84d7ac,#c7edb1,#f6fac0,#fdf3b3,#fbe192,#f9c96c,#f5b350,#f4a840,#f4a740,#f5b14c,#f8c466,#fce294,#f5f9c0,#b7e7af,#7bd4ac,#55c8ac,#4ec6ac,#5ecbac,#76d2ac,#8bd9ac,#97dcac,#a2e0ad,#b2e6ae,#bde9af,#bae8af,#b3e6af,#b8e8af,#c5ecb0,#d1efb4,#dbf2b8,#ecf7bd,#f8fac0,#fef9bc,#fdf5b6)"></i>
<i style="height:1px;background:linear-gradient(90deg,#dbf2b8,#d3f0b5,#cfefb3,#cfefb4,#d3f0b5,#d9f2b7,#e5f5bb,#f6fac0,#fdf1ae,#fad47b,#f7bc5b,#f5b14c,#f6b552,#f7bf60,#f9ca6e,#fad47d,#fbde8d,#fce499,#fce79d,#fce79d,#fce79d,#fceaa2,#fdf3b2,#fbfac0,#f2f9c0,#e1f4ba,#d5f1b6,#cdeeb3,#caedb2,#c9edb1,#c8edb1,#c7edb1,#cceeb2,#d3f0b5,#ceeeb3,#b0e5ae,#87d7ac,#5fcbac,#3fc2ad,#24baad,#12b3ae,#10aeaf,#0ea8af,#0ba0b0,#1094b3,#148cb4,#148bb5,#0f96b2,#0da6af,#13b5ae,#4bc5ac,#8dd9ac,#cceeb2,#f8fac0,#fdf1ae,#fbde8d,#f8c76a,#f5b24e,#f4a73f,#f4a73f,#f5b14c,#f8c466,#fce397,#f2f9c0,#b1e5ae,#75d2ac,#51c7ac,#4ec6ac,#5fcbac,#78d3ac,#8dd9ac,#9addad,#a5e1ad,#b6e7af,#c1ebb0,#bde9af,#b6e7af,#bae8af,#c7edb1,#d3f0b5,#def3b9,#eef8be,#f9fac0,#fef9bc,#fdf6b7)"></i>
<i style="height:1px;background:linear-gradient(90deg,#e4f5bb,#ddf3b8,#daf2b7,#dbf2b8,#def3b9,#e3f5bb,#eef8be,#fafac0,#fdeca6,#f9cf75,#f6b755,#f4ac47,#f5b14d,#f7bd5d,#f9c96d,#fad57d,#fbe090,#fce79d,#fceaa2,#fceaa2,#fceaa2,#fdeda7,#fef7b9,#f8fac0,#ebf7bd,#dbf2b8,#cfefb3,#c7ecb1,#c3ebb0,#c2ebb0,#c1ebb0,#c2ebb0,#c9edb1,#d2f0b4,#cdeeb3,#b1e5ae,#89d8ac,#62ccac,#41c2ad,#25baad,#12b3ae,#10adaf,#0ea7af,#0ba0b0,#0f96b2,#138fb4,#128fb4,#0d9bb1,#0faaaf,#21b9ae,#57c9ac,#95dcac,#d1efb4,#f9fac0,#fdeea9,#fbdc89,#f8c567,#f5b14c,#f3a63e,#f4a740,#f5b14d,#f8c466,#fce599,#edf7be,#aae3ae,#6dcfac,#4cc5ac,#4dc6ac,#61ccac,#7ad3ac,#8fdaac,#9cdead,#a8e2ae,#b9e8af,#c4ecb0,#c0eab0,#b9e8af,#bde9af,#caedb2,#d5f1b6,#e1f4ba,#f1f8bf,#fafac0,#fef9bc,#fef6b8)"></i>
<i style="height:1px;background:linear-gradient(90deg,#eef8be,#e8f6bc,#e5f5bb,#e6f5bc,#e9f6bd,#edf7be,#f4f9c0,#fdfbc0,#fce89e,#f9cb70,#f5b350,#f4a941,#f5ae49,#f7bb5a,#f8c96c,#fad57e,#fbe193,#fce9a1,#fdeda7,#fdeda7,#fdeda7,#fdf0ad,#fefbbf,#f5f9c0,#e4f5bb,#d4f0b5,#c8edb1,#bfeab0,#bbe9af,#bae8af,#bbe9af,#bee9af,#c6ecb0,#d0efb4,#cdeeb3,#b1e5ae,#8bd8ac,#64cdac,#44c3ad,#26bbad,#12b3ae,#10adaf,#0da6af,#0ba0b0,#0f97b2,#1192b3,#1193b3,#0ba0b0,#10aeaf,#2fbdad,#62ccac,#9cdead,#d7f1b6,#fbfac0,#fceba5,#fbd985,#f8c365,#f5b04b,#f3a63e,#f4a840,#f5b24e,#f8c567,#fce79c,#e8f6bc,#a3e0ad,#66cdac,#47c4ac,#4cc6ac,#63ccac,#7cd4ac,#91daac,#9edfad,#abe3ae,#bce9af,#c7edb1,#c4ecb0,#bce9af,#c0eab0,#cceeb2,#d8f1b7,#e4f5bb,#f3f9c0,#fafac0,#fef9bc,#fef7b8)"></i>
<i style="height:1px;background:linear-gradient(90deg,#f5f9c0,#f3f9c0,#f1f8bf,#f2f9c0,#f3f9c0,#f5f9c0,#f8fac0,#fef9bc,#fce497,#f8c86b,#f5b04b,#f3a53d,#f4ac45,#f6b958,#f8c86b,#fad67f,#fce396,#fceca6,#fdf0ac,#fdf0ad,#fdf0ad,#fdf4b3,#fcfbc0,#f2f9c0,#ddf3b8,#cdeeb3,#c1eab0,#b8e7af,#b3e6af,#b2e6af,#b4e6af,#b9e8af,#c4ecb0,#cfefb4,#cceeb3,#b2e6af,#8dd9ac,#67cdac,#46c4ac,#27bbad,#12b3ae,#10acaf,#0da6af,#0ba0b0,#0e99b2,#1095b2,#0f97b2,#0ca3b0,#12b2ae,#3ec1ad,#6ed0ac,#a4e1ad,#dcf2b8,#fdfbc0,#fce9a1,#fad781,#f7c263,#f5af4a,#f3a63e,#f4a841,#f5b34f,#f8c669,#fce9a0,#e2f4ba,#9bdead,#5ecbac,#42c3ad,#4cc5ac,#65cdac,#7ed5ac,#93dbac,#a0dfad,#ade4ae,#bfeaaf,#caedb2,#c7ecb1,#bfeab0,#c3ebb0,#ceefb3,#dbf2b8,#e7f6bc,#f4f9c0,#fbfac0,#fef9bc,#fef7b9)"></i>
<i style="height:1px;background:linear-gradient(90deg,#fafac0,#f8fac0,#f7fac0,#f7fac0,#f7fac0,#f8fac0,#fbfac0,#fdf5b5,#fbe091,#f8c568,#f4ad47,#f3a239,#f4a942,#f6b856,#f8c76b,#fad780,#fce599,#fdeeaa,#fdf2b1,#fdf3b2,#fdf3b2,#fef7ba,#f9fac0,#ebf7bd,#d6f1b6,#c6ecb0,#b9e8af,#b0e5ae,#abe3ae,#abe3ae,#aee4ae,#b5e6af,#c1ebb0,#ceefb3,#cceeb3,#b3e6af,#8fdaac,#69ceac,#48c4ac,#29bbad,#12b3ae,#0facaf,#0da5af,#0ba0b0,#0d9ab1,#0f98b2,#0d9bb1,#0da6af,#15b6ae,#4dc6ac,#7bd4ac,#abe3ae,#e1f4ba,#fefabf,#fce79d,#fad57d,#f7c161,#f5ae49,#f4a73f,#f4aa43,#f5b450,#f8c76a,#fceba4,#dcf3b8,#94dbac,#55c8ac,#3dc1ad,#4bc5ac,#67ceac,#80d5ac,#94dbac,#a1e0ad,#b0e5ae,#c1ebb0,#cceeb2,#caedb2,#c3ebb0,#c6ecb0,#d1efb4,#def3b9,#eaf7bd,#f5f9c0,#fbfac0,#fef9bc,#fef7ba)"></i>
<i style="height:1px;background:linear-gradient(90deg,#fefabe,#fdfbc0,#fcfbc0,#fbfbc0,#fbfac0,#fbfac0,#fdfbc0,#fdf2b0,#fbde8d,#f8c365,#f4aa44,#f2a037,#f4a840,#f6b754,#f8c76a,#fad781,#fce79c,#fdf1af,#fdf5b6,#fef6b7,#fef7b8,#fefbc0,#f7fac0,#e5f5bb,#cfefb4,#beeaaf,#b1e5ae,#a8e2ae,#a3e1ad,#a3e0ad,#a8e2ae,#b0e5ae,#bfeab0,#cdeeb3,#cceeb3,#b4e6af,#92dbac,#6ccfac,#4bc5ac,#2abcad,#12b3ae,#0facaf,#0da5b0,#0ba0b0,#0d9cb1,#0d9ab1,#0ba0b0,#0faaaf,#24baad,#5ccaac,#88d8ac,#b3e6af,#e6f5bb,#fef8bb,#fce599,#fad37a,#f7c060,#f5ae49,#f4a840,#f4ab45,#f6b552,#f8c96c,#fdeea8,#d6f1b6,#8ad8ac,#4bc5ac,#37bfad,#4ac5ac,#6aceac,#82d6ac,#95dcac,#a3e0ad,#b2e6ae,#c4ecb0,#ceefb3,#cceeb3,#c6ecb0,#c9edb1,#d4f0b5,#e1f4ba,#eef7be,#f6fac0,#fcfbc0,#fef9bc,#fef8ba)"></i>
<i style="height:1px;background:linear-gradient(90deg,#fdf2b0,#fdf5b6,#fef7ba,#fef9bc,#fefabe,#fefbc0,#fef9bc,#fdefab,#fbdb89,#f7c263,#f4a942,#f29f36,#f3a63e,#f6b653,#f8c76a,#fad882,#fce89f,#fdf4b3,#fef8bb,#fef9bc,#fefabe,#fcfbc0,#f4f9c0,#dff3b9,#c9edb1,#b7e7af,#a9e2ae,#a0dfad,#9bdead,#9cdead,#a1e0ad,#ace4ae,#bde9af,#cdeeb3,#cdeeb3,#b6e7af,#94dbac,#6fd0ac,#4dc6ac,#2cbcad,#12b3ae,#0fabaf,#0da5b0,#0ba1b0,#0c9db1,#0c9db1,#0ca2b0,#10adaf,#33bead,#6bcfac,#94dbac,#bbe9af,#eaf7bd,#fef6b8,#fce397,#fad278,#f7bf5f,#f5af4a,#f4a942,#f4ad47,#f6b755,#f9ca6f,#fdf0ad,#d0efb4,#80d5ac,#41c2ad,#31bdad,#4ac5ac,#6ccfac,#85d7ac,#96dcac,#a4e1ad,#b4e6af,#c6ecb0,#d1efb4,#cfefb3,#caedb2,#cceeb3,#d7f1b6,#e4f5bb,#f1f8bf,#f7fac0,#fcfbc0,#fef9bc,#fef8bb)"></i>
<i style="height:1px;background:linear-gradient(90deg,#fceaa1,#fdeda8,#fdf0ad,#fdf3b1,#fdf5b6,#fef7b9,#fdf6b7,#fdeda7,#fbda86,#f7c161,#f4a841,#f29e35,#f3a63e,#f6b552,#f8c669,#fbd883,#fceaa2,#fef6b7,#fefbc0,#fdfbc0,#fdfbc0,#f9fac0,#f1f8bf,#d9f2b7,#c3ebb0,#b0e5ae,#a1e0ad,#98ddac,#93dbac,#94dbac,#9bdead,#a9e2ae,#bbe9af,#cceeb2,#cdeeb3,#b7e7af,#96dcac,#71d1ac,#50c7ac,#2dbdad,#12b3ae,#0fabaf,#0da5b0,#0ba1b0,#0b9fb0,#0ba0b0,#0da5b0,#11b0ae,#43c3ad,#7ad3ac,#9fdfad,#c3ebb0,#eff8bf,#fdf5b5,#fbe294,#fad177,#f7bf5f,#f5af4b,#f4aa44,#f5af49,#f6b957,#f9cc71,#fdf4b3,#c9edb1,#75d2ac,#37bfad,#2abcad,#49c5ac,#6fd0ac,#87d7ac,#97dcac,#a5e1ad,#b6e7af,#c8edb1,#d2f0b5,#d2f0b4,#cdeeb3,#d0efb4,#dbf2b7,#e7f6bc,#f4f9c0,#f9fac0,#fdfbc0,#fef9bc,#fef8bb)"></i>
<i style="height:1px;background:linear-gradient(90deg,#fbe192,#fce599,#fce9a0,#fdeda7,#fdf1ae,#fdf4b4,#fdf3b3,#fceba4,#fbd984,#f7c061,#f4a841,#f29e35,#f3a53d,#f6b552,#f8c669,#fbd984,#fceca5,#fef9bc,#fcfbc0,#fcfbc0,#fbfac0,#f7fac0,#ebf7bd,#d4f0b5,#bde9af,#a8e2ae,#99ddad,#8fdaac,#8ad8ac,#8cd9ac,#96dcac,#a5e1ad,#b9e8af,#cceeb2,#cdeeb3,#b8e8af,#98ddac,#74d2ac,#52c7ac,#2fbdad,#12b3ae,#0fabaf,#0da4b0,#0ba1b0,#0ba0b0,#0ca2b0,#0ea7af,#12b4ae,#52c7ac,#8ad8ac,#aae3ae,#cbeeb2,#f3f9c0,#fdf3b2,#fbe192,#fad076,#f7bf5f,#f5b04c,#f4ac46,#f5b14c,#f7bb5a,#f9cf74,#fef7b9,#c2ebb0,#6acfac,#2cbcad,#23baae,#49c5ac,#72d1ac,#89d8ac,#98ddac,#a6e2ae,#b8e8af,#c9edb2,#d4f0b5,#d4f0b5,#d1efb4,#d4f0b5,#def3b9,#ebf7bd,#f5f9c0,#fafac0,#fdfbc0,#fef9bc,#fef8bb)"></i>
<i style="height:1px;background:linear-gradient(90deg,#fbd883,#fbdc8a,#fbe193,#fce79d,#fdeda7,#fdf1af,#fdf1af,#fceaa2,#fbd883,#f7c061,#f4a942,#f29f36,#f3a63e,#f6b552,#f8c669,#fbd985,#fdeda8,#fefbc0,#fbfac0,#fafac0,#f9fac0,#f5f9c0,#e6f5bb,#cfefb3,#b7e7af,#a1e0ad,#91daac,#85d7ac,#80d5ac,#83d6ac,#8fdaac,#a2e0ad,#b8e8af,#cbeeb2,#ceefb3,#b9e8af,#9addad,#77d2ac,#55c8ac,#30bdad,#12b3ae,#0fabaf,#0da4b0,#0ba1b0,#0ba1b0,#0ca3b0,#0fa9af,#1ab7ae,#60cbac,#98ddac,#b5e6af,#d2f0b4,#f5f9c0,#fdf2b0,#fbe091,#f9cf75,#f7bf5f,#f5b24e,#f5ae49,#f5b350,#f7be5e,#fad178,#fefabf,#bae8af,#5fcbac,#21b9ae,#1db8ae,#49c4ac,#75d2ac,#8cd9ac,#99ddac,#a8e2ae,#bae8af,#cbeeb2,#d6f1b6,#d7f1b6,#d5f0b6,#d8f1b7,#e2f4ba,#eff8bf,#f6fac0,#fbfac0,#fefbc0,#fef8bc,#fef8bb)"></i>
<i style="height:1px;background:linear-gradient(90deg,#fad076,#fad47b,#fbda87,#fbe294,#fce9a0,#fdefaa,#fdf0ac,#fce9a0,#fbd883,#f7c162,#f4aa43,#f2a037,#f3a63f,#f6b552,#f8c669,#fbda86,#fdefab,#fcfbc0,#f9fac0,#f8fac0,#f7fac0,#f2f9c0,#e0f4ba,#caedb2,#b1e5ae,#9bdead,#88d8ac,#7cd4ac,#77d2ac,#7bd4ac,#89d8ac,#9edfad,#b6e7af,#cbeeb2,#cfefb3,#bbe8af,#9bdead,#79d3ac,#57c9ac,#31bead,#12b3ae,#0faaaf,#0da4b0,#0ca1b0,#0ca2b0,#0da5b0,#0facaf,#26baad,#6ed0ac,#a4e1ad,#c0eab0,#d9f2b7,#f6fac0,#fdf1ae,#fbdf8f,#f9cf75,#f7bf60,#f5b350,#f5b14c,#f6b653,#f7c161,#fad47c,#fcfbc0,#b3e6af,#55c8ac,#16b6ae,#16b6ae,#48c4ac,#79d3ac,#8edaac,#99ddad,#a9e2ae,#bbe9af,#cdeeb3,#d8f1b6,#daf2b7,#d9f2b7,#ddf3b8,#e6f5bc,#f3f9c0,#f8fac0,#fcfbc0,#fefabf,#fef8bb,#fef8bb)"></i>
<i style="height:1px;background:linear-gradient(90deg,#f8c86c,#f9cc71,#fad37a,#fbdc8b,#fce59a,#fdeca6,#fdeeaa,#fce89f,#fbd984,#f8c264,#f4ac45,#f3a139,#f4a840,#f6b653,#f8c769,#fbda87,#fdf0ad,#fbfac0,#f7fac0,#f7fac0,#f5f9c0,#edf7be,#dcf2b8,#c6ecb0,#ade4ae,#95dcac,#7fd5ac,#73d1ac,#6ed0ac,#73d1ac,#83d6ac,#9bdead,#b5e7af,#cbeeb2,#cfefb4,#bce9af,#9ddead,#7cd4ac,#5ac9ac,#33bead,#12b3ae,#0faaaf,#0da4b0,#0ca1b0,#0ca2b0,#0da6af,#10aeaf,#31bead,#7cd4ac,#afe5ae,#caedb2,#e0f4ba,#f8fac0,#fdf0ad,#fbdf8e,#f9cf74,#f7c061,#f6b552,#f5b34f,#f6b957,#f8c365,#fad882,#fafac0,#abe3ae,#4ac5ac,#12b3ae,#13b4ae,#48c4ac,#7cd4ac,#91daac,#9addad,#aae3ae,#bde9af,#ceefb3,#d9f2b7,#dcf3b8,#ddf3b8,#e1f4ba,#ebf7bd,#f4f9c0,#f9fac0,#fdfbc0,#fef9bd,#fef8bb,#fef8bb)"></i>
<i style="height:1px;background:linear-gradient(90deg,#f7c162,#f8c568,#f9cd72,#fad782,#fce295,#fceaa3,#fdeda8,#fce89f,#fbd985,#f8c465,#f5ae48,#f3a43b,#f4a942,#f6b654,#f8c76a,#fbdb88,#fdf2b0,#f9fac0,#f6fac0,#f5f9c0,#f2f9c0,#e7f6bc,#d7f1b6,#c2ebb0,#a8e2ae,#8edaac,#77d2ac,#6acfac,#66cdac,#6bcfac,#7dd4ac,#98ddac,#b4e6af,#cbeeb2,#d0efb4,#bde9af,#9fdfad,#7fd5ac,#5ccaac,#34bfad,#12b3ae,#0faaaf,#0ca4b0,#0ca2b0,#0ca3b0,#0ea7af,#11b0ae,#3cc1ad,#89d8ac,#bbe9af,#d4f0b5,#e8f6bc,#fafac0,#fdefab,#fbde8e,#f9cf74,#f7c162,#f6b755,#f6b653,#f7bc5b,#f8c769,#fbdb88,#f7fac0,#a3e1ad,#3fc2ad,#11b0ae,#12b2ae,#48c4ac,#7fd5ac,#93dbac,#9bdead,#abe3ae,#bfeab0,#d0efb4,#dbf2b8,#dff3b9,#e1f4ba,#e6f5bc,#eff8bf,#f6fac0,#fbfac0,#fefbc0,#fef8bb,#fef8ba,#fef8ba)"></i>
<i style="height:1px;background:linear-gradient(90deg,#f6ba58,#f7be5e,#f8c76b,#fad37a,#fbdf90,#fce9a0,#fdeca7,#fce89f,#fbda87,#f8c568,#f5b04b,#f3a63e,#f4ab45,#f6b855,#f8c86b,#fbdc8a,#fdf4b3,#f8fac0,#f4f9c0,#f4f9c0,#eef8be,#e3f4ba,#d3f0b5,#bfeab0,#a5e1ad,#88d8ac,#70d0ac,#63ccac,#5fcbac,#65cdac,#77d3ac,#96dcac,#b3e6af,#cbeeb2,#d0efb4,#bfeaaf,#a1e0ad,#81d6ac,#5ecbac,#35bfad,#12b3ae,#0faaaf,#0ca4b0,#0ca2b0,#0ca4b0,#0ea8af,#12b2ae,#47c4ac,#95dcac,#c6ecb0,#ddf3b8,#eff8be,#fbfac0,#fdeeaa,#fbde8d,#f9cf74,#f7c263,#f6b957,#f6b957,#f7bf5f,#f9ca6e,#fbdf8f,#f5f9c0,#9cdead,#34bfad,#10aeaf,#11b1ae,#48c4ac,#83d6ac,#96dcac,#9cdead,#ace4ae,#c1ebb0,#d2f0b4,#ddf3b8,#e2f4ba,#e5f5bb,#ebf7bd,#f3f9c0,#f8fac0,#fcfbc0,#fef9bd,#fef7ba,#fef7b9,#fef7ba)"></i>
<i style="height:1px;background:linear-gradient(90deg,#f5b24e,#f6b755,#f7c263,#f9cf74,#fbdd8b,#fce79e,#fceca5,#fce89f,#fbdc89,#f8c76b,#f5b34f,#f4a942,#f4ad48,#f6b957,#f8c86c,#fbdd8b,#fdf5b6,#f7fac0,#f3f9c0,#f1f8bf,#eaf6bd,#def3b9,#d0efb4,#bce9af,#a2e0ad,#82d6ac,#69ceac,#5ccaac,#58c9ac,#5ecbac,#73d1ac,#93dbac,#b1e5ae,#caedb2,#d1efb4,#c0eab0,#a3e0ad,#84d6ac,#60ccac,#37bfad,#12b3ae,#0faaaf,#0ca4b0,#0ca2b0,#0da4b0,#0faaaf,#12b4ae,#51c7ac,#9fdfad,#d0efb4,#e6f5bc,#f4f9c0,#fcfbc0,#fdeea9,#fbde8d,#f9cf74,#f8c364,#f7bb5a,#f7bc5b,#f8c264,#f9cd72,#fce395,#f1f8bf,#95dcac,#2bbcad,#0fabaf,#11afaf,#47c4ac,#86d7ac,#98ddac,#9edfad,#aee4ae,#c3ebb0,#d3f0b5,#def3b9,#e5f5bb,#eaf6bd,#f0f8bf,#f5f9c0,#f9fac0,#fefbc0,#fef8ba,#fef6b8,#fef7b8,#fef7b9)"></i>
<i style="height:1px;background:linear-gradient(90deg,#f4ab45,#f5b04c,#f7bc5c,#f9cb6f,#fbda86,#fce69b,#fceba5,#fce9a0,#fbdd8c,#f9ca6e,#f6b653,#f4ac46,#f5b04b,#f6bb59,#f9c96d,#fbde8d,#fef7b8,#f5f9c0,#f0f8bf,#eef8be,#e6f5bc,#daf2b7,#cdeeb3,#bae8af,#9fdfad,#7ed5ac,#63ccac,#56c8ac,#52c7ac,#59c9ac,#6ed0ac,#90daac,#b0e5ae,#caedb2,#d1efb4,#c1ebb0,#a4e1ad,#86d7ac,#63ccac,#38c0ad,#12b3ae,#0faaaf,#0ca3b0,#0ca2b0,#0da4b0,#0fabaf,#15b5ae,#5bcaac,#a9e2ae,#daf2b7,#eff8bf,#f7fac0,#fefbc0,#fdeda8,#fbde8d,#f9cf75,#f8c466,#f7be5d,#f7bf5f,#f8c668,#fad076,#fce79c,#ebf7bd,#8dd9ac,#21b9ae,#0ea9af,#10aeaf,#47c4ac,#89d8ac,#9addad,#9fdfad,#b0e5ae,#c5ecb0,#d5f1b6,#e0f4b9,#e8f6bc,#eef8be,#f4f9c0,#f7fac0,#fbfac0,#fef9bd,#fdf6b7,#fdf5b6,#fef6b8,#fef7b8)"></i>
<i style="height:1px;background:linear-gradient(90deg,#f3a43c,#f4aa43,#f6b755,#f8c76a,#fad882,#fce599,#fceba4,#fce9a1,#fbdf8f,#f9cc71,#f6b958,#f5b04b,#f5b34f,#f7bc5c,#f9cb6f,#fbdf8f,#fef8bb,#f4f9c0,#edf7be,#ebf7bd,#e3f4ba,#d7f1b6,#caeeb2,#b9e8af,#9edfad,#7ad3ac,#5ecbac,#50c7ac,#4dc6ac,#54c8ac,#6aceac,#8dd9ac,#afe4ae,#c9edb2,#d1efb4,#c2ebb0,#a6e2ae,#89d8ac,#65cdac,#3ac0ad,#12b3ae,#0fa9af,#0ca3b0,#0ca2b0,#0da5b0,#0fabaf,#1bb7ae,#64cdac,#b2e5ae,#e3f4ba,#f5f9c0,#f9fac0,#fef9bd,#fdeda7,#fbde8d,#f9d075,#f8c568,#f7c061,#f7c263,#f9c96c,#fad47b,#fceaa3,#e5f5bb,#85d7ac,#19b7ae,#0ea7af,#10adaf,#47c4ac,#8cd9ac,#9cdead,#a1e0ad,#b2e5ae,#c7edb1,#d7f1b6,#e2f4ba,#ebf7bd,#f3f9c0,#f6fac0,#f9fac0,#fdfbc0,#fef7b9,#fdf4b4,#fdf4b4,#fdf6b7,#fef6b7)"></i>
<i style="height:1px;background:linear-gradient(90deg,#f29e35,#f3a43b,#f5b24e,#f8c466,#fad57e,#fce497,#fceba3,#fceaa2,#fbe192,#f9cf74,#f7bd5d,#f5b450,#f6b653,#f7bf5f,#f9cc71,#fbe092,#fefabe,#f3f9c0,#eaf6bd,#e8f6bc,#e0f4b9,#d4f0b5,#c9edb1,#b8e8af,#9ddead,#78d3ac,#5bcaac,#4cc5ac,#48c4ac,#50c7ac,#67cdac,#8bd9ac,#aee4ae,#c9edb1,#d1efb4,#c3ebb0,#a8e2ae,#8bd9ac,#67ceac,#3bc1ad,#12b3ae,#0fa9af,#0ca3b0,#0ca1b0,#0da5b0,#10acaf,#21b9ae,#6ccfac,#bae8af,#ebf7bd,#f8fac0,#fcfbc0,#fef7b9,#fdeca6,#fbde8d,#fad076,#f8c76a,#f8c364,#f8c567,#f9cc71,#fad782,#fdeeaa,#dff3b9,#7ed4ac,#13b5ae,#0da5b0,#0fabaf,#47c4ac,#8ed9ac,#9fdfad,#a3e0ad,#b4e6af,#caedb2,#d9f2b7,#e4f5bb,#eef8be,#f5f9c0,#f8fac0,#fbfac0,#fefabe,#fdf5b5,#fdf2b1,#fdf3b2,#fdf5b5,#fdf5b6)"></i>
<i style="height:1px;background:linear-gradient(90deg,#f0972f,#f29d35,#f4ad47,#f7c061,#fad37a,#fce295,#fceaa3,#fceaa3,#fce295,#fad178,#f7c162,#f6b755,#f6b957,#f7c162,#f9ce73,#fbe294,#fefbc0,#f0f8bf,#e7f6bc,#e6f5bb,#def3b9,#d2f0b4,#c7edb1,#b9e8af,#9ddead,#76d2ac,#58c9ac,#49c5ac,#45c4ac,#4dc6ac,#64cdac,#89d8ac,#ace4ae,#c8edb1,#d1efb4,#c4ecb0,#aae3ae,#8ed9ac,#69ceac,#3cc1ad,#12b3ae,#0ea9af,#0ca3b0,#0ba1b0,#0da5b0,#10adaf,#26baad,#74d1ac,#c2ebb0,#f3f9c0,#fbfac0,#fefbc0,#fdf5b6,#fceca5,#fbde8d,#fad177,#f8c86c,#f8c567,#f8c86b,#f9cf75,#fbdb89,#fdf2b0,#d9f2b7,#77d2ac,#12b3ae,#0ca4b0,#0fabaf,#47c4ac,#90daac,#a1e0ad,#a6e1ad,#b7e7af,#cceeb3,#dbf2b8,#e7f6bc,#f2f9c0,#f6fac0,#fafac0,#fdfbc0,#fef7b9,#fdf2b1,#fdf1ae,#fdf2b0,#fdf4b4,#fdf5b5)"></i>
<i style="height:1px;background:linear-gradient(90deg,#ef9129,#f0972f,#f4a841,#f7bd5c,#fad177,#fbe192,#fceaa2,#fceba4,#fce498,#fad47c,#f8c567,#f7bc5b,#f7bc5c,#f8c466,#f9cf75,#fce497,#fdfbc0,#edf7be,#e5f5bb,#e4f5bb,#dcf2b8,#d0efb4,#c7edb1,#b9e8af,#9edfad,#76d2ac,#57c9ac,#48c4ac,#44c3ad,#4bc5ac,#62ccac,#86d7ac,#abe3ae,#c7edb1,#d1efb4,#c5ecb0,#ace3ae,#90daac,#6ccfac,#3ec1ad,#12b4ae,#0ea9af,#0ca2b0,#0ba1b0,#0da5b0,#10adaf,#2bbcad,#7bd4ac,#c9edb1,#f6fac0,#fefbc0,#fef7ba,#fdf3b2,#fceba4,#fbde8d,#fad178,#f9ca6e,#f8c86b,#f9cb6f,#fad279,#fbdf8f,#fdf6b7,#d4f0b5,#71d0ac,#12b1ae,#0ca3b0,#0faaaf,#47c4ac,#92dbac,#a4e1ad,#a9e2ae,#bae8af,#cfefb4,#def3b9,#eaf6bd,#f4f9c0,#f8fac0,#fcfbc0,#fef9bd,#fdf4b4,#fdf0ad,#fdefab,#fdf1ae,#fdf3b3,#fdf4b4)"></i>
<i style="height:1px;background:linear-gradient(90deg,#ee8c24,#ef922a,#f3a43b,#f6b958,#f9ce74,#fbe090,#fce9a1,#fceba5,#fce69b,#fad782,#f8c86c,#f7c060,#f7c061,#f8c769,#fad278,#fce69b,#fcfbc0,#ebf7bd,#e3f5ba,#e2f4ba,#daf2b7,#cfefb3,#c7edb1,#bbe9af,#a0dfad,#77d2ac,#58c9ac,#48c4ac,#43c3ad,#4ac5ac,#60cbac,#85d7ac,#a9e3ae,#c6ecb0,#d0efb4,#c5ecb0,#ade4ae,#93dbac,#6ed0ac,#3fc2ad,#13b4ae,#0ea9af,#0ca2b0,#0ba0b0,#0da4b0,#10adaf,#2fbdad,#81d6ac,#cfefb3,#f8fac0,#fef7ba,#fdf4b4,#fdf1af,#fceaa3,#fbde8e,#fad279,#f9cb70,#f9ca6e,#f9ce73,#fad67f,#fce396,#fefabd,#cfefb3,#6bcfac,#11b0ae,#0ca2b0,#0faaaf,#47c4ac,#94dbac,#a6e2ae,#ace4ae,#beeaaf,#d2f0b5,#e1f4ba,#ecf7be,#f5f9c0,#fafac0,#fefbc0,#fef6b7,#fdf1af,#fdeea9,#fdeda8,#fdf0ac,#fdf2b1,#fdf3b2)"></i>
<i style="height:1px;background:linear-gradient(90deg,#ed871f,#ee8d25,#f29f36,#f6b653,#f9cc71,#fbde8d,#fce9a0,#fceca5,#fce79d,#fbdb87,#f9cc71,#f8c466,#f8c466,#f9ca6e,#fad47c,#fce89f,#fbfac0,#e9f6bc,#e2f4ba,#e1f4ba,#d9f2b7,#cfefb3,#c9edb1,#beeaaf,#a2e0ad,#7ad3ac,#59c9ac,#4ac5ac,#44c3ad,#4ac5ac,#5fcbac,#83d6ac,#a7e2ae,#c4ecb0,#cfefb4,#c6ecb0,#afe4ae,#95dcac,#70d0ac,#41c2ad,#13b4ae,#0ea9af,#0ca2b0,#0ba0b0,#0ca4b0,#10adaf,#32bead,#87d7ac,#d4f0b5,#fbfac0,#fdf4b3,#fdf1af,#fdefab,#fceaa2,#fbde8e,#fad37a,#f9cd72,#f9cc71,#fad177,#fbd985,#fce69c,#fdfbc0,#caedb2,#67cdac,#11b0af,#0ca2b0,#0fa9af,#47c4ac,#95dcac,#a9e2ae,#b0e5ae,#c2ebb0,#d6f1b6,#e4f5bb,#f0f8bf,#f7fac0,#fcfbc0,#fef8bb,#fdf3b2,#fdefaa,#fceba5,#fceca5,#fdeeaa,#fdf1af,#fdf2b1)"></i>
<i style="height:1px;background:linear-gradient(90deg,#ec821b,#ed8821,#f19b32,#f5b34f,#f9ca6e,#fbdc8a,#fce89e,#fceca5,#fce9a0,#fbde8d,#fad076,#f8c86c,#f8c86c,#f9cd72,#fad782,#fceaa3,#f9fac0,#e7f6bc,#e0f4b9,#e0f4ba,#d9f2b7,#d0efb4,#cbeeb2,#c1ebb0,#a6e1ae,#7ed4ac,#5dcaac,#4dc6ac,#47c4ac,#4bc5ac,#5fcbac,#81d6ac,#a6e1ad,#c2ebb0,#ceefb3,#c6ecb0,#b1e5ae,#97dcac,#72d1ac,#42c3ad,#13b4ae,#0ea9af,#0ba1b0,#0c9eb0,#0ca3b0,#10adaf,#35bfad,#8cd9ac,#d8f1b7,#fdfbc0,#fdf1ae,#fdeeaa,#fdeda8,#fce9a0,#fbde8e,#fad47b,#f9cf74,#f9cf74,#fad37a,#fbdd8b,#fceaa2,#fbfac0,#c6ecb0,#63ccac,#11afaf,#0ca2b0,#0faaaf,#47c4ac,#95dcac,#ace3ae,#b4e6af,#c6ecb0,#d9f2b7,#e8f6bc,#f3f9c0,#f8fac0,#fefbc0,#fdf5b5,#fdf0ac,#fceca5,#fce9a1,#fceaa2,#fdeda8,#fdf0ad,#fdf1af)"></i>
<i style="height:1px;background:linear-gradient(90deg,#eb7f18,#ec841d,#f0972f,#f5b04b,#f8c76a,#fbda86,#fce79c,#fceca5,#fceaa2,#fbe091,#fad47b,#f9cd72,#f9cc71,#fad177,#fbdb88,#fdeda8,#f8fac0,#e5f5bb,#dff3b9,#e0f4b9,#d9f2b7,#d1efb4,#ceeeb3,#c6ecb0,#abe3ae,#83d6ac,#62ccac,#52c7ac,#4cc5ac,#4ec6ac,#60cbac,#80d5ac,#a3e1ad,#c0eab0,#cdeeb3,#c6ecb0,#b2e6af,#99ddac,#74d1ac,#44c3ad,#13b4ae,#0ea8af,#0ba0b0,#0c9db1,#0ca2b0,#10adaf,#38c0ad,#91daac,#dcf2b8,#fefbc0,#fdeea9,#fceca5,#fceba5,#fce89e,#fbde8e,#fad57d,#fad076,#fad177,#fad680,#fbe090,#fdeda8,#f9fac0,#c1ebb0,#61ccac,#11afaf,#0ca2b0,#0faaaf,#47c4ac,#96dcac,#aee4ae,#bae8af,#cbeeb2,#ddf3b9,#ebf7bd,#f5f9c0,#fafac0,#fef9bc,#fdf2b0,#fdeda7,#fce9a0,#fce79d,#fce89f,#fceca5,#fdefab,#fdf0ad)"></i>
<i style="height:1px;background:linear-gradient(90deg,#eb7c15,#ec811a,#f0942b,#f4ad47,#f8c567,#fad882,#fce59a,#fceca5,#fceba4,#fce396,#fbd883,#fad178,#fad177,#fad57d,#fbdf8f,#fdf0ad,#f7fac0,#e4f5bb,#dff3b9,#e0f4b9,#daf2b7,#d3f0b5,#d1efb4,#cbeeb2,#b1e5ae,#8ad8ac,#69ceac,#59c9ac,#51c7ac,#52c7ac,#61ccac,#7fd5ac,#a1e0ad,#bde9af,#cbeeb2,#c6ecb0,#b4e6af,#9bdead,#76d2ac,#46c4ac,#13b4ae,#0ea8af,#0ba0b0,#0d9bb1,#0ca1b0,#10adaf,#3ac0ad,#94dbac,#dff3b9,#fef9bd,#fceca6,#fce9a1,#fceaa2,#fce79d,#fbde8e,#fad67e,#fad278,#fad37a,#fbd984,#fce395,#fdf0ad,#f7fac0,#bee9af,#5fcbac,#11b0ae,#0ca3b0,#0fabaf,#47c4ac,#95dcac,#b1e5ae,#bfeab0,#d0efb4,#e2f4ba,#eff8bf,#f6fac0,#fcfbc0,#fdf6b7,#fdefab,#fceaa1,#fce69b,#fce599,#fce69c,#fceaa3,#fdeea9,#fdefab)"></i>
<i style="height:1px;background:linear-gradient(90deg,#ea7a13,#eb7e17,#ef9028,#f4a943,#f8c263,#fad57e,#fce498,#fceba5,#fceca6,#fce69b,#fbdc8b,#fad67f,#fad57e,#fbda86,#fce396,#fdf3b2,#f6fac0,#e3f4ba,#def3b9,#e0f4b9,#dcf2b8,#d6f1b6,#d6f1b6,#d0efb4,#b7e7af,#93dbac,#72d1ac,#61ccac,#58c9ac,#57c9ac,#63ccac,#7fd5ac,#9fdfad,#bae8af,#c9edb1,#c6ecb0,#b6e7af,#9ddead,#78d3ac,#47c4ac,#13b5ae,#0ea8af,#0c9fb0,#0e9ab1,#0ba0b0,#10acaf,#3bc1ad,#96dcac,#e1f4ba,#fef8ba,#fceaa2,#fce79e,#fce89e,#fce69b,#fbde8e,#fad780,#fad47b,#fad57e,#fbdc89,#fce59a,#fdf3b2,#f5f9c0,#bae8af,#5fcbac,#11b1ae,#0da5b0,#0facaf,#48c4ac,#95dcac,#b4e6af,#c5ecb0,#d6f1b6,#e6f5bc,#f3f9c0,#f8fac0,#fefbc0,#fdf3b2,#fceca5,#fce69c,#fce396,#fce295,#fce599,#fce9a0,#fdeda7,#fdeea9)"></i>
<i style="height:1px;background:linear-gradient(90deg,#ea7812,#ea7c15,#ee8d26,#f4a73f,#f7bf60,#fad37a,#fce395,#fceba4,#fdeda7,#fce89f,#fbe192,#fbdb88,#fbdb87,#fbdf8e,#fce79e,#fef6b8,#f5f9c0,#e2f4ba,#def3b9,#e1f4ba,#def3b9,#daf2b7,#dbf2b8,#d7f1b6,#bfeab0,#9bdead,#7bd4ac,#6bcfac,#60ccac,#5ccaac,#66cdac,#7ed5ac,#9ddead,#b7e7af,#c7edb1,#c6ecb0,#b7e7af,#9fdfad,#7ad3ac,#49c5ac,#13b5ae,#0ea8af,#0c9db1,#0e98b2,#0b9fb0,#10acaf,#3cc1ad,#98ddac,#e2f4ba,#fef7b9,#fce9a0,#fce69b,#fce69c,#fce599,#fbde8e,#fad882,#fad57e,#fad882,#fbde8d,#fce89e,#fdf6b6,#f3f9c0,#b7e7af,#5fcbac,#12b2ae,#0da6af,#10adaf,#48c4ac,#95dcac,#b7e7af,#cbeeb2,#dcf2b8,#ebf7bd,#f5f9c0,#fafac0,#fef9bc,#fdf0ad,#fce9a0,#fce397,#fbe091,#fbe091,#fce396,#fce79d,#fceba5,#fdeda7)"></i>
<i style="height:1px;background:linear-gradient(90deg,#e97710,#ea7a13,#ee8b23,#f3a43b,#f7bd5c,#fad177,#fbe193,#fceba4,#fdeea9,#fceba4,#fce599,#fbe092,#fbe091,#fce497,#fceca6,#fefabe,#f4f9c0,#e1f4ba,#def3b9,#e2f4ba,#e0f4b9,#def3b9,#e1f4ba,#def3b9,#c7edb1,#a4e1ad,#87d7ac,#75d2ac,#6aceac,#63ccac,#69ceac,#7ed5ac,#9bdead,#b4e6af,#c5ecb0,#c6ecb0,#b9e8af,#a1e0ad,#7dd4ac,#4bc5ac,#14b5ae,#0ea8af,#0d9cb1,#0f96b2,#0c9db1,#0fabaf,#3dc1ad,#9addad,#e3f5ba,#fef6b8,#fce89e,#fce498,#fce599,#fce497,#fbde8e,#fbd984,#fad781,#fbda86,#fbe091,#fceaa2,#fef8bb,#f0f8bf,#b5e7af,#5fcbac,#12b3ae,#0ea8af,#11afaf,#49c5ac,#95dcac,#bbe8af,#d1efb4,#e2f4ba,#f0f8bf,#f7fac0,#fcfbc0,#fdf6b7,#fdeda8,#fce69b,#fbe091,#fbdd8c,#fbde8d,#fbe193,#fce69b,#fceaa2,#fceba5)"></i>
<i style="height:1px;background:linear-gradient(90deg,#e97610,#ea7811,#ed8821,#f3a138,#f6ba59,#f9cf75,#fbe091,#fceba4,#fdefab,#fdeea9,#fce9a1,#fce69b,#fce69a,#fce9a1,#fdf1ae,#fcfbc0,#f2f9bf,#e0f4b9,#dff3b9,#e3f4ba,#e3f5ba,#e3f4ba,#e7f6bc,#e5f5bb,#d0efb4,#ade4ae,#93dbac,#81d6ac,#74d1ac,#6acfac,#6dcfac,#7ed5ac,#99ddac,#b1e5ae,#c3ebb0,#c5ecb0,#bae8af,#a4e1ad,#7fd5ac,#4ec6ac,#16b6ae,#0ea8af,#0d9cb1,#1095b2,#0d9bb1,#0fabaf,#3ec1ad,#9bdead,#e4f5bb,#fef6b8,#fce79d,#fce396,#fce396,#fce396,#fbde8e,#fbda86,#fbd984,#fbdc8a,#fce295,#fdeca6,#fefabf,#ecf7be,#b3e6af,#61ccac,#13b5ae,#0fabaf,#11b0ae,#4ac5ac,#94dbac,#beeaaf,#d7f1b6,#e8f6bc,#f4f9c0,#f9fac0,#fefbc0,#fdf2b1,#fceaa2,#fce395,#fbdd8b,#fbdb87,#fbdc89,#fbdf90,#fce498,#fce8a0,#fceaa2)"></i>
<i style="height:1px;background:linear-gradient(90deg,#e9760f,#e97710,#ed861f,#f29e36,#f6b855,#f9cd72,#fbdf8f,#fceba4,#fdf0ad,#fdf0ad,#fdeda8,#fceba4,#fceba4,#fdeeaa,#fdf6b7,#fafac0,#eff8be,#e0f4b9,#dff3b9,#e4f5bb,#e6f5bc,#e8f6bc,#eef8be,#edf7be,#d9f2b7,#b8e8af,#9edfad,#8edaac,#7fd5ac,#73d1ac,#71d1ac,#7fd5ac,#97dcac,#aee4ae,#c0eab0,#c5ecb0,#bce9af,#a6e1ae,#82d6ac,#51c7ac,#18b7ae,#0ea8af,#0d9bb1,#1193b3,#0e9ab1,#0faaaf,#3ec1ad,#9cdead,#e3f5bb,#fef7b8,#fce79d,#fce294,#fbe294,#fbe294,#fbdf8e,#fbdb88,#fbdb87,#fbde8d,#fce498,#fdeea9,#fdfbc0,#e9f6bd,#b1e5ae,#63ccac,#19b7ae,#10adaf,#12b2ae,#4cc5ac,#94dbac,#c1ebb0,#def3b9,#eff8bf,#f6fac0,#fbfac0,#fef8ba,#fdefab,#fce79d,#fbdf90,#fbda86,#fad882,#fbd985,#fbde8c,#fce395,#fce79d,#fce9a0)"></i>
<i style="height:1px;background:linear-gradient(90deg,#e9760f,#e97610,#ec851d,#f29c33,#f6b552,#f9cb70,#fbde8d,#fceba5,#fdf2b0,#fdf3b2,#fdf2b0,#fdf0ad,#fdf1ae,#fdf4b4,#fefbbf,#f8fac0,#ecf7bd,#e0f4b9,#e0f4b9,#e6f5bc,#eaf6bd,#eef8be,#f4f9c0,#f4f9c0,#e2f4ba,#c3ebb0,#aae3ae,#9adead,#8bd9ac,#7cd4ac,#76d2ac,#80d5ac,#95dcac,#abe3ae,#beeaaf,#c5ecb0,#beeaaf,#a8e2ae,#85d7ac,#54c8ac,#1bb7ae,#0ea8af,#0e9ab1,#1192b3,#0e98b2,#0faaaf,#3ec2ad,#9cdead,#e3f4ba,#fef7b9,#fce79d,#fbe193,#fbe192,#fbe193,#fbdf8f,#fbdc8a,#fbdc8a,#fbe090,#fce69b,#fdf0ac,#fcfbc0,#e6f5bc,#b0e5ae,#66cdac,#21b9ae,#11b0ae,#13b4ae,#4ec6ac,#94dcac,#c5ecb0,#e5f5bb,#f4f9c0,#f8fac0,#fdfbc0,#fdf4b4,#fdeca6,#fce498,#fbdc8a,#fad680,#fad57d,#fad781,#fbdc89,#fbe193,#fce69b,#fce89e)"></i>
<i style="height:1px;background:linear-gradient(90deg,#e97610,#e9760f,#ec831c,#f19a32,#f5b34f,#f9ca6e,#fbde8c,#fceca6,#fdf4b3,#fef6b8,#fef6b8,#fdf6b7,#fef6b8,#fefabe,#fbfac0,#f5f9c0,#e9f6bc,#dff3b9,#e1f4ba,#e8f6bc,#eef8be,#f3f9c0,#f7fac0,#f8fac0,#edf7be,#cfefb3,#b6e7af,#a6e2ae,#97dcac,#85d7ac,#7cd4ac,#81d5ac,#93dbac,#a9e2ae,#bce9af,#c5ecb0,#c0eab0,#abe3ae,#88d8ac,#57c9ac,#1eb8ae,#0ea8af,#0e9ab1,#1290b3,#0f97b2,#0ea9af,#3fc2ad,#9ddead,#e2f4ba,#fef8bb,#fce89e,#fbe193,#fbe091,#fbe192,#fbdf8f,#fbde8d,#fbde8d,#fbe193,#fce79d,#fdf1af,#fbfac0,#e4f5bb,#b0e5ae,#69ceac,#29bbad,#12b3ae,#19b7ae,#51c7ac,#95dcac,#c9edb1,#ebf7bd,#f7fac0,#fafac0,#fef9bd,#fdf1ae,#fce9a0,#fbe192,#fbd984,#fad37a,#fad279,#fad57d,#fbda86,#fbe090,#fce498,#fce69c)"></i>
<i style="height:1px;background:linear-gradient(90deg,#e97710,#e9760f,#ec821b,#f19830,#f5b14d,#f8c86c,#fbdd8c,#fdeda7,#fdf6b7,#fefabd,#fefbbf,#fefbc0,#fdfbc0,#fbfac0,#f8fac0,#f3f9c0,#e6f5bc,#dff3b9,#e3f4ba,#eaf7bd,#f2f9c0,#f6fac0,#fafac0,#fcfbc0,#f5f9c0,#dbf2b8,#c3ebb0,#b3e6af,#a2e0ad,#90daac,#82d6ac,#83d6ac,#92dbac,#a6e2ae,#bae8af,#c5ecb0,#c2ebb0,#aee4ae,#8cd9ac,#5bcaac,#22b9ae,#0ea9af,#0e99b1,#128fb4,#0f96b2,#0ea9af,#3fc2ad,#9ddead,#e1f4ba,#fef9bd,#fce89f,#fbe193,#fbe090,#fbe091,#fbe090,#fbdf8f,#fbe090,#fce395,#fce9a0,#fdf3b1,#fafac0,#e2f4ba,#afe5ae,#6dcfac,#32bead,#16b6ae,#22b9ae,#54c8ac,#96dcac,#cdeeb3,#f2f9c0,#f9fac0,#fdfbc0,#fef6b8,#fdeea9,#fce59a,#fbdd8c,#fad57e,#fad076,#f9cf75,#fad379,#fbd883,#fbde8d,#fce396,#fce599)"></i>
<i style="height:1px;background:linear-gradient(90deg,#ea7711,#e9760f,#ec821b,#f0972e,#f5af4b,#f8c76a,#fbdd8c,#fdeeaa,#fef8bb,#fdfbc0,#fbfbc0,#fbfac0,#f9fac0,#f8fac0,#f4f9c0,#edf7be,#e4f5bb,#e0f3b9,#e4f5bb,#edf7be,#f4f9c0,#f9fac0,#fefbc0,#fef8bc,#f9fac0,#e7f6bc,#d0efb4,#c0eab0,#aee4ae,#99ddac,#89d8ac,#85d7ac,#90daac,#a4e1ad,#b8e8af,#c5ecb0,#c3ebb0,#b1e5ae,#90daac,#5fcbac,#26baad,#0faaaf,#0e99b1,#128fb4,#1095b2,#0ea9af,#40c2ad,#9ddead,#e0f4b9,#fefbbf,#fce9a1,#fbe193,#fbdf90,#fbe091,#fbe091,#fbe192,#fbe193,#fce498,#fceaa2,#fdf4b3,#f9fac0,#e0f4b9,#afe5ae,#71d1ac,#3bc0ad,#21b9ae,#2cbcad,#58c9ac,#97dcac,#d1efb4,#f5f9c0,#fcfbc0,#fefabe,#fdf3b2,#fceaa3,#fbe294,#fbda86,#fad279,#f9cd72,#f9cd72,#fad177,#fad680,#fbdd8b,#fbe193,#fce497)"></i>
<i style="height:1px;background:linear-gradient(90deg,#ea7812,#e97610,#ec811a,#f0952d,#f5ae49,#f8c769,#fbde8d,#fdf0ad,#fefbc0,#fafac0,#f8fac0,#f7fac0,#f6fac0,#f4f9c0,#eff8be,#e7f6bc,#e1f4ba,#e0f4b9,#e5f5bb,#eff8bf,#f6fac0,#fbfbc0,#fdf6b7,#fdf2b0,#fefbc0,#f3f9c0,#def3b9,#cdeeb3,#b9e8af,#a2e0ad,#90daac,#88d8ac,#90daac,#a2e0ad,#b7e7af,#c5ecb0,#c5ecb0,#b4e6af,#94dbac,#64cdac,#2abcad,#0faaaf,#0e9ab1,#138eb4,#1094b3,#0ea8af,#40c2ad,#9ddead,#def3b9,#fdfbc0,#fceba3,#fbe294,#fbdf90,#fbe091,#fbe193,#fce294,#fce396,#fce59a,#fceba4,#fdf5b5,#f8fac0,#def3b9,#b0e5ae,#76d2ac,#44c3ad,#2dbdad,#36bfad,#5ccaac,#99ddad,#d5f1b6,#f8fac0,#fefabe,#fef7b9,#fdf0ad,#fce79d,#fbde8e,#fad680,#f9cf74,#f9ca6e,#f9ca6e,#f9cf74,#fad57d,#fbdb88,#fbe091,#fce395)"></i>
<i style="height:1px;background:linear-gradient(90deg,#ea7a13,#ea7711,#ec811a,#f0952c,#f4ad47,#f8c669,#fbdf8f,#fdf2b1,#fcfbc0,#f8fac0,#f5f9c0,#f3f9c0,#f1f8bf,#ecf7be,#e7f5bc,#e1f4ba,#dff3b9,#e0f4b9,#e7f6bc,#f2f9c0,#f8fac0,#fefbc0,#fdf0ad,#fceba5,#fdf3b2,#f9fac0,#ebf7bd,#daf2b7,#c6ecb0,#ace3ae,#97dcac,#8bd9ac,#90daac,#a1e0ad,#b5e7af,#c5ecb0,#c7edb1,#b7e7af,#98ddac,#6aceac,#30bdad,#0fabaf,#0d9ab1,#138fb4,#1094b3,#0ea9af,#41c2ad,#9ddead,#dcf3b8,#fcfbc0,#fdeca6,#fce396,#fbe090,#fbe091,#fce294,#fce497,#fce599,#fce69c,#fceca5,#fdf6b7,#f8fac0,#ddf3b8,#b0e5ae,#7bd4ac,#4ec6ac,#39c0ad,#40c2ad,#61ccac,#9cdead,#daf2b7,#fbfac0,#fef6b7,#fdf4b3,#fdeda8,#fce498,#fbdb88,#fad379,#f9cb70,#f8c76a,#f8c76b,#f9cd71,#fad37a,#fbda86,#fbdf8f,#fbe193)"></i>
<i style="height:1px;background:linear-gradient(90deg,#ea7b14,#ea7812,#ec811a,#f0942c,#f4ac47,#f8c669,#fbe192,#fdf5b6,#fafac0,#f5f9c0,#f0f8bf,#ebf7bd,#e7f6bc,#e3f4ba,#dff3b9,#dcf2b8,#dcf3b8,#e0f4ba,#e9f6bc,#f4f9c0,#fafac0,#fef6b8,#fceba3,#fce599,#fceba5,#fefbbf,#f5f9c0,#e7f6bc,#d1efb4,#b6e7af,#9ddfad,#8fdaac,#90daac,#a0dfad,#b5e6af,#c5ecb0,#c9edb1,#bae8af,#9ddead,#70d0ac,#36bfad,#10adaf,#0d9cb1,#128fb4,#1094b3,#0ea9af,#42c3ad,#9ddead,#dbf2b7,#fbfac0,#fdeea9,#fce498,#fbe092,#fbe193,#fce397,#fce59a,#fce69b,#fce89e,#fdeda7,#fef6b8,#f7fac0,#dcf3b8,#b1e5ae,#80d5ac,#57c9ac,#45c3ac,#4ac5ac,#67ceac,#a0dfad,#dff3b9,#fefbc0,#fdf2b1,#fdf1ae,#fceaa3,#fbe192,#fad782,#f9cf75,#f8c86b,#f8c465,#f8c567,#f9cb6f,#fad178,#fbd883,#fbde8c,#fbe091)"></i>
<i style="height:1px;background:linear-gradient(90deg,#eb7c16,#ea7a13,#ec821b,#f0942c,#f4ac46,#f8c76a,#fce396,#fef9bc,#f7fac0,#eff8bf,#e8f6bc,#e2f4ba,#def3b9,#daf2b7,#d7f1b6,#d7f1b6,#daf2b7,#e1f4ba,#ebf7bd,#f5f9c0,#fcfbc0,#fdf2b0,#fce599,#fbde8d,#fce397,#fdf2b0,#fbfac0,#f4f9c0,#ddf3b8,#c0eab0,#a4e1ad,#93dbac,#91daac,#9fdfad,#b4e6af,#c6ecb0,#cbeeb2,#beeaaf,#a2e0ad,#76d2ac,#3cc1ad,#10aeaf,#0c9db1,#1290b3,#1095b2,#0fa9af,#44c3ad,#9ddead,#d9f2b7,#fafac0,#fdf0ac,#fce59a,#fbe294,#fce294,#fce599,#fce79d,#fce89e,#fce8a0,#fdeda8,#fef7b9,#f7fac0,#dcf3b8,#b3e6af,#85d7ac,#60cbac,#51c7ac,#55c8ac,#6ed0ac,#a4e1ad,#e4f5bb,#fef8ba,#fdefab,#fdeea9,#fce89e,#fbde8d,#fad47b,#f9cc70,#f8c467,#f7c061,#f8c263,#f8c86c,#fad076,#fad781,#fbdc8a,#fbdf8f)"></i>
<i style="height:1px;background:linear-gradient(90deg,#eb7e17,#ea7b14,#ec831c,#f0942c,#f4ac47,#f8c86b,#fce69b,#fdfbc0,#f4f9c0,#e7f6bc,#dff3b9,#d9f2b7,#d5f0b5,#d1efb4,#cfefb4,#d2f0b4,#d8f1b7,#e2f4ba,#edf7be,#f6fac0,#fefbc0,#fdeea9,#fbdf8f,#fad780,#fbdb88,#fce9a0,#fef6b8,#f9fac0,#e8f6bc,#caedb2,#ace3ae,#97dcac,#93dbac,#9fdfad,#b4e6af,#c7edb1,#cdeeb3,#c2ebb0,#a7e2ae,#7ed4ac,#44c3ad,#11b0af,#0b9fb0,#1192b3,#0f97b2,#0faaaf,#46c4ac,#9ddfad,#d7f1b6,#f8fac0,#fdf2b0,#fce79d,#fce396,#fce497,#fce79c,#fce9a0,#fce9a0,#fce9a1,#fdeea9,#fef7ba,#f7fac0,#dcf2b8,#b4e6af,#8bd8ac,#69ceac,#5ccaac,#60cbac,#76d2ac,#a9e3ae,#e9f6bd,#fdf4b4,#fceba5,#fceba4,#fce59a,#fbdb88,#fad177,#f8c86b,#f7c161,#f7bd5c,#f7bf5f,#f8c669,#f9cf74,#fad67f,#fbdb89,#fbde8e)"></i>
<i style="height:1px;background:linear-gradient(90deg,#eb7f18,#eb7d16,#ec841d,#f0952d,#f4ad48,#f9ca6e,#fceaa1,#f9fac0,#ebf7bd,#ddf3b8,#d5f1b6,#d0efb4,#cbeeb2,#c9edb1,#c8edb1,#cdeeb3,#d6f1b6,#e2f4ba,#eff8be,#f7fac0,#fef9bc,#fce9a1,#fbd985,#fad076,#fad37a,#fbe090,#fdeda8,#fefbbf,#f3f9c0,#d3f0b5,#b3e6af,#9bdead,#95dcac,#a0e0ad,#b5e7af,#c8edb1,#cfefb4,#c6ecb0,#ade4ae,#86d7ac,#4cc6ac,#12b2ae,#0ba1b0,#1094b3,#0e99b2,#0fabaf,#49c5ac,#9edfad,#d5f1b6,#f7fac0,#fdf4b4,#fce9a1,#fce59a,#fce59a,#fce8a0,#fceba4,#fceaa3,#fceaa2,#fdeea9,#fef8ba,#f6fac0,#dcf3b8,#b6e7af,#90daac,#71d1ac,#66cdac,#6aceac,#7fd5ac,#b0e5ae,#eff8bf,#fdf0ad,#fce89f,#fce8a0,#fce396,#fbd883,#f9ce73,#f8c466,#f7bd5c,#f6b957,#f7bc5b,#f8c466,#f9cd72,#fad47c,#fbda87,#fbdd8c)"></i>
<i style="height:1px;background:linear-gradient(90deg,#eb8019,#eb7f18,#ed861f,#f0972e,#f5af49,#f9cc71,#fdeea9,#f6fac0,#e1f4ba,#d3f0b5,#cceeb2,#c7ecb1,#c2ebb0,#c0eab0,#c1ebb0,#c8edb1,#d5f0b5,#e3f4ba,#f1f8bf,#f9fac0,#fdf6b7,#fce59a,#fad47b,#f9ca6e,#f9cc70,#fad680,#fce498,#fdf2b1,#f8fac0,#ddf3b8,#bbe9af,#a0e0ad,#97dcac,#a2e0ad,#b6e7af,#c9edb1,#d2f0b4,#caedb2,#b3e6af,#8fdaac,#55c8ac,#13b4ae,#0ca3b0,#0f97b2,#0d9bb1,#10acaf,#4cc6ac,#9edfad,#d4f0b5,#f6fac0,#fef6b8,#fceca6,#fce79e,#fce89e,#fceba4,#fdeda7,#fceca5,#fceba3,#fdeeaa,#fef8bb,#f6fac0,#ddf3b8,#b9e8af,#95dcac,#79d3ac,#70d0ac,#74d2ac,#89d8ac,#b7e7af,#f4f9c0,#fdeda8,#fce59a,#fce69b,#fbe192,#fad67f,#f9cb6f,#f7c061,#f6b856,#f6b552,#f6b957,#f8c263,#f9cc70,#fad37a,#fbda85,#fbdd8b)"></i>
<i style="height:1px;background:linear-gradient(90deg,#ec811a,#ec801a,#ed8821,#f19830,#f5b04c,#f9cf74,#fdf3b2,#f0f8bf,#d6f1b6,#c8edb1,#c2ebb0,#bde9af,#b8e8af,#b7e7af,#bae8af,#c4ecb0,#d3f0b5,#e4f5bb,#f3f9c0,#fafac0,#fdf3b2,#fbe193,#f9cf75,#f8c466,#f8c467,#f9ce73,#fbdb88,#fceaa2,#fdfbc0,#e7f6bc,#c3ebb0,#a6e1ad,#9adead,#a4e1ad,#b8e8af,#cbeeb2,#d4f0b5,#ceefb3,#bae8af,#97dcac,#5fcbac,#18b6ae,#0da5b0,#0e9ab1,#0c9eb0,#10aeaf,#50c7ac,#9fdfad,#d2f0b5,#f5f9c0,#fef9bc,#fdefaa,#fceaa2,#fceaa3,#fdeda8,#fdefab,#fdeda7,#fceba4,#fdeeaa,#fef8bb,#f6fac0,#def3b9,#bbe9af,#9addad,#81d6ac,#7ad3ac,#7fd5ac,#94dbac,#bfeab0,#f7fac0,#fceaa2,#fce396,#fce498,#fbdf8f,#fad47b,#f8c86b,#f7bc5c,#f5b451,#f5b14d,#f6b653,#f7c061,#f9ca6e,#fad279,#fbd984,#fbdc8a)"></i>
<i style="height:1px;background:linear-gradient(90deg,#ec831b,#ec831b,#ee8a23,#f19a32,#f5b24f,#fad279,#fef9bc,#e5f5bb,#caedb2,#bce9af,#b7e7af,#b3e6af,#afe4ae,#aee4ae,#b4e6af,#c0eab0,#d2f0b5,#e4f5bb,#f4f9c0,#fbfac0,#fdf0ad,#fbdd8c,#f9ca6e,#f7be5e,#f7bd5d,#f8c669,#fad279,#fbe294,#fdf6b7,#f1f8bf,#cbeeb2,#abe3ae,#9edfad,#a7e2ae,#bae8af,#cdeeb3,#d7f1b6,#d3f0b5,#c1ebb0,#9fdfad,#69ceac,#21b9ae,#0ea8af,#0c9eb0,#0ba1b0,#11b0ae,#55c8ac,#a0dfad,#d1efb4,#f4f9c0,#fefbc0,#fdf1af,#fdeda7,#fdeda8,#fdf0ad,#fdf1af,#fdeeaa,#fceba5,#fdefaa,#fef8bb,#f7fac0,#dff3b9,#beeaaf,#9edfad,#89d8ac,#83d6ac,#89d8ac,#9ddead,#c8edb1,#f9fac0,#fce79d,#fbe192,#fce294,#fbdd8c,#fad278,#f8c567,#f6b856,#f5af4b,#f4ad48,#f5b34f,#f7be5e,#f9c96d,#fad178,#fbd883,#fbdc89)"></i>
<i style="height:1px;background:linear-gradient(90deg,#ec841c,#ec851e,#ee8d25,#f29d34,#f6b552,#fad680,#fcfbc0,#d9f2b7,#bde9af,#b0e5ae,#ace3ae,#a9e2ae,#a5e1ad,#a6e1ae,#ade4ae,#bde9af,#d1efb4,#e5f5bb,#f4f9c0,#fcfbc0,#fdeda8,#fbd985,#f8c668,#f6b856,#f6b654,#f7bf5f,#f9cb6f,#fbda86,#fdefab,#f6fac0,#d3f0b5,#b1e5ae,#a2e0ad,#aae3ae,#bde9af,#cfefb3,#d9f2b7,#d8f1b6,#c8edb1,#a8e2ae,#73d1ac,#2cbcad,#0faaaf,#0ca1b0,#0ca4b0,#12b2ae,#5ac9ac,#a1e0ad,#d0efb4,#f2f9c0,#fcfbc0,#fdf4b4,#fdf0ad,#fdf0ad,#fdf3b1,#fdf3b3,#fdefac,#fceca6,#fdefaa,#fef8bb,#f7fac0,#e0f4b9,#c1ebb0,#a3e0ad,#90daac,#8cd9ac,#94dbac,#a7e2ae,#d1efb4,#fcfbc0,#fce498,#fbdf8e,#fbe091,#fbdc89,#fad076,#f8c263,#f5b451,#f4ab45,#f4a942,#f5b04b,#f7bc5b,#f8c86b,#fad177,#fad882,#fbdb88)"></i>
<i style="height:1px;background:linear-gradient(90deg,#ec851e,#ed8720,#ef8f27,#f29f37,#f6b856,#fbdb88,#f7fac0,#cceeb3,#afe5ae,#a3e0ad,#a0e0ad,#9fdfad,#9cdead,#9edfad,#a8e2ae,#b9e8af,#d0efb4,#e6f5bb,#f5f9c0,#fdfbc0,#fceba4,#fad67f,#f7c162,#f5b24e,#f5af4a,#f6b755,#f8c365,#fad279,#fce89f,#fafac0,#daf2b7,#b7e7af,#a6e2ae,#ade4ae,#c0eab0,#d1efb4,#dcf2b8,#dcf3b8,#cfefb4,#b0e5ae,#7ed5ac,#37bfad,#10adaf,#0da4b0,#0ea7af,#13b4ae,#5fcbac,#a3e1ad,#d0efb4,#eff8bf,#fbfac0,#fef7ba,#fdf3b3,#fdf3b3,#fdf6b6,#fdf6b7,#fdf1ae,#fdeca6,#fdefaa,#fef8bb,#f7fac0,#e2f4ba,#c4ecb0,#a7e2ae,#96dcac,#94dbac,#9cdead,#b1e5ae,#daf2b7,#fefabe,#fbe293,#fbdd8b,#fbdf8f,#fbda87,#f9cf74,#f7bf60,#f5b04b,#f4a73f,#f3a63d,#f4ad47,#f6ba58,#f8c669,#fad076,#fad781,#fbdb87)"></i>
<i style="height:1px;background:linear-gradient(90deg,#ed861f,#ed8922,#ef922a,#f3a239,#f6bb5a,#fbe091,#f3f9c0,#bfeab0,#a1e0ad,#96dcac,#95dcac,#95dcac,#94dbac,#96dcac,#a2e0ad,#b6e7af,#cfefb4,#e7f5bc,#f6fac0,#fefabe,#fce89f,#fad279,#f7bd5d,#f4ad47,#f4a941,#f5b04b,#f7bc5b,#f9cc70,#fbe293,#fdfbc0,#e2f4ba,#bde9af,#abe3ae,#b1e5ae,#c3ebb0,#d3f0b5,#dff3b9,#e1f4ba,#d6f1b6,#b9e8af,#89d8ac,#43c3ad,#11b0ae,#0ea8af,#0faaaf,#1bb7ae,#65cdac,#a5e1ad,#cfefb4,#edf7be,#f9fac0,#fefbbf,#fef7b9,#fef7b9,#fef9bc,#fef8ba,#fdf2b0,#fdeda7,#fdefaa,#fef8ba,#f7fac0,#e3f5bb,#c7edb1,#ace3ae,#9cdead,#9adead,#a5e1ad,#bce9af,#e4f5bb,#fdf6b7,#fbdf8f,#fbdb88,#fbde8d,#fbd985,#f9cd73,#f7bd5c,#f4ac46,#f3a239,#f3a239,#f4aa43,#f6b856,#f8c567,#f9cf75,#fad781,#fbda87)"></i>
<i style="height:1px;background:linear-gradient(90deg,#ed8720,#ee8c24,#f0952d,#f3a53d,#f7be5e,#fce59a,#e8f6bc,#b1e5ae,#92dbac,#86d7ac,#89d8ac,#8bd8ac,#89d8ac,#8edaac,#9ddead,#b3e6af,#ceefb3,#e7f6bc,#f7fac0,#fef8bb,#fce69b,#f9cf75,#f6b957,#f4a73f,#f3a239,#f4a941,#f6b552,#f8c668,#fbdb88,#fef6b8,#e9f6bd,#c4ecb0,#b0e5ae,#b5e7af,#c6ecb1,#d6f1b6,#e2f4ba,#e6f5bc,#def3b9,#c3ebb0,#94dcac,#4fc6ac,#12b4ae,#0fabaf,#10adaf,#26baad,#6ccfac,#a8e2ae,#cfefb4,#ebf7bd,#f8fac0,#fcfbc0,#fefabf,#fefabf,#fefbc0,#fefabe,#fdf3b2,#fdeda8,#fdefab,#fef8ba,#f7fac0,#e5f5bb,#caedb2,#b0e5ae,#a1e0ad,#a1e0ad,#ade4ae,#c7edb1,#eef8be,#fdf2b0,#fbdd8c,#fbda86,#fbdd8b,#fbd884,#f9cc71,#f6ba59,#f4a841,#f29e35,#f29e35,#f4a740,#f6b653,#f8c466,#f9cf74,#fad680,#fbda86)"></i>
<i style="height:1px;background:linear-gradient(90deg,#ed8821,#ef8e27,#f19830,#f4a841,#f7c263,#fceba4,#ddf3b8,#a3e0ad,#81d5ac,#77d2ac,#7cd4ac,#80d5ac,#80d5ac,#86d7ac,#98ddac,#b1e5ae,#ceeeb3,#e8f6bc,#f8fac0,#fef6b8,#fce397,#f9cd72,#f6b552,#f3a239,#f19b33,#f3a239,#f5af4a,#f7c061,#fad57e,#fdf1af,#f1f8bf,#caedb2,#b5e7af,#bae8af,#caedb2,#d9f2b7,#e5f5bb,#ecf7bd,#e5f5bb,#cbeeb2,#9edfad,#5ccaac,#1bb7ae,#11afaf,#11b1ae,#31bead,#73d1ac,#abe3ae,#d0efb4,#eaf6bd,#f6fac0,#fafac0,#fcfbc0,#fcfbc0,#fcfbc0,#fdfbc0,#fdf4b5,#fdeea8,#fdefab,#fef8bb,#f8fac0,#e7f6bc,#cdeeb3,#b4e6af,#a6e2ae,#a7e2ae,#b6e7af,#d1efb4,#f5f9c0,#fdeda8,#fbdb88,#fbd984,#fbdc89,#fad882,#f9cb70,#f6b856,#f3a43c,#f19a31,#f19a32,#f3a53d,#f6b451,#f8c365,#f9ce74,#fad680,#fbda86)"></i>
<i style="height:1px;background:linear-gradient(90deg,#ed8922,#ef9129,#f19b33,#f4ab45,#f8c568,#fdf0ad,#d1efb4,#95dcac,#6fd0ac,#67ceac,#6fd0ac,#76d2ac,#77d2ac,#7fd5ac,#94dbac,#afe4ae,#cdeeb3,#e9f6bc,#f8fac0,#fdf4b5,#fbe193,#f9ca6e,#f5b24e,#f29d34,#f0952d,#f19b32,#f4a941,#f6ba59,#fad076,#fceca6,#f5f9c0,#d0efb4,#bbe8af,#bfeaaf,#ceeeb3,#dcf2b8,#e8f6bc,#f1f8bf,#edf7be,#d4f0b5,#a8e2ae,#68ceac,#29bbad,#12b2ae,#13b5ae,#3ec1ad,#7bd4ac,#aee4ae,#d1efb4,#e9f6bc,#f5f9c0,#f9fac0,#fafac0,#fafac0,#fafac0,#fcfbc0,#fdf6b7,#fdeea9,#fdefab,#fef8bb,#f8fac0,#e8f6bc,#cfefb4,#b9e8af,#abe3ae,#ade4ae,#beeaaf,#dbf2b8,#f9fac0,#fce9a1,#fbd985,#fbd883,#fbdb88,#fad782,#f9cb6f,#f6b653,#f3a138,#f0962d,#f0972f,#f3a33a,#f5b34f,#f8c263,#f9ce73,#fad67f,#fbda86)"></i>
<i style="height:1px;background:linear-gradient(90deg,#ee8a23,#f0932b,#f29e36,#f5af4a,#f9c96d,#fef6b7,#c6ecb0,#84d6ac,#5ecbac,#58c9ac,#63ccac,#6ccfac,#6ed0ac,#78d3ac,#90daac,#ade4ae,#cdeeb3,#eaf6bd,#f9fac0,#fdf3b2,#fbdf8f,#f8c86b,#f5ae49,#f19830,#ef8f27,#f0952c,#f3a33a,#f6b553,#f9cc70,#fce79d,#f8fac0,#d5f1b6,#c0eab0,#c4ecb0,#d2f0b4,#dff3b9,#ecf7be,#f4f9c0,#f4f9c0,#ddf3b8,#b1e5ae,#74d2ac,#37bfad,#18b7ae,#21b9ae,#4bc5ac,#84d6ac,#b2e6af,#d3f0b5,#e8f6bc,#f4f9c0,#f7fac0,#f8fac0,#f8fac0,#f8fac0,#fafac0,#fef7b9,#fdefaa,#fdf0ac,#fef8bb,#f8fac0,#eaf6bd,#d2f0b5,#bde9af,#b0e5ae,#b3e6af,#c7ecb1,#e6f5bb,#fdfbc0,#fce59a,#fad883,#fad882,#fbdb88,#fad781,#f9ca6e,#f6b451,#f29e35,#ef922a,#f0942c,#f2a037,#f5b14d,#f7c162,#f9ce73,#fad67f,#fbda86)"></i>
<i style="height:1px;background:linear-gradient(90deg,#ee8b24,#f0962e,#f3a239,#f5b24e,#f9cd72,#fefbc0,#bae8af,#74d1ac,#4ec6ac,#4ac5ac,#58c9ac,#63ccac,#66cdac,#71d1ac,#8bd9ac,#abe3ae,#cceeb3,#eaf7bd,#fafac0,#fdf1af,#fbdd8c,#f8c668,#f4ab45,#f0932b,#ee8a22,#ef8f27,#f29d35,#f5b14c,#f8c86b,#fce395,#fafac0,#dbf2b8,#c5ecb0,#c8edb1,#d6f1b6,#e3f4ba,#f0f8bf,#f7fac0,#f7fac0,#e5f5bb,#bbe9af,#81d6ac,#45c3ac,#28bbad,#31bead,#58c9ac,#8dd9ac,#b7e7af,#d5f0b6,#e9f6bc,#f3f9c0,#f6f9c0,#f6fac0,#f6fac0,#f6fac0,#f9fac0,#fef8bb,#fdefac,#fdf0ad,#fef9bc,#f8fac0,#ebf7bd,#d5f1b6,#c1ebb0,#b5e7af,#bae8af,#cfefb3,#f0f8bf,#fef6b8,#fbe294,#fad780,#fad782,#fbdb88,#fad781,#f9ca6e,#f5b34f,#f19b32,#ef8f27,#ef9129,#f29e36,#f5b04b,#f7c161,#f9cd72,#fad67f,#fbda86)"></i>
<i style="height:1px;background:linear-gradient(90deg,#ee8c25,#f19830,#f3a53c,#f6b552,#fad177,#fafac0,#aee4ae,#64ccac,#3dc1ad,#3bc1ad,#4ec6ac,#5bcaac,#5fcbac,#6ccfac,#88d8ac,#a9e3ae,#cceeb2,#ebf7bd,#fbfac0,#fdf0ac,#fbdb88,#f8c466,#f4a941,#ef8f28,#ec851e,#ed8922,#f19830,#f4ad47,#f8c466,#fbdf8e,#fdfbc0,#e0f4ba,#caedb2,#cdeeb3,#daf2b7,#e6f5bc,#f3f9c0,#f9fac0,#fafac0,#eef8be,#c5ecb0,#8ed9ac,#54c8ac,#38c0ad,#41c2ad,#66cdac,#96dcac,#bce9af,#d8f1b6,#e9f6bd,#f3f9c0,#f4f9c0,#f5f9c0,#f4f9c0,#f5f9c0,#f8fac0,#fefabe,#fdf0ad,#fdf1ae,#fef9bd,#f8fac0,#edf7be,#d8f1b6,#c4ecb0,#bae8af,#c0eab0,#d6f1b6,#f6fac0,#fdf0ad,#fbde8e,#fad67f,#fad782,#fbdb88,#fad782,#f9ca6e,#f5b14d,#f19830,#ee8c24,#ef8f27,#f29d34,#f5af4a,#f7c061,#f9cd72,#fad67f,#fbda86)"></i>
<i style="height:1px;background:linear-gradient(90deg,#ee8d26,#f19b32,#f4a840,#f6b957,#fad57d,#f7fac0,#a3e0ad,#55c8ac,#2ebdad,#2fbdad,#44c3ad,#54c8ac,#59c9ac,#67cdac,#85d7ac,#a8e2ae,#cceeb2,#ecf7bd,#fbfac0,#fdeea9,#fbda86,#f8c264,#f3a63e,#ee8c24,#ec811a,#ec851e,#f0942c,#f4a942,#f7c161,#fbdb88,#fef9bd,#e6f5bb,#cfefb3,#d1efb4,#def3b9,#eaf6bd,#f5f9c0,#fbfac0,#fdfbc0,#f4f9c0,#ceeeb3,#99ddac,#62ccac,#48c4ac,#52c7ac,#74d1ac,#9fdfad,#c2ebb0,#dbf2b8,#ebf7bd,#f2f9c0,#f4f9c0,#f3f9c0,#f2f9c0,#f3f9c0,#f6fac0,#fefbc0,#fdf1af,#fdf2b0,#fefabe,#f8fac0,#eef7be,#daf2b7,#c8edb1,#bfeab0,#c6ecb0,#def3b9,#fafac0,#fceba3,#fbdb88,#fad57d,#fad882,#fbdb89,#fad883,#f9ca6e,#f5b14c,#f0962e,#ed8922,#ee8d25,#f19b33,#f5ae49,#f7c060,#f9cd72,#fad67f,#fbda86)"></i>
<i style="height:1px;background:linear-gradient(90deg,#ef8f27,#f29d34,#f4aa44,#f7bc5b,#fbd984,#f3f9c0,#98ddac,#46c4ac,#20b9ae,#23baae,#3bc1ad,#4dc6ac,#54c8ac,#63ccac,#82d6ac,#a7e2ae,#cceeb2,#ecf7be,#fcfbc0,#fdeda7,#fbd883,#f7c162,#f3a43b,#ed8921,#eb7d16,#ec811a,#ef9028,#f3a63e,#f7be5e,#fad882,#fef6b8,#eaf7bd,#d3f0b5,#d6f1b6,#e2f4ba,#eef8be,#f6fac0,#fdfbc0,#fef9bc,#f7fac0,#d6f1b6,#a3e1ad,#70d0ac,#59c9ac,#62ccac,#82d6ac,#a8e2ae,#c8edb1,#dff3b9,#edf7be,#f2f9c0,#f3f9c0,#f1f8bf,#eff8bf,#f0f8bf,#f5f9c0,#fdfbc0,#fdf2b1,#fdf3b2,#fefbc0,#f8fac0,#eff8be,#dcf3b8,#cbeeb2,#c4ecb0,#cceeb2,#e6f5bb,#fefbc0,#fce59a,#fad882,#fad47c,#fad883,#fbdc8a,#fbd984,#f9ca6e,#f5b04b,#f0942c,#ed8820,#ee8b24,#f19a32,#f5ae48,#f7bf60,#f9cd72,#fad680,#fbda86)"></i>
<i style="height:1px;background:linear-gradient(90deg,#ef9028,#f29f37,#f4ad48,#f7bf5f,#fbdd8b,#ecf7bd,#8dd9ac,#39c0ad,#14b5ae,#19b7ae,#34bead,#48c4ac,#50c7ac,#60cbac,#80d5ac,#a6e2ae,#cceeb2,#edf7be,#fcfbc0,#fceba5,#fad781,#f7c060,#f3a239,#ed861f,#ea7a13,#eb7e17,#ee8d25,#f3a33b,#f7bb5b,#fad57d,#fdf3b3,#eff8bf,#d8f1b7,#daf2b7,#e6f5bc,#f2f9c0,#f8fac0,#fef9bc,#fdf5b5,#fbfac0,#dff3b9,#aee4ae,#7fd5ac,#68ceac,#72d1ac,#91daac,#b2e5ae,#cfefb4,#e4f5bb,#f0f8bf,#f3f9c0,#f2f9c0,#eff8be,#ecf7be,#edf7be,#f4f9c0,#fcfbc0,#fdf4b3,#fdf4b4,#fdfbc0,#f7fac0,#eff8bf,#def3b9,#ceefb3,#c8edb1,#d1f0b4,#eef7be,#fef6b7,#fbe091,#fad57e,#fad47b,#fbd984,#fbdd8b,#fbda85,#f9cb6f,#f5b04b,#f0942b,#ed871f,#ee8b23,#f19a31,#f5ad48,#f7bf60,#f9cd72,#fad680,#fbda86)"></i>
<i style="height:1px;background:linear-gradient(90deg,#ef9129,#f3a239,#f5b04b,#f7c263,#fbe192,#e5f5bb,#82d6ac,#2dbcad,#12b3ae,#13b4ae,#2ebdad,#43c3ad,#4dc6ac,#5dcbac,#7ed5ac,#a6e1ae,#cbeeb2,#edf7be,#fdfbc0,#fceaa3,#fad67e,#f7bf5f,#f3a138,#ec851d,#ea7811,#ea7b15,#ee8b23,#f3a139,#f6ba58,#fad379,#fdf1af,#f3f9c0,#dcf2b8,#def3b9,#ebf7bd,#f4f9c0,#fafac0,#fdf5b6,#fdf1ae,#fdfbc0,#e7f6bc,#b8e7af,#8dd9ac,#78d3ac,#83d6ac,#9edfad,#bce9af,#d7f1b6,#eaf6bd,#f3f9c0,#f4f9c0,#f2f9c0,#edf7be,#eaf6bd,#eaf7bd,#f3f9c0,#fbfac0,#fdf5b6,#fdf6b7,#fcfbc0,#f7fac0,#eff8bf,#e0f4b9,#d1efb4,#cceeb3,#d7f1b6,#f4f9c0,#fdf1ae,#fbdb89,#fad37a,#fad47b,#fbda85,#fbde8d,#fbdb87,#f9cb70,#f5b04b,#f0932b,#ed861f,#ee8a23,#f19a31,#f5ae48,#f7c060,#f9cd72,#fad780,#fbda87)"></i>
<i style="height:1px;background:linear-gradient(90deg,#ef922a,#f3a43b,#f5b24e,#f8c567,#fce498,#def3b9,#79d3ac,#23baae,#11b0ae,#12b3ae,#2abbad,#41c2ad,#4bc5ac,#5ccaac,#7ed4ac,#a5e1ad,#cbeeb2,#eef8be,#fdfbc0,#fce9a1,#fad57d,#f7be5e,#f2a037,#ec841c,#e97610,#ea7a13,#ed8922,#f2a037,#f6b857,#fad178,#fdefab,#f4f9c0,#e0f4b9,#e2f4ba,#eff8be,#f6fac0,#fcfbc0,#fdf2b0,#fdeda7,#fef7ba,#eff8bf,#c2ebb0,#99ddac,#88d8ac,#93dbac,#abe3ae,#c7ecb1,#dff3b9,#f0f8bf,#f5f9c0,#f5f9c0,#f3f9c0,#edf7be,#e9f6bc,#e8f6bc,#f1f8bf,#fafac0,#fef7ba,#fef8ba,#fbfac0,#f6fac0,#eff8bf,#e1f4ba,#d4f0b5,#d1efb4,#def3b9,#f7fac0,#fceca5,#fad782,#fad177,#fad47b,#fbdb87,#fbe090,#fbdc8a,#f9cc71,#f5b04c,#f0932b,#ed861f,#ee8b23,#f19a32,#f5ae49,#f7c061,#f9ce73,#fad781,#fbdb87)"></i>
<i style="height:1px;background:linear-gradient(90deg,#f0942c,#f3a63d,#f6b551,#f8c76a,#fce89e,#d8f1b7,#71d0ac,#1bb7ae,#11afaf,#12b2ae,#27bbad,#3fc2ad,#4ac5ac,#5bcaac,#7dd4ac,#a5e1ad,#cbeeb2,#eef8be,#fefbc0,#fce89f,#fad47b,#f7bd5d,#f2a037,#ec831c,#e9760f,#ea7913,#ed8921,#f2a037,#f6b856,#fad076,#fdeda8,#f6f9c0,#e3f5ba,#e6f5bb,#f3f9c0,#f8fac0,#fefbc0,#fdefaa,#fce9a0,#fdf3b3,#f4f9c0,#cbeeb2,#a4e1ad,#97dcac,#a1e0ad,#b8e7af,#d1efb4,#e7f6bc,#f5f9c0,#f7fac0,#f6fac0,#f4f9c0,#eef8be,#e9f6bc,#e7f6bc,#eff8bf,#f9fac0,#fef9bd,#fefabe,#fafac0,#f5f9c0,#eef8be,#e2f4ba,#d7f1b6,#d5f1b6,#e4f5bb,#fafac0,#fce79d,#fad47b,#fad076,#fad47c,#fbdc8a,#fbe193,#fbde8d,#f9cd72,#f5b14d,#f0942c,#ed8720,#ee8c24,#f19b33,#f5af49,#f7c061,#f9ce73,#fad781,#fbdb88)"></i>
<i style="height:1px;background:linear-gradient(90deg,#f0952d,#f4a740,#f6b754,#f9c96d,#fceba4,#d3f0b5,#6aceac,#15b6ae,#10aeaf,#11b1ae,#25baad,#3ec2ad,#4ac5ac,#5ccaac,#7dd4ac,#a5e1ad,#cbeeb2,#eef8be,#fefbc0,#fce89e,#fad37a,#f7bd5d,#f2a037,#ec831c,#e97610,#ea7913,#ed8921,#f2a037,#f6b855,#fad075,#fdeca6,#f7fac0,#e6f5bc,#e9f6bd,#f4f9c0,#fafac0,#fef8ba,#fceba4,#fce69a,#fdf0ac,#f7fac0,#d3f0b5,#b0e5ae,#a3e1ad,#aee4ae,#c5ecb0,#dcf3b8,#f1f8bf,#f8fac0,#fafac0,#f8fac0,#f5f9c0,#f0f8bf,#e9f6bd,#e6f5bc,#edf7be,#f8fac0,#fefbc0,#fdfbc0,#f8fac0,#f4f9c0,#edf7be,#e3f4ba,#d9f2b7,#daf2b7,#eaf7bd,#fdfbc0,#fce395,#fad177,#f9cf74,#fad57d,#fbde8d,#fce396,#fbdf90,#f9cf74,#f5b34f,#f0962e,#ed8921,#ee8d25,#f29c34,#f5b04b,#f7c162,#f9ce74,#fad882,#fbdb88)"></i>
<i style="height:1px;background:linear-gradient(90deg,#f0962e,#f4a942,#f6b957,#f9cc70,#fdeea8,#ceefb3,#64cdac,#13b4ae,#10adaf,#11b1ae,#25baad,#3fc2ad,#4bc5ac,#5dcaac,#7ed5ac,#a5e1ad,#cbeeb2,#eff8be,#fefabf,#fce79d,#fad37a,#f7bd5d,#f2a037,#ec841d,#e97710,#ea7a14,#ee8a22,#f2a037,#f6b856,#f9cf75,#fceba5,#f8fac0,#e9f6bd,#ecf7be,#f6f9c0,#fbfbc0,#fdf5b5,#fce89f,#fce295,#fdeca6,#fafac0,#dcf2b8,#bae8af,#b0e5ae,#bce9af,#d1efb4,#e7f6bc,#f6fac0,#fbfbc0,#fdfbc0,#fafac0,#f6fac0,#f2f9c0,#eaf6bd,#e6f5bc,#ebf7bd,#f6fac0,#fcfbc0,#fbfac0,#f6fac0,#f2f9c0,#ecf7be,#e3f5ba,#dbf2b8,#def3b9,#f1f8bf,#fef8bb,#fbdf8e,#f9cf75,#f9ce73,#fad57e,#fbdf90,#fce59a,#fbe293,#fad076,#f6b451,#f19830,#ee8b23,#ef8f27,#f29e35,#f5b14c,#f8c263,#f9cf75,#fad883,#fbdb89)"></i>
<i style="height:1px;background:linear-gradient(90deg,#f19830,#f4ab44,#f6bb59,#f9ce73,#fdf0ad,#cbeeb2,#60cbac,#12b4ae,#10adaf,#11b1ae,#27bbad,#41c2ad,#4dc6ac,#5ecbac,#7fd5ac,#a5e1ad,#cbeeb2,#eff8bf,#fefabe,#fce69c,#fad379,#f7be5e,#f3a138,#ed851e,#ea7812,#eb7c15,#ee8b24,#f3a239,#f6b957,#fad076,#fceba4,#f8fac0,#ecf7bd,#eff8bf,#f7fac0,#fdfbc0,#fdf1af,#fce599,#fbdf90,#fce9a0,#fdfbc0,#e4f5bb,#c5ecb0,#bce9af,#c9edb1,#def3b9,#f3f9c0,#fafac0,#fefabd,#fef8bb,#fdfbc0,#f8fac0,#f4f9c0,#ecf7be,#e6f5bc,#eaf6bd,#f5f9c0,#fafac0,#f9fac0,#f5f9c0,#eff8bf,#ebf7bd,#e3f5bb,#ddf3b8,#e2f4ba,#f5f9c0,#fdf3b3,#fbdb88,#f9cd72,#f9ce73,#fad680,#fbe193,#fce89e,#fce497,#fad278,#f6b654,#f19b32,#ee8e26,#ef922a,#f2a037,#f5b24e,#f8c365,#f9d075,#fbd883,#fbdc89)"></i>
<i style="height:1px;background:linear-gradient(90deg,#f19a31,#f4ac46,#f7bc5c,#fad076,#fdf2b1,#c7edb1,#5ccaac,#12b3ae,#10adaf,#12b1ae,#29bbad,#43c3ad,#50c6ac,#61ccac,#80d5ac,#a6e1ae,#cceeb2,#eff8bf,#fef9bd,#fce69b,#fad379,#f7be5e,#f3a239,#ed871f,#ea7a14,#eb7e17,#ee8d26,#f3a33a,#f6ba58,#fad076,#fceba4,#f9fac0,#eef7be,#f1f9bf,#f8fac0,#fefabd,#fdeea9,#fbe294,#fbdd8b,#fce69b,#fef9bd,#ecf7bd,#cfefb3,#c8edb1,#d5f1b6,#eaf6bd,#f8fac0,#fefabe,#fdf4b3,#fdf3b2,#fef9bc,#fafac0,#f5f9c0,#eef8be,#e7f6bc,#e8f6bc,#f4f9c0,#f8fac0,#f7fac0,#f2f9c0,#ebf7bd,#e9f6bc,#e3f5bb,#dff3b9,#e7f6bc,#f8fac0,#fdefab,#fad882,#f9cc70,#f9ce73,#fad782,#fce497,#fceaa3,#fce69b,#fad47c,#f6b957,#f29e35,#ef9129,#f0952d,#f3a33a,#f5b451,#f8c466,#fad076,#fbd984,#fbdc8a)"></i>
<i style="height:1px;background:linear-gradient(90deg,#f19b33,#f5ae48,#f7be5e,#fad278,#fdf5b5,#c4ecb0,#5acaac,#12b3ae,#10adaf,#12b2ae,#2cbcad,#47c4ac,#53c8ac,#64cdac,#82d6ac,#a7e2ae,#cceeb2,#eff8bf,#fef9bd,#fce59a,#fad379,#f7bf5f,#f3a43b,#ed8921,#eb7d16,#ec811a,#ef9028,#f3a53d,#f7bb5a,#fad178,#fceba4,#f9fac0,#f0f8bf,#f3f9c0,#fafac0,#fef7b9,#fceba4,#fbdf8f,#fbda86,#fce396,#fdf6b7,#f3f9c0,#d8f1b7,#d3f0b5,#e1f4ba,#f4f9c0,#fcfbc0,#fdf3b2,#fdeda8,#fdeea9,#fdf4b4,#fdfbc0,#f7fac0,#f1f9bf,#e8f6bc,#e7f6bc,#f2f9c0,#f7fac0,#f5f9c0,#edf7be,#e7f6bc,#e7f5bc,#e3f4ba,#e1f4ba,#ebf7bd,#fafac0,#fceba3,#fad57d,#f9cb6f,#f9ce73,#fbd984,#fce69b,#fdeda8,#fce9a0,#fad680,#f7bb5b,#f3a239,#f0952d,#f19830,#f3a53d,#f6b653,#f8c568,#fad177,#fbd985,#fbdd8b)"></i>
<i style="height:1px;background:linear-gradient(90deg,#f29d34,#f5af4a,#f7c060,#fad37b,#fef7b8,#c1ebb0,#59c9ac,#12b4ae,#10aeaf,#12b3ae,#31bead,#4bc5ac,#58c9ac,#67ceac,#85d7ac,#a7e2ae,#cceeb2,#f0f8bf,#fef9bc,#fce59a,#fad37a,#f7c060,#f3a53d,#ee8b24,#eb8019,#ec841d,#f0932b,#f4a841,#f7bd5d,#fad279,#fceca5,#f9fac0,#f1f8bf,#f4f9c0,#fbfac0,#fdf4b4,#fce89e,#fbdc8a,#fad882,#fbe091,#fdf2b1,#f6fac0,#e2f4ba,#def3b9,#edf7be,#f9fac0,#fdf6b7,#fdeca6,#fce79d,#fce89f,#fdf0ac,#fef9bd,#f9fac0,#f4f9c0,#e9f6bd,#e6f5bb,#eff8be,#f5f9c0,#f3f9c0,#e8f6bc,#e3f5bb,#e4f5bb,#e3f4ba,#e2f4ba,#eff8bf,#fdfbc0,#fce69c,#fad279,#f9ca6e,#f9ce73,#fbda87,#fce8a0,#fdf0ad,#fceba5,#fbd984,#f7be5e,#f3a53d,#f19931,#f19c33,#f4a841,#f6b856,#f8c76a,#fad278,#fbda86,#fbdd8c)"></i>
<i style="height:1px;background:linear-gradient(90deg,#f29f36,#f5b14c,#f7c162,#fad57e,#fef9bc,#bfeab0,#58c9ac,#13b4ae,#11b0af,#13b5ae,#36bfad,#50c6ac,#5ccaac,#6bcfac,#87d7ac,#a8e2ae,#cceeb3,#f0f8bf,#fef8bb,#fce599,#fad37a,#f7c061,#f4a740,#ef8e27,#ec841d,#ed8821,#f0972f,#f4ab45,#f7c060,#fad47c,#fdeda7,#fafac0,#f2f9c0,#f5f9c0,#fcfbc0,#fdf2b0,#fce499,#fbd985,#fad67f,#fbde8d,#fdefab,#f9fac0,#ebf7bd,#e9f6bc,#f5f9c0,#fefbc0,#fdeeaa,#fce59a,#fbe192,#fce395,#fceba4,#fdf5b6,#fbfbc0,#f5f9c0,#ebf7bd,#e5f5bb,#ebf7bd,#f2f9c0,#edf7be,#e2f4ba,#dff3b9,#e2f4ba,#e2f4ba,#e4f5bb,#f3f9c0,#fef9bc,#fce295,#fad076,#f9ca6d,#f9cf74,#fbdc8a,#fceba4,#fdf3b2,#fdeeaa,#fbdc89,#f7c162,#f4a942,#f29e35,#f2a037,#f4ab45,#f6ba59,#f8c86c,#fad379,#fbda87,#fbdd8c)"></i>
<i style="height:1px;background:linear-gradient(90deg,#f2a038,#f5b24e,#f8c364,#fad781,#fefabf,#bde9af,#58c9ac,#13b5ae,#12b1ae,#19b7ae,#3bc1ad,#55c8ac,#61ccac,#70d0ac,#8ad8ac,#aae3ae,#cdeeb3,#f1f8bf,#fef8bb,#fce599,#fad37a,#f7c163,#f4a942,#ef922a,#ed8820,#ee8d25,#f19b33,#f5ae49,#f8c263,#fad680,#fdeea9,#f9fac0,#f3f9c0,#f5f9c0,#fdfbc0,#fdefab,#fbe193,#fad781,#fad47b,#fbdc8a,#fdeca6,#fcfbc0,#f3f9c0,#f3f9c0,#fafac0,#fdf3b3,#fce79d,#fbde8d,#fbda86,#fbdd8b,#fce69b,#fdf1ae,#fefbc0,#f7fac0,#edf7be,#e4f5bb,#e8f6bc,#edf7be,#e7f6bc,#dcf3b8,#daf2b7,#dff3b9,#e1f4ba,#e5f5bb,#f5f9c0,#fdf5b5,#fbdf8e,#f9ce74,#f9ca6d,#fad076,#fbde8e,#fdeea9,#fef7b8,#fdf1af,#fbdf8e,#f8c567,#f5ae48,#f3a239,#f3a43b,#f5ae49,#f7bd5c,#f9ca6e,#fad47b,#fbdb88,#fbde8d)"></i>
<i style="height:1px;background:linear-gradient(90deg,#f3a239,#f5b450,#f8c466,#fbd985,#fdfbc0,#bce9af,#59c9ac,#17b6ae,#12b3ae,#20b9ae,#42c3ad,#5bcaac,#67cdac,#75d2ac,#8dd9ac,#abe3ae,#ceeeb3,#f1f8bf,#fef8ba,#fce498,#fad47b,#f8c364,#f4ab45,#f0952d,#ee8c24,#ef9129,#f2a037,#f5b24e,#f8c567,#fbd984,#fdefab,#f9fac0,#f3f9c0,#f6fac0,#fefbc0,#fdeda7,#fbdf8e,#fad57d,#fad279,#fbda86,#fce9a1,#fefbbf,#f7fac0,#f7fac0,#fefabf,#fceca6,#fbe090,#fad781,#fad37b,#fad781,#fbe092,#fdeca6,#fef8ba,#f9fac0,#eff8be,#e4f5bb,#e5f5bb,#e7f6bc,#e1f4ba,#d7f1b6,#d6f1b6,#dcf2b8,#e0f4b9,#e6f5bc,#f6fac0,#fdf1ae,#fbdb88,#f9cd72,#f9ca6e,#fad177,#fbe092,#fdf1af,#fefabe,#fdf5b5,#fbe294,#f8c86b,#f5b24e,#f4a740,#f4a841,#f5b24d,#f7bf5f,#f9cb70,#fad57d,#fbdb89,#fbde8e)"></i>
<i style="height:1px;background:linear-gradient(90deg,#f3a43c,#f6b552,#f8c668,#fbdb88,#fcfbc0,#bae8af,#5acaac,#1cb7ae,#13b5ae,#28bbad,#49c5ac,#61ccac,#6ccfac,#7ad3ac,#91daac,#ace4ae,#ceefb3,#f2f9c0,#fef7ba,#fce498,#fad47c,#f8c466,#f5ae48,#f19931,#ef9129,#f0962e,#f3a43c,#f6b653,#f8c86b,#fbdb89,#fdf1ae,#f9fac0,#f4f9c0,#f6fac0,#fefbbf,#fceba4,#fbdc8a,#fad379,#fad177,#fbd884,#fce79d,#fef7b9,#fafac0,#fbfac0,#fdf3b3,#fce599,#fbd883,#fad076,#f9ce73,#fad178,#fbdb88,#fce89e,#fdf4b4,#fafac0,#f1f8bf,#e3f4ba,#e1f4ba,#e2f4ba,#daf2b7,#d1efb4,#d1efb4,#d9f2b7,#dff3b9,#e8f6bc,#f8fac0,#fdeda7,#fad781,#f9cc70,#f9ca6e,#fad279,#fce396,#fdf4b4,#fcfbc0,#fef8ba,#fce599,#f9cc70,#f6b755,#f4ac46,#f4ad47,#f6b552,#f7c263,#f9cd72,#fad67f,#fbdc8a,#fbdf8f)"></i>
<i style="height:1px;background:linear-gradient(90deg,#f3a63e,#f6b754,#f8c76a,#fbdd8b,#fbfbc0,#b9e8af,#5ccaac,#21b9ae,#1ab7ae,#30bdad,#50c7ac,#67cdac,#73d1ac,#7fd5ac,#94dbac,#aee4ae,#cfefb4,#f2f9c0,#fef7b9,#fce498,#fad57d,#f8c568,#f5b04c,#f29d34,#f0962d,#f19c33,#f4a942,#f6ba58,#f9cb70,#fbde8e,#fdf2b1,#f9fac0,#f4f9c0,#f7fac0,#fefabe,#fce9a0,#fbda86,#fad177,#fad076,#fad781,#fce498,#fdf3b2,#fdfbc0,#fefabe,#fdeda7,#fbde8d,#fad178,#f9ca6e,#f8c86c,#f9cc71,#fad67f,#fce396,#fdf0ad,#fcfbc0,#f3f9c0,#e2f4ba,#def3b9,#ddf3b8,#d4f0b5,#cbeeb2,#cceeb2,#d6f1b6,#def3b9,#e9f6bc,#fafac0,#fce9a1,#fad47b,#f9cb6f,#f9cb6f,#fad47c,#fce69a,#fef8ba,#fafac0,#fefbc0,#fce89f,#f9cf75,#f7bc5b,#f5b14d,#f5b14d,#f6b957,#f8c466,#f9cf75,#fad781,#fbdd8b,#fbe090)"></i>
<i style="height:1px;background:linear-gradient(90deg,#f4a841,#f6b856,#f8c86c,#fbde8e,#fafac0,#b9e8af,#5ecbac,#27bbad,#23b9ae,#39c0ad,#58c9ac,#6dcfac,#79d3ac,#85d7ac,#97dcac,#b0e5ae,#d1efb4,#f3f9c0,#fef7b9,#fce498,#fad57e,#f8c769,#f5b34f,#f3a138,#f19b32,#f3a138,#f5ae48,#f7be5e,#f9cf74,#fbe193,#fdf4b4,#f8fac0,#f4f9c0,#f7fac0,#fef9bc,#fce79d,#fad782,#f9d075,#f9cf75,#fad67f,#fce295,#fdf0ac,#fef8bb,#fdf4b4,#fce79c,#fad781,#f9cc70,#f8c567,#f8c365,#f8c76a,#fad177,#fbdf8e,#fdeca6,#fefbbf,#f4f9c0,#e2f4ba,#dbf2b8,#d7f1b6,#ceefb3,#c5ecb0,#c7edb1,#d2f0b5,#dcf3b8,#eaf6bd,#fbfac0,#fce69b,#fad177,#f9ca6e,#f9cc71,#fad780,#fce89f,#fefbc0,#f7fac0,#fcfbc0,#fceca5,#fad37b,#f7c162,#f6b754,#f6b653,#f7bc5c,#f8c76a,#fad177,#fbd883,#fbdd8c,#fbe091)"></i>
<i style="height:1px;background:linear-gradient(90deg,#f4aa43,#f6ba58,#f9ca6e,#fbe091,#fafac0,#b8e8af,#61ccac,#2dbdad,#2bbcad,#42c3ad,#5fcbac,#74d1ac,#7fd5ac,#8ad8ac,#9bdead,#b2e6ae,#d2f0b4,#f3f9c0,#fef6b8,#fce498,#fad67f,#f8c86b,#f6b653,#f3a53d,#f2a037,#f4a63f,#f5b34f,#f8c264,#fad279,#fce599,#fef6b8,#f7fac0,#f3f9c0,#f7fac0,#fef8bc,#fce69b,#fad67e,#f9ce74,#f9cf74,#fad57d,#fbe091,#fdeca6,#fdf3b3,#fdefab,#fbe192,#fad177,#f8c669,#f7bf5f,#f7be5e,#f8c364,#f9cd72,#fbda86,#fce89f,#fef8ba,#f5f9c0,#e2f4ba,#d8f1b6,#d2f0b4,#c8edb1,#beeaaf,#c2ebb0,#cfefb3,#dbf2b8,#eaf7bd,#fcfbc0,#fce295,#f9cf74,#f9c96d,#f9cd72,#fbd985,#fceba5,#fcfbc0,#f5f9c0,#f9fac0,#fdefac,#fbd883,#f8c669,#f7bc5b,#f6ba59,#f7c061,#f9ca6e,#fad379,#fbda86,#fbde8d,#fbe192)"></i>
<i style="height:1px;background:linear-gradient(90deg,#f4ac46,#f7bb5a,#f9cb70,#fce294,#f9fac0,#b7e7af,#64cdac,#34bfad,#35bfad,#4cc5ac,#67cdac,#7ad3ac,#86d7ac,#90daac,#9edfad,#b4e6af,#d3f0b5,#f4f9c0,#fdf6b7,#fce498,#fad680,#f9c96d,#f6b957,#f4aa43,#f3a53d,#f4ac46,#f6b856,#f8c76a,#fad780,#fce89f,#fef9bc,#f7fac0,#f3f9c0,#f7fac0,#fef8bb,#fce599,#fad47c,#f9cd73,#f9ce74,#fad47c,#fbde8e,#fce9a1,#fdefab,#fceaa2,#fbdb88,#f9cc70,#f7c161,#f6ba58,#f6b957,#f7be5e,#f8c96c,#fad57e,#fce498,#fdf5b5,#f6fac0,#e1f4ba,#d4f0b5,#cdeeb3,#c1ebb0,#b8e8af,#bde9af,#cceeb2,#daf2b7,#ebf7bd,#fefbc0,#fbdf8f,#f9cc71,#f9c96d,#f9cf74,#fbdc89,#fdefaa,#f9fac0,#f1f9bf,#f7fac0,#fdf3b2,#fbdd8b,#f9cb6f,#f7c162,#f7bf5f,#f8c466,#f9cc71,#fad57d,#fbdb88,#fbdf8f,#fbe193)"></i>
<i style="height:1px;background:linear-gradient(90deg,#f5ae49,#f7bd5c,#f9cd72,#fce498,#f8fac0,#b7e7af,#67cdac,#3bc1ad,#3ec1ad,#55c8ac,#6ed0ac,#81d5ac,#8cd9ac,#95dcac,#a1e0ad,#b7e7af,#d5f0b6,#f4f9c0,#fdf6b6,#fce498,#fad781,#f9cb6f,#f7bb5b,#f5ae48,#f4ab44,#f5b14d,#f7bd5d,#f9cb70,#fbdb88,#fceba5,#fefbc0,#f6fac0,#f3f9c0,#f6fac0,#fef8bb,#fce497,#fad37a,#f9cd72,#f9ce73,#fad37b,#fbdd8b,#fce69c,#fceba4,#fce599,#fad67e,#f8c76a,#f7bb5b,#f6b551,#f5b450,#f6b958,#f8c567,#fad178,#fbe092,#fdf2b0,#f7fac0,#e1f4ba,#d1efb4,#c7edb1,#bbe8af,#b2e6ae,#b8e8af,#c8edb1,#d8f1b7,#ecf7be,#fef9bd,#fbdc89,#f9ca6e,#f9c96c,#fad177,#fbdf8f,#fdf2b0,#f7fac0,#ebf7bd,#f5f9c0,#fef7b9,#fbe294,#fad076,#f8c669,#f8c365,#f8c76a,#f9cf75,#fad781,#fbdc8a,#fbe090,#fbe294)"></i>
<i style="height:1px;background:linear-gradient(90deg,#f5b14c,#f7bf5f,#f9cf74,#fce69b,#f7fac0,#b6e7af,#6aceac,#42c3ad,#47c4ac,#5ecbac,#75d2ac,#87d7ac,#92dbac,#9addad,#a5e1ad,#b9e8af,#d7f1b6,#f5f9c0,#fdf5b5,#fce498,#fad882,#f9cc71,#f7be5e,#f5b24e,#f5b04b,#f6b755,#f8c364,#fad076,#fbe090,#fdefab,#fcfbc0,#f5f9c0,#f2f9c0,#f6fac0,#fef8bb,#fce396,#fad279,#f9cc71,#f9ce73,#fad37a,#fbdb89,#fce497,#fce79e,#fbe091,#fad177,#f8c264,#f6b754,#f5b04b,#f5af4a,#f6b552,#f7c162,#f9ce73,#fbdd8b,#fdefab,#f8fac0,#e1f4ba,#ceefb3,#c2ebb0,#b4e6af,#ace3ae,#b3e6af,#c5ecb0,#d6f1b6,#edf7be,#fef7ba,#fbd984,#f8c86c,#f9c96d,#fad279,#fbe294,#fdf6b7,#f4f9c0,#e4f5bb,#f1f8bf,#fefbbf,#fce69c,#fad57e,#f9cb70,#f8c86b,#f9cb6f,#fad278,#fbd984,#fbdd8c,#fbe091,#fce395)"></i>
<i style="height:1px;background:linear-gradient(90deg,#f5b34f,#f7c061,#fad076,#fce89e,#f6f9c0,#b6e7af,#6dcfac,#49c5ac,#50c7ac,#66cdac,#7dd4ac,#8dd9ac,#97dcac,#9edfad,#a8e2ae,#bce9af,#d9f2b7,#f6f9c0,#fdf4b4,#fce498,#fbd883,#f9ce73,#f7c162,#f6b654,#f6b552,#f7bc5c,#f8c86b,#fad57d,#fce498,#fdf3b1,#fbfac0,#f4f9c0,#f0f8bf,#f6f9c0,#fef9bc,#fce396,#fad178,#f9cc71,#f9ce73,#fad37a,#fbda86,#fbe193,#fce497,#fbdc8a,#f9cd72,#f7be5e,#f5b24e,#f4ab45,#f4ab45,#f5b14d,#f7bd5d,#f9cb6f,#fbd985,#fdeca6,#f9fac0,#e1f4ba,#cbeeb2,#bde9af,#aee4ae,#a6e2ae,#aee4ae,#c1ebb0,#d5f1b6,#edf7be,#fdf6b7,#fad680,#f8c76a,#f9c96d,#fad57d,#fce59a,#fefabd,#eff8bf,#ddf3b8,#eaf7bd,#fcfbc0,#fceba4,#fbdb88,#fad077,#f9cc71,#f9ce74,#fad57d,#fbdb88,#fbdf8f,#fbe193,#fce397)"></i>
<i style="height:1px;background:linear-gradient(90deg,#f6b552,#f8c264,#fad279,#fceaa2,#f5f9c0,#b5e7af,#70d0ac,#50c7ac,#59c9ac,#6fd0ac,#83d6ac,#93dbac,#9cdead,#a3e0ad,#ace3ae,#bfeaaf,#dbf2b8,#f6fac0,#fdf4b3,#fce498,#fbd985,#f9cf75,#f8c466,#f6bb59,#f6ba59,#f7c263,#f9cd72,#fbda87,#fce9a0,#fef6b7,#f9fac0,#f3f9c0,#eff8be,#f5f9c0,#fef9bd,#fce396,#fad178,#f9cc71,#f9ce74,#fad37a,#fbd985,#fbdf8f,#fbe192,#fad883,#f9c96d,#f6ba59,#f5ae49,#f4a740,#f4a73f,#f5ae48,#f6ba58,#f8c86b,#fad680,#fceaa2,#fafac0,#e1f4ba,#c9edb1,#b7e7af,#a8e2ae,#a1e0ad,#a9e3ae,#beeaaf,#d3f0b5,#eef8be,#fdf4b4,#fad47c,#f8c668,#f9ca6e,#fad782,#fce9a0,#fcfbc0,#e8f6bc,#d6f1b6,#e4f5bb,#f9fac0,#fdf0ac,#fbe192,#fad67f,#fad077,#fad278,#fad882,#fbdd8c,#fbe091,#fce294,#fce498)"></i>
<i style="height:1px;background:linear-gradient(90deg,#f6b855,#f8c466,#fad47c,#fdeca6,#f3f9c0,#b4e6af,#73d1ac,#56c8ac,#61ccac,#77d2ac,#8ad8ac,#98ddac,#a0e0ad,#a7e2ae,#b0e5ae,#c2ebb0,#def3b9,#f7fac0,#fdf3b2,#fce498,#fbda86,#fad076,#f8c669,#f7bf5f,#f7bf60,#f8c76a,#fad279,#fbe090,#fdeda8,#fefabe,#f8fac0,#f1f8bf,#edf7be,#f5f9c0,#fefabe,#fce497,#fad278,#f9cd72,#f9cf74,#fad37a,#fbd883,#fbdd8c,#fbde8d,#fad47c,#f8c669,#f6b754,#f4aa44,#f3a33b,#f3a43b,#f4aa44,#f6b755,#f8c567,#fad37b,#fce89e,#fbfac0,#e0f4ba,#c6ecb0,#b2e6af,#a3e0ad,#9bdead,#a5e1ad,#bbe8af,#d2f0b4,#eef8be,#fdf2b1,#fad279,#f8c467,#f9ca6f,#fbda86,#fdeda7,#fafac0,#e1f4ba,#d0efb4,#def3b9,#f7fac0,#fdf4b4,#fce69c,#fbdb88,#fad57d,#fad57e,#fbda87,#fbdf8f,#fbe193,#fce396,#fce599)"></i>
<i style="height:1px;background:linear-gradient(90deg,#f6ba59,#f8c669,#fad780,#fdefaa,#f1f8bf,#b3e6af,#76d2ac,#5ccaac,#68ceac,#7ed5ac,#90daac,#9cdead,#a4e1ad,#abe3ae,#b3e6af,#c5ecb0,#e0f4ba,#f8fac0,#fdf2b1,#fce498,#fbda87,#fad278,#f9c96c,#f8c364,#f8c466,#f9cc71,#fad882,#fce599,#fdf2af,#fdfbc0,#f6fac0,#eef8be,#ebf7bd,#f4f9c0,#fefbc0,#fce599,#fad279,#f9cd73,#f9d075,#fad37a,#fad882,#fbdb89,#fbdb88,#fad178,#f8c365,#f5b450,#f4a740,#f2a037,#f2a037,#f4a840,#f6b451,#f8c364,#fad178,#fce69b,#fbfbc0,#e0f4b9,#c3ebb0,#aee4ae,#9ddead,#97dcac,#a1e0ad,#b7e7af,#d0efb4,#eff8bf,#fdf1af,#fad077,#f8c466,#f9cb70,#fbdd8b,#fdf1ae,#f7fac0,#daf2b7,#c9edb1,#d7f1b6,#f4f9c0,#fef9bc,#fceba5,#fbe091,#fbd985,#fbd984,#fbdd8c,#fbe193,#fce396,#fce497,#fce69a)"></i>
<i style="height:1px;background:linear-gradient(90deg,#f7bd5c,#f8c86c,#fbd985,#fdf1af,#eef7be,#b2e6ae,#78d3ac,#62ccac,#6fd0ac,#85d7ac,#95dcac,#9fdfad,#a8e2ae,#afe4ae,#b7e7af,#c8edb1,#e3f5bb,#f9fac0,#fdf1af,#fce498,#fbdb87,#fad37a,#f9cb70,#f8c669,#f8c96c,#fad177,#fbdd8b,#fceaa2,#fdf6b7,#fafac0,#f4f9c0,#ebf7bd,#e9f6bc,#f3f9c0,#fdfbc0,#fce69b,#fad37b,#f9cf74,#fad077,#fad47b,#fad781,#fbda86,#fbd984,#f9cf75,#f7c162,#f5b14d,#f3a43c,#f29d34,#f29d35,#f3a53d,#f5b24e,#f7c162,#fad075,#fce498,#fcfbc0,#e0f4b9,#c1ebb0,#a9e3ae,#98ddac,#92dbac,#9ddead,#b4e6af,#cfefb4,#f0f8bf,#fdf0ac,#f9cf75,#f8c365,#f9cc71,#fbe091,#fdf5b5,#f4f9c0,#d2f0b5,#c1ebb0,#d1efb4,#f0f8bf,#fdfbc0,#fdf0ad,#fce599,#fbdd8c,#fbdc8a,#fbe090,#fce396,#fce498,#fce599,#fce69c)"></i>
<i style="height:1px;background:linear-gradient(90deg,#f7bf60,#f9cb6f,#fbdc8a,#fdf4b4,#eaf6bd,#b1e5ae,#7ad3ac,#67cdac,#76d2ac,#8bd8ac,#98ddac,#a3e0ad,#abe3ae,#b2e6ae,#bae8af,#cbeeb2,#e7f6bc,#fafac0,#fdf0ad,#fce498,#fbdb88,#fad47b,#f9cd73,#f9ca6e,#f9cd72,#fad67f,#fce295,#fdeeaa,#fefabe,#f8fac0,#f2f9c0,#e8f6bc,#e6f5bc,#f0f8bf,#fcfbc0,#fce89f,#fad57e,#fad076,#fad278,#fad47c,#fad781,#fbd984,#fad680,#f9cd72,#f7bf5f,#f5af4a,#f3a239,#f19b32,#f19b33,#f3a33a,#f5b04c,#f7bf60,#f9ce74,#fce396,#fcfbc0,#e0f4b9,#bfeaaf,#a5e1ad,#94dbac,#8dd9ac,#99ddad,#b1e5ae,#ceeeb3,#f0f8bf,#fdefaa,#f9ce74,#f8c365,#f9ce73,#fce396,#fef9bd,#eef7be,#cbeeb2,#bae8af,#cbeeb2,#eaf6bd,#fafac0,#fdf4b5,#fce9a1,#fbe192,#fbdf8f,#fbe294,#fce599,#fce59a,#fce69b,#fce79d)"></i>
<i style="height:1px;background:linear-gradient(90deg,#f8c263,#f9cd72,#fbdf8f,#fef7b9,#e6f5bc,#afe4ae,#7bd4ac,#6bcfac,#7bd4ac,#90daac,#9cdead,#a5e1ad,#aee4ae,#b5e7af,#bde9af,#ceefb3,#eaf7bd,#fcfbc0,#fdefab,#fce497,#fbdb89,#fad57d,#f9cf75,#f9cd73,#fad178,#fbdb88,#fce79d,#fdf3b2,#fcfbc0,#f6fac0,#eef8be,#e5f5bb,#e4f5bb,#eef7be,#fbfac0,#fceaa3,#fad882,#fad278,#fad37a,#fad57e,#fad781,#fad882,#fad57d,#f9cb70,#f7bd5d,#f5ad48,#f2a037,#f19931,#f19a31,#f3a239,#f5af4a,#f7be5e,#f9cd72,#fbe294,#fdfbc0,#dff3b9,#bce9af,#a2e0ad,#8fdaac,#89d8ac,#96dcac,#afe4ae,#cdeeb3,#f1f8bf,#fdeea9,#f9ce73,#f8c365,#f9cf75,#fce69c,#fcfbc0,#e6f5bb,#c3ebb0,#b3e6af,#c4ecb0,#e3f5bb,#f7fac0,#fef8bb,#fdeda7,#fce498,#fbe294,#fce498,#fce69b,#fce69c,#fce79c,#fce89f)"></i>
<i style="height:1px;background:linear-gradient(90deg,#f8c567,#fad076,#fce294,#fefabe,#e2f4ba,#ade4ae,#7cd4ac,#6ed0ac,#80d5ac,#94dbac,#9edfad,#a7e2ae,#b0e5ae,#b8e7af,#c0eab0,#d2f0b4,#eef8be,#fdfbc0,#fdeea9,#fce497,#fbdc89,#fad67e,#fad178,#fad177,#fad57e,#fbdf90,#fceba4,#fef7b9,#fafac0,#f4f9c0,#eaf6bd,#e2f4ba,#e1f4ba,#eaf7bd,#f9fac0,#fdeda8,#fbdb87,#fad47c,#fad57d,#fad67f,#fad781,#fad781,#fad37b,#f9ca6e,#f7bc5b,#f4ac46,#f29f36,#f1982f,#f19930,#f3a138,#f5af4a,#f7be5e,#f9cd72,#fbe193,#fdfbc0,#dff3b9,#bae8af,#9edfad,#8bd8ac,#85d7ac,#93dbac,#ace4ae,#cceeb2,#f1f8bf,#fdeda7,#f9cd72,#f8c365,#fad077,#fceaa2,#f9fac0,#ddf3b9,#bbe8af,#abe3ae,#bde9af,#ddf3b8,#f5f9c0,#fdfbc0,#fdf0ad,#fce79d,#fce498,#fce69b,#fce89e,#fce89e,#fce89e,#fce9a0)"></i>
<i style="height:1px;background:linear-gradient(90deg,#f8c86b,#fad279,#fce59a,#fcfbc0,#ddf3b8,#aae3ae,#7dd4ac,#71d1ac,#83d6ac,#96dcac,#a0dfad,#a8e2ae,#b2e5ae,#bae8af,#c3ebb0,#d5f1b6,#f3f9c0,#fefabe,#fdeda7,#fce396,#fbdc89,#fad680,#fad37a,#fad37b,#fbd985,#fce397,#fdefab,#fefbbf,#f8fac0,#f1f9bf,#e6f5bc,#dff3b9,#def3b9,#e7f6bc,#f7fac0,#fdf0ad,#fbde8e,#fad781,#fad680,#fad781,#fad782,#fad780,#fad279,#f9c96d,#f6bb5a,#f4ac46,#f29f36,#f0972f,#f19830,#f3a138,#f5af49,#f7be5e,#f9cd72,#fbe193,#fdfbc0,#dff3b9,#b9e8af,#9bdead,#87d7ac,#82d6ac,#91daac,#aae3ae,#cbeeb2,#f2f9c0,#fdeca6,#f9cd72,#f8c466,#fad279,#fdeda8,#f6fac0,#d5f1b6,#b2e6ae,#a4e1ad,#b6e7af,#d7f1b6,#f2f9c0,#fcfbc0,#fdf2b1,#fce9a1,#fce69b,#fce79e,#fce9a0,#fce9a0,#fce9a0,#fceaa2)"></i>
<i style="height:1px;background:linear-gradient(90deg,#f9cb6f,#fad67f,#fce9a1,#fafac0,#d8f1b7,#a7e2ae,#7cd4ac,#73d1ac,#85d7ac,#97dcac,#a0e0ad,#a9e2ae,#b2e6af,#bce9af,#c6ecb0,#d9f2b7,#f5f9c0,#fef7ba,#fceba4,#fce396,#fbdc89,#fad780,#fad47d,#fad680,#fbdd8b,#fce79d,#fdf2b1,#fcfbc0,#f6f9c0,#edf7be,#e3f4ba,#dcf2b8,#dbf2b8,#e3f5bb,#f5f9c0,#fdf4b4,#fce395,#fbda87,#fbd984,#fbd883,#fad883,#fad680,#fad278,#f8c86c,#f6bb5a,#f4ac46,#f29f36,#f1982f,#f19930,#f3a139,#f5af4a,#f7be5e,#f9cd72,#fbe294,#fdfbc0,#def3b9,#b7e7af,#99ddac,#84d6ac,#80d5ac,#8edaac,#a8e2ae,#caedb2,#f2f9c0,#fceca5,#f9cd72,#f8c568,#fad47c,#fdf0ae,#f3f9c0,#cceeb2,#aae3ae,#9ddead,#afe5ae,#d1efb4,#edf7be,#fafac0,#fdf4b4,#fceba3,#fce79e,#fce9a0,#fceaa2,#fceaa2,#fceaa1,#fceba3)"></i>
<i style="height:1px;background:linear-gradient(90deg,#f9ce73,#fbda85,#fdeda7,#f8fac0,#d3f0b5,#a3e1ad,#7bd4ac,#73d1ac,#86d7ac,#98ddac,#a0e0ad,#a8e2ae,#b3e6af,#bde9af,#c9edb1,#ddf3b8,#f7fac0,#fdf5b5,#fce9a1,#fce295,#fbdc89,#fad781,#fad67f,#fbd984,#fbe090,#fceaa2,#fdf5b6,#fafac0,#f4f9c0,#e9f6bd,#dff3b9,#d8f1b7,#d7f1b6,#dff3b9,#f3f9c0,#fef9bc,#fce79e,#fbde8e,#fbdb88,#fbda86,#fbd984,#fad780,#fad178,#f8c86c,#f6bb5a,#f4ac47,#f2a037,#f19930,#f19a31,#f3a33a,#f5b04c,#f7c060,#f9ce74,#fce396,#fcfbc0,#ddf3b9,#b6e7af,#97dcac,#82d6ac,#7ed5ac,#8dd9ac,#a7e2ae,#c9edb1,#f3f9c0,#fceba5,#f9ce73,#f8c76a,#fad780,#fdf4b3,#ecf7be,#c3ebb0,#a1e0ad,#96dcac,#a9e2ae,#cbeeb2,#e9f6bc,#f9fac0,#fdf5b6,#fceca5,#fce89f,#fce9a1,#fceba4,#fceba4,#fceba3,#fceba5)"></i>
<i style="height:1px;background:linear-gradient(90deg,#fad177,#fbdd8c,#fdf1af,#f5f9c0,#cdeeb3,#9fdfad,#79d3ac,#73d1ac,#86d7ac,#97dcac,#9fdfad,#a7e2ae,#b2e5ae,#bde9af,#cbeeb2,#e1f4ba,#f9fac0,#fdf2af,#fce89e,#fbe294,#fbdb89,#fad780,#fad680,#fbdb87,#fbe294,#fceca5,#fef7b9,#f9fac0,#f2f9c0,#e6f5bb,#dcf3b8,#d5f1b6,#d4f0b5,#dbf2b8,#eef7be,#fcfbc0,#fdeda8,#fce396,#fbde8d,#fbdb89,#fbda85,#fad781,#fad278,#f8c86c,#f7bc5b,#f5ae48,#f3a239,#f19b32,#f19c33,#f3a53c,#f5b24f,#f7c263,#fad076,#fce498,#fcfbc0,#ddf3b8,#b5e6af,#96dcac,#81d5ac,#7dd4ac,#8cd9ac,#a6e1ad,#c9edb1,#f3f9c0,#fceba5,#f9cf75,#f8c96c,#fbd985,#fef7b9,#e4f5bb,#b9e8af,#98ddac,#8ed9ac,#a2e0ad,#c5ecb0,#e5f5bb,#f8fac0,#fdf6b6,#fceca6,#fce9a0,#fceaa2,#fceba5,#fceca5,#fceca5,#fdeca6)"></i>
<i style="height:1px;background:linear-gradient(90deg,#fad47c,#fbe294,#fdf6b7,#f1f8bf,#c7ecb1,#9addad,#75d2ac,#71d0ac,#83d6ac,#95dcac,#9ddead,#a5e1ad,#b0e5ae,#bde9af,#cdeeb3,#e5f5bb,#fbfac0,#fdeeaa,#fce69b,#fbe193,#fbdb88,#fad680,#fad781,#fbdc8a,#fce497,#fdeda7,#fef9bc,#f8fac0,#eff8bf,#e3f4ba,#d9f2b7,#d2f0b5,#d0efb4,#d7f1b6,#e7f6bc,#f8fac0,#fdf4b3,#fce89e,#fbe192,#fbdd8b,#fbdb87,#fad882,#fad279,#f9c96d,#f7bd5d,#f5b04b,#f3a43b,#f29e35,#f29f36,#f4a740,#f6b552,#f8c466,#fad37a,#fce79c,#fbfac0,#dcf2b8,#b4e6af,#95dcac,#80d5ac,#7ed4ac,#8cd9ac,#a5e1ad,#c9edb1,#f4f9c0,#fceba5,#fad077,#f9cb6f,#fbdc89,#fefbbf,#dcf2b8,#aee4ae,#8edaac,#86d7ac,#9cdead,#beeaaf,#e1f4ba,#f8fac0,#fdf5b5,#fceba5,#fce9a0,#fceaa2,#fceca6,#fdeda7,#fdeda7,#fdeda8)"></i>
<i style="height:1px;background:linear-gradient(90deg,#fad883,#fce69b,#fefabf,#e9f6bc,#bfeab0,#95dcac,#71d1ac,#6dcfac,#80d5ac,#91daac,#99ddad,#a2e0ad,#aee4ae,#bce9af,#ceefb3,#e9f6bd,#fdfbc0,#fceba4,#fce497,#fbe091,#fbda87,#fad67f,#fad781,#fbdd8b,#fce499,#fdeda8,#fef9bd,#f7fac0,#ecf7be,#e1f4ba,#d7f1b6,#cfefb4,#cceeb3,#d2f0b4,#e0f4b9,#f4f9c0,#fefbbf,#fdeda8,#fce497,#fbdf8e,#fbdc8a,#fbd984,#fad379,#f9ca6e,#f7bf5f,#f5b24e,#f4a740,#f3a138,#f3a33a,#f4ab45,#f6b957,#f8c86b,#fad680,#fce9a1,#fafac0,#dbf2b8,#b4e6af,#95dcac,#81d5ac,#7fd5ac,#8cd9ac,#a4e1ad,#c9edb1,#f4f9c0,#fceca5,#fad279,#f9cd73,#fbdf8e,#fcfbc0,#d4f0b5,#a3e1ad,#83d6ac,#7dd4ac,#95dcac,#b8e8af,#def3b9,#f9fac0,#fdf3b3,#fceaa3,#fce89e,#fceaa2,#fdeca6,#fdeda8,#fdeea9,#fdeeaa)"></i>
<i style="height:1px;background:linear-gradient(90deg,#fbdc8a,#fceba3,#fbfac0,#e0f4ba,#b7e7af,#8dd9ac,#6ccfac,#69ceac,#7ad3ac,#8bd8ac,#95dcac,#9ddfad,#aae3ae,#bbe8af,#d0efb4,#eef8be,#fef8bb,#fce79d,#fbe193,#fbdf90,#fbda86,#fad57d,#fad680,#fbdd8c,#fce599,#fdeda8,#fef9bc,#f7fac0,#ebf7bd,#dff3b9,#d5f0b5,#cceeb2,#c9edb1,#cdeeb3,#d8f1b7,#ebf7bd,#f9fac0,#fdf3b3,#fce79d,#fbe192,#fbdd8c,#fbda86,#fad47b,#f9cc70,#f7c162,#f6b653,#f4ab45,#f3a63e,#f4a740,#f5b04b,#f7bd5d,#f9cc71,#fbdb88,#fdeda7,#f9fac0,#daf2b7,#b3e6af,#95dcac,#83d6ac,#81d6ac,#8ed9ac,#a4e1ad,#c9edb1,#f4f9c0,#fdeca6,#fad57d,#fad077,#fbe294,#fafac0,#cbeeb2,#98ddac,#78d3ac,#76d2ac,#8ed9ac,#b3e6af,#dcf3b8,#f9fac0,#fdf1af,#fce89f,#fce69c,#fce9a1,#fdeca6,#fdeea9,#fdefab,#fdefab)"></i>
<i style="height:1px;background:linear-gradient(90deg,#fbe091,#fdf0ac,#f8fac0,#d7f1b6,#aee4ae,#85d7ac,#65cdac,#62ccac,#73d1ac,#83d6ac,#8dd9ac,#98ddac,#a5e1ad,#b8e8af,#d1efb4,#f2f9c0,#fdf4b4,#fce396,#fbdf8f,#fbde8e,#fbd984,#fad37a,#fad57e,#fbdd8b,#fce497,#fceca5,#fef8ba,#f7fac0,#eaf7bd,#def3b9,#d3f0b5,#c9edb1,#c4ecb0,#c7edb1,#d0efb4,#dff3b9,#f3f9c0,#fefabf,#fceba4,#fce395,#fbdf8f,#fbdb89,#fad57e,#f9ce73,#f8c466,#f6ba58,#f5b04c,#f4ab45,#f4ad47,#f6b552,#f8c364,#fad178,#fbe091,#fdf1af,#f7fac0,#d8f1b7,#b4e6af,#96dcac,#85d7ac,#85d7ac,#90daac,#a5e1ad,#caedb2,#f5f9c0,#fdeda8,#fad883,#fad47c,#fce599,#f8fac0,#c3ebb0,#8cd9ac,#6dcfac,#6ed0ac,#87d7ac,#ade4ae,#dbf2b8,#fbfac0,#fdeea8,#fce59a,#fce498,#fce89f,#fceca6,#fdefaa,#fdf0ad,#fdf0ad)"></i>
</div>
<div class="box"></div>
<!-- y axis -->
<div class="ln" style="left:86px;top:50px;width:1px;height:338px"></div>
<div class="ln" style="left:76px;top:50px;width:10px;height:1px"></div>
<div class="ln" style="left:76px;top:117px;width:10px;height:1px"></div>
<div class="ln" style="left:76px;top:185px;width:10px;height:1px"></div>
<div class="ln" style="left:76px;top:252px;width:10px;height:1px"></div>
<div class="ln" style="left:76px;top:320px;width:10px;height:1px"></div>
<div class="ln" style="left:76px;top:387px;width:10px;height:1px"></div>
<!-- x axis ticks -->
<div class="ln" style="left:86px;top:388px;width:1px;height:10px"></div>
<div class="ln" style="left:255px;top:388px;width:1px;height:10px"></div>
<div class="ln" style="left:424px;top:388px;width:1px;height:10px"></div>
<div class="ln" style="left:593px;top:388px;width:1px;height:10px"></div>
<!-- x labels -->
<div class="t" style="left:66px;width:40px;text-align:center;top:410px;font-size:16px">0</div>
<div class="t" style="left:235px;width:40px;text-align:center;top:410px;font-size:16px">50</div>
<div class="t" style="left:404px;width:40px;text-align:center;top:410px;font-size:16px">100</div>
<div class="t" style="left:573px;width:40px;text-align:center;top:410px;font-size:16px">150</div>
<div class="t" style="left:402px;width:40px;text-align:center;top:446px;font-size:16px">x</div>
<!-- y labels (rotated) -->
<div class="t yl" style="left:51px;top:407px;width:40px;text-align:center;font-size:16px">0</div>
<div class="t yl" style="left:51px;top:340px;width:40px;text-align:center;font-size:16px">20</div>
<div class="t yl" style="left:51px;top:272px;width:40px;text-align:center;font-size:16px">40</div>
<div class="t yl" style="left:51px;top:205px;width:40px;text-align:center;font-size:16px">60</div>
<div class="t yl" style="left:51px;top:137px;width:40px;text-align:center;font-size:16px">80</div>
<div class="t yl" style="left:51px;top:70px;width:40px;text-align:center;font-size:16px">100</div>
<div class="t yl" style="left:20px;top:240px;width:40px;text-align:center;font-size:16px">y</div>
<!-- colorbar -->
<div id="cb" style="background:linear-gradient(180deg,#a71b4b,#ae234a,#b42b49,#bb3449,#c13c46,#c7433d,#cd4b34,#d2532c,#d85a23,#de621a,#e36a11,#e8720b,#ea7912,#eb8019,#ed8720,#ef8f27,#f0962e,#f29d35,#f3a43c,#f4ab45,#f5b24e,#f6b957,#f7c060,#f8c76a,#f9cd73,#fad57d,#fbdd8b,#fce599,#fdeda8,#fdf5b6,#fcfbc0,#f7fac0,#f1f8bf,#e3f5bb,#d6f1b6,#c9edb1,#bbe9af,#ade4ae,#9fdfad,#90daac,#7ed5ac,#6ccfac,#5bcaac,#48c4ac,#35bfad,#23b9ae,#13b4ae,#11afaf,#0faaaf,#0da5b0,#0ba0b0,#0e98b2,#1290b4,#1787b4,#247eb0,#3275ac,#3e6ba9,#4761a6,#5156a2,#5b4c9f)"></div>
<div class="ln" style="left:786px;top:111px;width:9px;height:1px"></div>
<div class="ln" style="left:786px;top:170px;width:9px;height:1px"></div>
<div class="ln" style="left:786px;top:229px;width:9px;height:1px"></div>
<div class="ln" style="left:786px;top:289px;width:9px;height:1px"></div>
<div class="t" style="left:803px;top:106px;font-size:16px">2</div>
<div class="t" style="left:803px;top:166px;font-size:16px">1</div>
<div class="t" style="left:803px;top:225px;font-size:16px">0</div>
<div class="t" style="left:803px;top:284px;font-size:16px">-1</div>
<div class="t" style="left:770px;top:74px;font-size:15px">z(x,y)</div>
</body></html>
